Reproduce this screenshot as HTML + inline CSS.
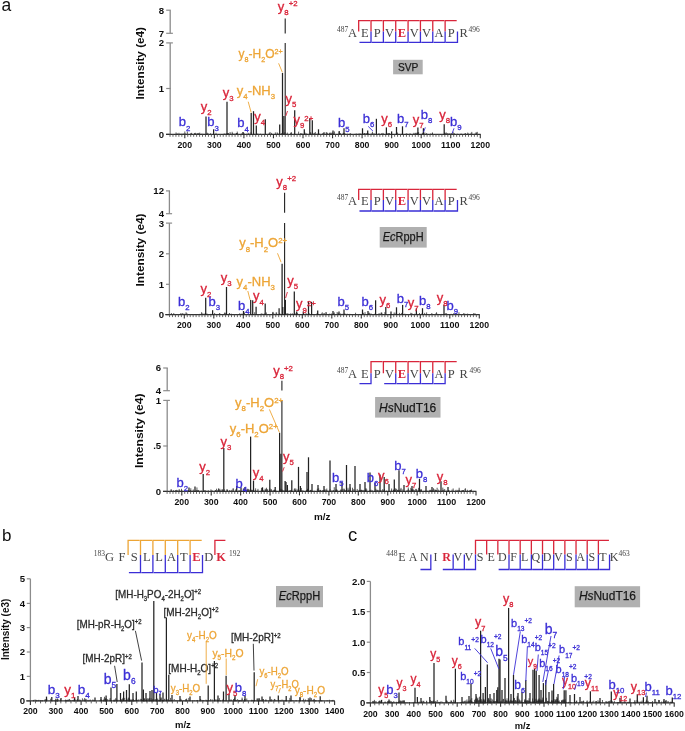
<!DOCTYPE html>
<html><head><meta charset="utf-8"><style>
html,body{margin:0;padding:0;background:#fff;}
svg{display:block;}
</style></head><body>
<svg width="685" height="731" viewBox="0 0 685 731">
<defs><filter id="bl" x="0" y="0" width="1" height="1"><feGaussianBlur stdDeviation="0.4"/></filter></defs>
<rect width="685" height="731" fill="#fff"/>
<g filter="url(#bl)">
<rect width="685" height="731" fill="#fff"/>
<text x="1.6" y="10.6" font-family='"Liberation Sans", sans-serif' font-size="17.5" fill="#111">a</text>
<text x="2" y="540.6" font-family='"Liberation Sans", sans-serif' font-size="17" fill="#111">b</text>
<text x="348" y="540.7" font-family='"Liberation Sans", sans-serif' font-size="18.5" fill="#111">c</text>
<line x1="170.2" y1="134.3" x2="170.2" y2="42.9" stroke="#8c8c8c" stroke-width="1.3"/>
<line x1="170.2" y1="33.3" x2="170.2" y2="10.2" stroke="#8c8c8c" stroke-width="1.3"/>
<line x1="166.2" y1="10.2" x2="170.8" y2="10.2" stroke="#8c8c8c" stroke-width="1.2"/>
<text x="164.2" y="13.6" font-family='"Liberation Sans", sans-serif' font-size="9.6" fill="#111" text-anchor="end" font-weight="bold">8</text>
<line x1="166.2" y1="33.3" x2="172.9" y2="33.3" stroke="#8c8c8c" stroke-width="1.2"/>
<text x="164.2" y="36.7" font-family='"Liberation Sans", sans-serif' font-size="9.6" fill="#111" text-anchor="end" font-weight="bold">7</text>
<line x1="166.2" y1="42.9" x2="172.9" y2="42.9" stroke="#8c8c8c" stroke-width="1.2"/>
<text x="164.2" y="46.3" font-family='"Liberation Sans", sans-serif' font-size="9.6" fill="#111" text-anchor="end" font-weight="bold">2</text>
<line x1="166.2" y1="88.5" x2="170.8" y2="88.5" stroke="#8c8c8c" stroke-width="1.2"/>
<text x="164.2" y="91.9" font-family='"Liberation Sans", sans-serif' font-size="9.6" fill="#111" text-anchor="end" font-weight="bold">1</text>
<line x1="166.2" y1="134.3" x2="170.8" y2="134.3" stroke="#8c8c8c" stroke-width="1.2"/>
<text x="164.2" y="137.7" font-family='"Liberation Sans", sans-serif' font-size="9.6" fill="#111" text-anchor="end" font-weight="bold">0</text>
<line x1="166" y1="134.3" x2="480.7" y2="134.3" stroke="#333333" stroke-width="1.3"/>
<line x1="170.03" y1="134.3" x2="170.03" y2="136.8" stroke="#555555" stroke-width="0.9"/>
<line x1="172.98" y1="134.3" x2="172.98" y2="136.8" stroke="#555555" stroke-width="0.9"/>
<line x1="175.94" y1="134.3" x2="175.94" y2="136.8" stroke="#555555" stroke-width="0.9"/>
<line x1="178.89" y1="134.3" x2="178.89" y2="136.8" stroke="#555555" stroke-width="0.9"/>
<line x1="181.84" y1="134.3" x2="181.84" y2="136.8" stroke="#555555" stroke-width="0.9"/>
<line x1="184.8" y1="134.3" x2="184.8" y2="138.3" stroke="#333333" stroke-width="1.1"/>
<line x1="187.76" y1="134.3" x2="187.76" y2="136.8" stroke="#555555" stroke-width="0.9"/>
<line x1="190.71" y1="134.3" x2="190.71" y2="136.8" stroke="#555555" stroke-width="0.9"/>
<line x1="193.67" y1="134.3" x2="193.67" y2="136.8" stroke="#555555" stroke-width="0.9"/>
<line x1="196.62" y1="134.3" x2="196.62" y2="136.8" stroke="#555555" stroke-width="0.9"/>
<line x1="199.58" y1="134.3" x2="199.58" y2="136.8" stroke="#555555" stroke-width="0.9"/>
<line x1="202.53" y1="134.3" x2="202.53" y2="136.8" stroke="#555555" stroke-width="0.9"/>
<line x1="205.49" y1="134.3" x2="205.49" y2="136.8" stroke="#555555" stroke-width="0.9"/>
<line x1="208.44" y1="134.3" x2="208.44" y2="136.8" stroke="#555555" stroke-width="0.9"/>
<line x1="211.4" y1="134.3" x2="211.4" y2="136.8" stroke="#555555" stroke-width="0.9"/>
<line x1="214.35" y1="134.3" x2="214.35" y2="138.3" stroke="#333333" stroke-width="1.1"/>
<line x1="217.31" y1="134.3" x2="217.31" y2="136.8" stroke="#555555" stroke-width="0.9"/>
<line x1="220.26" y1="134.3" x2="220.26" y2="136.8" stroke="#555555" stroke-width="0.9"/>
<line x1="223.22" y1="134.3" x2="223.22" y2="136.8" stroke="#555555" stroke-width="0.9"/>
<line x1="226.17" y1="134.3" x2="226.17" y2="136.8" stroke="#555555" stroke-width="0.9"/>
<line x1="229.12" y1="134.3" x2="229.12" y2="136.8" stroke="#555555" stroke-width="0.9"/>
<line x1="232.08" y1="134.3" x2="232.08" y2="136.8" stroke="#555555" stroke-width="0.9"/>
<line x1="235.04" y1="134.3" x2="235.04" y2="136.8" stroke="#555555" stroke-width="0.9"/>
<line x1="237.99" y1="134.3" x2="237.99" y2="136.8" stroke="#555555" stroke-width="0.9"/>
<line x1="240.94" y1="134.3" x2="240.94" y2="136.8" stroke="#555555" stroke-width="0.9"/>
<line x1="243.9" y1="134.3" x2="243.9" y2="138.3" stroke="#333333" stroke-width="1.1"/>
<line x1="246.86" y1="134.3" x2="246.86" y2="136.8" stroke="#555555" stroke-width="0.9"/>
<line x1="249.81" y1="134.3" x2="249.81" y2="136.8" stroke="#555555" stroke-width="0.9"/>
<line x1="252.77" y1="134.3" x2="252.77" y2="136.8" stroke="#555555" stroke-width="0.9"/>
<line x1="255.72" y1="134.3" x2="255.72" y2="136.8" stroke="#555555" stroke-width="0.9"/>
<line x1="258.68" y1="134.3" x2="258.68" y2="136.8" stroke="#555555" stroke-width="0.9"/>
<line x1="261.63" y1="134.3" x2="261.63" y2="136.8" stroke="#555555" stroke-width="0.9"/>
<line x1="264.59" y1="134.3" x2="264.59" y2="136.8" stroke="#555555" stroke-width="0.9"/>
<line x1="267.54" y1="134.3" x2="267.54" y2="136.8" stroke="#555555" stroke-width="0.9"/>
<line x1="270.5" y1="134.3" x2="270.5" y2="136.8" stroke="#555555" stroke-width="0.9"/>
<line x1="273.45" y1="134.3" x2="273.45" y2="138.3" stroke="#333333" stroke-width="1.1"/>
<line x1="276.4" y1="134.3" x2="276.4" y2="136.8" stroke="#555555" stroke-width="0.9"/>
<line x1="279.36" y1="134.3" x2="279.36" y2="136.8" stroke="#555555" stroke-width="0.9"/>
<line x1="282.31" y1="134.3" x2="282.31" y2="136.8" stroke="#555555" stroke-width="0.9"/>
<line x1="285.27" y1="134.3" x2="285.27" y2="136.8" stroke="#555555" stroke-width="0.9"/>
<line x1="288.23" y1="134.3" x2="288.23" y2="136.8" stroke="#555555" stroke-width="0.9"/>
<line x1="291.18" y1="134.3" x2="291.18" y2="136.8" stroke="#555555" stroke-width="0.9"/>
<line x1="294.13" y1="134.3" x2="294.13" y2="136.8" stroke="#555555" stroke-width="0.9"/>
<line x1="297.09" y1="134.3" x2="297.09" y2="136.8" stroke="#555555" stroke-width="0.9"/>
<line x1="300.05" y1="134.3" x2="300.05" y2="136.8" stroke="#555555" stroke-width="0.9"/>
<line x1="303" y1="134.3" x2="303" y2="138.3" stroke="#333333" stroke-width="1.1"/>
<line x1="305.95" y1="134.3" x2="305.95" y2="136.8" stroke="#555555" stroke-width="0.9"/>
<line x1="308.91" y1="134.3" x2="308.91" y2="136.8" stroke="#555555" stroke-width="0.9"/>
<line x1="311.87" y1="134.3" x2="311.87" y2="136.8" stroke="#555555" stroke-width="0.9"/>
<line x1="314.82" y1="134.3" x2="314.82" y2="136.8" stroke="#555555" stroke-width="0.9"/>
<line x1="317.77" y1="134.3" x2="317.77" y2="136.8" stroke="#555555" stroke-width="0.9"/>
<line x1="320.73" y1="134.3" x2="320.73" y2="136.8" stroke="#555555" stroke-width="0.9"/>
<line x1="323.69" y1="134.3" x2="323.69" y2="136.8" stroke="#555555" stroke-width="0.9"/>
<line x1="326.64" y1="134.3" x2="326.64" y2="136.8" stroke="#555555" stroke-width="0.9"/>
<line x1="329.6" y1="134.3" x2="329.6" y2="136.8" stroke="#555555" stroke-width="0.9"/>
<line x1="332.55" y1="134.3" x2="332.55" y2="138.3" stroke="#333333" stroke-width="1.1"/>
<line x1="335.5" y1="134.3" x2="335.5" y2="136.8" stroke="#555555" stroke-width="0.9"/>
<line x1="338.46" y1="134.3" x2="338.46" y2="136.8" stroke="#555555" stroke-width="0.9"/>
<line x1="341.41" y1="134.3" x2="341.41" y2="136.8" stroke="#555555" stroke-width="0.9"/>
<line x1="344.37" y1="134.3" x2="344.37" y2="136.8" stroke="#555555" stroke-width="0.9"/>
<line x1="347.33" y1="134.3" x2="347.33" y2="136.8" stroke="#555555" stroke-width="0.9"/>
<line x1="350.28" y1="134.3" x2="350.28" y2="136.8" stroke="#555555" stroke-width="0.9"/>
<line x1="353.24" y1="134.3" x2="353.24" y2="136.8" stroke="#555555" stroke-width="0.9"/>
<line x1="356.19" y1="134.3" x2="356.19" y2="136.8" stroke="#555555" stroke-width="0.9"/>
<line x1="359.14" y1="134.3" x2="359.14" y2="136.8" stroke="#555555" stroke-width="0.9"/>
<line x1="362.1" y1="134.3" x2="362.1" y2="138.3" stroke="#333333" stroke-width="1.1"/>
<line x1="365.06" y1="134.3" x2="365.06" y2="136.8" stroke="#555555" stroke-width="0.9"/>
<line x1="368.01" y1="134.3" x2="368.01" y2="136.8" stroke="#555555" stroke-width="0.9"/>
<line x1="370.97" y1="134.3" x2="370.97" y2="136.8" stroke="#555555" stroke-width="0.9"/>
<line x1="373.92" y1="134.3" x2="373.92" y2="136.8" stroke="#555555" stroke-width="0.9"/>
<line x1="376.88" y1="134.3" x2="376.88" y2="136.8" stroke="#555555" stroke-width="0.9"/>
<line x1="379.83" y1="134.3" x2="379.83" y2="136.8" stroke="#555555" stroke-width="0.9"/>
<line x1="382.78" y1="134.3" x2="382.78" y2="136.8" stroke="#555555" stroke-width="0.9"/>
<line x1="385.74" y1="134.3" x2="385.74" y2="136.8" stroke="#555555" stroke-width="0.9"/>
<line x1="388.69" y1="134.3" x2="388.69" y2="136.8" stroke="#555555" stroke-width="0.9"/>
<line x1="391.65" y1="134.3" x2="391.65" y2="138.3" stroke="#333333" stroke-width="1.1"/>
<line x1="394.61" y1="134.3" x2="394.61" y2="136.8" stroke="#555555" stroke-width="0.9"/>
<line x1="397.56" y1="134.3" x2="397.56" y2="136.8" stroke="#555555" stroke-width="0.9"/>
<line x1="400.51" y1="134.3" x2="400.51" y2="136.8" stroke="#555555" stroke-width="0.9"/>
<line x1="403.47" y1="134.3" x2="403.47" y2="136.8" stroke="#555555" stroke-width="0.9"/>
<line x1="406.43" y1="134.3" x2="406.43" y2="136.8" stroke="#555555" stroke-width="0.9"/>
<line x1="409.38" y1="134.3" x2="409.38" y2="136.8" stroke="#555555" stroke-width="0.9"/>
<line x1="412.34" y1="134.3" x2="412.34" y2="136.8" stroke="#555555" stroke-width="0.9"/>
<line x1="415.29" y1="134.3" x2="415.29" y2="136.8" stroke="#555555" stroke-width="0.9"/>
<line x1="418.25" y1="134.3" x2="418.25" y2="136.8" stroke="#555555" stroke-width="0.9"/>
<line x1="421.2" y1="134.3" x2="421.2" y2="138.3" stroke="#333333" stroke-width="1.1"/>
<line x1="424.15" y1="134.3" x2="424.15" y2="136.8" stroke="#555555" stroke-width="0.9"/>
<line x1="427.11" y1="134.3" x2="427.11" y2="136.8" stroke="#555555" stroke-width="0.9"/>
<line x1="430.06" y1="134.3" x2="430.06" y2="136.8" stroke="#555555" stroke-width="0.9"/>
<line x1="433.02" y1="134.3" x2="433.02" y2="136.8" stroke="#555555" stroke-width="0.9"/>
<line x1="435.98" y1="134.3" x2="435.98" y2="136.8" stroke="#555555" stroke-width="0.9"/>
<line x1="438.93" y1="134.3" x2="438.93" y2="136.8" stroke="#555555" stroke-width="0.9"/>
<line x1="441.88" y1="134.3" x2="441.88" y2="136.8" stroke="#555555" stroke-width="0.9"/>
<line x1="444.84" y1="134.3" x2="444.84" y2="136.8" stroke="#555555" stroke-width="0.9"/>
<line x1="447.8" y1="134.3" x2="447.8" y2="136.8" stroke="#555555" stroke-width="0.9"/>
<line x1="450.75" y1="134.3" x2="450.75" y2="138.3" stroke="#333333" stroke-width="1.1"/>
<line x1="453.7" y1="134.3" x2="453.7" y2="136.8" stroke="#555555" stroke-width="0.9"/>
<line x1="456.66" y1="134.3" x2="456.66" y2="136.8" stroke="#555555" stroke-width="0.9"/>
<line x1="459.62" y1="134.3" x2="459.62" y2="136.8" stroke="#555555" stroke-width="0.9"/>
<line x1="462.57" y1="134.3" x2="462.57" y2="136.8" stroke="#555555" stroke-width="0.9"/>
<line x1="465.52" y1="134.3" x2="465.52" y2="136.8" stroke="#555555" stroke-width="0.9"/>
<line x1="468.48" y1="134.3" x2="468.48" y2="136.8" stroke="#555555" stroke-width="0.9"/>
<line x1="471.44" y1="134.3" x2="471.44" y2="136.8" stroke="#555555" stroke-width="0.9"/>
<line x1="474.39" y1="134.3" x2="474.39" y2="136.8" stroke="#555555" stroke-width="0.9"/>
<line x1="477.34" y1="134.3" x2="477.34" y2="136.8" stroke="#555555" stroke-width="0.9"/>
<line x1="480.3" y1="134.3" x2="480.3" y2="138.3" stroke="#333333" stroke-width="1.1"/>
<text x="184.8" y="147.9" font-family='"Liberation Sans", sans-serif' font-size="9.3" fill="#111" text-anchor="middle" font-weight="bold" textLength="14.55" lengthAdjust="spacingAndGlyphs">200</text>
<text x="214.35" y="147.9" font-family='"Liberation Sans", sans-serif' font-size="9.3" fill="#111" text-anchor="middle" font-weight="bold" textLength="14.55" lengthAdjust="spacingAndGlyphs">300</text>
<text x="243.9" y="147.9" font-family='"Liberation Sans", sans-serif' font-size="9.3" fill="#111" text-anchor="middle" font-weight="bold" textLength="14.55" lengthAdjust="spacingAndGlyphs">400</text>
<text x="273.45" y="147.9" font-family='"Liberation Sans", sans-serif' font-size="9.3" fill="#111" text-anchor="middle" font-weight="bold" textLength="14.55" lengthAdjust="spacingAndGlyphs">500</text>
<text x="303" y="147.9" font-family='"Liberation Sans", sans-serif' font-size="9.3" fill="#111" text-anchor="middle" font-weight="bold" textLength="14.55" lengthAdjust="spacingAndGlyphs">600</text>
<text x="332.55" y="147.9" font-family='"Liberation Sans", sans-serif' font-size="9.3" fill="#111" text-anchor="middle" font-weight="bold" textLength="14.55" lengthAdjust="spacingAndGlyphs">700</text>
<text x="362.1" y="147.9" font-family='"Liberation Sans", sans-serif' font-size="9.3" fill="#111" text-anchor="middle" font-weight="bold" textLength="14.55" lengthAdjust="spacingAndGlyphs">800</text>
<text x="391.65" y="147.9" font-family='"Liberation Sans", sans-serif' font-size="9.3" fill="#111" text-anchor="middle" font-weight="bold" textLength="14.55" lengthAdjust="spacingAndGlyphs">900</text>
<text x="421.2" y="147.9" font-family='"Liberation Sans", sans-serif' font-size="9.3" fill="#111" text-anchor="middle" font-weight="bold" textLength="19.4" lengthAdjust="spacingAndGlyphs">1000</text>
<text x="450.75" y="147.9" font-family='"Liberation Sans", sans-serif' font-size="9.3" fill="#111" text-anchor="middle" font-weight="bold" textLength="19.4" lengthAdjust="spacingAndGlyphs">1100</text>
<text x="480.3" y="147.9" font-family='"Liberation Sans", sans-serif' font-size="9.3" fill="#111" text-anchor="middle" font-weight="bold" textLength="19.4" lengthAdjust="spacingAndGlyphs">1200</text>
<text x="0" y="0" transform="translate(143.6,63.2) rotate(-90)" font-family='"Liberation Sans", sans-serif' font-size="11.5" font-weight="bold" fill="#111" text-anchor="middle" textLength="72.4" lengthAdjust="spacingAndGlyphs">Intensity (e4)</text>
<line x1="310.43" y1="134.6" x2="310.43" y2="132.53" stroke="#333" stroke-width="0.8"/>
<line x1="314.49" y1="134.6" x2="314.49" y2="133.28" stroke="#333" stroke-width="0.8"/>
<line x1="228.51" y1="134.6" x2="228.51" y2="133.2" stroke="#333" stroke-width="0.8"/>
<line x1="414.65" y1="134.6" x2="414.65" y2="134.02" stroke="#333" stroke-width="0.8"/>
<line x1="199.75" y1="134.6" x2="199.75" y2="132.62" stroke="#333" stroke-width="0.8"/>
<line x1="184.82" y1="134.6" x2="184.82" y2="131.47" stroke="#333" stroke-width="0.8"/>
<line x1="372.1" y1="134.6" x2="372.1" y2="133.78" stroke="#333" stroke-width="0.8"/>
<line x1="176.59" y1="134.6" x2="176.59" y2="133.9" stroke="#333" stroke-width="0.8"/>
<line x1="230.2" y1="134.6" x2="230.2" y2="134.06" stroke="#333" stroke-width="0.8"/>
<line x1="313.96" y1="134.6" x2="313.96" y2="132.94" stroke="#333" stroke-width="0.8"/>
<line x1="330.85" y1="134.6" x2="330.85" y2="133.27" stroke="#333" stroke-width="0.8"/>
<line x1="374.71" y1="134.6" x2="374.71" y2="133.76" stroke="#333" stroke-width="0.8"/>
<line x1="477.28" y1="134.6" x2="477.28" y2="131.86" stroke="#333" stroke-width="0.8"/>
<line x1="388.59" y1="134.6" x2="388.59" y2="133.91" stroke="#333" stroke-width="0.8"/>
<line x1="260.45" y1="134.6" x2="260.45" y2="133.73" stroke="#333" stroke-width="0.8"/>
<line x1="294.52" y1="134.6" x2="294.52" y2="133.27" stroke="#333" stroke-width="0.8"/>
<line x1="465.16" y1="134.6" x2="465.16" y2="133.77" stroke="#333" stroke-width="0.8"/>
<line x1="236.17" y1="134.6" x2="236.17" y2="133.03" stroke="#333" stroke-width="0.8"/>
<line x1="471.99" y1="134.6" x2="471.99" y2="133.96" stroke="#333" stroke-width="0.8"/>
<line x1="364.61" y1="134.6" x2="364.61" y2="133.53" stroke="#333" stroke-width="0.8"/>
<line x1="198.67" y1="134.6" x2="198.67" y2="132.96" stroke="#333" stroke-width="0.8"/>
<line x1="403.96" y1="134.6" x2="403.96" y2="134.04" stroke="#333" stroke-width="0.8"/>
<line x1="202.92" y1="134.6" x2="202.92" y2="133.73" stroke="#333" stroke-width="0.8"/>
<line x1="226.37" y1="134.6" x2="226.37" y2="133.45" stroke="#333" stroke-width="0.8"/>
<line x1="230.35" y1="134.6" x2="230.35" y2="133.74" stroke="#333" stroke-width="0.8"/>
<line x1="368.98" y1="134.6" x2="368.98" y2="133.93" stroke="#333" stroke-width="0.8"/>
<line x1="237.14" y1="134.6" x2="237.14" y2="133.1" stroke="#333" stroke-width="0.8"/>
<line x1="417.84" y1="134.6" x2="417.84" y2="133.15" stroke="#333" stroke-width="0.8"/>
<line x1="236.48" y1="134.6" x2="236.48" y2="133.01" stroke="#333" stroke-width="0.8"/>
<line x1="368.4" y1="134.6" x2="368.4" y2="133.47" stroke="#333" stroke-width="0.8"/>
<line x1="237.25" y1="134.6" x2="237.25" y2="133.39" stroke="#333" stroke-width="0.8"/>
<line x1="272.66" y1="134.6" x2="272.66" y2="134.02" stroke="#333" stroke-width="0.8"/>
<line x1="199.58" y1="134.6" x2="199.58" y2="133.71" stroke="#333" stroke-width="0.8"/>
<line x1="355.99" y1="134.6" x2="355.99" y2="133.64" stroke="#333" stroke-width="0.8"/>
<line x1="465.5" y1="134.6" x2="465.5" y2="133.33" stroke="#333" stroke-width="0.8"/>
<line x1="437.16" y1="134.6" x2="437.16" y2="134.04" stroke="#333" stroke-width="0.8"/>
<line x1="449.98" y1="134.6" x2="449.98" y2="133.53" stroke="#333" stroke-width="0.8"/>
<line x1="230.08" y1="134.6" x2="230.08" y2="132.09" stroke="#333" stroke-width="0.8"/>
<line x1="232.16" y1="134.6" x2="232.16" y2="131.81" stroke="#333" stroke-width="0.8"/>
<line x1="356.68" y1="134.6" x2="356.68" y2="133.93" stroke="#333" stroke-width="0.8"/>
<line x1="183.84" y1="134.6" x2="183.84" y2="133.45" stroke="#333" stroke-width="0.8"/>
<line x1="387.6" y1="134.6" x2="387.6" y2="133.33" stroke="#333" stroke-width="0.8"/>
<line x1="354.52" y1="134.6" x2="354.52" y2="133.96" stroke="#333" stroke-width="0.8"/>
<line x1="392.43" y1="134.6" x2="392.43" y2="134.08" stroke="#333" stroke-width="0.8"/>
<line x1="343.17" y1="134.6" x2="343.17" y2="132.75" stroke="#333" stroke-width="0.8"/>
<line x1="257.75" y1="134.6" x2="257.75" y2="133.53" stroke="#333" stroke-width="0.8"/>
<line x1="177.07" y1="134.6" x2="177.07" y2="133.75" stroke="#333" stroke-width="0.8"/>
<line x1="190.5" y1="134.6" x2="190.5" y2="133.91" stroke="#333" stroke-width="0.8"/>
<line x1="347.08" y1="134.6" x2="347.08" y2="133.96" stroke="#333" stroke-width="0.8"/>
<line x1="444.63" y1="134.6" x2="444.63" y2="132.45" stroke="#333" stroke-width="0.8"/>
<line x1="383.51" y1="134.6" x2="383.51" y2="133.82" stroke="#333" stroke-width="0.8"/>
<line x1="182.73" y1="134.6" x2="182.73" y2="133.72" stroke="#333" stroke-width="0.8"/>
<line x1="386.5" y1="134.6" x2="386.5" y2="133.71" stroke="#333" stroke-width="0.8"/>
<line x1="366.67" y1="134.6" x2="366.67" y2="133.07" stroke="#333" stroke-width="0.8"/>
<line x1="269.58" y1="134.6" x2="269.58" y2="133.65" stroke="#333" stroke-width="0.8"/>
<line x1="339.11" y1="134.6" x2="339.11" y2="132.21" stroke="#333" stroke-width="0.8"/>
<line x1="397.55" y1="134.6" x2="397.55" y2="132.55" stroke="#333" stroke-width="0.8"/>
<line x1="451.99" y1="134.6" x2="451.99" y2="133.36" stroke="#333" stroke-width="0.8"/>
<line x1="447.66" y1="134.6" x2="447.66" y2="133.18" stroke="#333" stroke-width="0.8"/>
<line x1="413.9" y1="134.6" x2="413.9" y2="132.84" stroke="#333" stroke-width="0.8"/>
<line x1="363.24" y1="134.6" x2="363.24" y2="133.46" stroke="#333" stroke-width="0.8"/>
<line x1="358.31" y1="134.6" x2="358.31" y2="133.82" stroke="#333" stroke-width="0.8"/>
<line x1="475.96" y1="134.6" x2="475.96" y2="132.41" stroke="#333" stroke-width="0.8"/>
<line x1="290.86" y1="134.6" x2="290.86" y2="132.99" stroke="#333" stroke-width="0.8"/>
<line x1="306.8" y1="134.6" x2="306.8" y2="133.73" stroke="#333" stroke-width="0.8"/>
<line x1="401.56" y1="134.6" x2="401.56" y2="133.92" stroke="#333" stroke-width="0.8"/>
<line x1="319.17" y1="134.6" x2="319.17" y2="133.53" stroke="#333" stroke-width="0.8"/>
<line x1="324.16" y1="134.6" x2="324.16" y2="132.42" stroke="#333" stroke-width="0.8"/>
<line x1="250.28" y1="134.6" x2="250.28" y2="134.09" stroke="#333" stroke-width="0.8"/>
<line x1="379.51" y1="134.6" x2="379.51" y2="134.02" stroke="#333" stroke-width="0.8"/>
<line x1="449.15" y1="134.6" x2="449.15" y2="133.35" stroke="#333" stroke-width="0.8"/>
<line x1="444.87" y1="134.6" x2="444.87" y2="133.42" stroke="#333" stroke-width="0.8"/>
<line x1="232.74" y1="134.6" x2="232.74" y2="133.03" stroke="#333" stroke-width="0.8"/>
<line x1="451.75" y1="134.6" x2="451.75" y2="133.24" stroke="#333" stroke-width="0.8"/>
<line x1="350.43" y1="134.6" x2="350.43" y2="133.97" stroke="#333" stroke-width="0.8"/>
<line x1="323.92" y1="134.6" x2="323.92" y2="132.15" stroke="#333" stroke-width="0.8"/>
<line x1="389.63" y1="134.6" x2="389.63" y2="133.39" stroke="#333" stroke-width="0.8"/>
<line x1="223.75" y1="134.6" x2="223.75" y2="133.77" stroke="#333" stroke-width="0.8"/>
<line x1="237.51" y1="134.6" x2="237.51" y2="133.35" stroke="#333" stroke-width="0.8"/>
<line x1="323.13" y1="134.6" x2="323.13" y2="133.19" stroke="#333" stroke-width="0.8"/>
<line x1="472.5" y1="134.6" x2="472.5" y2="133.94" stroke="#333" stroke-width="0.8"/>
<line x1="181.63" y1="134.6" x2="181.63" y2="133.74" stroke="#333" stroke-width="0.8"/>
<line x1="388.84" y1="134.6" x2="388.84" y2="133.64" stroke="#333" stroke-width="0.8"/>
<line x1="414.2" y1="134.6" x2="414.2" y2="134.14" stroke="#333" stroke-width="0.8"/>
<line x1="311.18" y1="134.6" x2="311.18" y2="133.77" stroke="#333" stroke-width="0.8"/>
<line x1="244.65" y1="134.6" x2="244.65" y2="134.1" stroke="#333" stroke-width="0.8"/>
<line x1="364.53" y1="134.6" x2="364.53" y2="133.3" stroke="#333" stroke-width="0.8"/>
<line x1="372.44" y1="134.6" x2="372.44" y2="131.89" stroke="#333" stroke-width="0.8"/>
<line x1="381.45" y1="134.6" x2="381.45" y2="133.8" stroke="#333" stroke-width="0.8"/>
<line x1="226.68" y1="134.6" x2="226.68" y2="134.01" stroke="#333" stroke-width="0.8"/>
<line x1="390.54" y1="134.6" x2="390.54" y2="133.98" stroke="#333" stroke-width="0.8"/>
<line x1="277.8" y1="134.6" x2="277.8" y2="133.16" stroke="#333" stroke-width="0.8"/>
<line x1="360.02" y1="134.6" x2="360.02" y2="133.34" stroke="#333" stroke-width="0.8"/>
<line x1="414.33" y1="134.6" x2="414.33" y2="133.69" stroke="#333" stroke-width="0.8"/>
<line x1="457.38" y1="134.6" x2="457.38" y2="133.75" stroke="#333" stroke-width="0.8"/>
<line x1="310.78" y1="134.6" x2="310.78" y2="132.42" stroke="#333" stroke-width="0.8"/>
<line x1="287.3" y1="134.6" x2="287.3" y2="132.61" stroke="#333" stroke-width="0.8"/>
<line x1="415.81" y1="134.6" x2="415.81" y2="133" stroke="#333" stroke-width="0.8"/>
<line x1="371.3" y1="134.6" x2="371.3" y2="133.55" stroke="#333" stroke-width="0.8"/>
<line x1="422.41" y1="134.6" x2="422.41" y2="132.83" stroke="#333" stroke-width="0.8"/>
<line x1="237.27" y1="134.6" x2="237.27" y2="131.6" stroke="#333" stroke-width="0.8"/>
<line x1="471.07" y1="134.6" x2="471.07" y2="132.86" stroke="#333" stroke-width="0.8"/>
<line x1="270.04" y1="134.6" x2="270.04" y2="131.98" stroke="#333" stroke-width="0.8"/>
<line x1="278.64" y1="134.6" x2="278.64" y2="133.95" stroke="#333" stroke-width="0.8"/>
<line x1="340.39" y1="134.6" x2="340.39" y2="133.15" stroke="#333" stroke-width="0.8"/>
<line x1="180.69" y1="134.6" x2="180.69" y2="133.76" stroke="#333" stroke-width="0.8"/>
<line x1="416.76" y1="134.6" x2="416.76" y2="133.94" stroke="#333" stroke-width="0.8"/>
<line x1="413.1" y1="134.6" x2="413.1" y2="134.07" stroke="#333" stroke-width="0.8"/>
<line x1="330.06" y1="134.6" x2="330.06" y2="132.39" stroke="#333" stroke-width="0.8"/>
<line x1="382.95" y1="134.6" x2="382.95" y2="132.93" stroke="#333" stroke-width="0.8"/>
<line x1="462.44" y1="134.6" x2="462.44" y2="134.07" stroke="#333" stroke-width="0.8"/>
<line x1="333.16" y1="134.6" x2="333.16" y2="133.4" stroke="#333" stroke-width="0.8"/>
<line x1="367.49" y1="134.6" x2="367.49" y2="132.78" stroke="#333" stroke-width="0.8"/>
<line x1="343.35" y1="134.6" x2="343.35" y2="133.78" stroke="#333" stroke-width="0.8"/>
<line x1="430.65" y1="134.6" x2="430.65" y2="133.54" stroke="#333" stroke-width="0.8"/>
<line x1="432.34" y1="134.6" x2="432.34" y2="132.83" stroke="#333" stroke-width="0.8"/>
<line x1="347.33" y1="134.6" x2="347.33" y2="133.74" stroke="#333" stroke-width="0.8"/>
<line x1="325.97" y1="134.6" x2="325.97" y2="133.88" stroke="#333" stroke-width="0.8"/>
<line x1="468.64" y1="134.6" x2="468.64" y2="133.56" stroke="#333" stroke-width="0.8"/>
<line x1="417.13" y1="134.6" x2="417.13" y2="133.37" stroke="#333" stroke-width="0.8"/>
<line x1="383.44" y1="134.6" x2="383.44" y2="133.91" stroke="#333" stroke-width="0.8"/>
<line x1="298.61" y1="134.6" x2="298.61" y2="131.66" stroke="#333" stroke-width="0.8"/>
<line x1="254.38" y1="134.6" x2="254.38" y2="133.89" stroke="#333" stroke-width="0.8"/>
<line x1="304.71" y1="134.6" x2="304.71" y2="132.04" stroke="#333" stroke-width="0.8"/>
<line x1="317.82" y1="134.6" x2="317.82" y2="133.94" stroke="#333" stroke-width="0.8"/>
<line x1="361.08" y1="134.6" x2="361.08" y2="133.63" stroke="#333" stroke-width="0.8"/>
<line x1="410.46" y1="134.6" x2="410.46" y2="134.12" stroke="#333" stroke-width="0.8"/>
<line x1="241.54" y1="134.6" x2="241.54" y2="133.52" stroke="#333" stroke-width="0.8"/>
<line x1="280.74" y1="134.6" x2="280.74" y2="133.83" stroke="#333" stroke-width="0.8"/>
<line x1="395.65" y1="134.6" x2="395.65" y2="133.86" stroke="#333" stroke-width="0.8"/>
<line x1="248.67" y1="134.6" x2="248.67" y2="133.75" stroke="#333" stroke-width="0.8"/>
<line x1="305.65" y1="134.6" x2="305.65" y2="133.68" stroke="#333" stroke-width="0.8"/>
<line x1="333.98" y1="134.6" x2="333.98" y2="134.03" stroke="#333" stroke-width="0.8"/>
<line x1="365.18" y1="134.6" x2="365.18" y2="133.22" stroke="#333" stroke-width="0.8"/>
<line x1="432.49" y1="134.6" x2="432.49" y2="132.57" stroke="#333" stroke-width="0.8"/>
<line x1="243.19" y1="134.6" x2="243.19" y2="132.44" stroke="#333" stroke-width="0.8"/>
<line x1="448.22" y1="134.6" x2="448.22" y2="133.84" stroke="#333" stroke-width="0.8"/>
<line x1="454.37" y1="134.6" x2="454.37" y2="133.18" stroke="#333" stroke-width="0.8"/>
<line x1="443.59" y1="134.6" x2="443.59" y2="134.03" stroke="#333" stroke-width="0.8"/>
<line x1="394.33" y1="134.6" x2="394.33" y2="134.03" stroke="#333" stroke-width="0.8"/>
<line x1="426.64" y1="134.6" x2="426.64" y2="133.07" stroke="#333" stroke-width="0.8"/>
<line x1="210.56" y1="134.6" x2="210.56" y2="133.28" stroke="#333" stroke-width="0.8"/>
<line x1="177.43" y1="134.6" x2="177.43" y2="133.6" stroke="#333" stroke-width="0.8"/>
<line x1="450.88" y1="134.6" x2="450.88" y2="133.62" stroke="#333" stroke-width="0.8"/>
<line x1="326.74" y1="134.6" x2="326.74" y2="133.13" stroke="#333" stroke-width="0.8"/>
<line x1="381.82" y1="134.6" x2="381.82" y2="134.07" stroke="#333" stroke-width="0.8"/>
<line x1="204.49" y1="134.6" x2="204.49" y2="133.94" stroke="#333" stroke-width="0.8"/>
<line x1="329.54" y1="134.6" x2="329.54" y2="133.82" stroke="#333" stroke-width="0.8"/>
<line x1="228.47" y1="134.6" x2="228.47" y2="133.41" stroke="#333" stroke-width="0.8"/>
<line x1="475.03" y1="134.6" x2="475.03" y2="133.67" stroke="#333" stroke-width="0.8"/>
<line x1="190.96" y1="134.6" x2="190.96" y2="133" stroke="#333" stroke-width="0.8"/>
<line x1="406" y1="134.6" x2="406" y2="133.67" stroke="#333" stroke-width="0.8"/>
<line x1="329.68" y1="134.6" x2="329.68" y2="133.37" stroke="#333" stroke-width="0.8"/>
<line x1="176.05" y1="134.6" x2="176.05" y2="132.43" stroke="#333" stroke-width="0.8"/>
<line x1="227.47" y1="134.6" x2="227.47" y2="133.1" stroke="#333" stroke-width="0.8"/>
<line x1="296.02" y1="134.6" x2="296.02" y2="134.03" stroke="#333" stroke-width="0.8"/>
<line x1="328.84" y1="134.6" x2="328.84" y2="133.74" stroke="#333" stroke-width="0.8"/>
<line x1="417.32" y1="134.6" x2="417.32" y2="132.38" stroke="#333" stroke-width="0.8"/>
<line x1="364.59" y1="134.6" x2="364.59" y2="133.4" stroke="#333" stroke-width="0.8"/>
<line x1="326.31" y1="134.6" x2="326.31" y2="132" stroke="#333" stroke-width="0.8"/>
<line x1="251.03" y1="134.6" x2="251.03" y2="132.31" stroke="#333" stroke-width="0.8"/>
<line x1="410.06" y1="134.6" x2="410.06" y2="133.26" stroke="#333" stroke-width="0.8"/>
<line x1="446.34" y1="134.6" x2="446.34" y2="132.5" stroke="#333" stroke-width="0.8"/>
<line x1="406.78" y1="134.6" x2="406.78" y2="133.31" stroke="#333" stroke-width="0.8"/>
<line x1="393.13" y1="134.6" x2="393.13" y2="134.02" stroke="#333" stroke-width="0.8"/>
<line x1="315.47" y1="134.6" x2="315.47" y2="134.07" stroke="#333" stroke-width="0.8"/>
<line x1="367.45" y1="134.6" x2="367.45" y2="133.69" stroke="#333" stroke-width="0.8"/>
<line x1="461.07" y1="134.6" x2="461.07" y2="133.51" stroke="#333" stroke-width="0.8"/>
<line x1="373.89" y1="134.6" x2="373.89" y2="133.29" stroke="#333" stroke-width="0.8"/>
<line x1="291.22" y1="134.6" x2="291.22" y2="132.46" stroke="#333" stroke-width="0.8"/>
<line x1="386.58" y1="134.6" x2="386.58" y2="131.93" stroke="#333" stroke-width="0.8"/>
<line x1="178.98" y1="134.6" x2="178.98" y2="132.83" stroke="#333" stroke-width="0.8"/>
<line x1="250.53" y1="134.6" x2="250.53" y2="133.97" stroke="#333" stroke-width="0.8"/>
<line x1="231.81" y1="134.6" x2="231.81" y2="133.96" stroke="#333" stroke-width="0.8"/>
<line x1="248.77" y1="134.6" x2="248.77" y2="132.84" stroke="#333" stroke-width="0.8"/>
<line x1="327.39" y1="134.6" x2="327.39" y2="132.72" stroke="#333" stroke-width="0.8"/>
<line x1="476.5" y1="134.6" x2="476.5" y2="132.63" stroke="#333" stroke-width="0.8"/>
<line x1="195.32" y1="134.6" x2="195.32" y2="132.82" stroke="#333" stroke-width="0.8"/>
<line x1="185.8" y1="134.6" x2="185.8" y2="133.59" stroke="#333" stroke-width="0.8"/>
<line x1="316.36" y1="134.6" x2="316.36" y2="133.82" stroke="#333" stroke-width="0.8"/>
<line x1="359.02" y1="134.6" x2="359.02" y2="133.61" stroke="#333" stroke-width="0.8"/>
<line x1="300.74" y1="134.6" x2="300.74" y2="133.24" stroke="#333" stroke-width="0.8"/>
<line x1="283.87" y1="134.6" x2="283.87" y2="133.5" stroke="#333" stroke-width="0.8"/>
<line x1="343.56" y1="134.6" x2="343.56" y2="133.42" stroke="#333" stroke-width="0.8"/>
<line x1="262.59" y1="134.6" x2="262.59" y2="134.11" stroke="#333" stroke-width="0.8"/>
<line x1="185.09" y1="134.6" x2="185.09" y2="133.59" stroke="#333" stroke-width="0.8"/>
<line x1="291.33" y1="134.6" x2="291.33" y2="132.32" stroke="#333" stroke-width="0.8"/>
<line x1="187.35" y1="134.6" x2="187.35" y2="131.52" stroke="#333" stroke-width="0.8"/>
<line x1="194.49" y1="134.6" x2="194.49" y2="133.12" stroke="#333" stroke-width="0.8"/>
<line x1="318.15" y1="134.6" x2="318.15" y2="133.43" stroke="#333" stroke-width="0.8"/>
<line x1="332.15" y1="134.6" x2="332.15" y2="132.33" stroke="#333" stroke-width="0.8"/>
<line x1="315.32" y1="134.6" x2="315.32" y2="131.97" stroke="#333" stroke-width="0.8"/>
<line x1="356.71" y1="134.6" x2="356.71" y2="133.78" stroke="#333" stroke-width="0.8"/>
<line x1="311.44" y1="134.6" x2="311.44" y2="134.07" stroke="#333" stroke-width="0.8"/>
<line x1="333.6" y1="134.6" x2="333.6" y2="133.91" stroke="#333" stroke-width="0.8"/>
<line x1="376.37" y1="134.6" x2="376.37" y2="133.78" stroke="#333" stroke-width="0.8"/>
<line x1="350.16" y1="134.6" x2="350.16" y2="133.1" stroke="#333" stroke-width="0.8"/>
<line x1="334.41" y1="134.6" x2="334.41" y2="131.47" stroke="#333" stroke-width="0.8"/>
<line x1="396.69" y1="134.6" x2="396.69" y2="134.03" stroke="#333" stroke-width="0.8"/>
<line x1="445.17" y1="134.6" x2="445.17" y2="132.82" stroke="#333" stroke-width="0.8"/>
<line x1="281.91" y1="134.6" x2="281.91" y2="133.48" stroke="#333" stroke-width="0.8"/>
<line x1="344.86" y1="134.6" x2="344.86" y2="133.08" stroke="#333" stroke-width="0.8"/>
<line x1="402.52" y1="134.6" x2="402.52" y2="133.98" stroke="#333" stroke-width="0.8"/>
<line x1="471.79" y1="134.6" x2="471.79" y2="131.9" stroke="#333" stroke-width="0.8"/>
<line x1="184.09" y1="134.6" x2="184.09" y2="134.07" stroke="#333" stroke-width="0.8"/>
<line x1="302.11" y1="134.6" x2="302.11" y2="133.83" stroke="#333" stroke-width="0.8"/>
<line x1="337.74" y1="134.6" x2="337.74" y2="134.13" stroke="#333" stroke-width="0.8"/>
<line x1="378.94" y1="134.6" x2="378.94" y2="133.14" stroke="#333" stroke-width="0.8"/>
<line x1="286.19" y1="134.6" x2="286.19" y2="133.82" stroke="#333" stroke-width="0.8"/>
<line x1="277.17" y1="134.6" x2="277.17" y2="132.36" stroke="#333" stroke-width="0.8"/>
<line x1="194.75" y1="134.6" x2="194.75" y2="133.61" stroke="#333" stroke-width="0.8"/>
<line x1="362.86" y1="134.6" x2="362.86" y2="133.62" stroke="#333" stroke-width="0.8"/>
<line x1="301.85" y1="134.6" x2="301.85" y2="133.35" stroke="#333" stroke-width="0.8"/>
<line x1="284.9" y1="134.6" x2="284.9" y2="132.16" stroke="#333" stroke-width="0.8"/>
<line x1="271.57" y1="134.6" x2="271.57" y2="132.93" stroke="#333" stroke-width="0.8"/>
<line x1="453.77" y1="134.6" x2="453.77" y2="133.68" stroke="#333" stroke-width="0.8"/>
<line x1="201.69" y1="134.6" x2="201.69" y2="133.71" stroke="#333" stroke-width="0.8"/>
<line x1="197.4" y1="134.6" x2="197.4" y2="133.38" stroke="#333" stroke-width="0.8"/>
<line x1="381.71" y1="134.6" x2="381.71" y2="133.32" stroke="#333" stroke-width="0.8"/>
<line x1="195.28" y1="134.6" x2="195.28" y2="133.6" stroke="#333" stroke-width="0.8"/>
<line x1="197" y1="134.6" x2="197" y2="133.38" stroke="#333" stroke-width="0.8"/>
<line x1="384.36" y1="134.6" x2="384.36" y2="133.99" stroke="#333" stroke-width="0.8"/>
<line x1="281.49" y1="134.6" x2="281.49" y2="133.42" stroke="#333" stroke-width="0.8"/>
<line x1="207.92" y1="134.6" x2="207.92" y2="133.05" stroke="#333" stroke-width="0.8"/>
<line x1="453.08" y1="134.6" x2="453.08" y2="131.73" stroke="#333" stroke-width="0.8"/>
<line x1="306.03" y1="134.6" x2="306.03" y2="133.45" stroke="#333" stroke-width="0.8"/>
<line x1="269.19" y1="134.6" x2="269.19" y2="132.86" stroke="#333" stroke-width="0.8"/>
<line x1="445.79" y1="134.6" x2="445.79" y2="133.85" stroke="#333" stroke-width="0.8"/>
<line x1="283.86" y1="134.6" x2="283.86" y2="133.71" stroke="#333" stroke-width="0.8"/>
<line x1="290.6" y1="134.6" x2="290.6" y2="133.72" stroke="#333" stroke-width="0.8"/>
<line x1="415.91" y1="134.6" x2="415.91" y2="132.76" stroke="#333" stroke-width="0.8"/>
<line x1="344.21" y1="134.6" x2="344.21" y2="133.55" stroke="#333" stroke-width="0.8"/>
<line x1="441.55" y1="134.6" x2="441.55" y2="134.04" stroke="#333" stroke-width="0.8"/>
<line x1="329.79" y1="134.6" x2="329.79" y2="133.27" stroke="#333" stroke-width="0.8"/>
<line x1="467.72" y1="134.6" x2="467.72" y2="132.62" stroke="#333" stroke-width="0.8"/>
<line x1="191.6" y1="134.6" x2="191.6" y2="132.85" stroke="#333" stroke-width="0.8"/>
<line x1="197.72" y1="134.6" x2="197.72" y2="133.74" stroke="#333" stroke-width="0.8"/>
<line x1="447.12" y1="134.6" x2="447.12" y2="133.81" stroke="#333" stroke-width="0.8"/>
<line x1="216.03" y1="134.6" x2="216.03" y2="132.82" stroke="#333" stroke-width="0.8"/>
<line x1="247.11" y1="134.6" x2="247.11" y2="133.47" stroke="#333" stroke-width="0.8"/>
<line x1="331.6" y1="134.6" x2="331.6" y2="133.33" stroke="#333" stroke-width="0.8"/>
<line x1="275.37" y1="134.6" x2="275.37" y2="132.43" stroke="#333" stroke-width="0.8"/>
<line x1="323.06" y1="134.6" x2="323.06" y2="133" stroke="#333" stroke-width="0.8"/>
<line x1="388.69" y1="134.6" x2="388.69" y2="133.15" stroke="#333" stroke-width="0.8"/>
<line x1="424.83" y1="134.6" x2="424.83" y2="132.47" stroke="#333" stroke-width="0.8"/>
<line x1="418.61" y1="134.6" x2="418.61" y2="132.04" stroke="#333" stroke-width="0.8"/>
<line x1="465.08" y1="134.6" x2="465.08" y2="133.22" stroke="#333" stroke-width="0.8"/>
<line x1="389.29" y1="134.6" x2="389.29" y2="133.24" stroke="#333" stroke-width="0.8"/>
<line x1="300.66" y1="134.6" x2="300.66" y2="133.62" stroke="#333" stroke-width="0.8"/>
<line x1="475.25" y1="134.6" x2="475.25" y2="133.92" stroke="#333" stroke-width="0.8"/>
<line x1="234.54" y1="134.6" x2="234.54" y2="133.77" stroke="#333" stroke-width="0.8"/>
<line x1="468.75" y1="134.6" x2="468.75" y2="134.05" stroke="#333" stroke-width="0.8"/>
<line x1="207.13" y1="134.6" x2="207.13" y2="132.69" stroke="#333" stroke-width="0.8"/>
<line x1="226.91" y1="134.6" x2="226.91" y2="133.96" stroke="#333" stroke-width="0.8"/>
<line x1="350.72" y1="134.6" x2="350.72" y2="133.73" stroke="#333" stroke-width="0.8"/>
<line x1="205.25" y1="134.6" x2="205.25" y2="134.01" stroke="#333" stroke-width="0.8"/>
<line x1="244.04" y1="134.6" x2="244.04" y2="132.98" stroke="#333" stroke-width="0.8"/>
<line x1="240.53" y1="134.6" x2="240.53" y2="133.97" stroke="#333" stroke-width="0.8"/>
<line x1="224.79" y1="134.6" x2="224.79" y2="133.48" stroke="#333" stroke-width="0.8"/>
<line x1="339.76" y1="134.6" x2="339.76" y2="133.11" stroke="#333" stroke-width="0.8"/>
<line x1="206" y1="134.6" x2="206" y2="116.5" stroke="#222222" stroke-width="1.25"/>
<line x1="213.6" y1="134.6" x2="213.6" y2="129.3" stroke="#222222" stroke-width="1.25"/>
<line x1="227" y1="134.6" x2="227" y2="101.7" stroke="#222222" stroke-width="1.25"/>
<line x1="243" y1="134.6" x2="243" y2="132" stroke="#222222" stroke-width="1.25"/>
<line x1="251.2" y1="134.6" x2="251.2" y2="113" stroke="#222222" stroke-width="1.25"/>
<line x1="253.5" y1="134.6" x2="253.5" y2="111.2" stroke="#222222" stroke-width="1.25"/>
<line x1="256.3" y1="134.6" x2="256.3" y2="125.5" stroke="#222222" stroke-width="1.25"/>
<line x1="265.3" y1="134.6" x2="265.3" y2="119.2" stroke="#222222" stroke-width="1.25"/>
<line x1="279.7" y1="134.6" x2="279.7" y2="124.5" stroke="#222222" stroke-width="1.25"/>
<line x1="282.5" y1="134.6" x2="282.5" y2="72.9" stroke="#222222" stroke-width="1.25"/>
<line x1="283.9" y1="134.6" x2="283.9" y2="116" stroke="#222222" stroke-width="1.25"/>
<line x1="294.7" y1="134.6" x2="294.7" y2="110.3" stroke="#222222" stroke-width="1.25"/>
<line x1="304.3" y1="134.6" x2="304.3" y2="129.3" stroke="#222222" stroke-width="1.25"/>
<line x1="309.8" y1="134.6" x2="309.8" y2="118.4" stroke="#222222" stroke-width="1.25"/>
<line x1="312.3" y1="134.6" x2="312.3" y2="120.3" stroke="#222222" stroke-width="1.25"/>
<line x1="318.5" y1="134.6" x2="318.5" y2="129.3" stroke="#222222" stroke-width="1.25"/>
<line x1="333" y1="134.6" x2="333" y2="130.6" stroke="#222222" stroke-width="1.25"/>
<line x1="339.2" y1="134.6" x2="339.2" y2="131" stroke="#222222" stroke-width="1.25"/>
<line x1="344" y1="134.6" x2="344" y2="128.3" stroke="#222222" stroke-width="1.25"/>
<line x1="362.5" y1="134.6" x2="362.5" y2="128.3" stroke="#222222" stroke-width="1.25"/>
<line x1="367.7" y1="134.6" x2="367.7" y2="130.6" stroke="#222222" stroke-width="1.25"/>
<line x1="376.4" y1="134.6" x2="376.4" y2="118.8" stroke="#222222" stroke-width="1.25"/>
<line x1="386.4" y1="134.6" x2="386.4" y2="127.4" stroke="#222222" stroke-width="1.25"/>
<line x1="391.6" y1="134.6" x2="391.6" y2="131.4" stroke="#222222" stroke-width="1.25"/>
<line x1="396.5" y1="134.6" x2="396.5" y2="127" stroke="#222222" stroke-width="1.25"/>
<line x1="402.5" y1="134.6" x2="402.5" y2="126.3" stroke="#222222" stroke-width="1.25"/>
<line x1="417.9" y1="134.6" x2="417.9" y2="127.4" stroke="#222222" stroke-width="1.25"/>
<line x1="423.4" y1="134.6" x2="423.4" y2="128.2" stroke="#222222" stroke-width="1.25"/>
<line x1="444.2" y1="134.6" x2="444.2" y2="124.2" stroke="#222222" stroke-width="1.25"/>
<line x1="285.2" y1="134.6" x2="285.2" y2="42.9" stroke="#222222" stroke-width="1.1"/>
<line x1="285.2" y1="33.5" x2="285.2" y2="18.6" stroke="#222222" stroke-width="1.1"/>
<text x="178.8" y="126.4" font-family='"Liberation Sans", sans-serif' font-size="13" fill="#3b2fd6" stroke="#3b2fd6" stroke-width="0.3"><tspan font-size="13">b</tspan><tspan font-size="7.8" dy="4.1">2</tspan></text>
<text x="200.8" y="110.5" font-family='"Liberation Sans", sans-serif' font-size="13" fill="#d9253a" stroke="#d9253a" stroke-width="0.3"><tspan font-size="13">y</tspan><tspan font-size="7.8" dy="4.1">2</tspan></text>
<text x="207.3" y="126.4" font-family='"Liberation Sans", sans-serif' font-size="13" fill="#3b2fd6" stroke="#3b2fd6" stroke-width="0.3"><tspan font-size="13">b</tspan><tspan font-size="7.8" dy="4.1">3</tspan></text>
<text x="222.8" y="96.5" font-family='"Liberation Sans", sans-serif' font-size="13" fill="#d9253a" stroke="#d9253a" stroke-width="0.3"><tspan font-size="13">y</tspan><tspan font-size="7.8" dy="4.1">3</tspan></text>
<text x="236.8" y="94.5" font-family='"Liberation Sans", sans-serif' font-size="13" fill="#eda536" stroke="#eda536" stroke-width="0.3"><tspan font-size="13">y</tspan><tspan font-size="7.8" dy="4.1">4</tspan><tspan font-size="13" dy="-4.1">-NH</tspan><tspan font-size="7.8" dy="4.1">3</tspan></text>
<text x="237.3" y="127.4" font-family='"Liberation Sans", sans-serif' font-size="13" fill="#3b2fd6" stroke="#3b2fd6" stroke-width="0.3"><tspan font-size="13">b</tspan><tspan font-size="7.8" dy="4.1">4</tspan></text>
<text x="254.2" y="121.3" font-family='"Liberation Sans", sans-serif' font-size="13" fill="#d9253a" stroke="#d9253a" stroke-width="0.3"><tspan font-size="13">y</tspan><tspan font-size="7.8" dy="4.1">4</tspan></text>
<text x="285.5" y="103.3" font-family='"Liberation Sans", sans-serif' font-size="13" fill="#d9253a" stroke="#d9253a" stroke-width="0.3"><tspan font-size="13">y</tspan><tspan font-size="7.8" dy="4.1">5</tspan></text>
<text x="238.6" y="57.6" font-family='"Liberation Sans", sans-serif' font-size="13" fill="#eda536" stroke="#eda536" stroke-width="0.3" textLength="44.2" lengthAdjust="spacingAndGlyphs"><tspan font-size="13">y</tspan><tspan font-size="7.8" dy="4.1">8</tspan><tspan font-size="13" dy="-4.1">-H</tspan><tspan font-size="7.8" dy="4.1">2</tspan><tspan font-size="13" dy="-4.1">O</tspan><tspan font-size="7.8" dy="-4">2+</tspan></text>
<text x="277.8" y="10.6" font-family='"Liberation Sans", sans-serif' font-size="13" fill="#d9253a" stroke="#d9253a" stroke-width="0.3"><tspan font-size="13">y</tspan><tspan font-size="7.8" dy="4.1">8</tspan><tspan font-size="7.8" dy="-8.5">+2</tspan></text>
<text x="293.5" y="123.6" font-family='"Liberation Sans", sans-serif' font-size="13" fill="#d9253a" stroke="#d9253a" stroke-width="0.3"><tspan font-size="13">y</tspan><tspan font-size="7.8" dy="4.1">9</tspan><tspan font-size="7.8" dy="-7">2+</tspan></text>
<text x="338.1" y="127.4" font-family='"Liberation Sans", sans-serif' font-size="13" fill="#3b2fd6" stroke="#3b2fd6" stroke-width="0.3"><tspan font-size="13">b</tspan><tspan font-size="7.8" dy="4.1">5</tspan></text>
<text x="362.8" y="122.6" font-family='"Liberation Sans", sans-serif' font-size="13" fill="#3b2fd6" stroke="#3b2fd6" stroke-width="0.3"><tspan font-size="13">b</tspan><tspan font-size="7.8" dy="4.1">6</tspan></text>
<text x="381.3" y="122.6" font-family='"Liberation Sans", sans-serif' font-size="13" fill="#d9253a" stroke="#d9253a" stroke-width="0.3"><tspan font-size="13">y</tspan><tspan font-size="7.8" dy="4.1">6</tspan></text>
<text x="396.9" y="123.3" font-family='"Liberation Sans", sans-serif' font-size="13" fill="#3b2fd6" stroke="#3b2fd6" stroke-width="0.3"><tspan font-size="13">b</tspan><tspan font-size="7.8" dy="4.1">7</tspan></text>
<text x="412.8" y="123.6" font-family='"Liberation Sans", sans-serif' font-size="13" fill="#d9253a" stroke="#d9253a" stroke-width="0.3"><tspan font-size="13">y</tspan><tspan font-size="7.8" dy="4.1">7</tspan></text>
<text x="420.7" y="119.3" font-family='"Liberation Sans", sans-serif' font-size="13" fill="#3b2fd6" stroke="#3b2fd6" stroke-width="0.3"><tspan font-size="13">b</tspan><tspan font-size="7.8" dy="4.1">8</tspan></text>
<text x="439.2" y="118.6" font-family='"Liberation Sans", sans-serif' font-size="13" fill="#d9253a" stroke="#d9253a" stroke-width="0.3"><tspan font-size="13">y</tspan><tspan font-size="7.8" dy="4.1">8</tspan></text>
<text x="450" y="125.8" font-family='"Liberation Sans", sans-serif' font-size="13" fill="#3b2fd6" stroke="#3b2fd6" stroke-width="0.3"><tspan font-size="13">b</tspan><tspan font-size="7.8" dy="4.1">9</tspan></text>
<line x1="278.6" y1="63.3" x2="282.3" y2="72.2" stroke="#eda536" stroke-width="0.9"/>
<line x1="248.2" y1="101.7" x2="251.2" y2="112.6" stroke="#eda536" stroke-width="0.9"/>
<line x1="287.5" y1="111" x2="285.8" y2="116" stroke="#d9253a" stroke-width="0.9"/>
<line x1="368.2" y1="126.4" x2="373" y2="131.2" stroke="#3b2fd6" stroke-width="0.9"/>
<line x1="425.3" y1="127.4" x2="423.6" y2="132.2" stroke="#3b2fd6" stroke-width="0.9"/>
<line x1="454" y1="128.3" x2="452.2" y2="133.3" stroke="#3b2fd6" stroke-width="0.9"/>
<text x="352.5" y="37" font-family='"Liberation Serif", serif' font-size="12.5" fill="#444" text-anchor="middle">A</text>
<text x="364.85" y="37" font-family='"Liberation Serif", serif' font-size="12.5" fill="#444" text-anchor="middle">E</text>
<text x="377.2" y="37" font-family='"Liberation Serif", serif' font-size="12.5" fill="#444" text-anchor="middle">P</text>
<text x="389.55" y="37" font-family='"Liberation Serif", serif' font-size="12.5" fill="#444" text-anchor="middle">V</text>
<text x="401.9" y="37" font-family='"Liberation Serif", serif' font-size="12.5" fill="#d9253a" text-anchor="middle" font-weight="bold">E</text>
<text x="414.25" y="37" font-family='"Liberation Serif", serif' font-size="12.5" fill="#444" text-anchor="middle">V</text>
<text x="426.6" y="37" font-family='"Liberation Serif", serif' font-size="12.5" fill="#444" text-anchor="middle">V</text>
<text x="438.95" y="37" font-family='"Liberation Serif", serif' font-size="12.5" fill="#444" text-anchor="middle">A</text>
<text x="451.3" y="37" font-family='"Liberation Serif", serif' font-size="12.5" fill="#444" text-anchor="middle">P</text>
<text x="463.65" y="37" font-family='"Liberation Serif", serif' font-size="12.5" fill="#444" text-anchor="middle">R</text>
<text x="348.3" y="32.3" font-family='"Liberation Serif", serif' font-size="7.5" fill="#444" text-anchor="end">487</text>
<text x="468.6" y="32.3" font-family='"Liberation Serif", serif' font-size="7.5" fill="#444">496</text>
<polyline points="358.68,31.5 358.68,20.6 370.23,20.6" fill="none" stroke="#d9253a" stroke-width="1.3"/>
<polyline points="371.02,31.5 371.02,20.6 382.57,20.6" fill="none" stroke="#d9253a" stroke-width="1.3"/>
<polyline points="383.38,31.5 383.38,20.6 394.93,20.6" fill="none" stroke="#d9253a" stroke-width="1.3"/>
<polyline points="395.73,31.5 395.73,20.6 407.28,20.6" fill="none" stroke="#d9253a" stroke-width="1.3"/>
<polyline points="408.07,31.5 408.07,20.6 419.62,20.6" fill="none" stroke="#d9253a" stroke-width="1.3"/>
<polyline points="420.43,31.5 420.43,20.6 431.98,20.6" fill="none" stroke="#d9253a" stroke-width="1.3"/>
<polyline points="432.77,31.5 432.77,20.6 444.32,20.6" fill="none" stroke="#d9253a" stroke-width="1.3"/>
<polyline points="445.12,31.5 445.12,20.6 456.68,20.6" fill="none" stroke="#d9253a" stroke-width="1.3"/>
<polyline points="359.47,42.4 371.02,42.4 371.02,31.5" fill="none" stroke="#3b2fd6" stroke-width="1.3"/>
<polyline points="371.82,42.4 383.38,42.4 383.38,31.5" fill="none" stroke="#3b2fd6" stroke-width="1.3"/>
<polyline points="384.18,42.4 395.73,42.4 395.73,31.5" fill="none" stroke="#3b2fd6" stroke-width="1.3"/>
<polyline points="396.52,42.4 408.07,42.4 408.07,31.5" fill="none" stroke="#3b2fd6" stroke-width="1.3"/>
<polyline points="408.88,42.4 420.43,42.4 420.43,31.5" fill="none" stroke="#3b2fd6" stroke-width="1.3"/>
<polyline points="421.22,42.4 432.77,42.4 432.77,31.5" fill="none" stroke="#3b2fd6" stroke-width="1.3"/>
<polyline points="433.57,42.4 445.12,42.4 445.12,31.5" fill="none" stroke="#3b2fd6" stroke-width="1.3"/>
<polyline points="445.93,42.4 457.48,42.4 457.48,31.5" fill="none" stroke="#3b2fd6" stroke-width="1.3"/>
<rect x="393.1" y="59.8" width="29.6" height="14.5" fill="#b0b0b0"/>
<text x="398" y="71.3" font-family='"Liberation Sans", sans-serif' font-size="11.5" fill="#1a1a1a" stroke="#1a1a1a" stroke-width="0.25" textLength="20.4" lengthAdjust="spacingAndGlyphs"><tspan>SVP</tspan></text>
<line x1="169.4" y1="314.6" x2="169.4" y2="223.1" stroke="#8c8c8c" stroke-width="1.3"/>
<line x1="169.4" y1="213.7" x2="169.4" y2="190.9" stroke="#8c8c8c" stroke-width="1.3"/>
<line x1="166" y1="190.9" x2="170" y2="190.9" stroke="#8c8c8c" stroke-width="1.2"/>
<text x="164" y="194.3" font-family='"Liberation Sans", sans-serif' font-size="9.6" fill="#111" text-anchor="end" font-weight="bold">12</text>
<line x1="166" y1="213.7" x2="172.1" y2="213.7" stroke="#8c8c8c" stroke-width="1.2"/>
<text x="164" y="217.1" font-family='"Liberation Sans", sans-serif' font-size="9.6" fill="#111" text-anchor="end" font-weight="bold">4</text>
<line x1="166" y1="223.1" x2="172.1" y2="223.1" stroke="#8c8c8c" stroke-width="1.2"/>
<text x="164" y="226.5" font-family='"Liberation Sans", sans-serif' font-size="9.6" fill="#111" text-anchor="end" font-weight="bold">3</text>
<line x1="166" y1="253.8" x2="170" y2="253.8" stroke="#8c8c8c" stroke-width="1.2"/>
<text x="164" y="257.2" font-family='"Liberation Sans", sans-serif' font-size="9.6" fill="#111" text-anchor="end" font-weight="bold">2</text>
<line x1="166" y1="284.3" x2="170" y2="284.3" stroke="#8c8c8c" stroke-width="1.2"/>
<text x="164" y="287.7" font-family='"Liberation Sans", sans-serif' font-size="9.6" fill="#111" text-anchor="end" font-weight="bold">1</text>
<line x1="166" y1="314.6" x2="170" y2="314.6" stroke="#8c8c8c" stroke-width="1.2"/>
<text x="164" y="318" font-family='"Liberation Sans", sans-serif' font-size="9.6" fill="#111" text-anchor="end" font-weight="bold">0</text>
<line x1="165.2" y1="314.6" x2="479.7" y2="314.6" stroke="#333333" stroke-width="1.3"/>
<line x1="169.55" y1="314.6" x2="169.55" y2="317.1" stroke="#555555" stroke-width="0.9"/>
<line x1="172.5" y1="314.6" x2="172.5" y2="317.1" stroke="#555555" stroke-width="0.9"/>
<line x1="175.45" y1="314.6" x2="175.45" y2="317.1" stroke="#555555" stroke-width="0.9"/>
<line x1="178.4" y1="314.6" x2="178.4" y2="317.1" stroke="#555555" stroke-width="0.9"/>
<line x1="181.35" y1="314.6" x2="181.35" y2="317.1" stroke="#555555" stroke-width="0.9"/>
<line x1="184.3" y1="314.6" x2="184.3" y2="318.6" stroke="#333333" stroke-width="1.1"/>
<line x1="187.25" y1="314.6" x2="187.25" y2="317.1" stroke="#555555" stroke-width="0.9"/>
<line x1="190.2" y1="314.6" x2="190.2" y2="317.1" stroke="#555555" stroke-width="0.9"/>
<line x1="193.15" y1="314.6" x2="193.15" y2="317.1" stroke="#555555" stroke-width="0.9"/>
<line x1="196.1" y1="314.6" x2="196.1" y2="317.1" stroke="#555555" stroke-width="0.9"/>
<line x1="199.05" y1="314.6" x2="199.05" y2="317.1" stroke="#555555" stroke-width="0.9"/>
<line x1="202" y1="314.6" x2="202" y2="317.1" stroke="#555555" stroke-width="0.9"/>
<line x1="204.95" y1="314.6" x2="204.95" y2="317.1" stroke="#555555" stroke-width="0.9"/>
<line x1="207.9" y1="314.6" x2="207.9" y2="317.1" stroke="#555555" stroke-width="0.9"/>
<line x1="210.85" y1="314.6" x2="210.85" y2="317.1" stroke="#555555" stroke-width="0.9"/>
<line x1="213.8" y1="314.6" x2="213.8" y2="318.6" stroke="#333333" stroke-width="1.1"/>
<line x1="216.75" y1="314.6" x2="216.75" y2="317.1" stroke="#555555" stroke-width="0.9"/>
<line x1="219.7" y1="314.6" x2="219.7" y2="317.1" stroke="#555555" stroke-width="0.9"/>
<line x1="222.65" y1="314.6" x2="222.65" y2="317.1" stroke="#555555" stroke-width="0.9"/>
<line x1="225.6" y1="314.6" x2="225.6" y2="317.1" stroke="#555555" stroke-width="0.9"/>
<line x1="228.55" y1="314.6" x2="228.55" y2="317.1" stroke="#555555" stroke-width="0.9"/>
<line x1="231.5" y1="314.6" x2="231.5" y2="317.1" stroke="#555555" stroke-width="0.9"/>
<line x1="234.45" y1="314.6" x2="234.45" y2="317.1" stroke="#555555" stroke-width="0.9"/>
<line x1="237.4" y1="314.6" x2="237.4" y2="317.1" stroke="#555555" stroke-width="0.9"/>
<line x1="240.35" y1="314.6" x2="240.35" y2="317.1" stroke="#555555" stroke-width="0.9"/>
<line x1="243.3" y1="314.6" x2="243.3" y2="318.6" stroke="#333333" stroke-width="1.1"/>
<line x1="246.25" y1="314.6" x2="246.25" y2="317.1" stroke="#555555" stroke-width="0.9"/>
<line x1="249.2" y1="314.6" x2="249.2" y2="317.1" stroke="#555555" stroke-width="0.9"/>
<line x1="252.15" y1="314.6" x2="252.15" y2="317.1" stroke="#555555" stroke-width="0.9"/>
<line x1="255.1" y1="314.6" x2="255.1" y2="317.1" stroke="#555555" stroke-width="0.9"/>
<line x1="258.05" y1="314.6" x2="258.05" y2="317.1" stroke="#555555" stroke-width="0.9"/>
<line x1="261" y1="314.6" x2="261" y2="317.1" stroke="#555555" stroke-width="0.9"/>
<line x1="263.95" y1="314.6" x2="263.95" y2="317.1" stroke="#555555" stroke-width="0.9"/>
<line x1="266.9" y1="314.6" x2="266.9" y2="317.1" stroke="#555555" stroke-width="0.9"/>
<line x1="269.85" y1="314.6" x2="269.85" y2="317.1" stroke="#555555" stroke-width="0.9"/>
<line x1="272.8" y1="314.6" x2="272.8" y2="318.6" stroke="#333333" stroke-width="1.1"/>
<line x1="275.75" y1="314.6" x2="275.75" y2="317.1" stroke="#555555" stroke-width="0.9"/>
<line x1="278.7" y1="314.6" x2="278.7" y2="317.1" stroke="#555555" stroke-width="0.9"/>
<line x1="281.65" y1="314.6" x2="281.65" y2="317.1" stroke="#555555" stroke-width="0.9"/>
<line x1="284.6" y1="314.6" x2="284.6" y2="317.1" stroke="#555555" stroke-width="0.9"/>
<line x1="287.55" y1="314.6" x2="287.55" y2="317.1" stroke="#555555" stroke-width="0.9"/>
<line x1="290.5" y1="314.6" x2="290.5" y2="317.1" stroke="#555555" stroke-width="0.9"/>
<line x1="293.45" y1="314.6" x2="293.45" y2="317.1" stroke="#555555" stroke-width="0.9"/>
<line x1="296.4" y1="314.6" x2="296.4" y2="317.1" stroke="#555555" stroke-width="0.9"/>
<line x1="299.35" y1="314.6" x2="299.35" y2="317.1" stroke="#555555" stroke-width="0.9"/>
<line x1="302.3" y1="314.6" x2="302.3" y2="318.6" stroke="#333333" stroke-width="1.1"/>
<line x1="305.25" y1="314.6" x2="305.25" y2="317.1" stroke="#555555" stroke-width="0.9"/>
<line x1="308.2" y1="314.6" x2="308.2" y2="317.1" stroke="#555555" stroke-width="0.9"/>
<line x1="311.15" y1="314.6" x2="311.15" y2="317.1" stroke="#555555" stroke-width="0.9"/>
<line x1="314.1" y1="314.6" x2="314.1" y2="317.1" stroke="#555555" stroke-width="0.9"/>
<line x1="317.05" y1="314.6" x2="317.05" y2="317.1" stroke="#555555" stroke-width="0.9"/>
<line x1="320" y1="314.6" x2="320" y2="317.1" stroke="#555555" stroke-width="0.9"/>
<line x1="322.95" y1="314.6" x2="322.95" y2="317.1" stroke="#555555" stroke-width="0.9"/>
<line x1="325.9" y1="314.6" x2="325.9" y2="317.1" stroke="#555555" stroke-width="0.9"/>
<line x1="328.85" y1="314.6" x2="328.85" y2="317.1" stroke="#555555" stroke-width="0.9"/>
<line x1="331.8" y1="314.6" x2="331.8" y2="318.6" stroke="#333333" stroke-width="1.1"/>
<line x1="334.75" y1="314.6" x2="334.75" y2="317.1" stroke="#555555" stroke-width="0.9"/>
<line x1="337.7" y1="314.6" x2="337.7" y2="317.1" stroke="#555555" stroke-width="0.9"/>
<line x1="340.65" y1="314.6" x2="340.65" y2="317.1" stroke="#555555" stroke-width="0.9"/>
<line x1="343.6" y1="314.6" x2="343.6" y2="317.1" stroke="#555555" stroke-width="0.9"/>
<line x1="346.55" y1="314.6" x2="346.55" y2="317.1" stroke="#555555" stroke-width="0.9"/>
<line x1="349.5" y1="314.6" x2="349.5" y2="317.1" stroke="#555555" stroke-width="0.9"/>
<line x1="352.45" y1="314.6" x2="352.45" y2="317.1" stroke="#555555" stroke-width="0.9"/>
<line x1="355.4" y1="314.6" x2="355.4" y2="317.1" stroke="#555555" stroke-width="0.9"/>
<line x1="358.35" y1="314.6" x2="358.35" y2="317.1" stroke="#555555" stroke-width="0.9"/>
<line x1="361.3" y1="314.6" x2="361.3" y2="318.6" stroke="#333333" stroke-width="1.1"/>
<line x1="364.25" y1="314.6" x2="364.25" y2="317.1" stroke="#555555" stroke-width="0.9"/>
<line x1="367.2" y1="314.6" x2="367.2" y2="317.1" stroke="#555555" stroke-width="0.9"/>
<line x1="370.15" y1="314.6" x2="370.15" y2="317.1" stroke="#555555" stroke-width="0.9"/>
<line x1="373.1" y1="314.6" x2="373.1" y2="317.1" stroke="#555555" stroke-width="0.9"/>
<line x1="376.05" y1="314.6" x2="376.05" y2="317.1" stroke="#555555" stroke-width="0.9"/>
<line x1="379" y1="314.6" x2="379" y2="317.1" stroke="#555555" stroke-width="0.9"/>
<line x1="381.95" y1="314.6" x2="381.95" y2="317.1" stroke="#555555" stroke-width="0.9"/>
<line x1="384.9" y1="314.6" x2="384.9" y2="317.1" stroke="#555555" stroke-width="0.9"/>
<line x1="387.85" y1="314.6" x2="387.85" y2="317.1" stroke="#555555" stroke-width="0.9"/>
<line x1="390.8" y1="314.6" x2="390.8" y2="318.6" stroke="#333333" stroke-width="1.1"/>
<line x1="393.75" y1="314.6" x2="393.75" y2="317.1" stroke="#555555" stroke-width="0.9"/>
<line x1="396.7" y1="314.6" x2="396.7" y2="317.1" stroke="#555555" stroke-width="0.9"/>
<line x1="399.65" y1="314.6" x2="399.65" y2="317.1" stroke="#555555" stroke-width="0.9"/>
<line x1="402.6" y1="314.6" x2="402.6" y2="317.1" stroke="#555555" stroke-width="0.9"/>
<line x1="405.55" y1="314.6" x2="405.55" y2="317.1" stroke="#555555" stroke-width="0.9"/>
<line x1="408.5" y1="314.6" x2="408.5" y2="317.1" stroke="#555555" stroke-width="0.9"/>
<line x1="411.45" y1="314.6" x2="411.45" y2="317.1" stroke="#555555" stroke-width="0.9"/>
<line x1="414.4" y1="314.6" x2="414.4" y2="317.1" stroke="#555555" stroke-width="0.9"/>
<line x1="417.35" y1="314.6" x2="417.35" y2="317.1" stroke="#555555" stroke-width="0.9"/>
<line x1="420.3" y1="314.6" x2="420.3" y2="318.6" stroke="#333333" stroke-width="1.1"/>
<line x1="423.25" y1="314.6" x2="423.25" y2="317.1" stroke="#555555" stroke-width="0.9"/>
<line x1="426.2" y1="314.6" x2="426.2" y2="317.1" stroke="#555555" stroke-width="0.9"/>
<line x1="429.15" y1="314.6" x2="429.15" y2="317.1" stroke="#555555" stroke-width="0.9"/>
<line x1="432.1" y1="314.6" x2="432.1" y2="317.1" stroke="#555555" stroke-width="0.9"/>
<line x1="435.05" y1="314.6" x2="435.05" y2="317.1" stroke="#555555" stroke-width="0.9"/>
<line x1="438" y1="314.6" x2="438" y2="317.1" stroke="#555555" stroke-width="0.9"/>
<line x1="440.95" y1="314.6" x2="440.95" y2="317.1" stroke="#555555" stroke-width="0.9"/>
<line x1="443.9" y1="314.6" x2="443.9" y2="317.1" stroke="#555555" stroke-width="0.9"/>
<line x1="446.85" y1="314.6" x2="446.85" y2="317.1" stroke="#555555" stroke-width="0.9"/>
<line x1="449.8" y1="314.6" x2="449.8" y2="318.6" stroke="#333333" stroke-width="1.1"/>
<line x1="452.75" y1="314.6" x2="452.75" y2="317.1" stroke="#555555" stroke-width="0.9"/>
<line x1="455.7" y1="314.6" x2="455.7" y2="317.1" stroke="#555555" stroke-width="0.9"/>
<line x1="458.65" y1="314.6" x2="458.65" y2="317.1" stroke="#555555" stroke-width="0.9"/>
<line x1="461.6" y1="314.6" x2="461.6" y2="317.1" stroke="#555555" stroke-width="0.9"/>
<line x1="464.55" y1="314.6" x2="464.55" y2="317.1" stroke="#555555" stroke-width="0.9"/>
<line x1="467.5" y1="314.6" x2="467.5" y2="317.1" stroke="#555555" stroke-width="0.9"/>
<line x1="470.45" y1="314.6" x2="470.45" y2="317.1" stroke="#555555" stroke-width="0.9"/>
<line x1="473.4" y1="314.6" x2="473.4" y2="317.1" stroke="#555555" stroke-width="0.9"/>
<line x1="476.35" y1="314.6" x2="476.35" y2="317.1" stroke="#555555" stroke-width="0.9"/>
<line x1="479.3" y1="314.6" x2="479.3" y2="318.6" stroke="#333333" stroke-width="1.1"/>
<text x="184.3" y="328.2" font-family='"Liberation Sans", sans-serif' font-size="9.3" fill="#111" text-anchor="middle" font-weight="bold" textLength="14.55" lengthAdjust="spacingAndGlyphs">200</text>
<text x="213.8" y="328.2" font-family='"Liberation Sans", sans-serif' font-size="9.3" fill="#111" text-anchor="middle" font-weight="bold" textLength="14.55" lengthAdjust="spacingAndGlyphs">300</text>
<text x="243.3" y="328.2" font-family='"Liberation Sans", sans-serif' font-size="9.3" fill="#111" text-anchor="middle" font-weight="bold" textLength="14.55" lengthAdjust="spacingAndGlyphs">400</text>
<text x="272.8" y="328.2" font-family='"Liberation Sans", sans-serif' font-size="9.3" fill="#111" text-anchor="middle" font-weight="bold" textLength="14.55" lengthAdjust="spacingAndGlyphs">500</text>
<text x="302.3" y="328.2" font-family='"Liberation Sans", sans-serif' font-size="9.3" fill="#111" text-anchor="middle" font-weight="bold" textLength="14.55" lengthAdjust="spacingAndGlyphs">600</text>
<text x="331.8" y="328.2" font-family='"Liberation Sans", sans-serif' font-size="9.3" fill="#111" text-anchor="middle" font-weight="bold" textLength="14.55" lengthAdjust="spacingAndGlyphs">700</text>
<text x="361.3" y="328.2" font-family='"Liberation Sans", sans-serif' font-size="9.3" fill="#111" text-anchor="middle" font-weight="bold" textLength="14.55" lengthAdjust="spacingAndGlyphs">800</text>
<text x="390.8" y="328.2" font-family='"Liberation Sans", sans-serif' font-size="9.3" fill="#111" text-anchor="middle" font-weight="bold" textLength="14.55" lengthAdjust="spacingAndGlyphs">900</text>
<text x="420.3" y="328.2" font-family='"Liberation Sans", sans-serif' font-size="9.3" fill="#111" text-anchor="middle" font-weight="bold" textLength="19.4" lengthAdjust="spacingAndGlyphs">1000</text>
<text x="449.8" y="328.2" font-family='"Liberation Sans", sans-serif' font-size="9.3" fill="#111" text-anchor="middle" font-weight="bold" textLength="19.4" lengthAdjust="spacingAndGlyphs">1100</text>
<text x="479.3" y="328.2" font-family='"Liberation Sans", sans-serif' font-size="9.3" fill="#111" text-anchor="middle" font-weight="bold" textLength="19.4" lengthAdjust="spacingAndGlyphs">1200</text>
<text x="0" y="0" transform="translate(143.6,250) rotate(-90)" font-family='"Liberation Sans", sans-serif' font-size="11.5" font-weight="bold" fill="#111" text-anchor="middle" textLength="73" lengthAdjust="spacingAndGlyphs">Intensity (e4)</text>
<line x1="465.17" y1="314.9" x2="465.17" y2="314.41" stroke="#333" stroke-width="0.8"/>
<line x1="477.58" y1="314.9" x2="477.58" y2="314.36" stroke="#333" stroke-width="0.8"/>
<line x1="370.99" y1="314.9" x2="370.99" y2="313.35" stroke="#333" stroke-width="0.8"/>
<line x1="242.14" y1="314.9" x2="242.14" y2="313.6" stroke="#333" stroke-width="0.8"/>
<line x1="355.55" y1="314.9" x2="355.55" y2="312.75" stroke="#333" stroke-width="0.8"/>
<line x1="454.62" y1="314.9" x2="454.62" y2="314.12" stroke="#333" stroke-width="0.8"/>
<line x1="441.58" y1="314.9" x2="441.58" y2="313.92" stroke="#333" stroke-width="0.8"/>
<line x1="229.37" y1="314.9" x2="229.37" y2="313.13" stroke="#333" stroke-width="0.8"/>
<line x1="458.96" y1="314.9" x2="458.96" y2="312.26" stroke="#333" stroke-width="0.8"/>
<line x1="344.86" y1="314.9" x2="344.86" y2="313.27" stroke="#333" stroke-width="0.8"/>
<line x1="250.33" y1="314.9" x2="250.33" y2="313.62" stroke="#333" stroke-width="0.8"/>
<line x1="410.8" y1="314.9" x2="410.8" y2="312.81" stroke="#333" stroke-width="0.8"/>
<line x1="214.66" y1="314.9" x2="214.66" y2="312.96" stroke="#333" stroke-width="0.8"/>
<line x1="227.8" y1="314.9" x2="227.8" y2="314.23" stroke="#333" stroke-width="0.8"/>
<line x1="180.91" y1="314.9" x2="180.91" y2="313.22" stroke="#333" stroke-width="0.8"/>
<line x1="329.81" y1="314.9" x2="329.81" y2="313.6" stroke="#333" stroke-width="0.8"/>
<line x1="452.35" y1="314.9" x2="452.35" y2="314.09" stroke="#333" stroke-width="0.8"/>
<line x1="349.86" y1="314.9" x2="349.86" y2="313.85" stroke="#333" stroke-width="0.8"/>
<line x1="337.74" y1="314.9" x2="337.74" y2="313.55" stroke="#333" stroke-width="0.8"/>
<line x1="333.17" y1="314.9" x2="333.17" y2="313.79" stroke="#333" stroke-width="0.8"/>
<line x1="280.2" y1="314.9" x2="280.2" y2="313.94" stroke="#333" stroke-width="0.8"/>
<line x1="456.36" y1="314.9" x2="456.36" y2="313.18" stroke="#333" stroke-width="0.8"/>
<line x1="294" y1="314.9" x2="294" y2="313.87" stroke="#333" stroke-width="0.8"/>
<line x1="223.62" y1="314.9" x2="223.62" y2="313.9" stroke="#333" stroke-width="0.8"/>
<line x1="271.78" y1="314.9" x2="271.78" y2="314.21" stroke="#333" stroke-width="0.8"/>
<line x1="182.35" y1="314.9" x2="182.35" y2="313.15" stroke="#333" stroke-width="0.8"/>
<line x1="369.65" y1="314.9" x2="369.65" y2="313.88" stroke="#333" stroke-width="0.8"/>
<line x1="186.99" y1="314.9" x2="186.99" y2="313.33" stroke="#333" stroke-width="0.8"/>
<line x1="453.75" y1="314.9" x2="453.75" y2="313.2" stroke="#333" stroke-width="0.8"/>
<line x1="324.05" y1="314.9" x2="324.05" y2="313.56" stroke="#333" stroke-width="0.8"/>
<line x1="475.32" y1="314.9" x2="475.32" y2="313.5" stroke="#333" stroke-width="0.8"/>
<line x1="394.27" y1="314.9" x2="394.27" y2="313.81" stroke="#333" stroke-width="0.8"/>
<line x1="411.74" y1="314.9" x2="411.74" y2="313.11" stroke="#333" stroke-width="0.8"/>
<line x1="460.42" y1="314.9" x2="460.42" y2="314.29" stroke="#333" stroke-width="0.8"/>
<line x1="365.82" y1="314.9" x2="365.82" y2="314.24" stroke="#333" stroke-width="0.8"/>
<line x1="383.47" y1="314.9" x2="383.47" y2="314.09" stroke="#333" stroke-width="0.8"/>
<line x1="183.85" y1="314.9" x2="183.85" y2="313.53" stroke="#333" stroke-width="0.8"/>
<line x1="207.25" y1="314.9" x2="207.25" y2="314.26" stroke="#333" stroke-width="0.8"/>
<line x1="436.92" y1="314.9" x2="436.92" y2="314.27" stroke="#333" stroke-width="0.8"/>
<line x1="200.89" y1="314.9" x2="200.89" y2="314.12" stroke="#333" stroke-width="0.8"/>
<line x1="276.65" y1="314.9" x2="276.65" y2="312.44" stroke="#333" stroke-width="0.8"/>
<line x1="427.08" y1="314.9" x2="427.08" y2="314.33" stroke="#333" stroke-width="0.8"/>
<line x1="431.63" y1="314.9" x2="431.63" y2="314.41" stroke="#333" stroke-width="0.8"/>
<line x1="321.43" y1="314.9" x2="321.43" y2="313.51" stroke="#333" stroke-width="0.8"/>
<line x1="391.47" y1="314.9" x2="391.47" y2="314.09" stroke="#333" stroke-width="0.8"/>
<line x1="241.84" y1="314.9" x2="241.84" y2="314.34" stroke="#333" stroke-width="0.8"/>
<line x1="375.39" y1="314.9" x2="375.39" y2="313.75" stroke="#333" stroke-width="0.8"/>
<line x1="369.31" y1="314.9" x2="369.31" y2="314.25" stroke="#333" stroke-width="0.8"/>
<line x1="356.33" y1="314.9" x2="356.33" y2="314.27" stroke="#333" stroke-width="0.8"/>
<line x1="180.16" y1="314.9" x2="180.16" y2="314.11" stroke="#333" stroke-width="0.8"/>
<line x1="365.02" y1="314.9" x2="365.02" y2="312.16" stroke="#333" stroke-width="0.8"/>
<line x1="242.63" y1="314.9" x2="242.63" y2="314.14" stroke="#333" stroke-width="0.8"/>
<line x1="276.08" y1="314.9" x2="276.08" y2="312.48" stroke="#333" stroke-width="0.8"/>
<line x1="173.79" y1="314.9" x2="173.79" y2="313.68" stroke="#333" stroke-width="0.8"/>
<line x1="224.87" y1="314.9" x2="224.87" y2="312.39" stroke="#333" stroke-width="0.8"/>
<line x1="340.28" y1="314.9" x2="340.28" y2="313.39" stroke="#333" stroke-width="0.8"/>
<line x1="328.44" y1="314.9" x2="328.44" y2="314.27" stroke="#333" stroke-width="0.8"/>
<line x1="219.85" y1="314.9" x2="219.85" y2="313.32" stroke="#333" stroke-width="0.8"/>
<line x1="384.88" y1="314.9" x2="384.88" y2="312.12" stroke="#333" stroke-width="0.8"/>
<line x1="229.48" y1="314.9" x2="229.48" y2="313.26" stroke="#333" stroke-width="0.8"/>
<line x1="404.84" y1="314.9" x2="404.84" y2="313.65" stroke="#333" stroke-width="0.8"/>
<line x1="230.86" y1="314.9" x2="230.86" y2="314.39" stroke="#333" stroke-width="0.8"/>
<line x1="287.57" y1="314.9" x2="287.57" y2="314.02" stroke="#333" stroke-width="0.8"/>
<line x1="468.64" y1="314.9" x2="468.64" y2="314.08" stroke="#333" stroke-width="0.8"/>
<line x1="436.45" y1="314.9" x2="436.45" y2="313.57" stroke="#333" stroke-width="0.8"/>
<line x1="406.71" y1="314.9" x2="406.71" y2="313.99" stroke="#333" stroke-width="0.8"/>
<line x1="381.75" y1="314.9" x2="381.75" y2="312.57" stroke="#333" stroke-width="0.8"/>
<line x1="201.26" y1="314.9" x2="201.26" y2="314.4" stroke="#333" stroke-width="0.8"/>
<line x1="325.97" y1="314.9" x2="325.97" y2="312.05" stroke="#333" stroke-width="0.8"/>
<line x1="297.48" y1="314.9" x2="297.48" y2="313.12" stroke="#333" stroke-width="0.8"/>
<line x1="273.04" y1="314.9" x2="273.04" y2="311.87" stroke="#333" stroke-width="0.8"/>
<line x1="394.18" y1="314.9" x2="394.18" y2="312.46" stroke="#333" stroke-width="0.8"/>
<line x1="371.23" y1="314.9" x2="371.23" y2="314.16" stroke="#333" stroke-width="0.8"/>
<line x1="244.21" y1="314.9" x2="244.21" y2="313.93" stroke="#333" stroke-width="0.8"/>
<line x1="262.59" y1="314.9" x2="262.59" y2="314.38" stroke="#333" stroke-width="0.8"/>
<line x1="202.67" y1="314.9" x2="202.67" y2="314.01" stroke="#333" stroke-width="0.8"/>
<line x1="224.87" y1="314.9" x2="224.87" y2="313.88" stroke="#333" stroke-width="0.8"/>
<line x1="279.69" y1="314.9" x2="279.69" y2="313.74" stroke="#333" stroke-width="0.8"/>
<line x1="337.16" y1="314.9" x2="337.16" y2="312.02" stroke="#333" stroke-width="0.8"/>
<line x1="286.05" y1="314.9" x2="286.05" y2="313.94" stroke="#333" stroke-width="0.8"/>
<line x1="328.84" y1="314.9" x2="328.84" y2="314.33" stroke="#333" stroke-width="0.8"/>
<line x1="244.37" y1="314.9" x2="244.37" y2="314.28" stroke="#333" stroke-width="0.8"/>
<line x1="186.05" y1="314.9" x2="186.05" y2="312.23" stroke="#333" stroke-width="0.8"/>
<line x1="205.79" y1="314.9" x2="205.79" y2="313.24" stroke="#333" stroke-width="0.8"/>
<line x1="325.88" y1="314.9" x2="325.88" y2="314.33" stroke="#333" stroke-width="0.8"/>
<line x1="287.87" y1="314.9" x2="287.87" y2="313.05" stroke="#333" stroke-width="0.8"/>
<line x1="311.91" y1="314.9" x2="311.91" y2="314.16" stroke="#333" stroke-width="0.8"/>
<line x1="381.66" y1="314.9" x2="381.66" y2="312.98" stroke="#333" stroke-width="0.8"/>
<line x1="281.79" y1="314.9" x2="281.79" y2="314.34" stroke="#333" stroke-width="0.8"/>
<line x1="196.18" y1="314.9" x2="196.18" y2="314.17" stroke="#333" stroke-width="0.8"/>
<line x1="409.93" y1="314.9" x2="409.93" y2="314.08" stroke="#333" stroke-width="0.8"/>
<line x1="366.22" y1="314.9" x2="366.22" y2="314.17" stroke="#333" stroke-width="0.8"/>
<line x1="453.61" y1="314.9" x2="453.61" y2="313.93" stroke="#333" stroke-width="0.8"/>
<line x1="244.47" y1="314.9" x2="244.47" y2="312.53" stroke="#333" stroke-width="0.8"/>
<line x1="274.56" y1="314.9" x2="274.56" y2="313.77" stroke="#333" stroke-width="0.8"/>
<line x1="224.71" y1="314.9" x2="224.71" y2="313.18" stroke="#333" stroke-width="0.8"/>
<line x1="341.81" y1="314.9" x2="341.81" y2="313.81" stroke="#333" stroke-width="0.8"/>
<line x1="437.69" y1="314.9" x2="437.69" y2="313.89" stroke="#333" stroke-width="0.8"/>
<line x1="333.71" y1="314.9" x2="333.71" y2="313.38" stroke="#333" stroke-width="0.8"/>
<line x1="355.8" y1="314.9" x2="355.8" y2="313.98" stroke="#333" stroke-width="0.8"/>
<line x1="279.85" y1="314.9" x2="279.85" y2="313.64" stroke="#333" stroke-width="0.8"/>
<line x1="471.7" y1="314.9" x2="471.7" y2="314.03" stroke="#333" stroke-width="0.8"/>
<line x1="298.63" y1="314.9" x2="298.63" y2="313.96" stroke="#333" stroke-width="0.8"/>
<line x1="185.1" y1="314.9" x2="185.1" y2="313.91" stroke="#333" stroke-width="0.8"/>
<line x1="409.55" y1="314.9" x2="409.55" y2="314.01" stroke="#333" stroke-width="0.8"/>
<line x1="390.19" y1="314.9" x2="390.19" y2="314.32" stroke="#333" stroke-width="0.8"/>
<line x1="285.37" y1="314.9" x2="285.37" y2="313.94" stroke="#333" stroke-width="0.8"/>
<line x1="173.7" y1="314.9" x2="173.7" y2="313.3" stroke="#333" stroke-width="0.8"/>
<line x1="219.45" y1="314.9" x2="219.45" y2="313.2" stroke="#333" stroke-width="0.8"/>
<line x1="220.29" y1="314.9" x2="220.29" y2="314.28" stroke="#333" stroke-width="0.8"/>
<line x1="317.25" y1="314.9" x2="317.25" y2="314.38" stroke="#333" stroke-width="0.8"/>
<line x1="324.89" y1="314.9" x2="324.89" y2="314.07" stroke="#333" stroke-width="0.8"/>
<line x1="309.38" y1="314.9" x2="309.38" y2="313.35" stroke="#333" stroke-width="0.8"/>
<line x1="241.09" y1="314.9" x2="241.09" y2="313.74" stroke="#333" stroke-width="0.8"/>
<line x1="186.5" y1="314.9" x2="186.5" y2="314.41" stroke="#333" stroke-width="0.8"/>
<line x1="424.67" y1="314.9" x2="424.67" y2="312.87" stroke="#333" stroke-width="0.8"/>
<line x1="363.27" y1="314.9" x2="363.27" y2="314" stroke="#333" stroke-width="0.8"/>
<line x1="395.84" y1="314.9" x2="395.84" y2="313.7" stroke="#333" stroke-width="0.8"/>
<line x1="296.11" y1="314.9" x2="296.11" y2="314.35" stroke="#333" stroke-width="0.8"/>
<line x1="343.01" y1="314.9" x2="343.01" y2="313.75" stroke="#333" stroke-width="0.8"/>
<line x1="455.33" y1="314.9" x2="455.33" y2="312.98" stroke="#333" stroke-width="0.8"/>
<line x1="382.81" y1="314.9" x2="382.81" y2="314.13" stroke="#333" stroke-width="0.8"/>
<line x1="463.52" y1="314.9" x2="463.52" y2="313.36" stroke="#333" stroke-width="0.8"/>
<line x1="289.15" y1="314.9" x2="289.15" y2="314.14" stroke="#333" stroke-width="0.8"/>
<line x1="433.45" y1="314.9" x2="433.45" y2="314.1" stroke="#333" stroke-width="0.8"/>
<line x1="359.17" y1="314.9" x2="359.17" y2="313.96" stroke="#333" stroke-width="0.8"/>
<line x1="257.68" y1="314.9" x2="257.68" y2="314.16" stroke="#333" stroke-width="0.8"/>
<line x1="421.76" y1="314.9" x2="421.76" y2="313.5" stroke="#333" stroke-width="0.8"/>
<line x1="310.64" y1="314.9" x2="310.64" y2="314.4" stroke="#333" stroke-width="0.8"/>
<line x1="205.78" y1="314.9" x2="205.78" y2="313.71" stroke="#333" stroke-width="0.8"/>
<line x1="414.76" y1="314.9" x2="414.76" y2="313.89" stroke="#333" stroke-width="0.8"/>
<line x1="374.85" y1="314.9" x2="374.85" y2="313.71" stroke="#333" stroke-width="0.8"/>
<line x1="196.04" y1="314.9" x2="196.04" y2="314.11" stroke="#333" stroke-width="0.8"/>
<line x1="228.92" y1="314.9" x2="228.92" y2="314.27" stroke="#333" stroke-width="0.8"/>
<line x1="446.67" y1="314.9" x2="446.67" y2="313.48" stroke="#333" stroke-width="0.8"/>
<line x1="397.37" y1="314.9" x2="397.37" y2="314.05" stroke="#333" stroke-width="0.8"/>
<line x1="419.49" y1="314.9" x2="419.49" y2="312.99" stroke="#333" stroke-width="0.8"/>
<line x1="317.86" y1="314.9" x2="317.86" y2="314.44" stroke="#333" stroke-width="0.8"/>
<line x1="266.34" y1="314.9" x2="266.34" y2="312.46" stroke="#333" stroke-width="0.8"/>
<line x1="207.21" y1="314.9" x2="207.21" y2="314.27" stroke="#333" stroke-width="0.8"/>
<line x1="241.12" y1="314.9" x2="241.12" y2="314" stroke="#333" stroke-width="0.8"/>
<line x1="217.02" y1="314.9" x2="217.02" y2="313.96" stroke="#333" stroke-width="0.8"/>
<line x1="444.25" y1="314.9" x2="444.25" y2="313.85" stroke="#333" stroke-width="0.8"/>
<line x1="406.1" y1="314.9" x2="406.1" y2="314.17" stroke="#333" stroke-width="0.8"/>
<line x1="208.63" y1="314.9" x2="208.63" y2="314.22" stroke="#333" stroke-width="0.8"/>
<line x1="396.71" y1="314.9" x2="396.71" y2="313.62" stroke="#333" stroke-width="0.8"/>
<line x1="255.59" y1="314.9" x2="255.59" y2="314.34" stroke="#333" stroke-width="0.8"/>
<line x1="291.55" y1="314.9" x2="291.55" y2="313.84" stroke="#333" stroke-width="0.8"/>
<line x1="235.98" y1="314.9" x2="235.98" y2="314.31" stroke="#333" stroke-width="0.8"/>
<line x1="465.82" y1="314.9" x2="465.82" y2="313.79" stroke="#333" stroke-width="0.8"/>
<line x1="186.3" y1="314.9" x2="186.3" y2="313.61" stroke="#333" stroke-width="0.8"/>
<line x1="205.27" y1="314.9" x2="205.27" y2="313.41" stroke="#333" stroke-width="0.8"/>
<line x1="171.41" y1="314.9" x2="171.41" y2="313.08" stroke="#333" stroke-width="0.8"/>
<line x1="412.44" y1="314.9" x2="412.44" y2="313.8" stroke="#333" stroke-width="0.8"/>
<line x1="330.19" y1="314.9" x2="330.19" y2="314.14" stroke="#333" stroke-width="0.8"/>
<line x1="244.52" y1="314.9" x2="244.52" y2="314.32" stroke="#333" stroke-width="0.8"/>
<line x1="219.66" y1="314.9" x2="219.66" y2="314.22" stroke="#333" stroke-width="0.8"/>
<line x1="243.54" y1="314.9" x2="243.54" y2="313.66" stroke="#333" stroke-width="0.8"/>
<line x1="242.53" y1="314.9" x2="242.53" y2="314.09" stroke="#333" stroke-width="0.8"/>
<line x1="378.71" y1="314.9" x2="378.71" y2="313.5" stroke="#333" stroke-width="0.8"/>
<line x1="349.06" y1="314.9" x2="349.06" y2="314.38" stroke="#333" stroke-width="0.8"/>
<line x1="416.79" y1="314.9" x2="416.79" y2="314.26" stroke="#333" stroke-width="0.8"/>
<line x1="300.21" y1="314.9" x2="300.21" y2="314.02" stroke="#333" stroke-width="0.8"/>
<line x1="205.33" y1="314.9" x2="205.33" y2="313.07" stroke="#333" stroke-width="0.8"/>
<line x1="290.86" y1="314.9" x2="290.86" y2="313.72" stroke="#333" stroke-width="0.8"/>
<line x1="199.95" y1="314.9" x2="199.95" y2="313.85" stroke="#333" stroke-width="0.8"/>
<line x1="431.77" y1="314.9" x2="431.77" y2="313.67" stroke="#333" stroke-width="0.8"/>
<line x1="252.74" y1="314.9" x2="252.74" y2="314.26" stroke="#333" stroke-width="0.8"/>
<line x1="254.7" y1="314.9" x2="254.7" y2="312.22" stroke="#333" stroke-width="0.8"/>
<line x1="253.95" y1="314.9" x2="253.95" y2="314.05" stroke="#333" stroke-width="0.8"/>
<line x1="467.61" y1="314.9" x2="467.61" y2="313.57" stroke="#333" stroke-width="0.8"/>
<line x1="399.42" y1="314.9" x2="399.42" y2="312.87" stroke="#333" stroke-width="0.8"/>
<line x1="322.29" y1="314.9" x2="322.29" y2="312.35" stroke="#333" stroke-width="0.8"/>
<line x1="243.16" y1="314.9" x2="243.16" y2="314.24" stroke="#333" stroke-width="0.8"/>
<line x1="286.02" y1="314.9" x2="286.02" y2="313.39" stroke="#333" stroke-width="0.8"/>
<line x1="331.94" y1="314.9" x2="331.94" y2="314.06" stroke="#333" stroke-width="0.8"/>
<line x1="279.59" y1="314.9" x2="279.59" y2="313.76" stroke="#333" stroke-width="0.8"/>
<line x1="381.22" y1="314.9" x2="381.22" y2="312.4" stroke="#333" stroke-width="0.8"/>
<line x1="338.47" y1="314.9" x2="338.47" y2="313.44" stroke="#333" stroke-width="0.8"/>
<line x1="473.78" y1="314.9" x2="473.78" y2="313.45" stroke="#333" stroke-width="0.8"/>
<line x1="292.55" y1="314.9" x2="292.55" y2="313.42" stroke="#333" stroke-width="0.8"/>
<line x1="285.48" y1="314.9" x2="285.48" y2="312.67" stroke="#333" stroke-width="0.8"/>
<line x1="464.22" y1="314.9" x2="464.22" y2="313.35" stroke="#333" stroke-width="0.8"/>
<line x1="283.62" y1="314.9" x2="283.62" y2="314.19" stroke="#333" stroke-width="0.8"/>
<line x1="401.66" y1="314.9" x2="401.66" y2="312.9" stroke="#333" stroke-width="0.8"/>
<line x1="181.99" y1="314.9" x2="181.99" y2="313.89" stroke="#333" stroke-width="0.8"/>
<line x1="290.29" y1="314.9" x2="290.29" y2="313.51" stroke="#333" stroke-width="0.8"/>
<line x1="314.34" y1="314.9" x2="314.34" y2="314.41" stroke="#333" stroke-width="0.8"/>
<line x1="235.53" y1="314.9" x2="235.53" y2="314.04" stroke="#333" stroke-width="0.8"/>
<line x1="185.6" y1="314.9" x2="185.6" y2="314.42" stroke="#333" stroke-width="0.8"/>
<line x1="396.2" y1="314.9" x2="396.2" y2="312.49" stroke="#333" stroke-width="0.8"/>
<line x1="329.07" y1="314.9" x2="329.07" y2="313.91" stroke="#333" stroke-width="0.8"/>
<line x1="210.76" y1="314.9" x2="210.76" y2="314.21" stroke="#333" stroke-width="0.8"/>
<line x1="435.75" y1="314.9" x2="435.75" y2="313.47" stroke="#333" stroke-width="0.8"/>
<line x1="272.97" y1="314.9" x2="272.97" y2="312.53" stroke="#333" stroke-width="0.8"/>
<line x1="436.53" y1="314.9" x2="436.53" y2="312.26" stroke="#333" stroke-width="0.8"/>
<line x1="231.24" y1="314.9" x2="231.24" y2="313.64" stroke="#333" stroke-width="0.8"/>
<line x1="392.77" y1="314.9" x2="392.77" y2="313.97" stroke="#333" stroke-width="0.8"/>
<line x1="258.23" y1="314.9" x2="258.23" y2="314.14" stroke="#333" stroke-width="0.8"/>
<line x1="417.69" y1="314.9" x2="417.69" y2="313.89" stroke="#333" stroke-width="0.8"/>
<line x1="240.33" y1="314.9" x2="240.33" y2="314.01" stroke="#333" stroke-width="0.8"/>
<line x1="254.41" y1="314.9" x2="254.41" y2="314.21" stroke="#333" stroke-width="0.8"/>
<line x1="261.28" y1="314.9" x2="261.28" y2="313.28" stroke="#333" stroke-width="0.8"/>
<line x1="363.36" y1="314.9" x2="363.36" y2="312.81" stroke="#333" stroke-width="0.8"/>
<line x1="210.93" y1="314.9" x2="210.93" y2="313.81" stroke="#333" stroke-width="0.8"/>
<line x1="400.13" y1="314.9" x2="400.13" y2="314.18" stroke="#333" stroke-width="0.8"/>
<line x1="317.13" y1="314.9" x2="317.13" y2="312.96" stroke="#333" stroke-width="0.8"/>
<line x1="307.9" y1="314.9" x2="307.9" y2="314.37" stroke="#333" stroke-width="0.8"/>
<line x1="325.45" y1="314.9" x2="325.45" y2="314.05" stroke="#333" stroke-width="0.8"/>
<line x1="331.55" y1="314.9" x2="331.55" y2="313.51" stroke="#333" stroke-width="0.8"/>
<line x1="242.1" y1="314.9" x2="242.1" y2="314.43" stroke="#333" stroke-width="0.8"/>
<line x1="264.71" y1="314.9" x2="264.71" y2="313.45" stroke="#333" stroke-width="0.8"/>
<line x1="473.98" y1="314.9" x2="473.98" y2="313.16" stroke="#333" stroke-width="0.8"/>
<line x1="306.05" y1="314.9" x2="306.05" y2="313.01" stroke="#333" stroke-width="0.8"/>
<line x1="273.64" y1="314.9" x2="273.64" y2="313.74" stroke="#333" stroke-width="0.8"/>
<line x1="364.71" y1="314.9" x2="364.71" y2="313.99" stroke="#333" stroke-width="0.8"/>
<line x1="202.05" y1="314.9" x2="202.05" y2="313.11" stroke="#333" stroke-width="0.8"/>
<line x1="324.08" y1="314.9" x2="324.08" y2="312.99" stroke="#333" stroke-width="0.8"/>
<line x1="272.6" y1="314.9" x2="272.6" y2="312.54" stroke="#333" stroke-width="0.8"/>
<line x1="390.66" y1="314.9" x2="390.66" y2="313.94" stroke="#333" stroke-width="0.8"/>
<line x1="368.91" y1="314.9" x2="368.91" y2="312.95" stroke="#333" stroke-width="0.8"/>
<line x1="451.15" y1="314.9" x2="451.15" y2="313.79" stroke="#333" stroke-width="0.8"/>
<line x1="318.22" y1="314.9" x2="318.22" y2="313.9" stroke="#333" stroke-width="0.8"/>
<line x1="203.72" y1="314.9" x2="203.72" y2="313.65" stroke="#333" stroke-width="0.8"/>
<line x1="302.76" y1="314.9" x2="302.76" y2="314.11" stroke="#333" stroke-width="0.8"/>
<line x1="239.57" y1="314.9" x2="239.57" y2="313.39" stroke="#333" stroke-width="0.8"/>
<line x1="262.82" y1="314.9" x2="262.82" y2="313.59" stroke="#333" stroke-width="0.8"/>
<line x1="334.28" y1="314.9" x2="334.28" y2="312.4" stroke="#333" stroke-width="0.8"/>
<line x1="467.86" y1="314.9" x2="467.86" y2="314.13" stroke="#333" stroke-width="0.8"/>
<line x1="207.26" y1="314.9" x2="207.26" y2="313.69" stroke="#333" stroke-width="0.8"/>
<line x1="431.79" y1="314.9" x2="431.79" y2="313.24" stroke="#333" stroke-width="0.8"/>
<line x1="180.46" y1="314.9" x2="180.46" y2="313.75" stroke="#333" stroke-width="0.8"/>
<line x1="426.66" y1="314.9" x2="426.66" y2="314.41" stroke="#333" stroke-width="0.8"/>
<line x1="382.11" y1="314.9" x2="382.11" y2="314.01" stroke="#333" stroke-width="0.8"/>
<line x1="295.06" y1="314.9" x2="295.06" y2="312.84" stroke="#333" stroke-width="0.8"/>
<line x1="426.62" y1="314.9" x2="426.62" y2="312.42" stroke="#333" stroke-width="0.8"/>
<line x1="308.28" y1="314.9" x2="308.28" y2="313.96" stroke="#333" stroke-width="0.8"/>
<line x1="445.57" y1="314.9" x2="445.57" y2="313.34" stroke="#333" stroke-width="0.8"/>
<line x1="449.39" y1="314.9" x2="449.39" y2="314.1" stroke="#333" stroke-width="0.8"/>
<line x1="365.52" y1="314.9" x2="365.52" y2="314.08" stroke="#333" stroke-width="0.8"/>
<line x1="286.9" y1="314.9" x2="286.9" y2="313.55" stroke="#333" stroke-width="0.8"/>
<line x1="333.71" y1="314.9" x2="333.71" y2="314.35" stroke="#333" stroke-width="0.8"/>
<line x1="437.7" y1="314.9" x2="437.7" y2="313.93" stroke="#333" stroke-width="0.8"/>
<line x1="352.24" y1="314.9" x2="352.24" y2="314.07" stroke="#333" stroke-width="0.8"/>
<line x1="326.22" y1="314.9" x2="326.22" y2="312.4" stroke="#333" stroke-width="0.8"/>
<line x1="225.31" y1="314.9" x2="225.31" y2="313.3" stroke="#333" stroke-width="0.8"/>
<line x1="446.24" y1="314.9" x2="446.24" y2="313.47" stroke="#333" stroke-width="0.8"/>
<line x1="369.2" y1="314.9" x2="369.2" y2="312.67" stroke="#333" stroke-width="0.8"/>
<line x1="473.55" y1="314.9" x2="473.55" y2="313.9" stroke="#333" stroke-width="0.8"/>
<line x1="391.02" y1="314.9" x2="391.02" y2="314.11" stroke="#333" stroke-width="0.8"/>
<line x1="201.63" y1="314.9" x2="201.63" y2="312.16" stroke="#333" stroke-width="0.8"/>
<line x1="333.31" y1="314.9" x2="333.31" y2="314.11" stroke="#333" stroke-width="0.8"/>
<line x1="455.67" y1="314.9" x2="455.67" y2="313.98" stroke="#333" stroke-width="0.8"/>
<line x1="347.2" y1="314.9" x2="347.2" y2="313.68" stroke="#333" stroke-width="0.8"/>
<line x1="285.56" y1="314.9" x2="285.56" y2="314.04" stroke="#333" stroke-width="0.8"/>
<line x1="207.07" y1="314.9" x2="207.07" y2="313.97" stroke="#333" stroke-width="0.8"/>
<line x1="379.89" y1="314.9" x2="379.89" y2="313.19" stroke="#333" stroke-width="0.8"/>
<line x1="400.22" y1="314.9" x2="400.22" y2="313.94" stroke="#333" stroke-width="0.8"/>
<line x1="414.94" y1="314.9" x2="414.94" y2="313.8" stroke="#333" stroke-width="0.8"/>
<line x1="171.28" y1="314.9" x2="171.28" y2="313.98" stroke="#333" stroke-width="0.8"/>
<line x1="205.7" y1="314.9" x2="205.7" y2="297.8" stroke="#222222" stroke-width="1.25"/>
<line x1="212.6" y1="314.9" x2="212.6" y2="310.2" stroke="#222222" stroke-width="1.25"/>
<line x1="226.5" y1="314.9" x2="226.5" y2="287" stroke="#222222" stroke-width="1.25"/>
<line x1="243.5" y1="314.9" x2="243.5" y2="311" stroke="#222222" stroke-width="1.25"/>
<line x1="250.7" y1="314.9" x2="250.7" y2="299.9" stroke="#222222" stroke-width="1.25"/>
<line x1="252.7" y1="314.9" x2="252.7" y2="300.2" stroke="#222222" stroke-width="1.25"/>
<line x1="256.1" y1="314.9" x2="256.1" y2="306.8" stroke="#222222" stroke-width="1.25"/>
<line x1="265.2" y1="314.9" x2="265.2" y2="303.5" stroke="#222222" stroke-width="1.25"/>
<line x1="279.1" y1="314.9" x2="279.1" y2="308.2" stroke="#222222" stroke-width="1.25"/>
<line x1="282.1" y1="314.9" x2="282.1" y2="263.8" stroke="#222222" stroke-width="1.25"/>
<line x1="282.8" y1="314.9" x2="282.8" y2="307" stroke="#222222" stroke-width="1.25"/>
<line x1="285.4" y1="314.9" x2="285.4" y2="299.9" stroke="#222222" stroke-width="1.25"/>
<line x1="294.3" y1="314.9" x2="294.3" y2="291.6" stroke="#222222" stroke-width="1.25"/>
<line x1="296.7" y1="314.9" x2="296.7" y2="311.5" stroke="#222222" stroke-width="1.25"/>
<line x1="303.3" y1="314.9" x2="303.3" y2="311.5" stroke="#222222" stroke-width="1.25"/>
<line x1="308.5" y1="314.9" x2="308.5" y2="301.2" stroke="#222222" stroke-width="1.25"/>
<line x1="311.6" y1="314.9" x2="311.6" y2="301.8" stroke="#222222" stroke-width="1.25"/>
<line x1="317.7" y1="314.9" x2="317.7" y2="310.4" stroke="#222222" stroke-width="1.25"/>
<line x1="333" y1="314.9" x2="333" y2="311" stroke="#222222" stroke-width="1.25"/>
<line x1="339" y1="314.9" x2="339" y2="311.5" stroke="#222222" stroke-width="1.25"/>
<line x1="344" y1="314.9" x2="344" y2="309.5" stroke="#222222" stroke-width="1.25"/>
<line x1="362.5" y1="314.9" x2="362.5" y2="309.5" stroke="#222222" stroke-width="1.25"/>
<line x1="368" y1="314.9" x2="368" y2="311" stroke="#222222" stroke-width="1.25"/>
<line x1="375.6" y1="314.9" x2="375.6" y2="300.3" stroke="#222222" stroke-width="1.25"/>
<line x1="385.8" y1="314.9" x2="385.8" y2="307" stroke="#222222" stroke-width="1.25"/>
<line x1="391" y1="314.9" x2="391" y2="311.5" stroke="#222222" stroke-width="1.25"/>
<line x1="396.5" y1="314.9" x2="396.5" y2="307.3" stroke="#222222" stroke-width="1.25"/>
<line x1="402.6" y1="314.9" x2="402.6" y2="304.9" stroke="#222222" stroke-width="1.25"/>
<line x1="416.4" y1="314.9" x2="416.4" y2="308.2" stroke="#222222" stroke-width="1.25"/>
<line x1="422.5" y1="314.9" x2="422.5" y2="308.2" stroke="#222222" stroke-width="1.25"/>
<line x1="444" y1="314.9" x2="444" y2="304.9" stroke="#222222" stroke-width="1.25"/>
<line x1="284.6" y1="314.9" x2="284.6" y2="223.1" stroke="#222222" stroke-width="1.1"/>
<line x1="284.6" y1="212.7" x2="284.6" y2="192.8" stroke="#222222" stroke-width="1.1"/>
<text x="178" y="306.1" font-family='"Liberation Sans", sans-serif' font-size="13" fill="#3b2fd6" stroke="#3b2fd6" stroke-width="0.3"><tspan font-size="13">b</tspan><tspan font-size="7.8" dy="4.1">2</tspan></text>
<text x="200.6" y="292.5" font-family='"Liberation Sans", sans-serif' font-size="13" fill="#d9253a" stroke="#d9253a" stroke-width="0.3"><tspan font-size="13">y</tspan><tspan font-size="7.8" dy="4.1">2</tspan></text>
<text x="208.5" y="306.1" font-family='"Liberation Sans", sans-serif' font-size="13" fill="#3b2fd6" stroke="#3b2fd6" stroke-width="0.3"><tspan font-size="13">b</tspan><tspan font-size="7.8" dy="4.1">3</tspan></text>
<text x="220.8" y="282.2" font-family='"Liberation Sans", sans-serif' font-size="13" fill="#d9253a" stroke="#d9253a" stroke-width="0.3"><tspan font-size="13">y</tspan><tspan font-size="7.8" dy="4.1">3</tspan></text>
<text x="236.6" y="286" font-family='"Liberation Sans", sans-serif' font-size="13" fill="#eda536" stroke="#eda536" stroke-width="0.3"><tspan font-size="13">y</tspan><tspan font-size="7.8" dy="4.1">4</tspan><tspan font-size="13" dy="-4.1">-NH</tspan><tspan font-size="7.8" dy="4.1">3</tspan></text>
<text x="238.1" y="309.5" font-family='"Liberation Sans", sans-serif' font-size="13" fill="#3b2fd6" stroke="#3b2fd6" stroke-width="0.3"><tspan font-size="13">b</tspan><tspan font-size="7.8" dy="4.1">4</tspan></text>
<text x="253.1" y="300.4" font-family='"Liberation Sans", sans-serif' font-size="13" fill="#d9253a" stroke="#d9253a" stroke-width="0.3"><tspan font-size="13">y</tspan><tspan font-size="7.8" dy="4.1">4</tspan></text>
<text x="287.2" y="284.6" font-family='"Liberation Sans", sans-serif' font-size="13" fill="#d9253a" stroke="#d9253a" stroke-width="0.3"><tspan font-size="13">y</tspan><tspan font-size="7.8" dy="4.1">5</tspan></text>
<text x="239.2" y="247.4" font-family='"Liberation Sans", sans-serif' font-size="13" fill="#eda536" stroke="#eda536" stroke-width="0.3"><tspan font-size="13">y</tspan><tspan font-size="7.8" dy="4.1">8</tspan><tspan font-size="13" dy="-4.1">-H</tspan><tspan font-size="7.8" dy="4.1">2</tspan><tspan font-size="13" dy="-4.1">O</tspan><tspan font-size="7.8" dy="-4">2+</tspan></text>
<text x="276.3" y="185.5" font-family='"Liberation Sans", sans-serif' font-size="13" fill="#d9253a" stroke="#d9253a" stroke-width="0.3"><tspan font-size="13">y</tspan><tspan font-size="7.8" dy="4.1">8</tspan><tspan font-size="7.8" dy="-8.5">+2</tspan></text>
<text x="296.1" y="308.4" font-family='"Liberation Sans", sans-serif' font-size="13" fill="#d9253a" stroke="#d9253a" stroke-width="0.3"><tspan font-size="13">y</tspan><tspan font-size="7.8" dy="4.1">9</tspan><tspan font-size="7.8" dy="-7">2+</tspan></text>
<text x="337.6" y="305.5" font-family='"Liberation Sans", sans-serif' font-size="13" fill="#3b2fd6" stroke="#3b2fd6" stroke-width="0.3"><tspan font-size="13">b</tspan><tspan font-size="7.8" dy="4.1">5</tspan></text>
<text x="361.4" y="305.5" font-family='"Liberation Sans", sans-serif' font-size="13" fill="#3b2fd6" stroke="#3b2fd6" stroke-width="0.3"><tspan font-size="13">b</tspan><tspan font-size="7.8" dy="4.1">6</tspan></text>
<text x="379.4" y="303.8" font-family='"Liberation Sans", sans-serif' font-size="13" fill="#d9253a" stroke="#d9253a" stroke-width="0.3"><tspan font-size="13">y</tspan><tspan font-size="7.8" dy="4.1">6</tspan></text>
<text x="396.8" y="303" font-family='"Liberation Sans", sans-serif' font-size="13" fill="#3b2fd6" stroke="#3b2fd6" stroke-width="0.3"><tspan font-size="13">b</tspan><tspan font-size="7.8" dy="4.1">7</tspan></text>
<text x="407.8" y="307.3" font-family='"Liberation Sans", sans-serif' font-size="13" fill="#d9253a" stroke="#d9253a" stroke-width="0.3"><tspan font-size="13">y</tspan><tspan font-size="7.8" dy="4.1">7</tspan></text>
<text x="418.9" y="305" font-family='"Liberation Sans", sans-serif' font-size="13" fill="#3b2fd6" stroke="#3b2fd6" stroke-width="0.3"><tspan font-size="13">b</tspan><tspan font-size="7.8" dy="4.1">8</tspan></text>
<text x="436.8" y="302" font-family='"Liberation Sans", sans-serif' font-size="13" fill="#d9253a" stroke="#d9253a" stroke-width="0.3"><tspan font-size="13">y</tspan><tspan font-size="7.8" dy="4.1">8</tspan></text>
<text x="446.5" y="309.5" font-family='"Liberation Sans", sans-serif' font-size="13" fill="#3b2fd6" stroke="#3b2fd6" stroke-width="0.3"><tspan font-size="13">b</tspan><tspan font-size="7.8" dy="4.1">9</tspan></text>
<line x1="277.5" y1="253.3" x2="281.1" y2="262.2" stroke="#eda536" stroke-width="0.9"/>
<line x1="247.8" y1="291" x2="250.1" y2="299.9" stroke="#eda536" stroke-width="0.9"/>
<line x1="287.4" y1="292" x2="285.6" y2="298" stroke="#d9253a" stroke-width="0.9"/>
<text x="352.5" y="204.5" font-family='"Liberation Serif", serif' font-size="12.5" fill="#444" text-anchor="middle">A</text>
<text x="364.85" y="204.5" font-family='"Liberation Serif", serif' font-size="12.5" fill="#444" text-anchor="middle">E</text>
<text x="377.2" y="204.5" font-family='"Liberation Serif", serif' font-size="12.5" fill="#444" text-anchor="middle">P</text>
<text x="389.55" y="204.5" font-family='"Liberation Serif", serif' font-size="12.5" fill="#444" text-anchor="middle">V</text>
<text x="401.9" y="204.5" font-family='"Liberation Serif", serif' font-size="12.5" fill="#d9253a" text-anchor="middle" font-weight="bold">E</text>
<text x="414.25" y="204.5" font-family='"Liberation Serif", serif' font-size="12.5" fill="#444" text-anchor="middle">V</text>
<text x="426.6" y="204.5" font-family='"Liberation Serif", serif' font-size="12.5" fill="#444" text-anchor="middle">V</text>
<text x="438.95" y="204.5" font-family='"Liberation Serif", serif' font-size="12.5" fill="#444" text-anchor="middle">A</text>
<text x="451.3" y="204.5" font-family='"Liberation Serif", serif' font-size="12.5" fill="#444" text-anchor="middle">P</text>
<text x="463.65" y="204.5" font-family='"Liberation Serif", serif' font-size="12.5" fill="#444" text-anchor="middle">R</text>
<text x="348.3" y="199.8" font-family='"Liberation Serif", serif' font-size="7.5" fill="#444" text-anchor="end">487</text>
<text x="468.6" y="199.8" font-family='"Liberation Serif", serif' font-size="7.5" fill="#444">496</text>
<polyline points="358.68,200 358.68,189.3 370.23,189.3" fill="none" stroke="#d9253a" stroke-width="1.3"/>
<polyline points="371.02,200 371.02,189.3 382.57,189.3" fill="none" stroke="#d9253a" stroke-width="1.3"/>
<polyline points="383.38,200 383.38,189.3 394.93,189.3" fill="none" stroke="#d9253a" stroke-width="1.3"/>
<polyline points="395.73,200 395.73,189.3 407.28,189.3" fill="none" stroke="#d9253a" stroke-width="1.3"/>
<polyline points="408.07,200 408.07,189.3 419.62,189.3" fill="none" stroke="#d9253a" stroke-width="1.3"/>
<polyline points="420.43,200 420.43,189.3 431.98,189.3" fill="none" stroke="#d9253a" stroke-width="1.3"/>
<polyline points="432.77,200 432.77,189.3 444.32,189.3" fill="none" stroke="#d9253a" stroke-width="1.3"/>
<polyline points="445.12,200 445.12,189.3 456.68,189.3" fill="none" stroke="#d9253a" stroke-width="1.3"/>
<polyline points="359.47,211 371.02,211 371.02,200" fill="none" stroke="#3b2fd6" stroke-width="1.3"/>
<polyline points="371.82,211 383.38,211 383.38,200" fill="none" stroke="#3b2fd6" stroke-width="1.3"/>
<polyline points="384.18,211 395.73,211 395.73,200" fill="none" stroke="#3b2fd6" stroke-width="1.3"/>
<polyline points="396.52,211 408.07,211 408.07,200" fill="none" stroke="#3b2fd6" stroke-width="1.3"/>
<polyline points="408.88,211 420.43,211 420.43,200" fill="none" stroke="#3b2fd6" stroke-width="1.3"/>
<polyline points="421.22,211 432.77,211 432.77,200" fill="none" stroke="#3b2fd6" stroke-width="1.3"/>
<polyline points="433.57,211 445.12,211 445.12,200" fill="none" stroke="#3b2fd6" stroke-width="1.3"/>
<polyline points="445.93,211 457.48,211 457.48,200" fill="none" stroke="#3b2fd6" stroke-width="1.3"/>
<rect x="379.7" y="227" width="47" height="20.6" fill="#b0b0b0"/>
<text x="382.8" y="240.8" font-family='"Liberation Sans", sans-serif' font-size="12.5" fill="#1a1a1a" stroke="#1a1a1a" stroke-width="0.25" textLength="40.8" lengthAdjust="spacingAndGlyphs"><tspan font-style="italic">Ec</tspan><tspan>RppH</tspan></text>
<line x1="167.2" y1="491.4" x2="167.2" y2="400.4" stroke="#8c8c8c" stroke-width="1.3"/>
<line x1="167.2" y1="390.7" x2="167.2" y2="368" stroke="#8c8c8c" stroke-width="1.3"/>
<line x1="163.2" y1="368" x2="167.8" y2="368" stroke="#8c8c8c" stroke-width="1.2"/>
<text x="161.2" y="371.4" font-family='"Liberation Sans", sans-serif' font-size="9.6" fill="#111" text-anchor="end" font-weight="bold">6</text>
<line x1="163.2" y1="390.7" x2="169.9" y2="390.7" stroke="#8c8c8c" stroke-width="1.2"/>
<text x="161.2" y="394.1" font-family='"Liberation Sans", sans-serif' font-size="9.6" fill="#111" text-anchor="end" font-weight="bold">4</text>
<line x1="163.2" y1="400.4" x2="169.9" y2="400.4" stroke="#8c8c8c" stroke-width="1.2"/>
<text x="161.2" y="403.8" font-family='"Liberation Sans", sans-serif' font-size="9.6" fill="#111" text-anchor="end" font-weight="bold">1</text>
<line x1="163.2" y1="446" x2="167.8" y2="446" stroke="#8c8c8c" stroke-width="1.2"/>
<text x="161.2" y="449.4" font-family='"Liberation Sans", sans-serif' font-size="9.6" fill="#111" text-anchor="end" font-weight="bold">.5</text>
<line x1="163.2" y1="491.4" x2="167.8" y2="491.4" stroke="#8c8c8c" stroke-width="1.2"/>
<text x="161.2" y="494.8" font-family='"Liberation Sans", sans-serif' font-size="9.6" fill="#111" text-anchor="end" font-weight="bold">0</text>
<line x1="163" y1="491.4" x2="476.4" y2="491.4" stroke="#333333" stroke-width="1.3"/>
<line x1="167.09" y1="491.4" x2="167.09" y2="493.9" stroke="#555555" stroke-width="0.9"/>
<line x1="170.03" y1="491.4" x2="170.03" y2="493.9" stroke="#555555" stroke-width="0.9"/>
<line x1="172.97" y1="491.4" x2="172.97" y2="493.9" stroke="#555555" stroke-width="0.9"/>
<line x1="175.92" y1="491.4" x2="175.92" y2="493.9" stroke="#555555" stroke-width="0.9"/>
<line x1="178.86" y1="491.4" x2="178.86" y2="493.9" stroke="#555555" stroke-width="0.9"/>
<line x1="181.8" y1="491.4" x2="181.8" y2="495.4" stroke="#333333" stroke-width="1.1"/>
<line x1="184.74" y1="491.4" x2="184.74" y2="493.9" stroke="#555555" stroke-width="0.9"/>
<line x1="187.68" y1="491.4" x2="187.68" y2="493.9" stroke="#555555" stroke-width="0.9"/>
<line x1="190.63" y1="491.4" x2="190.63" y2="493.9" stroke="#555555" stroke-width="0.9"/>
<line x1="193.57" y1="491.4" x2="193.57" y2="493.9" stroke="#555555" stroke-width="0.9"/>
<line x1="196.51" y1="491.4" x2="196.51" y2="493.9" stroke="#555555" stroke-width="0.9"/>
<line x1="199.45" y1="491.4" x2="199.45" y2="493.9" stroke="#555555" stroke-width="0.9"/>
<line x1="202.39" y1="491.4" x2="202.39" y2="493.9" stroke="#555555" stroke-width="0.9"/>
<line x1="205.34" y1="491.4" x2="205.34" y2="493.9" stroke="#555555" stroke-width="0.9"/>
<line x1="208.28" y1="491.4" x2="208.28" y2="493.9" stroke="#555555" stroke-width="0.9"/>
<line x1="211.22" y1="491.4" x2="211.22" y2="495.4" stroke="#333333" stroke-width="1.1"/>
<line x1="214.16" y1="491.4" x2="214.16" y2="493.9" stroke="#555555" stroke-width="0.9"/>
<line x1="217.1" y1="491.4" x2="217.1" y2="493.9" stroke="#555555" stroke-width="0.9"/>
<line x1="220.05" y1="491.4" x2="220.05" y2="493.9" stroke="#555555" stroke-width="0.9"/>
<line x1="222.99" y1="491.4" x2="222.99" y2="493.9" stroke="#555555" stroke-width="0.9"/>
<line x1="225.93" y1="491.4" x2="225.93" y2="493.9" stroke="#555555" stroke-width="0.9"/>
<line x1="228.87" y1="491.4" x2="228.87" y2="493.9" stroke="#555555" stroke-width="0.9"/>
<line x1="231.81" y1="491.4" x2="231.81" y2="493.9" stroke="#555555" stroke-width="0.9"/>
<line x1="234.76" y1="491.4" x2="234.76" y2="493.9" stroke="#555555" stroke-width="0.9"/>
<line x1="237.7" y1="491.4" x2="237.7" y2="493.9" stroke="#555555" stroke-width="0.9"/>
<line x1="240.64" y1="491.4" x2="240.64" y2="495.4" stroke="#333333" stroke-width="1.1"/>
<line x1="243.58" y1="491.4" x2="243.58" y2="493.9" stroke="#555555" stroke-width="0.9"/>
<line x1="246.52" y1="491.4" x2="246.52" y2="493.9" stroke="#555555" stroke-width="0.9"/>
<line x1="249.47" y1="491.4" x2="249.47" y2="493.9" stroke="#555555" stroke-width="0.9"/>
<line x1="252.41" y1="491.4" x2="252.41" y2="493.9" stroke="#555555" stroke-width="0.9"/>
<line x1="255.35" y1="491.4" x2="255.35" y2="493.9" stroke="#555555" stroke-width="0.9"/>
<line x1="258.29" y1="491.4" x2="258.29" y2="493.9" stroke="#555555" stroke-width="0.9"/>
<line x1="261.23" y1="491.4" x2="261.23" y2="493.9" stroke="#555555" stroke-width="0.9"/>
<line x1="264.18" y1="491.4" x2="264.18" y2="493.9" stroke="#555555" stroke-width="0.9"/>
<line x1="267.12" y1="491.4" x2="267.12" y2="493.9" stroke="#555555" stroke-width="0.9"/>
<line x1="270.06" y1="491.4" x2="270.06" y2="495.4" stroke="#333333" stroke-width="1.1"/>
<line x1="273" y1="491.4" x2="273" y2="493.9" stroke="#555555" stroke-width="0.9"/>
<line x1="275.94" y1="491.4" x2="275.94" y2="493.9" stroke="#555555" stroke-width="0.9"/>
<line x1="278.89" y1="491.4" x2="278.89" y2="493.9" stroke="#555555" stroke-width="0.9"/>
<line x1="281.83" y1="491.4" x2="281.83" y2="493.9" stroke="#555555" stroke-width="0.9"/>
<line x1="284.77" y1="491.4" x2="284.77" y2="493.9" stroke="#555555" stroke-width="0.9"/>
<line x1="287.71" y1="491.4" x2="287.71" y2="493.9" stroke="#555555" stroke-width="0.9"/>
<line x1="290.65" y1="491.4" x2="290.65" y2="493.9" stroke="#555555" stroke-width="0.9"/>
<line x1="293.6" y1="491.4" x2="293.6" y2="493.9" stroke="#555555" stroke-width="0.9"/>
<line x1="296.54" y1="491.4" x2="296.54" y2="493.9" stroke="#555555" stroke-width="0.9"/>
<line x1="299.48" y1="491.4" x2="299.48" y2="495.4" stroke="#333333" stroke-width="1.1"/>
<line x1="302.42" y1="491.4" x2="302.42" y2="493.9" stroke="#555555" stroke-width="0.9"/>
<line x1="305.36" y1="491.4" x2="305.36" y2="493.9" stroke="#555555" stroke-width="0.9"/>
<line x1="308.31" y1="491.4" x2="308.31" y2="493.9" stroke="#555555" stroke-width="0.9"/>
<line x1="311.25" y1="491.4" x2="311.25" y2="493.9" stroke="#555555" stroke-width="0.9"/>
<line x1="314.19" y1="491.4" x2="314.19" y2="493.9" stroke="#555555" stroke-width="0.9"/>
<line x1="317.13" y1="491.4" x2="317.13" y2="493.9" stroke="#555555" stroke-width="0.9"/>
<line x1="320.07" y1="491.4" x2="320.07" y2="493.9" stroke="#555555" stroke-width="0.9"/>
<line x1="323.02" y1="491.4" x2="323.02" y2="493.9" stroke="#555555" stroke-width="0.9"/>
<line x1="325.96" y1="491.4" x2="325.96" y2="493.9" stroke="#555555" stroke-width="0.9"/>
<line x1="328.9" y1="491.4" x2="328.9" y2="495.4" stroke="#333333" stroke-width="1.1"/>
<line x1="331.84" y1="491.4" x2="331.84" y2="493.9" stroke="#555555" stroke-width="0.9"/>
<line x1="334.78" y1="491.4" x2="334.78" y2="493.9" stroke="#555555" stroke-width="0.9"/>
<line x1="337.73" y1="491.4" x2="337.73" y2="493.9" stroke="#555555" stroke-width="0.9"/>
<line x1="340.67" y1="491.4" x2="340.67" y2="493.9" stroke="#555555" stroke-width="0.9"/>
<line x1="343.61" y1="491.4" x2="343.61" y2="493.9" stroke="#555555" stroke-width="0.9"/>
<line x1="346.55" y1="491.4" x2="346.55" y2="493.9" stroke="#555555" stroke-width="0.9"/>
<line x1="349.49" y1="491.4" x2="349.49" y2="493.9" stroke="#555555" stroke-width="0.9"/>
<line x1="352.44" y1="491.4" x2="352.44" y2="493.9" stroke="#555555" stroke-width="0.9"/>
<line x1="355.38" y1="491.4" x2="355.38" y2="493.9" stroke="#555555" stroke-width="0.9"/>
<line x1="358.32" y1="491.4" x2="358.32" y2="495.4" stroke="#333333" stroke-width="1.1"/>
<line x1="361.26" y1="491.4" x2="361.26" y2="493.9" stroke="#555555" stroke-width="0.9"/>
<line x1="364.2" y1="491.4" x2="364.2" y2="493.9" stroke="#555555" stroke-width="0.9"/>
<line x1="367.15" y1="491.4" x2="367.15" y2="493.9" stroke="#555555" stroke-width="0.9"/>
<line x1="370.09" y1="491.4" x2="370.09" y2="493.9" stroke="#555555" stroke-width="0.9"/>
<line x1="373.03" y1="491.4" x2="373.03" y2="493.9" stroke="#555555" stroke-width="0.9"/>
<line x1="375.97" y1="491.4" x2="375.97" y2="493.9" stroke="#555555" stroke-width="0.9"/>
<line x1="378.91" y1="491.4" x2="378.91" y2="493.9" stroke="#555555" stroke-width="0.9"/>
<line x1="381.86" y1="491.4" x2="381.86" y2="493.9" stroke="#555555" stroke-width="0.9"/>
<line x1="384.8" y1="491.4" x2="384.8" y2="493.9" stroke="#555555" stroke-width="0.9"/>
<line x1="387.74" y1="491.4" x2="387.74" y2="495.4" stroke="#333333" stroke-width="1.1"/>
<line x1="390.68" y1="491.4" x2="390.68" y2="493.9" stroke="#555555" stroke-width="0.9"/>
<line x1="393.62" y1="491.4" x2="393.62" y2="493.9" stroke="#555555" stroke-width="0.9"/>
<line x1="396.57" y1="491.4" x2="396.57" y2="493.9" stroke="#555555" stroke-width="0.9"/>
<line x1="399.51" y1="491.4" x2="399.51" y2="493.9" stroke="#555555" stroke-width="0.9"/>
<line x1="402.45" y1="491.4" x2="402.45" y2="493.9" stroke="#555555" stroke-width="0.9"/>
<line x1="405.39" y1="491.4" x2="405.39" y2="493.9" stroke="#555555" stroke-width="0.9"/>
<line x1="408.33" y1="491.4" x2="408.33" y2="493.9" stroke="#555555" stroke-width="0.9"/>
<line x1="411.28" y1="491.4" x2="411.28" y2="493.9" stroke="#555555" stroke-width="0.9"/>
<line x1="414.22" y1="491.4" x2="414.22" y2="493.9" stroke="#555555" stroke-width="0.9"/>
<line x1="417.16" y1="491.4" x2="417.16" y2="495.4" stroke="#333333" stroke-width="1.1"/>
<line x1="420.1" y1="491.4" x2="420.1" y2="493.9" stroke="#555555" stroke-width="0.9"/>
<line x1="423.04" y1="491.4" x2="423.04" y2="493.9" stroke="#555555" stroke-width="0.9"/>
<line x1="425.99" y1="491.4" x2="425.99" y2="493.9" stroke="#555555" stroke-width="0.9"/>
<line x1="428.93" y1="491.4" x2="428.93" y2="493.9" stroke="#555555" stroke-width="0.9"/>
<line x1="431.87" y1="491.4" x2="431.87" y2="493.9" stroke="#555555" stroke-width="0.9"/>
<line x1="434.81" y1="491.4" x2="434.81" y2="493.9" stroke="#555555" stroke-width="0.9"/>
<line x1="437.75" y1="491.4" x2="437.75" y2="493.9" stroke="#555555" stroke-width="0.9"/>
<line x1="440.7" y1="491.4" x2="440.7" y2="493.9" stroke="#555555" stroke-width="0.9"/>
<line x1="443.64" y1="491.4" x2="443.64" y2="493.9" stroke="#555555" stroke-width="0.9"/>
<line x1="446.58" y1="491.4" x2="446.58" y2="495.4" stroke="#333333" stroke-width="1.1"/>
<line x1="449.52" y1="491.4" x2="449.52" y2="493.9" stroke="#555555" stroke-width="0.9"/>
<line x1="452.46" y1="491.4" x2="452.46" y2="493.9" stroke="#555555" stroke-width="0.9"/>
<line x1="455.41" y1="491.4" x2="455.41" y2="493.9" stroke="#555555" stroke-width="0.9"/>
<line x1="458.35" y1="491.4" x2="458.35" y2="493.9" stroke="#555555" stroke-width="0.9"/>
<line x1="461.29" y1="491.4" x2="461.29" y2="493.9" stroke="#555555" stroke-width="0.9"/>
<line x1="464.23" y1="491.4" x2="464.23" y2="493.9" stroke="#555555" stroke-width="0.9"/>
<line x1="467.17" y1="491.4" x2="467.17" y2="493.9" stroke="#555555" stroke-width="0.9"/>
<line x1="470.12" y1="491.4" x2="470.12" y2="493.9" stroke="#555555" stroke-width="0.9"/>
<line x1="473.06" y1="491.4" x2="473.06" y2="493.9" stroke="#555555" stroke-width="0.9"/>
<line x1="476" y1="491.4" x2="476" y2="495.4" stroke="#333333" stroke-width="1.1"/>
<text x="181.8" y="505" font-family='"Liberation Sans", sans-serif' font-size="9.3" fill="#111" text-anchor="middle" font-weight="bold" textLength="14.55" lengthAdjust="spacingAndGlyphs">200</text>
<text x="211.22" y="505" font-family='"Liberation Sans", sans-serif' font-size="9.3" fill="#111" text-anchor="middle" font-weight="bold" textLength="14.55" lengthAdjust="spacingAndGlyphs">300</text>
<text x="240.64" y="505" font-family='"Liberation Sans", sans-serif' font-size="9.3" fill="#111" text-anchor="middle" font-weight="bold" textLength="14.55" lengthAdjust="spacingAndGlyphs">400</text>
<text x="270.06" y="505" font-family='"Liberation Sans", sans-serif' font-size="9.3" fill="#111" text-anchor="middle" font-weight="bold" textLength="14.55" lengthAdjust="spacingAndGlyphs">500</text>
<text x="299.48" y="505" font-family='"Liberation Sans", sans-serif' font-size="9.3" fill="#111" text-anchor="middle" font-weight="bold" textLength="14.55" lengthAdjust="spacingAndGlyphs">600</text>
<text x="328.9" y="505" font-family='"Liberation Sans", sans-serif' font-size="9.3" fill="#111" text-anchor="middle" font-weight="bold" textLength="14.55" lengthAdjust="spacingAndGlyphs">700</text>
<text x="358.32" y="505" font-family='"Liberation Sans", sans-serif' font-size="9.3" fill="#111" text-anchor="middle" font-weight="bold" textLength="14.55" lengthAdjust="spacingAndGlyphs">800</text>
<text x="387.74" y="505" font-family='"Liberation Sans", sans-serif' font-size="9.3" fill="#111" text-anchor="middle" font-weight="bold" textLength="14.55" lengthAdjust="spacingAndGlyphs">900</text>
<text x="417.16" y="505" font-family='"Liberation Sans", sans-serif' font-size="9.3" fill="#111" text-anchor="middle" font-weight="bold" textLength="19.4" lengthAdjust="spacingAndGlyphs">1000</text>
<text x="446.58" y="505" font-family='"Liberation Sans", sans-serif' font-size="9.3" fill="#111" text-anchor="middle" font-weight="bold" textLength="19.4" lengthAdjust="spacingAndGlyphs">1100</text>
<text x="476" y="505" font-family='"Liberation Sans", sans-serif' font-size="9.3" fill="#111" text-anchor="middle" font-weight="bold" textLength="19.4" lengthAdjust="spacingAndGlyphs">1200</text>
<text x="0" y="0" transform="translate(142.8,430.7) rotate(-90)" font-family='"Liberation Sans", sans-serif' font-size="11.5" font-weight="bold" fill="#111" text-anchor="middle" textLength="74.6" lengthAdjust="spacingAndGlyphs">Intensity (e4)</text>
<line x1="342.95" y1="491.7" x2="342.95" y2="488.98" stroke="#333" stroke-width="0.8"/>
<line x1="253.57" y1="491.7" x2="253.57" y2="488.66" stroke="#333" stroke-width="0.8"/>
<line x1="446.19" y1="491.7" x2="446.19" y2="490.58" stroke="#333" stroke-width="0.8"/>
<line x1="357.22" y1="491.7" x2="357.22" y2="488.94" stroke="#333" stroke-width="0.8"/>
<line x1="330.12" y1="491.7" x2="330.12" y2="489.22" stroke="#333" stroke-width="0.8"/>
<line x1="362.86" y1="491.7" x2="362.86" y2="490.8" stroke="#333" stroke-width="0.8"/>
<line x1="320.31" y1="491.7" x2="320.31" y2="490.93" stroke="#333" stroke-width="0.8"/>
<line x1="393.44" y1="491.7" x2="393.44" y2="489.54" stroke="#333" stroke-width="0.8"/>
<line x1="452.04" y1="491.7" x2="452.04" y2="489.6" stroke="#333" stroke-width="0.8"/>
<line x1="204.76" y1="491.7" x2="204.76" y2="490.6" stroke="#333" stroke-width="0.8"/>
<line x1="255.75" y1="491.7" x2="255.75" y2="490.14" stroke="#333" stroke-width="0.8"/>
<line x1="397.69" y1="491.7" x2="397.69" y2="491.03" stroke="#333" stroke-width="0.8"/>
<line x1="243.02" y1="491.7" x2="243.02" y2="491.07" stroke="#333" stroke-width="0.8"/>
<line x1="329.03" y1="491.7" x2="329.03" y2="490.69" stroke="#333" stroke-width="0.8"/>
<line x1="225.56" y1="491.7" x2="225.56" y2="491.19" stroke="#333" stroke-width="0.8"/>
<line x1="435.19" y1="491.7" x2="435.19" y2="489.52" stroke="#333" stroke-width="0.8"/>
<line x1="206.77" y1="491.7" x2="206.77" y2="491.12" stroke="#333" stroke-width="0.8"/>
<line x1="265.55" y1="491.7" x2="265.55" y2="491.14" stroke="#333" stroke-width="0.8"/>
<line x1="230.88" y1="491.7" x2="230.88" y2="490.56" stroke="#333" stroke-width="0.8"/>
<line x1="308.63" y1="491.7" x2="308.63" y2="490.49" stroke="#333" stroke-width="0.8"/>
<line x1="333.4" y1="491.7" x2="333.4" y2="490.17" stroke="#333" stroke-width="0.8"/>
<line x1="190.42" y1="491.7" x2="190.42" y2="490.44" stroke="#333" stroke-width="0.8"/>
<line x1="407.05" y1="491.7" x2="407.05" y2="490.52" stroke="#333" stroke-width="0.8"/>
<line x1="173.52" y1="491.7" x2="173.52" y2="490.22" stroke="#333" stroke-width="0.8"/>
<line x1="265.18" y1="491.7" x2="265.18" y2="488.67" stroke="#333" stroke-width="0.8"/>
<line x1="218.78" y1="491.7" x2="218.78" y2="489.92" stroke="#333" stroke-width="0.8"/>
<line x1="179.22" y1="491.7" x2="179.22" y2="490.86" stroke="#333" stroke-width="0.8"/>
<line x1="391.5" y1="491.7" x2="391.5" y2="490.39" stroke="#333" stroke-width="0.8"/>
<line x1="323.62" y1="491.7" x2="323.62" y2="490.02" stroke="#333" stroke-width="0.8"/>
<line x1="462.33" y1="491.7" x2="462.33" y2="490.9" stroke="#333" stroke-width="0.8"/>
<line x1="290.12" y1="491.7" x2="290.12" y2="490.1" stroke="#333" stroke-width="0.8"/>
<line x1="201.2" y1="491.7" x2="201.2" y2="490.5" stroke="#333" stroke-width="0.8"/>
<line x1="358.72" y1="491.7" x2="358.72" y2="490.38" stroke="#333" stroke-width="0.8"/>
<line x1="401" y1="491.7" x2="401" y2="487.88" stroke="#333" stroke-width="0.8"/>
<line x1="301.36" y1="491.7" x2="301.36" y2="487.97" stroke="#333" stroke-width="0.8"/>
<line x1="434.03" y1="491.7" x2="434.03" y2="489.43" stroke="#333" stroke-width="0.8"/>
<line x1="324.99" y1="491.7" x2="324.99" y2="489.07" stroke="#333" stroke-width="0.8"/>
<line x1="388.97" y1="491.7" x2="388.97" y2="491.07" stroke="#333" stroke-width="0.8"/>
<line x1="251.46" y1="491.7" x2="251.46" y2="489.83" stroke="#333" stroke-width="0.8"/>
<line x1="229.58" y1="491.7" x2="229.58" y2="490.14" stroke="#333" stroke-width="0.8"/>
<line x1="190.81" y1="491.7" x2="190.81" y2="488.27" stroke="#333" stroke-width="0.8"/>
<line x1="343.97" y1="491.7" x2="343.97" y2="488.49" stroke="#333" stroke-width="0.8"/>
<line x1="171.07" y1="491.7" x2="171.07" y2="489.64" stroke="#333" stroke-width="0.8"/>
<line x1="448.57" y1="491.7" x2="448.57" y2="490.49" stroke="#333" stroke-width="0.8"/>
<line x1="181.1" y1="491.7" x2="181.1" y2="490.89" stroke="#333" stroke-width="0.8"/>
<line x1="410.39" y1="491.7" x2="410.39" y2="491.06" stroke="#333" stroke-width="0.8"/>
<line x1="280.78" y1="491.7" x2="280.78" y2="488.76" stroke="#333" stroke-width="0.8"/>
<line x1="433.46" y1="491.7" x2="433.46" y2="488.23" stroke="#333" stroke-width="0.8"/>
<line x1="423.86" y1="491.7" x2="423.86" y2="491.27" stroke="#333" stroke-width="0.8"/>
<line x1="432.06" y1="491.7" x2="432.06" y2="490.35" stroke="#333" stroke-width="0.8"/>
<line x1="208.1" y1="491.7" x2="208.1" y2="490.72" stroke="#333" stroke-width="0.8"/>
<line x1="320.19" y1="491.7" x2="320.19" y2="490.76" stroke="#333" stroke-width="0.8"/>
<line x1="194.03" y1="491.7" x2="194.03" y2="491.07" stroke="#333" stroke-width="0.8"/>
<line x1="199.57" y1="491.7" x2="199.57" y2="490.87" stroke="#333" stroke-width="0.8"/>
<line x1="413.01" y1="491.7" x2="413.01" y2="490.17" stroke="#333" stroke-width="0.8"/>
<line x1="363.95" y1="491.7" x2="363.95" y2="491.09" stroke="#333" stroke-width="0.8"/>
<line x1="192.99" y1="491.7" x2="192.99" y2="490.68" stroke="#333" stroke-width="0.8"/>
<line x1="246.04" y1="491.7" x2="246.04" y2="489.95" stroke="#333" stroke-width="0.8"/>
<line x1="171.63" y1="491.7" x2="171.63" y2="490.48" stroke="#333" stroke-width="0.8"/>
<line x1="255.02" y1="491.7" x2="255.02" y2="490.42" stroke="#333" stroke-width="0.8"/>
<line x1="181.9" y1="491.7" x2="181.9" y2="490.21" stroke="#333" stroke-width="0.8"/>
<line x1="274.46" y1="491.7" x2="274.46" y2="490.38" stroke="#333" stroke-width="0.8"/>
<line x1="365.73" y1="491.7" x2="365.73" y2="489.87" stroke="#333" stroke-width="0.8"/>
<line x1="416.04" y1="491.7" x2="416.04" y2="491.18" stroke="#333" stroke-width="0.8"/>
<line x1="411.37" y1="491.7" x2="411.37" y2="489.41" stroke="#333" stroke-width="0.8"/>
<line x1="286.69" y1="491.7" x2="286.69" y2="490.53" stroke="#333" stroke-width="0.8"/>
<line x1="359.17" y1="491.7" x2="359.17" y2="491.04" stroke="#333" stroke-width="0.8"/>
<line x1="438.35" y1="491.7" x2="438.35" y2="489.61" stroke="#333" stroke-width="0.8"/>
<line x1="255.61" y1="491.7" x2="255.61" y2="488.33" stroke="#333" stroke-width="0.8"/>
<line x1="360.2" y1="491.7" x2="360.2" y2="490.43" stroke="#333" stroke-width="0.8"/>
<line x1="459.01" y1="491.7" x2="459.01" y2="489.77" stroke="#333" stroke-width="0.8"/>
<line x1="290.83" y1="491.7" x2="290.83" y2="490.67" stroke="#333" stroke-width="0.8"/>
<line x1="217.27" y1="491.7" x2="217.27" y2="491.1" stroke="#333" stroke-width="0.8"/>
<line x1="219.01" y1="491.7" x2="219.01" y2="490.43" stroke="#333" stroke-width="0.8"/>
<line x1="222.45" y1="491.7" x2="222.45" y2="489.76" stroke="#333" stroke-width="0.8"/>
<line x1="198.56" y1="491.7" x2="198.56" y2="490.83" stroke="#333" stroke-width="0.8"/>
<line x1="444.69" y1="491.7" x2="444.69" y2="489.13" stroke="#333" stroke-width="0.8"/>
<line x1="196.95" y1="491.7" x2="196.95" y2="487.43" stroke="#333" stroke-width="0.8"/>
<line x1="443.29" y1="491.7" x2="443.29" y2="490.36" stroke="#333" stroke-width="0.8"/>
<line x1="348.01" y1="491.7" x2="348.01" y2="487.74" stroke="#333" stroke-width="0.8"/>
<line x1="319.54" y1="491.7" x2="319.54" y2="490.53" stroke="#333" stroke-width="0.8"/>
<line x1="333.74" y1="491.7" x2="333.74" y2="490.53" stroke="#333" stroke-width="0.8"/>
<line x1="308.77" y1="491.7" x2="308.77" y2="490.18" stroke="#333" stroke-width="0.8"/>
<line x1="246.42" y1="491.7" x2="246.42" y2="489.9" stroke="#333" stroke-width="0.8"/>
<line x1="261.49" y1="491.7" x2="261.49" y2="487.9" stroke="#333" stroke-width="0.8"/>
<line x1="436.09" y1="491.7" x2="436.09" y2="490.4" stroke="#333" stroke-width="0.8"/>
<line x1="306.37" y1="491.7" x2="306.37" y2="490.27" stroke="#333" stroke-width="0.8"/>
<line x1="352.53" y1="491.7" x2="352.53" y2="487.72" stroke="#333" stroke-width="0.8"/>
<line x1="275.94" y1="491.7" x2="275.94" y2="491.18" stroke="#333" stroke-width="0.8"/>
<line x1="265.57" y1="491.7" x2="265.57" y2="490.53" stroke="#333" stroke-width="0.8"/>
<line x1="420.27" y1="491.7" x2="420.27" y2="489.55" stroke="#333" stroke-width="0.8"/>
<line x1="421.19" y1="491.7" x2="421.19" y2="490.24" stroke="#333" stroke-width="0.8"/>
<line x1="276" y1="491.7" x2="276" y2="491" stroke="#333" stroke-width="0.8"/>
<line x1="409.53" y1="491.7" x2="409.53" y2="490.56" stroke="#333" stroke-width="0.8"/>
<line x1="387.55" y1="491.7" x2="387.55" y2="491.05" stroke="#333" stroke-width="0.8"/>
<line x1="265.55" y1="491.7" x2="265.55" y2="489.64" stroke="#333" stroke-width="0.8"/>
<line x1="324.78" y1="491.7" x2="324.78" y2="490.8" stroke="#333" stroke-width="0.8"/>
<line x1="243.2" y1="491.7" x2="243.2" y2="491.23" stroke="#333" stroke-width="0.8"/>
<line x1="336.79" y1="491.7" x2="336.79" y2="489.18" stroke="#333" stroke-width="0.8"/>
<line x1="248.08" y1="491.7" x2="248.08" y2="490.43" stroke="#333" stroke-width="0.8"/>
<line x1="300.66" y1="491.7" x2="300.66" y2="490.9" stroke="#333" stroke-width="0.8"/>
<line x1="462.12" y1="491.7" x2="462.12" y2="490.59" stroke="#333" stroke-width="0.8"/>
<line x1="222.99" y1="491.7" x2="222.99" y2="489.96" stroke="#333" stroke-width="0.8"/>
<line x1="260.96" y1="491.7" x2="260.96" y2="490.79" stroke="#333" stroke-width="0.8"/>
<line x1="348.6" y1="491.7" x2="348.6" y2="490.38" stroke="#333" stroke-width="0.8"/>
<line x1="188.33" y1="491.7" x2="188.33" y2="489.9" stroke="#333" stroke-width="0.8"/>
<line x1="266.54" y1="491.7" x2="266.54" y2="487.75" stroke="#333" stroke-width="0.8"/>
<line x1="369.42" y1="491.7" x2="369.42" y2="490.84" stroke="#333" stroke-width="0.8"/>
<line x1="359.81" y1="491.7" x2="359.81" y2="490.96" stroke="#333" stroke-width="0.8"/>
<line x1="331.38" y1="491.7" x2="331.38" y2="490.56" stroke="#333" stroke-width="0.8"/>
<line x1="400.72" y1="491.7" x2="400.72" y2="491.01" stroke="#333" stroke-width="0.8"/>
<line x1="227.41" y1="491.7" x2="227.41" y2="490.08" stroke="#333" stroke-width="0.8"/>
<line x1="463.42" y1="491.7" x2="463.42" y2="490.08" stroke="#333" stroke-width="0.8"/>
<line x1="274.78" y1="491.7" x2="274.78" y2="490.3" stroke="#333" stroke-width="0.8"/>
<line x1="371.8" y1="491.7" x2="371.8" y2="490.91" stroke="#333" stroke-width="0.8"/>
<line x1="395.65" y1="491.7" x2="395.65" y2="488.34" stroke="#333" stroke-width="0.8"/>
<line x1="336.63" y1="491.7" x2="336.63" y2="490.1" stroke="#333" stroke-width="0.8"/>
<line x1="366.75" y1="491.7" x2="366.75" y2="489.36" stroke="#333" stroke-width="0.8"/>
<line x1="396.32" y1="491.7" x2="396.32" y2="488.88" stroke="#333" stroke-width="0.8"/>
<line x1="436.22" y1="491.7" x2="436.22" y2="490.05" stroke="#333" stroke-width="0.8"/>
<line x1="413.76" y1="491.7" x2="413.76" y2="489.77" stroke="#333" stroke-width="0.8"/>
<line x1="437.12" y1="491.7" x2="437.12" y2="487.73" stroke="#333" stroke-width="0.8"/>
<line x1="380.19" y1="491.7" x2="380.19" y2="490.58" stroke="#333" stroke-width="0.8"/>
<line x1="363.93" y1="491.7" x2="363.93" y2="489.88" stroke="#333" stroke-width="0.8"/>
<line x1="233.19" y1="491.7" x2="233.19" y2="488.22" stroke="#333" stroke-width="0.8"/>
<line x1="231.84" y1="491.7" x2="231.84" y2="491.14" stroke="#333" stroke-width="0.8"/>
<line x1="337.32" y1="491.7" x2="337.32" y2="490.25" stroke="#333" stroke-width="0.8"/>
<line x1="410.29" y1="491.7" x2="410.29" y2="491.18" stroke="#333" stroke-width="0.8"/>
<line x1="335.77" y1="491.7" x2="335.77" y2="489.7" stroke="#333" stroke-width="0.8"/>
<line x1="378.76" y1="491.7" x2="378.76" y2="490.63" stroke="#333" stroke-width="0.8"/>
<line x1="327.86" y1="491.7" x2="327.86" y2="491.23" stroke="#333" stroke-width="0.8"/>
<line x1="276.04" y1="491.7" x2="276.04" y2="490.55" stroke="#333" stroke-width="0.8"/>
<line x1="243.29" y1="491.7" x2="243.29" y2="488.63" stroke="#333" stroke-width="0.8"/>
<line x1="294.31" y1="491.7" x2="294.31" y2="488.9" stroke="#333" stroke-width="0.8"/>
<line x1="418.15" y1="491.7" x2="418.15" y2="489.77" stroke="#333" stroke-width="0.8"/>
<line x1="198.56" y1="491.7" x2="198.56" y2="490.5" stroke="#333" stroke-width="0.8"/>
<line x1="247.08" y1="491.7" x2="247.08" y2="489.65" stroke="#333" stroke-width="0.8"/>
<line x1="236.9" y1="491.7" x2="236.9" y2="491.03" stroke="#333" stroke-width="0.8"/>
<line x1="220.63" y1="491.7" x2="220.63" y2="490.78" stroke="#333" stroke-width="0.8"/>
<line x1="336.05" y1="491.7" x2="336.05" y2="491.04" stroke="#333" stroke-width="0.8"/>
<line x1="222.12" y1="491.7" x2="222.12" y2="489.08" stroke="#333" stroke-width="0.8"/>
<line x1="467.36" y1="491.7" x2="467.36" y2="489.78" stroke="#333" stroke-width="0.8"/>
<line x1="319.32" y1="491.7" x2="319.32" y2="491.03" stroke="#333" stroke-width="0.8"/>
<line x1="416.13" y1="491.7" x2="416.13" y2="488.89" stroke="#333" stroke-width="0.8"/>
<line x1="470.29" y1="491.7" x2="470.29" y2="490" stroke="#333" stroke-width="0.8"/>
<line x1="418.58" y1="491.7" x2="418.58" y2="487.83" stroke="#333" stroke-width="0.8"/>
<line x1="435.23" y1="491.7" x2="435.23" y2="490.66" stroke="#333" stroke-width="0.8"/>
<line x1="357.72" y1="491.7" x2="357.72" y2="491.04" stroke="#333" stroke-width="0.8"/>
<line x1="282.12" y1="491.7" x2="282.12" y2="491.03" stroke="#333" stroke-width="0.8"/>
<line x1="368.06" y1="491.7" x2="368.06" y2="491.02" stroke="#333" stroke-width="0.8"/>
<line x1="412.4" y1="491.7" x2="412.4" y2="490.18" stroke="#333" stroke-width="0.8"/>
<line x1="377.91" y1="491.7" x2="377.91" y2="491.14" stroke="#333" stroke-width="0.8"/>
<line x1="219.13" y1="491.7" x2="219.13" y2="489.74" stroke="#333" stroke-width="0.8"/>
<line x1="419.64" y1="491.7" x2="419.64" y2="489.1" stroke="#333" stroke-width="0.8"/>
<line x1="435.78" y1="491.7" x2="435.78" y2="490.58" stroke="#333" stroke-width="0.8"/>
<line x1="218.6" y1="491.7" x2="218.6" y2="488.27" stroke="#333" stroke-width="0.8"/>
<line x1="365.94" y1="491.7" x2="365.94" y2="488.03" stroke="#333" stroke-width="0.8"/>
<line x1="291.89" y1="491.7" x2="291.89" y2="490.84" stroke="#333" stroke-width="0.8"/>
<line x1="448.79" y1="491.7" x2="448.79" y2="490.59" stroke="#333" stroke-width="0.8"/>
<line x1="171.2" y1="491.7" x2="171.2" y2="489.31" stroke="#333" stroke-width="0.8"/>
<line x1="437" y1="491.7" x2="437" y2="490.57" stroke="#333" stroke-width="0.8"/>
<line x1="231.83" y1="491.7" x2="231.83" y2="489.83" stroke="#333" stroke-width="0.8"/>
<line x1="266.35" y1="491.7" x2="266.35" y2="490.52" stroke="#333" stroke-width="0.8"/>
<line x1="317.37" y1="491.7" x2="317.37" y2="488.7" stroke="#333" stroke-width="0.8"/>
<line x1="439.95" y1="491.7" x2="439.95" y2="490.51" stroke="#333" stroke-width="0.8"/>
<line x1="467.55" y1="491.7" x2="467.55" y2="490.92" stroke="#333" stroke-width="0.8"/>
<line x1="471.35" y1="491.7" x2="471.35" y2="490.49" stroke="#333" stroke-width="0.8"/>
<line x1="397.43" y1="491.7" x2="397.43" y2="489.81" stroke="#333" stroke-width="0.8"/>
<line x1="407.1" y1="491.7" x2="407.1" y2="490.3" stroke="#333" stroke-width="0.8"/>
<line x1="438.23" y1="491.7" x2="438.23" y2="490.9" stroke="#333" stroke-width="0.8"/>
<line x1="408.22" y1="491.7" x2="408.22" y2="489.34" stroke="#333" stroke-width="0.8"/>
<line x1="193.28" y1="491.7" x2="193.28" y2="489.47" stroke="#333" stroke-width="0.8"/>
<line x1="391.16" y1="491.7" x2="391.16" y2="490.95" stroke="#333" stroke-width="0.8"/>
<line x1="307.55" y1="491.7" x2="307.55" y2="489.04" stroke="#333" stroke-width="0.8"/>
<line x1="453.71" y1="491.7" x2="453.71" y2="491.04" stroke="#333" stroke-width="0.8"/>
<line x1="210.94" y1="491.7" x2="210.94" y2="489.39" stroke="#333" stroke-width="0.8"/>
<line x1="442.8" y1="491.7" x2="442.8" y2="487.58" stroke="#333" stroke-width="0.8"/>
<line x1="220.48" y1="491.7" x2="220.48" y2="490.77" stroke="#333" stroke-width="0.8"/>
<line x1="310.92" y1="491.7" x2="310.92" y2="489.82" stroke="#333" stroke-width="0.8"/>
<line x1="295.52" y1="491.7" x2="295.52" y2="490.09" stroke="#333" stroke-width="0.8"/>
<line x1="320.38" y1="491.7" x2="320.38" y2="490.02" stroke="#333" stroke-width="0.8"/>
<line x1="190.68" y1="491.7" x2="190.68" y2="490.07" stroke="#333" stroke-width="0.8"/>
<line x1="377.93" y1="491.7" x2="377.93" y2="489.83" stroke="#333" stroke-width="0.8"/>
<line x1="462.25" y1="491.7" x2="462.25" y2="490.1" stroke="#333" stroke-width="0.8"/>
<line x1="340.36" y1="491.7" x2="340.36" y2="490.15" stroke="#333" stroke-width="0.8"/>
<line x1="176.58" y1="491.7" x2="176.58" y2="489.87" stroke="#333" stroke-width="0.8"/>
<line x1="172.55" y1="491.7" x2="172.55" y2="491.06" stroke="#333" stroke-width="0.8"/>
<line x1="249.23" y1="491.7" x2="249.23" y2="489.91" stroke="#333" stroke-width="0.8"/>
<line x1="448.52" y1="491.7" x2="448.52" y2="490.79" stroke="#333" stroke-width="0.8"/>
<line x1="459.16" y1="491.7" x2="459.16" y2="487.75" stroke="#333" stroke-width="0.8"/>
<line x1="203.94" y1="491.7" x2="203.94" y2="490.82" stroke="#333" stroke-width="0.8"/>
<line x1="271.82" y1="491.7" x2="271.82" y2="491.18" stroke="#333" stroke-width="0.8"/>
<line x1="267.47" y1="491.7" x2="267.47" y2="490.25" stroke="#333" stroke-width="0.8"/>
<line x1="470.74" y1="491.7" x2="470.74" y2="490.44" stroke="#333" stroke-width="0.8"/>
<line x1="350.24" y1="491.7" x2="350.24" y2="487.46" stroke="#333" stroke-width="0.8"/>
<line x1="448.41" y1="491.7" x2="448.41" y2="490.61" stroke="#333" stroke-width="0.8"/>
<line x1="405.03" y1="491.7" x2="405.03" y2="490.97" stroke="#333" stroke-width="0.8"/>
<line x1="400.87" y1="491.7" x2="400.87" y2="489.17" stroke="#333" stroke-width="0.8"/>
<line x1="399.55" y1="491.7" x2="399.55" y2="490.68" stroke="#333" stroke-width="0.8"/>
<line x1="456.09" y1="491.7" x2="456.09" y2="489.81" stroke="#333" stroke-width="0.8"/>
<line x1="408.63" y1="491.7" x2="408.63" y2="489.58" stroke="#333" stroke-width="0.8"/>
<line x1="271.41" y1="491.7" x2="271.41" y2="489.19" stroke="#333" stroke-width="0.8"/>
<line x1="294.84" y1="491.7" x2="294.84" y2="488.26" stroke="#333" stroke-width="0.8"/>
<line x1="283.07" y1="491.7" x2="283.07" y2="490.4" stroke="#333" stroke-width="0.8"/>
<line x1="350.01" y1="491.7" x2="350.01" y2="489.84" stroke="#333" stroke-width="0.8"/>
<line x1="255.43" y1="491.7" x2="255.43" y2="490.77" stroke="#333" stroke-width="0.8"/>
<line x1="288.06" y1="491.7" x2="288.06" y2="490.74" stroke="#333" stroke-width="0.8"/>
<line x1="350.51" y1="491.7" x2="350.51" y2="490.95" stroke="#333" stroke-width="0.8"/>
<line x1="310.91" y1="491.7" x2="310.91" y2="490.09" stroke="#333" stroke-width="0.8"/>
<line x1="224.41" y1="491.7" x2="224.41" y2="489.38" stroke="#333" stroke-width="0.8"/>
<line x1="205.74" y1="491.7" x2="205.74" y2="490.21" stroke="#333" stroke-width="0.8"/>
<line x1="362.04" y1="491.7" x2="362.04" y2="490.17" stroke="#333" stroke-width="0.8"/>
<line x1="281.83" y1="491.7" x2="281.83" y2="489.06" stroke="#333" stroke-width="0.8"/>
<line x1="383.62" y1="491.7" x2="383.62" y2="490.8" stroke="#333" stroke-width="0.8"/>
<line x1="346.78" y1="491.7" x2="346.78" y2="489.59" stroke="#333" stroke-width="0.8"/>
<line x1="189.94" y1="491.7" x2="189.94" y2="491.23" stroke="#333" stroke-width="0.8"/>
<line x1="414.53" y1="491.7" x2="414.53" y2="490.48" stroke="#333" stroke-width="0.8"/>
<line x1="308.31" y1="491.7" x2="308.31" y2="488.78" stroke="#333" stroke-width="0.8"/>
<line x1="426.99" y1="491.7" x2="426.99" y2="490.53" stroke="#333" stroke-width="0.8"/>
<line x1="285.42" y1="491.7" x2="285.42" y2="490.76" stroke="#333" stroke-width="0.8"/>
<line x1="240.3" y1="491.7" x2="240.3" y2="490.76" stroke="#333" stroke-width="0.8"/>
<line x1="302.98" y1="491.7" x2="302.98" y2="490.33" stroke="#333" stroke-width="0.8"/>
<line x1="421.1" y1="491.7" x2="421.1" y2="489.86" stroke="#333" stroke-width="0.8"/>
<line x1="217.85" y1="491.7" x2="217.85" y2="489.99" stroke="#333" stroke-width="0.8"/>
<line x1="375.87" y1="491.7" x2="375.87" y2="488.65" stroke="#333" stroke-width="0.8"/>
<line x1="429.21" y1="491.7" x2="429.21" y2="490.5" stroke="#333" stroke-width="0.8"/>
<line x1="181.47" y1="491.7" x2="181.47" y2="488.82" stroke="#333" stroke-width="0.8"/>
<line x1="402.81" y1="491.7" x2="402.81" y2="489.41" stroke="#333" stroke-width="0.8"/>
<line x1="470.09" y1="491.7" x2="470.09" y2="490.08" stroke="#333" stroke-width="0.8"/>
<line x1="414.9" y1="491.7" x2="414.9" y2="490.79" stroke="#333" stroke-width="0.8"/>
<line x1="301.88" y1="491.7" x2="301.88" y2="490.42" stroke="#333" stroke-width="0.8"/>
<line x1="429.93" y1="491.7" x2="429.93" y2="490.68" stroke="#333" stroke-width="0.8"/>
<line x1="391.61" y1="491.7" x2="391.61" y2="488.5" stroke="#333" stroke-width="0.8"/>
<line x1="453.17" y1="491.7" x2="453.17" y2="488.48" stroke="#333" stroke-width="0.8"/>
<line x1="395.37" y1="491.7" x2="395.37" y2="490.08" stroke="#333" stroke-width="0.8"/>
<line x1="264.51" y1="491.7" x2="264.51" y2="490.83" stroke="#333" stroke-width="0.8"/>
<line x1="263.23" y1="491.7" x2="263.23" y2="491.22" stroke="#333" stroke-width="0.8"/>
<line x1="253.38" y1="491.7" x2="253.38" y2="491.11" stroke="#333" stroke-width="0.8"/>
<line x1="393.41" y1="491.7" x2="393.41" y2="490.05" stroke="#333" stroke-width="0.8"/>
<line x1="386.52" y1="491.7" x2="386.52" y2="490.59" stroke="#333" stroke-width="0.8"/>
<line x1="343.79" y1="491.7" x2="343.79" y2="490.65" stroke="#333" stroke-width="0.8"/>
<line x1="443.88" y1="491.7" x2="443.88" y2="489.48" stroke="#333" stroke-width="0.8"/>
<line x1="332.61" y1="491.7" x2="332.61" y2="490.59" stroke="#333" stroke-width="0.8"/>
<line x1="436.27" y1="491.7" x2="436.27" y2="490.52" stroke="#333" stroke-width="0.8"/>
<line x1="248.27" y1="491.7" x2="248.27" y2="490.79" stroke="#333" stroke-width="0.8"/>
<line x1="421.11" y1="491.7" x2="421.11" y2="489.47" stroke="#333" stroke-width="0.8"/>
<line x1="459.66" y1="491.7" x2="459.66" y2="490.56" stroke="#333" stroke-width="0.8"/>
<line x1="243.58" y1="491.7" x2="243.58" y2="488.55" stroke="#333" stroke-width="0.8"/>
<line x1="359.74" y1="491.7" x2="359.74" y2="489.83" stroke="#333" stroke-width="0.8"/>
<line x1="310.43" y1="491.7" x2="310.43" y2="490.11" stroke="#333" stroke-width="0.8"/>
<line x1="459.07" y1="491.7" x2="459.07" y2="490.72" stroke="#333" stroke-width="0.8"/>
<line x1="365.19" y1="491.7" x2="365.19" y2="490.84" stroke="#333" stroke-width="0.8"/>
<line x1="320.25" y1="491.7" x2="320.25" y2="489.86" stroke="#333" stroke-width="0.8"/>
<line x1="235.9" y1="491.7" x2="235.9" y2="490.85" stroke="#333" stroke-width="0.8"/>
<line x1="261.61" y1="491.7" x2="261.61" y2="489.88" stroke="#333" stroke-width="0.8"/>
<line x1="371.08" y1="491.7" x2="371.08" y2="489.74" stroke="#333" stroke-width="0.8"/>
<line x1="247.27" y1="491.7" x2="247.27" y2="488.79" stroke="#333" stroke-width="0.8"/>
<line x1="177.5" y1="491.7" x2="177.5" y2="490.41" stroke="#333" stroke-width="0.8"/>
<line x1="295.88" y1="491.7" x2="295.88" y2="488.64" stroke="#333" stroke-width="0.8"/>
<line x1="221.18" y1="491.7" x2="221.18" y2="490.53" stroke="#333" stroke-width="0.8"/>
<line x1="376.92" y1="491.7" x2="376.92" y2="489.77" stroke="#333" stroke-width="0.8"/>
<line x1="471.15" y1="491.7" x2="471.15" y2="491.05" stroke="#333" stroke-width="0.8"/>
<line x1="410.82" y1="491.7" x2="410.82" y2="487.84" stroke="#333" stroke-width="0.8"/>
<line x1="271.77" y1="491.7" x2="271.77" y2="490.4" stroke="#333" stroke-width="0.8"/>
<line x1="421.51" y1="491.7" x2="421.51" y2="489.49" stroke="#333" stroke-width="0.8"/>
<line x1="208.32" y1="491.7" x2="208.32" y2="490.39" stroke="#333" stroke-width="0.8"/>
<line x1="176.76" y1="491.7" x2="176.76" y2="491.18" stroke="#333" stroke-width="0.8"/>
<line x1="282.96" y1="491.7" x2="282.96" y2="490.21" stroke="#333" stroke-width="0.8"/>
<line x1="325.17" y1="491.7" x2="325.17" y2="490.59" stroke="#333" stroke-width="0.8"/>
<line x1="413" y1="491.7" x2="413" y2="488.88" stroke="#333" stroke-width="0.8"/>
<line x1="341" y1="491.7" x2="341" y2="489.2" stroke="#333" stroke-width="0.8"/>
<line x1="370.14" y1="491.7" x2="370.14" y2="490.02" stroke="#333" stroke-width="0.8"/>
<line x1="227.54" y1="491.7" x2="227.54" y2="490.06" stroke="#333" stroke-width="0.8"/>
<line x1="307.57" y1="491.7" x2="307.57" y2="490.35" stroke="#333" stroke-width="0.8"/>
<line x1="350.88" y1="491.7" x2="350.88" y2="491.16" stroke="#333" stroke-width="0.8"/>
<line x1="273.78" y1="491.7" x2="273.78" y2="490.23" stroke="#333" stroke-width="0.8"/>
<line x1="238.71" y1="491.7" x2="238.71" y2="490.62" stroke="#333" stroke-width="0.8"/>
<line x1="344.41" y1="491.7" x2="344.41" y2="489.27" stroke="#333" stroke-width="0.8"/>
<line x1="377.08" y1="491.7" x2="377.08" y2="490.01" stroke="#333" stroke-width="0.8"/>
<line x1="261.72" y1="491.7" x2="261.72" y2="490.53" stroke="#333" stroke-width="0.8"/>
<line x1="345.06" y1="491.7" x2="345.06" y2="490.66" stroke="#333" stroke-width="0.8"/>
<line x1="455.38" y1="491.7" x2="455.38" y2="490.69" stroke="#333" stroke-width="0.8"/>
<line x1="314.22" y1="491.7" x2="314.22" y2="490.76" stroke="#333" stroke-width="0.8"/>
<line x1="471.37" y1="491.7" x2="471.37" y2="489.44" stroke="#333" stroke-width="0.8"/>
<line x1="326.77" y1="491.7" x2="326.77" y2="490.17" stroke="#333" stroke-width="0.8"/>
<line x1="344.87" y1="491.7" x2="344.87" y2="490.46" stroke="#333" stroke-width="0.8"/>
<line x1="312.41" y1="491.7" x2="312.41" y2="490.92" stroke="#333" stroke-width="0.8"/>
<line x1="241.28" y1="491.7" x2="241.28" y2="490.99" stroke="#333" stroke-width="0.8"/>
<line x1="397.77" y1="491.7" x2="397.77" y2="490.09" stroke="#333" stroke-width="0.8"/>
<line x1="324.92" y1="491.7" x2="324.92" y2="490.32" stroke="#333" stroke-width="0.8"/>
<line x1="248.17" y1="491.7" x2="248.17" y2="488.91" stroke="#333" stroke-width="0.8"/>
<line x1="215.87" y1="491.7" x2="215.87" y2="490.98" stroke="#333" stroke-width="0.8"/>
<line x1="411.35" y1="491.7" x2="411.35" y2="490.88" stroke="#333" stroke-width="0.8"/>
<line x1="300.27" y1="491.7" x2="300.27" y2="489.87" stroke="#333" stroke-width="0.8"/>
<line x1="266.34" y1="491.7" x2="266.34" y2="489.28" stroke="#333" stroke-width="0.8"/>
<line x1="400.17" y1="491.7" x2="400.17" y2="490.69" stroke="#333" stroke-width="0.8"/>
<line x1="215.41" y1="491.7" x2="215.41" y2="490.05" stroke="#333" stroke-width="0.8"/>
<line x1="451.29" y1="491.7" x2="451.29" y2="490.99" stroke="#333" stroke-width="0.8"/>
<line x1="273.46" y1="491.7" x2="273.46" y2="490.72" stroke="#333" stroke-width="0.8"/>
<line x1="288.94" y1="491.7" x2="288.94" y2="490.9" stroke="#333" stroke-width="0.8"/>
<line x1="360.45" y1="491.7" x2="360.45" y2="490.46" stroke="#333" stroke-width="0.8"/>
<line x1="210.13" y1="491.7" x2="210.13" y2="491.21" stroke="#333" stroke-width="0.8"/>
<line x1="326.76" y1="491.7" x2="326.76" y2="488.58" stroke="#333" stroke-width="0.8"/>
<line x1="419.17" y1="491.7" x2="419.17" y2="491.03" stroke="#333" stroke-width="0.8"/>
<line x1="228.8" y1="491.7" x2="228.8" y2="491.22" stroke="#333" stroke-width="0.8"/>
<line x1="334.25" y1="491.7" x2="334.25" y2="487.19" stroke="#333" stroke-width="0.8"/>
<line x1="176.39" y1="491.7" x2="176.39" y2="490.82" stroke="#333" stroke-width="0.8"/>
<line x1="431.07" y1="491.7" x2="431.07" y2="490.97" stroke="#333" stroke-width="0.8"/>
<line x1="435.45" y1="491.7" x2="435.45" y2="490.45" stroke="#333" stroke-width="0.8"/>
<line x1="327" y1="491.7" x2="327" y2="490.63" stroke="#333" stroke-width="0.8"/>
<line x1="432.02" y1="491.7" x2="432.02" y2="490.18" stroke="#333" stroke-width="0.8"/>
<line x1="271.06" y1="491.7" x2="271.06" y2="490.56" stroke="#333" stroke-width="0.8"/>
<line x1="227.46" y1="491.7" x2="227.46" y2="489.47" stroke="#333" stroke-width="0.8"/>
<line x1="353.06" y1="491.7" x2="353.06" y2="490.23" stroke="#333" stroke-width="0.8"/>
<line x1="372.52" y1="491.7" x2="372.52" y2="490.43" stroke="#333" stroke-width="0.8"/>
<line x1="398.96" y1="491.7" x2="398.96" y2="489.71" stroke="#333" stroke-width="0.8"/>
<line x1="375.46" y1="491.7" x2="375.46" y2="491.22" stroke="#333" stroke-width="0.8"/>
<line x1="233.13" y1="491.7" x2="233.13" y2="488.75" stroke="#333" stroke-width="0.8"/>
<line x1="239.25" y1="491.7" x2="239.25" y2="490.27" stroke="#333" stroke-width="0.8"/>
<line x1="299.96" y1="491.7" x2="299.96" y2="490.15" stroke="#333" stroke-width="0.8"/>
<line x1="430.62" y1="491.7" x2="430.62" y2="491.15" stroke="#333" stroke-width="0.8"/>
<line x1="425.34" y1="491.7" x2="425.34" y2="490.66" stroke="#333" stroke-width="0.8"/>
<line x1="318.41" y1="491.7" x2="318.41" y2="490.86" stroke="#333" stroke-width="0.8"/>
<line x1="453.43" y1="491.7" x2="453.43" y2="490.76" stroke="#333" stroke-width="0.8"/>
<line x1="381.01" y1="491.7" x2="381.01" y2="490.2" stroke="#333" stroke-width="0.8"/>
<line x1="243.93" y1="491.7" x2="243.93" y2="489.02" stroke="#333" stroke-width="0.8"/>
<line x1="198.18" y1="491.7" x2="198.18" y2="489.98" stroke="#333" stroke-width="0.8"/>
<line x1="465.39" y1="491.7" x2="465.39" y2="488.26" stroke="#333" stroke-width="0.8"/>
<line x1="382.59" y1="491.7" x2="382.59" y2="489.28" stroke="#333" stroke-width="0.8"/>
<line x1="181.24" y1="491.7" x2="181.24" y2="490.69" stroke="#333" stroke-width="0.8"/>
<line x1="196.24" y1="491.7" x2="196.24" y2="491.05" stroke="#333" stroke-width="0.8"/>
<line x1="411.96" y1="491.7" x2="411.96" y2="489.21" stroke="#333" stroke-width="0.8"/>
<line x1="281.6" y1="491.7" x2="281.6" y2="490.63" stroke="#333" stroke-width="0.8"/>
<line x1="269.66" y1="491.7" x2="269.66" y2="489.8" stroke="#333" stroke-width="0.8"/>
<line x1="197.08" y1="491.7" x2="197.08" y2="490.4" stroke="#333" stroke-width="0.8"/>
<line x1="435.47" y1="491.7" x2="435.47" y2="491.27" stroke="#333" stroke-width="0.8"/>
<line x1="462.01" y1="491.7" x2="462.01" y2="490.66" stroke="#333" stroke-width="0.8"/>
<line x1="404.03" y1="491.7" x2="404.03" y2="490.87" stroke="#333" stroke-width="0.8"/>
<line x1="433.6" y1="491.7" x2="433.6" y2="490.9" stroke="#333" stroke-width="0.8"/>
<line x1="215.31" y1="491.7" x2="215.31" y2="490.32" stroke="#333" stroke-width="0.8"/>
<line x1="384.35" y1="491.7" x2="384.35" y2="489.09" stroke="#333" stroke-width="0.8"/>
<line x1="365.76" y1="491.7" x2="365.76" y2="489.31" stroke="#333" stroke-width="0.8"/>
<line x1="388.92" y1="491.7" x2="388.92" y2="491.08" stroke="#333" stroke-width="0.8"/>
<line x1="348.29" y1="491.7" x2="348.29" y2="489.6" stroke="#333" stroke-width="0.8"/>
<line x1="257.96" y1="491.7" x2="257.96" y2="488.87" stroke="#333" stroke-width="0.8"/>
<line x1="296.99" y1="491.7" x2="296.99" y2="491.07" stroke="#333" stroke-width="0.8"/>
<line x1="252.25" y1="491.7" x2="252.25" y2="490.05" stroke="#333" stroke-width="0.8"/>
<line x1="416.72" y1="491.7" x2="416.72" y2="489.9" stroke="#333" stroke-width="0.8"/>
<line x1="465.02" y1="491.7" x2="465.02" y2="488.94" stroke="#333" stroke-width="0.8"/>
<line x1="257.78" y1="491.7" x2="257.78" y2="490.47" stroke="#333" stroke-width="0.8"/>
<line x1="291.35" y1="491.7" x2="291.35" y2="489.85" stroke="#333" stroke-width="0.8"/>
<line x1="463.42" y1="491.7" x2="463.42" y2="490.32" stroke="#333" stroke-width="0.8"/>
<line x1="301.11" y1="491.7" x2="301.11" y2="490.38" stroke="#333" stroke-width="0.8"/>
<line x1="457.81" y1="491.7" x2="457.81" y2="489.92" stroke="#333" stroke-width="0.8"/>
<line x1="346.93" y1="491.7" x2="346.93" y2="490.94" stroke="#333" stroke-width="0.8"/>
<line x1="287.6" y1="491.7" x2="287.6" y2="488.52" stroke="#333" stroke-width="0.8"/>
<line x1="179.19" y1="491.7" x2="179.19" y2="489.13" stroke="#333" stroke-width="0.8"/>
<line x1="361.49" y1="491.7" x2="361.49" y2="489.95" stroke="#333" stroke-width="0.8"/>
<line x1="219.7" y1="491.7" x2="219.7" y2="490.96" stroke="#333" stroke-width="0.8"/>
<line x1="430.19" y1="491.7" x2="430.19" y2="489.93" stroke="#333" stroke-width="0.8"/>
<line x1="322.31" y1="491.7" x2="322.31" y2="490.38" stroke="#333" stroke-width="0.8"/>
<line x1="408.28" y1="491.7" x2="408.28" y2="487.44" stroke="#333" stroke-width="0.8"/>
<line x1="341.64" y1="491.7" x2="341.64" y2="490.09" stroke="#333" stroke-width="0.8"/>
<line x1="461.43" y1="491.7" x2="461.43" y2="491.02" stroke="#333" stroke-width="0.8"/>
<line x1="322.74" y1="491.7" x2="322.74" y2="490.44" stroke="#333" stroke-width="0.8"/>
<line x1="274.25" y1="491.7" x2="274.25" y2="489.57" stroke="#333" stroke-width="0.8"/>
<line x1="270.08" y1="491.7" x2="270.08" y2="488.56" stroke="#333" stroke-width="0.8"/>
<line x1="383.63" y1="491.7" x2="383.63" y2="490.44" stroke="#333" stroke-width="0.8"/>
<line x1="294.97" y1="491.7" x2="294.97" y2="490.69" stroke="#333" stroke-width="0.8"/>
<line x1="298.66" y1="491.7" x2="298.66" y2="488.38" stroke="#333" stroke-width="0.8"/>
<line x1="226.78" y1="491.7" x2="226.78" y2="489.35" stroke="#333" stroke-width="0.8"/>
<line x1="245.42" y1="491.7" x2="245.42" y2="490.94" stroke="#333" stroke-width="0.8"/>
<line x1="306.88" y1="491.7" x2="306.88" y2="490.13" stroke="#333" stroke-width="0.8"/>
<line x1="263.82" y1="491.7" x2="263.82" y2="489.89" stroke="#333" stroke-width="0.8"/>
<line x1="245.2" y1="491.7" x2="245.2" y2="490.73" stroke="#333" stroke-width="0.8"/>
<line x1="318.68" y1="491.7" x2="318.68" y2="488.31" stroke="#333" stroke-width="0.8"/>
<line x1="345.94" y1="491.7" x2="345.94" y2="490.03" stroke="#333" stroke-width="0.8"/>
<line x1="379.13" y1="491.7" x2="379.13" y2="490.78" stroke="#333" stroke-width="0.8"/>
<line x1="289.94" y1="491.7" x2="289.94" y2="490.56" stroke="#333" stroke-width="0.8"/>
<line x1="218.55" y1="491.7" x2="218.55" y2="489.03" stroke="#333" stroke-width="0.8"/>
<line x1="175.47" y1="491.7" x2="175.47" y2="490.11" stroke="#333" stroke-width="0.8"/>
<line x1="366.08" y1="491.7" x2="366.08" y2="490.79" stroke="#333" stroke-width="0.8"/>
<line x1="396.54" y1="491.7" x2="396.54" y2="491.17" stroke="#333" stroke-width="0.8"/>
<line x1="398.22" y1="491.7" x2="398.22" y2="490.78" stroke="#333" stroke-width="0.8"/>
<line x1="212" y1="491.7" x2="212" y2="490.09" stroke="#333" stroke-width="0.8"/>
<line x1="179.17" y1="491.7" x2="179.17" y2="490.24" stroke="#333" stroke-width="0.8"/>
<line x1="434.98" y1="491.7" x2="434.98" y2="490.83" stroke="#333" stroke-width="0.8"/>
<line x1="349.51" y1="491.7" x2="349.51" y2="491.19" stroke="#333" stroke-width="0.8"/>
<line x1="442.57" y1="491.7" x2="442.57" y2="490.37" stroke="#333" stroke-width="0.8"/>
<line x1="233.87" y1="491.7" x2="233.87" y2="490.92" stroke="#333" stroke-width="0.8"/>
<line x1="297.23" y1="491.7" x2="297.23" y2="489.44" stroke="#333" stroke-width="0.8"/>
<line x1="287.43" y1="491.7" x2="287.43" y2="490.56" stroke="#333" stroke-width="0.8"/>
<line x1="322.08" y1="491.7" x2="322.08" y2="490.82" stroke="#333" stroke-width="0.8"/>
<line x1="282.61" y1="491.7" x2="282.61" y2="490.6" stroke="#333" stroke-width="0.8"/>
<line x1="353.87" y1="491.7" x2="353.87" y2="489.04" stroke="#333" stroke-width="0.8"/>
<line x1="308.11" y1="491.7" x2="308.11" y2="488.63" stroke="#333" stroke-width="0.8"/>
<line x1="271.83" y1="491.7" x2="271.83" y2="490.86" stroke="#333" stroke-width="0.8"/>
<line x1="305.76" y1="491.7" x2="305.76" y2="491.03" stroke="#333" stroke-width="0.8"/>
<line x1="235.7" y1="491.7" x2="235.7" y2="489.41" stroke="#333" stroke-width="0.8"/>
<line x1="216.57" y1="491.7" x2="216.57" y2="488.71" stroke="#333" stroke-width="0.8"/>
<line x1="196.99" y1="491.7" x2="196.99" y2="490.33" stroke="#333" stroke-width="0.8"/>
<line x1="284.91" y1="491.7" x2="284.91" y2="490.52" stroke="#333" stroke-width="0.8"/>
<line x1="196.26" y1="491.7" x2="196.26" y2="490.33" stroke="#333" stroke-width="0.8"/>
<line x1="470.09" y1="491.7" x2="470.09" y2="491.11" stroke="#333" stroke-width="0.8"/>
<line x1="252.2" y1="491.7" x2="252.2" y2="489.79" stroke="#333" stroke-width="0.8"/>
<line x1="473.92" y1="491.7" x2="473.92" y2="490.92" stroke="#333" stroke-width="0.8"/>
<line x1="284.49" y1="491.7" x2="284.49" y2="491" stroke="#333" stroke-width="0.8"/>
<line x1="218.7" y1="491.7" x2="218.7" y2="491.04" stroke="#333" stroke-width="0.8"/>
<line x1="267.67" y1="491.7" x2="267.67" y2="489.1" stroke="#333" stroke-width="0.8"/>
<line x1="361.68" y1="491.7" x2="361.68" y2="489.77" stroke="#333" stroke-width="0.8"/>
<line x1="370.36" y1="491.7" x2="370.36" y2="491.07" stroke="#333" stroke-width="0.8"/>
<line x1="423.53" y1="491.7" x2="423.53" y2="490.93" stroke="#333" stroke-width="0.8"/>
<line x1="448.8" y1="491.7" x2="448.8" y2="490.14" stroke="#333" stroke-width="0.8"/>
<line x1="204.43" y1="491.7" x2="204.43" y2="490.43" stroke="#333" stroke-width="0.8"/>
<line x1="248.9" y1="491.7" x2="248.9" y2="489.29" stroke="#333" stroke-width="0.8"/>
<line x1="415.9" y1="491.7" x2="415.9" y2="488.95" stroke="#333" stroke-width="0.8"/>
<line x1="362.95" y1="491.7" x2="362.95" y2="490.2" stroke="#333" stroke-width="0.8"/>
<line x1="430.14" y1="491.7" x2="430.14" y2="489.79" stroke="#333" stroke-width="0.8"/>
<line x1="219.85" y1="491.7" x2="219.85" y2="488.82" stroke="#333" stroke-width="0.8"/>
<line x1="469.33" y1="491.7" x2="469.33" y2="490.8" stroke="#333" stroke-width="0.8"/>
<line x1="189" y1="491.7" x2="189" y2="487.5" stroke="#222222" stroke-width="1.25"/>
<line x1="195" y1="491.7" x2="195" y2="486.5" stroke="#222222" stroke-width="1.25"/>
<line x1="203.2" y1="491.7" x2="203.2" y2="474.1" stroke="#222222" stroke-width="1.25"/>
<line x1="223.8" y1="491.7" x2="223.8" y2="448.1" stroke="#222222" stroke-width="1.25"/>
<line x1="236.7" y1="491.7" x2="236.7" y2="486" stroke="#222222" stroke-width="1.25"/>
<line x1="241" y1="491.7" x2="241" y2="487.5" stroke="#222222" stroke-width="1.25"/>
<line x1="245" y1="491.7" x2="245" y2="487" stroke="#222222" stroke-width="1.25"/>
<line x1="250.6" y1="491.7" x2="250.6" y2="436.6" stroke="#222222" stroke-width="1.25"/>
<line x1="253.5" y1="491.7" x2="253.5" y2="480.6" stroke="#222222" stroke-width="1.25"/>
<line x1="262.5" y1="491.7" x2="262.5" y2="487.3" stroke="#222222" stroke-width="1.25"/>
<line x1="269.8" y1="491.7" x2="269.8" y2="479.7" stroke="#222222" stroke-width="1.25"/>
<line x1="275.2" y1="491.7" x2="275.2" y2="487" stroke="#222222" stroke-width="1.25"/>
<line x1="279.6" y1="491.7" x2="279.6" y2="432.8" stroke="#222222" stroke-width="1.25"/>
<line x1="280.9" y1="491.7" x2="280.9" y2="453.8" stroke="#222222" stroke-width="1.25"/>
<line x1="285.1" y1="491.7" x2="285.1" y2="481" stroke="#222222" stroke-width="1.25"/>
<line x1="286" y1="491.7" x2="286" y2="482" stroke="#222222" stroke-width="1.25"/>
<line x1="287.4" y1="491.7" x2="287.4" y2="485" stroke="#222222" stroke-width="1.25"/>
<line x1="291.8" y1="491.7" x2="291.8" y2="480.3" stroke="#222222" stroke-width="1.25"/>
<line x1="298.5" y1="491.7" x2="298.5" y2="466.9" stroke="#222222" stroke-width="1.25"/>
<line x1="300.4" y1="491.7" x2="300.4" y2="486" stroke="#222222" stroke-width="1.25"/>
<line x1="307" y1="491.7" x2="307" y2="472" stroke="#222222" stroke-width="1.25"/>
<line x1="308.5" y1="491.7" x2="308.5" y2="457.3" stroke="#222222" stroke-width="1.25"/>
<line x1="312" y1="491.7" x2="312" y2="484" stroke="#222222" stroke-width="1.25"/>
<line x1="318" y1="491.7" x2="318" y2="485" stroke="#222222" stroke-width="1.25"/>
<line x1="324" y1="491.7" x2="324" y2="486" stroke="#222222" stroke-width="1.25"/>
<line x1="330" y1="491.7" x2="330" y2="460.4" stroke="#222222" stroke-width="1.25"/>
<line x1="336" y1="491.7" x2="336" y2="484" stroke="#222222" stroke-width="1.25"/>
<line x1="342" y1="491.7" x2="342" y2="482" stroke="#222222" stroke-width="1.25"/>
<line x1="346.5" y1="491.7" x2="346.5" y2="465" stroke="#222222" stroke-width="1.25"/>
<line x1="350" y1="491.7" x2="350" y2="484" stroke="#222222" stroke-width="1.25"/>
<line x1="355" y1="491.7" x2="355" y2="465.9" stroke="#222222" stroke-width="1.25"/>
<line x1="360" y1="491.7" x2="360" y2="484" stroke="#222222" stroke-width="1.25"/>
<line x1="365" y1="491.7" x2="365" y2="482" stroke="#222222" stroke-width="1.25"/>
<line x1="370" y1="491.7" x2="370" y2="472.5" stroke="#222222" stroke-width="1.25"/>
<line x1="375" y1="491.7" x2="375" y2="483" stroke="#222222" stroke-width="1.25"/>
<line x1="380" y1="491.7" x2="380" y2="474.5" stroke="#222222" stroke-width="1.25"/>
<line x1="384.2" y1="491.7" x2="384.2" y2="477" stroke="#222222" stroke-width="1.25"/>
<line x1="389" y1="491.7" x2="389" y2="484" stroke="#222222" stroke-width="1.25"/>
<line x1="394.3" y1="491.7" x2="394.3" y2="479.5" stroke="#222222" stroke-width="1.25"/>
<line x1="399" y1="491.7" x2="399" y2="470.2" stroke="#222222" stroke-width="1.25"/>
<line x1="404" y1="491.7" x2="404" y2="485" stroke="#222222" stroke-width="1.25"/>
<line x1="412" y1="491.7" x2="412" y2="486" stroke="#222222" stroke-width="1.25"/>
<line x1="419.5" y1="491.7" x2="419.5" y2="478.8" stroke="#222222" stroke-width="1.25"/>
<line x1="426" y1="491.7" x2="426" y2="486" stroke="#222222" stroke-width="1.25"/>
<line x1="432" y1="491.7" x2="432" y2="487" stroke="#222222" stroke-width="1.25"/>
<line x1="441" y1="491.7" x2="441" y2="481.2" stroke="#222222" stroke-width="1.25"/>
<line x1="448" y1="491.7" x2="448" y2="487" stroke="#222222" stroke-width="1.25"/>
<line x1="281.9" y1="491.7" x2="281.9" y2="400.2" stroke="#222222" stroke-width="1.1"/>
<line x1="281.9" y1="390.6" x2="281.9" y2="380.7" stroke="#222222" stroke-width="1.1"/>
<text x="176.5" y="486.5" font-family='"Liberation Sans", sans-serif' font-size="13" fill="#3b2fd6" stroke="#3b2fd6" stroke-width="0.3"><tspan font-size="13">b</tspan><tspan font-size="7.8" dy="4.1">2</tspan></text>
<text x="199.3" y="471" font-family='"Liberation Sans", sans-serif' font-size="13" fill="#d9253a" stroke="#d9253a" stroke-width="0.3"><tspan font-size="13">y</tspan><tspan font-size="7.8" dy="4.1">2</tspan></text>
<text x="220.4" y="445.8" font-family='"Liberation Sans", sans-serif' font-size="13" fill="#d9253a" stroke="#d9253a" stroke-width="0.3"><tspan font-size="13">y</tspan><tspan font-size="7.8" dy="4.1">3</tspan></text>
<text x="235.5" y="487.5" font-family='"Liberation Sans", sans-serif' font-size="13" fill="#3b2fd6" stroke="#3b2fd6" stroke-width="0.3"><tspan font-size="13">b</tspan><tspan font-size="7.8" dy="4.1">4</tspan></text>
<text x="252.7" y="477" font-family='"Liberation Sans", sans-serif' font-size="13" fill="#d9253a" stroke="#d9253a" stroke-width="0.3"><tspan font-size="13">y</tspan><tspan font-size="7.8" dy="4.1">4</tspan></text>
<text x="283" y="460.5" font-family='"Liberation Sans", sans-serif' font-size="13" fill="#d9253a" stroke="#d9253a" stroke-width="0.3"><tspan font-size="13">y</tspan><tspan font-size="7.8" dy="4.1">5</tspan></text>
<text x="235.1" y="406.5" font-family='"Liberation Sans", sans-serif' font-size="13" fill="#eda536" stroke="#eda536" stroke-width="0.3"><tspan font-size="13">y</tspan><tspan font-size="7.8" dy="4.1">8</tspan><tspan font-size="13" dy="-4.1">-H</tspan><tspan font-size="7.8" dy="4.1">2</tspan><tspan font-size="13" dy="-4.1">O</tspan><tspan font-size="7.8" dy="-4">2+</tspan></text>
<text x="229.8" y="432.8" font-family='"Liberation Sans", sans-serif' font-size="13" fill="#eda536" stroke="#eda536" stroke-width="0.3"><tspan font-size="13">y</tspan><tspan font-size="7.8" dy="4.1">6</tspan><tspan font-size="13" dy="-4.1">-H</tspan><tspan font-size="7.8" dy="4.1">2</tspan><tspan font-size="13" dy="-4.1">O</tspan><tspan font-size="7.8" dy="-4">2+</tspan></text>
<text x="273.2" y="375.2" font-family='"Liberation Sans", sans-serif' font-size="13" fill="#d9253a" stroke="#d9253a" stroke-width="0.3"><tspan font-size="13">y</tspan><tspan font-size="7.8" dy="4.1">8</tspan><tspan font-size="7.8" dy="-8.5">+2</tspan></text>
<text x="332" y="482" font-family='"Liberation Sans", sans-serif' font-size="13" fill="#3b2fd6" stroke="#3b2fd6" stroke-width="0.3"><tspan font-size="13">b</tspan><tspan font-size="7.8" dy="4.1">5</tspan></text>
<text x="366.7" y="482" font-family='"Liberation Sans", sans-serif' font-size="13" fill="#3b2fd6" stroke="#3b2fd6" stroke-width="0.3"><tspan font-size="13">b</tspan><tspan font-size="7.8" dy="4.1">6</tspan></text>
<text x="378" y="479.5" font-family='"Liberation Sans", sans-serif' font-size="13" fill="#d9253a" stroke="#d9253a" stroke-width="0.3"><tspan font-size="13">y</tspan><tspan font-size="7.8" dy="4.1">6</tspan></text>
<text x="394.3" y="469.5" font-family='"Liberation Sans", sans-serif' font-size="13" fill="#3b2fd6" stroke="#3b2fd6" stroke-width="0.3"><tspan font-size="13">b</tspan><tspan font-size="7.8" dy="4.1">7</tspan></text>
<text x="405.6" y="483.5" font-family='"Liberation Sans", sans-serif' font-size="13" fill="#d9253a" stroke="#d9253a" stroke-width="0.3"><tspan font-size="13">y</tspan><tspan font-size="7.8" dy="4.1">7</tspan></text>
<text x="415.7" y="477.5" font-family='"Liberation Sans", sans-serif' font-size="13" fill="#3b2fd6" stroke="#3b2fd6" stroke-width="0.3"><tspan font-size="13">b</tspan><tspan font-size="7.8" dy="4.1">8</tspan></text>
<text x="436.8" y="480.5" font-family='"Liberation Sans", sans-serif' font-size="13" fill="#d9253a" stroke="#d9253a" stroke-width="0.3"><tspan font-size="13">y</tspan><tspan font-size="7.8" dy="4.1">8</tspan></text>
<line x1="269.4" y1="409.4" x2="279.4" y2="432.4" stroke="#eda536" stroke-width="0.9"/>
<line x1="284.2" y1="467.2" x2="282.6" y2="471.5" stroke="#d9253a" stroke-width="0.9"/>
<text x="352.5" y="377.6" font-family='"Liberation Serif", serif' font-size="12.5" fill="#444" text-anchor="middle">A</text>
<text x="364.85" y="377.6" font-family='"Liberation Serif", serif' font-size="12.5" fill="#444" text-anchor="middle">E</text>
<text x="377.2" y="377.6" font-family='"Liberation Serif", serif' font-size="12.5" fill="#444" text-anchor="middle">P</text>
<text x="389.55" y="377.6" font-family='"Liberation Serif", serif' font-size="12.5" fill="#444" text-anchor="middle">V</text>
<text x="401.9" y="377.6" font-family='"Liberation Serif", serif' font-size="12.5" fill="#d9253a" text-anchor="middle" font-weight="bold">E</text>
<text x="414.25" y="377.6" font-family='"Liberation Serif", serif' font-size="12.5" fill="#444" text-anchor="middle">V</text>
<text x="426.6" y="377.6" font-family='"Liberation Serif", serif' font-size="12.5" fill="#444" text-anchor="middle">V</text>
<text x="438.95" y="377.6" font-family='"Liberation Serif", serif' font-size="12.5" fill="#444" text-anchor="middle">A</text>
<text x="451.3" y="377.6" font-family='"Liberation Serif", serif' font-size="12.5" fill="#444" text-anchor="middle">P</text>
<text x="463.65" y="377.6" font-family='"Liberation Serif", serif' font-size="12.5" fill="#444" text-anchor="middle">R</text>
<text x="348.3" y="373" font-family='"Liberation Serif", serif' font-size="7.5" fill="#444" text-anchor="end">487</text>
<text x="469.6" y="373" font-family='"Liberation Serif", serif' font-size="7.5" fill="#444">496</text>
<polyline points="371.02,373.3 371.02,361.6 382.57,361.6" fill="none" stroke="#d9253a" stroke-width="1.3"/>
<polyline points="383.38,373.3 383.38,361.6 394.93,361.6" fill="none" stroke="#d9253a" stroke-width="1.3"/>
<polyline points="395.73,373.3 395.73,361.6 407.28,361.6" fill="none" stroke="#d9253a" stroke-width="1.3"/>
<polyline points="408.07,373.3 408.07,361.6 419.62,361.6" fill="none" stroke="#d9253a" stroke-width="1.3"/>
<polyline points="420.43,373.3 420.43,361.6 431.98,361.6" fill="none" stroke="#d9253a" stroke-width="1.3"/>
<polyline points="432.77,373.3 432.77,361.6 444.32,361.6" fill="none" stroke="#d9253a" stroke-width="1.3"/>
<polyline points="445.12,373.3 445.12,361.6 456.68,361.6" fill="none" stroke="#d9253a" stroke-width="1.3"/>
<polyline points="359.47,383.7 371.02,383.7 371.02,373.3" fill="none" stroke="#3b2fd6" stroke-width="1.3"/>
<polyline points="384.18,383.7 395.73,383.7 395.73,373.3" fill="none" stroke="#3b2fd6" stroke-width="1.3"/>
<polyline points="396.52,383.7 408.07,383.7 408.07,373.3" fill="none" stroke="#3b2fd6" stroke-width="1.3"/>
<polyline points="408.88,383.7 420.43,383.7 420.43,373.3" fill="none" stroke="#3b2fd6" stroke-width="1.3"/>
<polyline points="421.22,383.7 432.77,383.7 432.77,373.3" fill="none" stroke="#3b2fd6" stroke-width="1.3"/>
<polyline points="433.57,383.7 445.12,383.7 445.12,373.3" fill="none" stroke="#3b2fd6" stroke-width="1.3"/>
<rect x="375.1" y="397" width="65.4" height="20.6" fill="#b0b0b0"/>
<text x="379" y="411.8" font-family='"Liberation Sans", sans-serif' font-size="12.5" fill="#1a1a1a" stroke="#1a1a1a" stroke-width="0.25" textLength="57.3" lengthAdjust="spacingAndGlyphs"><tspan font-style="italic">Hs</tspan><tspan>NudT16</tspan></text>
<text x="322.2" y="519.8" font-family='"Liberation Sans", sans-serif' font-size="9.5" fill="#111" text-anchor="middle" font-weight="bold" textLength="16.5" lengthAdjust="spacingAndGlyphs">m/z</text>
<line x1="30.4" y1="700.9" x2="30.4" y2="578.8" stroke="#8c8c8c" stroke-width="1.3"/>
<line x1="26.8" y1="578.8" x2="30.4" y2="578.8" stroke="#8c8c8c" stroke-width="1.2"/>
<text x="25" y="582.2" font-family='"Liberation Sans", sans-serif' font-size="9.6" fill="#111" text-anchor="end" font-weight="bold">5</text>
<line x1="26.8" y1="603.4" x2="30.4" y2="603.4" stroke="#8c8c8c" stroke-width="1.2"/>
<text x="25" y="606.8" font-family='"Liberation Sans", sans-serif' font-size="9.6" fill="#111" text-anchor="end" font-weight="bold">4</text>
<line x1="26.8" y1="627.6" x2="30.4" y2="627.6" stroke="#8c8c8c" stroke-width="1.2"/>
<text x="25" y="631" font-family='"Liberation Sans", sans-serif' font-size="9.6" fill="#111" text-anchor="end" font-weight="bold">3</text>
<line x1="26.8" y1="652" x2="30.4" y2="652" stroke="#8c8c8c" stroke-width="1.2"/>
<text x="25" y="655.4" font-family='"Liberation Sans", sans-serif' font-size="9.6" fill="#111" text-anchor="end" font-weight="bold">2</text>
<line x1="26.8" y1="676.4" x2="30.4" y2="676.4" stroke="#8c8c8c" stroke-width="1.2"/>
<text x="25" y="679.8" font-family='"Liberation Sans", sans-serif' font-size="9.6" fill="#111" text-anchor="end" font-weight="bold">1</text>
<line x1="26.8" y1="700.9" x2="30.4" y2="700.9" stroke="#8c8c8c" stroke-width="1.2"/>
<text x="25" y="704.3" font-family='"Liberation Sans", sans-serif' font-size="9.6" fill="#111" text-anchor="end" font-weight="bold">0</text>
<text x="0" y="0" transform="translate(9.0,629.4) rotate(-90)" font-family='"Liberation Sans", sans-serif' font-size="10" font-weight="bold" fill="#111" text-anchor="middle" textLength="61.3" lengthAdjust="spacingAndGlyphs">Intensity (e3)</text>
<line x1="26.2" y1="700.9" x2="334.9" y2="700.9" stroke="#333333" stroke-width="1.3"/>
<line x1="30.4" y1="700.9" x2="30.4" y2="704.9" stroke="#333333" stroke-width="1.1"/>
<line x1="35.47" y1="700.9" x2="35.47" y2="703.4" stroke="#555555" stroke-width="0.9"/>
<line x1="40.54" y1="700.9" x2="40.54" y2="703.4" stroke="#555555" stroke-width="0.9"/>
<line x1="45.61" y1="700.9" x2="45.61" y2="703.4" stroke="#555555" stroke-width="0.9"/>
<line x1="50.68" y1="700.9" x2="50.68" y2="703.4" stroke="#555555" stroke-width="0.9"/>
<line x1="55.75" y1="700.9" x2="55.75" y2="704.9" stroke="#333333" stroke-width="1.1"/>
<line x1="60.82" y1="700.9" x2="60.82" y2="703.4" stroke="#555555" stroke-width="0.9"/>
<line x1="65.89" y1="700.9" x2="65.89" y2="703.4" stroke="#555555" stroke-width="0.9"/>
<line x1="70.96" y1="700.9" x2="70.96" y2="703.4" stroke="#555555" stroke-width="0.9"/>
<line x1="76.03" y1="700.9" x2="76.03" y2="703.4" stroke="#555555" stroke-width="0.9"/>
<line x1="81.1" y1="700.9" x2="81.1" y2="704.9" stroke="#333333" stroke-width="1.1"/>
<line x1="86.17" y1="700.9" x2="86.17" y2="703.4" stroke="#555555" stroke-width="0.9"/>
<line x1="91.24" y1="700.9" x2="91.24" y2="703.4" stroke="#555555" stroke-width="0.9"/>
<line x1="96.31" y1="700.9" x2="96.31" y2="703.4" stroke="#555555" stroke-width="0.9"/>
<line x1="101.38" y1="700.9" x2="101.38" y2="703.4" stroke="#555555" stroke-width="0.9"/>
<line x1="106.45" y1="700.9" x2="106.45" y2="704.9" stroke="#333333" stroke-width="1.1"/>
<line x1="111.52" y1="700.9" x2="111.52" y2="703.4" stroke="#555555" stroke-width="0.9"/>
<line x1="116.59" y1="700.9" x2="116.59" y2="703.4" stroke="#555555" stroke-width="0.9"/>
<line x1="121.66" y1="700.9" x2="121.66" y2="703.4" stroke="#555555" stroke-width="0.9"/>
<line x1="126.73" y1="700.9" x2="126.73" y2="703.4" stroke="#555555" stroke-width="0.9"/>
<line x1="131.8" y1="700.9" x2="131.8" y2="704.9" stroke="#333333" stroke-width="1.1"/>
<line x1="136.87" y1="700.9" x2="136.87" y2="703.4" stroke="#555555" stroke-width="0.9"/>
<line x1="141.94" y1="700.9" x2="141.94" y2="703.4" stroke="#555555" stroke-width="0.9"/>
<line x1="147.01" y1="700.9" x2="147.01" y2="703.4" stroke="#555555" stroke-width="0.9"/>
<line x1="152.08" y1="700.9" x2="152.08" y2="703.4" stroke="#555555" stroke-width="0.9"/>
<line x1="157.15" y1="700.9" x2="157.15" y2="704.9" stroke="#333333" stroke-width="1.1"/>
<line x1="162.22" y1="700.9" x2="162.22" y2="703.4" stroke="#555555" stroke-width="0.9"/>
<line x1="167.29" y1="700.9" x2="167.29" y2="703.4" stroke="#555555" stroke-width="0.9"/>
<line x1="172.36" y1="700.9" x2="172.36" y2="703.4" stroke="#555555" stroke-width="0.9"/>
<line x1="177.43" y1="700.9" x2="177.43" y2="703.4" stroke="#555555" stroke-width="0.9"/>
<line x1="182.5" y1="700.9" x2="182.5" y2="704.9" stroke="#333333" stroke-width="1.1"/>
<line x1="187.57" y1="700.9" x2="187.57" y2="703.4" stroke="#555555" stroke-width="0.9"/>
<line x1="192.64" y1="700.9" x2="192.64" y2="703.4" stroke="#555555" stroke-width="0.9"/>
<line x1="197.71" y1="700.9" x2="197.71" y2="703.4" stroke="#555555" stroke-width="0.9"/>
<line x1="202.78" y1="700.9" x2="202.78" y2="703.4" stroke="#555555" stroke-width="0.9"/>
<line x1="207.85" y1="700.9" x2="207.85" y2="704.9" stroke="#333333" stroke-width="1.1"/>
<line x1="212.92" y1="700.9" x2="212.92" y2="703.4" stroke="#555555" stroke-width="0.9"/>
<line x1="217.99" y1="700.9" x2="217.99" y2="703.4" stroke="#555555" stroke-width="0.9"/>
<line x1="223.06" y1="700.9" x2="223.06" y2="703.4" stroke="#555555" stroke-width="0.9"/>
<line x1="228.13" y1="700.9" x2="228.13" y2="703.4" stroke="#555555" stroke-width="0.9"/>
<line x1="233.2" y1="700.9" x2="233.2" y2="704.9" stroke="#333333" stroke-width="1.1"/>
<line x1="238.27" y1="700.9" x2="238.27" y2="703.4" stroke="#555555" stroke-width="0.9"/>
<line x1="243.34" y1="700.9" x2="243.34" y2="703.4" stroke="#555555" stroke-width="0.9"/>
<line x1="248.41" y1="700.9" x2="248.41" y2="703.4" stroke="#555555" stroke-width="0.9"/>
<line x1="253.48" y1="700.9" x2="253.48" y2="703.4" stroke="#555555" stroke-width="0.9"/>
<line x1="258.55" y1="700.9" x2="258.55" y2="704.9" stroke="#333333" stroke-width="1.1"/>
<line x1="263.62" y1="700.9" x2="263.62" y2="703.4" stroke="#555555" stroke-width="0.9"/>
<line x1="268.69" y1="700.9" x2="268.69" y2="703.4" stroke="#555555" stroke-width="0.9"/>
<line x1="273.76" y1="700.9" x2="273.76" y2="703.4" stroke="#555555" stroke-width="0.9"/>
<line x1="278.83" y1="700.9" x2="278.83" y2="703.4" stroke="#555555" stroke-width="0.9"/>
<line x1="283.9" y1="700.9" x2="283.9" y2="704.9" stroke="#333333" stroke-width="1.1"/>
<line x1="288.97" y1="700.9" x2="288.97" y2="703.4" stroke="#555555" stroke-width="0.9"/>
<line x1="294.04" y1="700.9" x2="294.04" y2="703.4" stroke="#555555" stroke-width="0.9"/>
<line x1="299.11" y1="700.9" x2="299.11" y2="703.4" stroke="#555555" stroke-width="0.9"/>
<line x1="304.18" y1="700.9" x2="304.18" y2="703.4" stroke="#555555" stroke-width="0.9"/>
<line x1="309.25" y1="700.9" x2="309.25" y2="704.9" stroke="#333333" stroke-width="1.1"/>
<line x1="314.32" y1="700.9" x2="314.32" y2="703.4" stroke="#555555" stroke-width="0.9"/>
<line x1="319.39" y1="700.9" x2="319.39" y2="703.4" stroke="#555555" stroke-width="0.9"/>
<line x1="324.46" y1="700.9" x2="324.46" y2="703.4" stroke="#555555" stroke-width="0.9"/>
<line x1="329.53" y1="700.9" x2="329.53" y2="703.4" stroke="#555555" stroke-width="0.9"/>
<line x1="334.6" y1="700.9" x2="334.6" y2="704.9" stroke="#333333" stroke-width="1.1"/>
<text x="30.4" y="714.4" font-family='"Liberation Sans", sans-serif' font-size="9.3" fill="#111" text-anchor="middle" font-weight="bold" textLength="14.55" lengthAdjust="spacingAndGlyphs">200</text>
<text x="55.75" y="714.4" font-family='"Liberation Sans", sans-serif' font-size="9.3" fill="#111" text-anchor="middle" font-weight="bold" textLength="14.55" lengthAdjust="spacingAndGlyphs">300</text>
<text x="81.1" y="714.4" font-family='"Liberation Sans", sans-serif' font-size="9.3" fill="#111" text-anchor="middle" font-weight="bold" textLength="14.55" lengthAdjust="spacingAndGlyphs">400</text>
<text x="106.45" y="714.4" font-family='"Liberation Sans", sans-serif' font-size="9.3" fill="#111" text-anchor="middle" font-weight="bold" textLength="14.55" lengthAdjust="spacingAndGlyphs">500</text>
<text x="131.8" y="714.4" font-family='"Liberation Sans", sans-serif' font-size="9.3" fill="#111" text-anchor="middle" font-weight="bold" textLength="14.55" lengthAdjust="spacingAndGlyphs">600</text>
<text x="157.15" y="714.4" font-family='"Liberation Sans", sans-serif' font-size="9.3" fill="#111" text-anchor="middle" font-weight="bold" textLength="14.55" lengthAdjust="spacingAndGlyphs">700</text>
<text x="182.5" y="714.4" font-family='"Liberation Sans", sans-serif' font-size="9.3" fill="#111" text-anchor="middle" font-weight="bold" textLength="14.55" lengthAdjust="spacingAndGlyphs">800</text>
<text x="207.85" y="714.4" font-family='"Liberation Sans", sans-serif' font-size="9.3" fill="#111" text-anchor="middle" font-weight="bold" textLength="14.55" lengthAdjust="spacingAndGlyphs">900</text>
<text x="233.2" y="714.4" font-family='"Liberation Sans", sans-serif' font-size="9.3" fill="#111" text-anchor="middle" font-weight="bold" textLength="19.4" lengthAdjust="spacingAndGlyphs">1000</text>
<text x="258.55" y="714.4" font-family='"Liberation Sans", sans-serif' font-size="9.3" fill="#111" text-anchor="middle" font-weight="bold" textLength="19.4" lengthAdjust="spacingAndGlyphs">1100</text>
<text x="283.9" y="714.4" font-family='"Liberation Sans", sans-serif' font-size="9.3" fill="#111" text-anchor="middle" font-weight="bold" textLength="19.4" lengthAdjust="spacingAndGlyphs">1200</text>
<text x="309.25" y="714.4" font-family='"Liberation Sans", sans-serif' font-size="9.3" fill="#111" text-anchor="middle" font-weight="bold" textLength="19.4" lengthAdjust="spacingAndGlyphs">1300</text>
<text x="334.6" y="714.4" font-family='"Liberation Sans", sans-serif' font-size="9.3" fill="#111" text-anchor="middle" font-weight="bold" textLength="19.4" lengthAdjust="spacingAndGlyphs">1400</text>
<text x="182.9" y="727.6" font-family='"Liberation Sans", sans-serif' font-size="9.5" fill="#111" text-anchor="middle" font-weight="bold" textLength="15.8" lengthAdjust="spacingAndGlyphs">m/z</text>
<line x1="154.97" y1="701.2" x2="154.97" y2="699.08" stroke="#333" stroke-width="0.8"/>
<line x1="85.18" y1="701.2" x2="85.18" y2="700.64" stroke="#333" stroke-width="0.8"/>
<line x1="67.11" y1="701.2" x2="67.11" y2="700.74" stroke="#333" stroke-width="0.8"/>
<line x1="186.63" y1="701.2" x2="186.63" y2="698.6" stroke="#333" stroke-width="0.8"/>
<line x1="145.91" y1="701.2" x2="145.91" y2="699.73" stroke="#333" stroke-width="0.8"/>
<line x1="130.16" y1="701.2" x2="130.16" y2="700.24" stroke="#333" stroke-width="0.8"/>
<line x1="217.78" y1="701.2" x2="217.78" y2="700.7" stroke="#333" stroke-width="0.8"/>
<line x1="60.48" y1="701.2" x2="60.48" y2="700.13" stroke="#333" stroke-width="0.8"/>
<line x1="220.22" y1="701.2" x2="220.22" y2="700.2" stroke="#333" stroke-width="0.8"/>
<line x1="148.15" y1="701.2" x2="148.15" y2="699.11" stroke="#333" stroke-width="0.8"/>
<line x1="88.77" y1="701.2" x2="88.77" y2="700.5" stroke="#333" stroke-width="0.8"/>
<line x1="46.81" y1="701.2" x2="46.81" y2="698.88" stroke="#333" stroke-width="0.8"/>
<line x1="163.35" y1="701.2" x2="163.35" y2="700.42" stroke="#333" stroke-width="0.8"/>
<line x1="253.85" y1="701.2" x2="253.85" y2="700.02" stroke="#333" stroke-width="0.8"/>
<line x1="281.97" y1="701.2" x2="281.97" y2="699.53" stroke="#333" stroke-width="0.8"/>
<line x1="194.7" y1="701.2" x2="194.7" y2="700.33" stroke="#333" stroke-width="0.8"/>
<line x1="271.01" y1="701.2" x2="271.01" y2="699.96" stroke="#333" stroke-width="0.8"/>
<line x1="278.7" y1="701.2" x2="278.7" y2="700.27" stroke="#333" stroke-width="0.8"/>
<line x1="79.34" y1="701.2" x2="79.34" y2="700.65" stroke="#333" stroke-width="0.8"/>
<line x1="258.79" y1="701.2" x2="258.79" y2="699.61" stroke="#333" stroke-width="0.8"/>
<line x1="331.39" y1="701.2" x2="331.39" y2="700.46" stroke="#333" stroke-width="0.8"/>
<line x1="65.57" y1="701.2" x2="65.57" y2="699.61" stroke="#333" stroke-width="0.8"/>
<line x1="214.62" y1="701.2" x2="214.62" y2="700.57" stroke="#333" stroke-width="0.8"/>
<line x1="46.44" y1="701.2" x2="46.44" y2="700.34" stroke="#333" stroke-width="0.8"/>
<line x1="86.01" y1="701.2" x2="86.01" y2="698.9" stroke="#333" stroke-width="0.8"/>
<line x1="218.51" y1="701.2" x2="218.51" y2="700.01" stroke="#333" stroke-width="0.8"/>
<line x1="113.89" y1="701.2" x2="113.89" y2="700.71" stroke="#333" stroke-width="0.8"/>
<line x1="239.16" y1="701.2" x2="239.16" y2="700.25" stroke="#333" stroke-width="0.8"/>
<line x1="285.03" y1="701.2" x2="285.03" y2="699.94" stroke="#333" stroke-width="0.8"/>
<line x1="321.24" y1="701.2" x2="321.24" y2="700.61" stroke="#333" stroke-width="0.8"/>
<line x1="186.18" y1="701.2" x2="186.18" y2="699.12" stroke="#333" stroke-width="0.8"/>
<line x1="196.45" y1="701.2" x2="196.45" y2="700.25" stroke="#333" stroke-width="0.8"/>
<line x1="122.26" y1="701.2" x2="122.26" y2="699.97" stroke="#333" stroke-width="0.8"/>
<line x1="315.8" y1="701.2" x2="315.8" y2="700.66" stroke="#333" stroke-width="0.8"/>
<line x1="315.99" y1="701.2" x2="315.99" y2="700.36" stroke="#333" stroke-width="0.8"/>
<line x1="164.93" y1="701.2" x2="164.93" y2="698.67" stroke="#333" stroke-width="0.8"/>
<line x1="57.35" y1="701.2" x2="57.35" y2="698.52" stroke="#333" stroke-width="0.8"/>
<line x1="115.86" y1="701.2" x2="115.86" y2="699.18" stroke="#333" stroke-width="0.8"/>
<line x1="105.18" y1="701.2" x2="105.18" y2="699.49" stroke="#333" stroke-width="0.8"/>
<line x1="53.98" y1="701.2" x2="53.98" y2="700.33" stroke="#333" stroke-width="0.8"/>
<line x1="74.01" y1="701.2" x2="74.01" y2="699.9" stroke="#333" stroke-width="0.8"/>
<line x1="101.76" y1="701.2" x2="101.76" y2="699.72" stroke="#333" stroke-width="0.8"/>
<line x1="128.05" y1="701.2" x2="128.05" y2="700.16" stroke="#333" stroke-width="0.8"/>
<line x1="305.69" y1="701.2" x2="305.69" y2="700.16" stroke="#333" stroke-width="0.8"/>
<line x1="314.34" y1="701.2" x2="314.34" y2="698.9" stroke="#333" stroke-width="0.8"/>
<line x1="147.01" y1="701.2" x2="147.01" y2="698.49" stroke="#333" stroke-width="0.8"/>
<line x1="238.71" y1="701.2" x2="238.71" y2="700.36" stroke="#333" stroke-width="0.8"/>
<line x1="240.14" y1="701.2" x2="240.14" y2="700.35" stroke="#333" stroke-width="0.8"/>
<line x1="125.68" y1="701.2" x2="125.68" y2="700.3" stroke="#333" stroke-width="0.8"/>
<line x1="70.94" y1="701.2" x2="70.94" y2="700.67" stroke="#333" stroke-width="0.8"/>
<line x1="68.31" y1="701.2" x2="68.31" y2="700.06" stroke="#333" stroke-width="0.8"/>
<line x1="224.12" y1="701.2" x2="224.12" y2="700.55" stroke="#333" stroke-width="0.8"/>
<line x1="308.97" y1="701.2" x2="308.97" y2="699.33" stroke="#333" stroke-width="0.8"/>
<line x1="239.4" y1="701.2" x2="239.4" y2="700.03" stroke="#333" stroke-width="0.8"/>
<line x1="127.95" y1="701.2" x2="127.95" y2="698.93" stroke="#333" stroke-width="0.8"/>
<line x1="36.91" y1="701.2" x2="36.91" y2="700.23" stroke="#333" stroke-width="0.8"/>
<line x1="36.85" y1="701.2" x2="36.85" y2="700.46" stroke="#333" stroke-width="0.8"/>
<line x1="290.19" y1="701.2" x2="290.19" y2="700.08" stroke="#333" stroke-width="0.8"/>
<line x1="161.13" y1="701.2" x2="161.13" y2="698.01" stroke="#333" stroke-width="0.8"/>
<line x1="280.71" y1="701.2" x2="280.71" y2="700.48" stroke="#333" stroke-width="0.8"/>
<line x1="76.86" y1="701.2" x2="76.86" y2="700.35" stroke="#333" stroke-width="0.8"/>
<line x1="271.86" y1="701.2" x2="271.86" y2="700.25" stroke="#333" stroke-width="0.8"/>
<line x1="85.79" y1="701.2" x2="85.79" y2="699.24" stroke="#333" stroke-width="0.8"/>
<line x1="174.18" y1="701.2" x2="174.18" y2="699" stroke="#333" stroke-width="0.8"/>
<line x1="296.27" y1="701.2" x2="296.27" y2="700.11" stroke="#333" stroke-width="0.8"/>
<line x1="169.74" y1="701.2" x2="169.74" y2="699.97" stroke="#333" stroke-width="0.8"/>
<line x1="90.18" y1="701.2" x2="90.18" y2="699.49" stroke="#333" stroke-width="0.8"/>
<line x1="225.08" y1="701.2" x2="225.08" y2="700.67" stroke="#333" stroke-width="0.8"/>
<line x1="99.73" y1="701.2" x2="99.73" y2="700.52" stroke="#333" stroke-width="0.8"/>
<line x1="114.17" y1="701.2" x2="114.17" y2="699.46" stroke="#333" stroke-width="0.8"/>
<line x1="33.37" y1="701.2" x2="33.37" y2="699.93" stroke="#333" stroke-width="0.8"/>
<line x1="84.01" y1="701.2" x2="84.01" y2="699.35" stroke="#333" stroke-width="0.8"/>
<line x1="129.6" y1="701.2" x2="129.6" y2="698.62" stroke="#333" stroke-width="0.8"/>
<line x1="134.24" y1="701.2" x2="134.24" y2="700.49" stroke="#333" stroke-width="0.8"/>
<line x1="210.02" y1="701.2" x2="210.02" y2="700" stroke="#333" stroke-width="0.8"/>
<line x1="260.19" y1="701.2" x2="260.19" y2="699.89" stroke="#333" stroke-width="0.8"/>
<line x1="315.74" y1="701.2" x2="315.74" y2="700.06" stroke="#333" stroke-width="0.8"/>
<line x1="175.65" y1="701.2" x2="175.65" y2="700.18" stroke="#333" stroke-width="0.8"/>
<line x1="147.3" y1="701.2" x2="147.3" y2="700.57" stroke="#333" stroke-width="0.8"/>
<line x1="299.94" y1="701.2" x2="299.94" y2="700.11" stroke="#333" stroke-width="0.8"/>
<line x1="321.8" y1="701.2" x2="321.8" y2="700.75" stroke="#333" stroke-width="0.8"/>
<line x1="263.13" y1="701.2" x2="263.13" y2="699.11" stroke="#333" stroke-width="0.8"/>
<line x1="181.37" y1="701.2" x2="181.37" y2="699.72" stroke="#333" stroke-width="0.8"/>
<line x1="100.91" y1="701.2" x2="100.91" y2="699.28" stroke="#333" stroke-width="0.8"/>
<line x1="41.05" y1="701.2" x2="41.05" y2="700.77" stroke="#333" stroke-width="0.8"/>
<line x1="251.58" y1="701.2" x2="251.58" y2="700.34" stroke="#333" stroke-width="0.8"/>
<line x1="271.76" y1="701.2" x2="271.76" y2="699.19" stroke="#333" stroke-width="0.8"/>
<line x1="205.96" y1="701.2" x2="205.96" y2="699.67" stroke="#333" stroke-width="0.8"/>
<line x1="149.02" y1="701.2" x2="149.02" y2="699.05" stroke="#333" stroke-width="0.8"/>
<line x1="234.54" y1="701.2" x2="234.54" y2="697.68" stroke="#333" stroke-width="0.8"/>
<line x1="192.4" y1="701.2" x2="192.4" y2="700.43" stroke="#333" stroke-width="0.8"/>
<line x1="308.53" y1="701.2" x2="308.53" y2="700.54" stroke="#333" stroke-width="0.8"/>
<line x1="114.81" y1="701.2" x2="114.81" y2="699.9" stroke="#333" stroke-width="0.8"/>
<line x1="193.24" y1="701.2" x2="193.24" y2="700.48" stroke="#333" stroke-width="0.8"/>
<line x1="241.52" y1="701.2" x2="241.52" y2="700.72" stroke="#333" stroke-width="0.8"/>
<line x1="36.2" y1="701.2" x2="36.2" y2="699.85" stroke="#333" stroke-width="0.8"/>
<line x1="36.14" y1="701.2" x2="36.14" y2="700.55" stroke="#333" stroke-width="0.8"/>
<line x1="203.2" y1="701.2" x2="203.2" y2="700.13" stroke="#333" stroke-width="0.8"/>
<line x1="131.17" y1="701.2" x2="131.17" y2="700.65" stroke="#333" stroke-width="0.8"/>
<line x1="222.82" y1="701.2" x2="222.82" y2="699.69" stroke="#333" stroke-width="0.8"/>
<line x1="79.91" y1="701.2" x2="79.91" y2="700.37" stroke="#333" stroke-width="0.8"/>
<line x1="246.78" y1="701.2" x2="246.78" y2="698.5" stroke="#333" stroke-width="0.8"/>
<line x1="124.24" y1="701.2" x2="124.24" y2="700.02" stroke="#333" stroke-width="0.8"/>
<line x1="212.3" y1="701.2" x2="212.3" y2="699.46" stroke="#333" stroke-width="0.8"/>
<line x1="217.08" y1="701.2" x2="217.08" y2="699.26" stroke="#333" stroke-width="0.8"/>
<line x1="103.97" y1="701.2" x2="103.97" y2="698.73" stroke="#333" stroke-width="0.8"/>
<line x1="130.06" y1="701.2" x2="130.06" y2="700.62" stroke="#333" stroke-width="0.8"/>
<line x1="57.96" y1="701.2" x2="57.96" y2="699.06" stroke="#333" stroke-width="0.8"/>
<line x1="266.28" y1="701.2" x2="266.28" y2="699.84" stroke="#333" stroke-width="0.8"/>
<line x1="244.6" y1="701.2" x2="244.6" y2="699.42" stroke="#333" stroke-width="0.8"/>
<line x1="308.26" y1="701.2" x2="308.26" y2="700.35" stroke="#333" stroke-width="0.8"/>
<line x1="305.52" y1="701.2" x2="305.52" y2="699.56" stroke="#333" stroke-width="0.8"/>
<line x1="197.4" y1="701.2" x2="197.4" y2="700.02" stroke="#333" stroke-width="0.8"/>
<line x1="144.11" y1="701.2" x2="144.11" y2="700.73" stroke="#333" stroke-width="0.8"/>
<line x1="57.43" y1="701.2" x2="57.43" y2="699.73" stroke="#333" stroke-width="0.8"/>
<line x1="38.81" y1="701.2" x2="38.81" y2="699.83" stroke="#333" stroke-width="0.8"/>
<line x1="222.89" y1="701.2" x2="222.89" y2="699.71" stroke="#333" stroke-width="0.8"/>
<line x1="319.15" y1="701.2" x2="319.15" y2="700.74" stroke="#333" stroke-width="0.8"/>
<line x1="179.63" y1="701.2" x2="179.63" y2="699.87" stroke="#333" stroke-width="0.8"/>
<line x1="268.18" y1="701.2" x2="268.18" y2="700.46" stroke="#333" stroke-width="0.8"/>
<line x1="149.45" y1="701.2" x2="149.45" y2="700.15" stroke="#333" stroke-width="0.8"/>
<line x1="87.95" y1="701.2" x2="87.95" y2="699.79" stroke="#333" stroke-width="0.8"/>
<line x1="329.4" y1="701.2" x2="329.4" y2="699.77" stroke="#333" stroke-width="0.8"/>
<line x1="41.82" y1="701.2" x2="41.82" y2="700.42" stroke="#333" stroke-width="0.8"/>
<line x1="159.59" y1="701.2" x2="159.59" y2="700.49" stroke="#333" stroke-width="0.8"/>
<line x1="122.13" y1="701.2" x2="122.13" y2="699.6" stroke="#333" stroke-width="0.8"/>
<line x1="66.84" y1="701.2" x2="66.84" y2="699.96" stroke="#333" stroke-width="0.8"/>
<line x1="265.23" y1="701.2" x2="265.23" y2="700.21" stroke="#333" stroke-width="0.8"/>
<line x1="244.42" y1="701.2" x2="244.42" y2="699.55" stroke="#333" stroke-width="0.8"/>
<line x1="38.21" y1="701.2" x2="38.21" y2="700.15" stroke="#333" stroke-width="0.8"/>
<line x1="120.43" y1="701.2" x2="120.43" y2="699.95" stroke="#333" stroke-width="0.8"/>
<line x1="103.78" y1="701.2" x2="103.78" y2="699.91" stroke="#333" stroke-width="0.8"/>
<line x1="239.87" y1="701.2" x2="239.87" y2="700.14" stroke="#333" stroke-width="0.8"/>
<line x1="295.87" y1="701.2" x2="295.87" y2="700.41" stroke="#333" stroke-width="0.8"/>
<line x1="67.56" y1="701.2" x2="67.56" y2="699.79" stroke="#333" stroke-width="0.8"/>
<line x1="186.85" y1="701.2" x2="186.85" y2="700.06" stroke="#333" stroke-width="0.8"/>
<line x1="55.54" y1="701.2" x2="55.54" y2="700.36" stroke="#333" stroke-width="0.8"/>
<line x1="70.04" y1="701.2" x2="70.04" y2="700.63" stroke="#333" stroke-width="0.8"/>
<line x1="135.27" y1="701.2" x2="135.27" y2="700.2" stroke="#333" stroke-width="0.8"/>
<line x1="185.6" y1="701.2" x2="185.6" y2="700.4" stroke="#333" stroke-width="0.8"/>
<line x1="103.69" y1="701.2" x2="103.69" y2="700.25" stroke="#333" stroke-width="0.8"/>
<line x1="68.55" y1="701.2" x2="68.55" y2="699.56" stroke="#333" stroke-width="0.8"/>
<line x1="312.8" y1="701.2" x2="312.8" y2="699.97" stroke="#333" stroke-width="0.8"/>
<line x1="144.05" y1="701.2" x2="144.05" y2="698.48" stroke="#333" stroke-width="0.8"/>
<line x1="315.02" y1="701.2" x2="315.02" y2="700.73" stroke="#333" stroke-width="0.8"/>
<line x1="153" y1="701.2" x2="153" y2="698.9" stroke="#333" stroke-width="0.8"/>
<line x1="157" y1="701.2" x2="157" y2="699.77" stroke="#333" stroke-width="0.8"/>
<line x1="283.12" y1="701.2" x2="283.12" y2="699.87" stroke="#333" stroke-width="0.8"/>
<line x1="77.8" y1="701.2" x2="77.8" y2="700.11" stroke="#333" stroke-width="0.8"/>
<line x1="133.59" y1="701.2" x2="133.59" y2="700.62" stroke="#333" stroke-width="0.8"/>
<line x1="60.43" y1="701.2" x2="60.43" y2="699.28" stroke="#333" stroke-width="0.8"/>
<line x1="230.12" y1="701.2" x2="230.12" y2="699.86" stroke="#333" stroke-width="0.8"/>
<line x1="271.12" y1="701.2" x2="271.12" y2="699.53" stroke="#333" stroke-width="0.8"/>
<line x1="257.06" y1="701.2" x2="257.06" y2="698.48" stroke="#333" stroke-width="0.8"/>
<line x1="233.61" y1="701.2" x2="233.61" y2="699.91" stroke="#333" stroke-width="0.8"/>
<line x1="200.66" y1="701.2" x2="200.66" y2="698.94" stroke="#333" stroke-width="0.8"/>
<line x1="94.39" y1="701.2" x2="94.39" y2="700.29" stroke="#333" stroke-width="0.8"/>
<line x1="232.71" y1="701.2" x2="232.71" y2="700.77" stroke="#333" stroke-width="0.8"/>
<line x1="159.21" y1="701.2" x2="159.21" y2="700.32" stroke="#333" stroke-width="0.8"/>
<line x1="241.2" y1="701.2" x2="241.2" y2="699.91" stroke="#333" stroke-width="0.8"/>
<line x1="114.04" y1="701.2" x2="114.04" y2="700.59" stroke="#333" stroke-width="0.8"/>
<line x1="238.58" y1="701.2" x2="238.58" y2="700.38" stroke="#333" stroke-width="0.8"/>
<line x1="66.17" y1="701.2" x2="66.17" y2="699.97" stroke="#333" stroke-width="0.8"/>
<line x1="311.44" y1="701.2" x2="311.44" y2="698.21" stroke="#333" stroke-width="0.8"/>
<line x1="73.63" y1="701.2" x2="73.63" y2="700.18" stroke="#333" stroke-width="0.8"/>
<line x1="157.36" y1="701.2" x2="157.36" y2="700.74" stroke="#333" stroke-width="0.8"/>
<line x1="117.64" y1="701.2" x2="117.64" y2="700.63" stroke="#333" stroke-width="0.8"/>
<line x1="247.89" y1="701.2" x2="247.89" y2="700.65" stroke="#333" stroke-width="0.8"/>
<line x1="242.18" y1="701.2" x2="242.18" y2="698.79" stroke="#333" stroke-width="0.8"/>
<line x1="103.3" y1="701.2" x2="103.3" y2="700.25" stroke="#333" stroke-width="0.8"/>
<line x1="274.49" y1="701.2" x2="274.49" y2="698.95" stroke="#333" stroke-width="0.8"/>
<line x1="156.74" y1="701.2" x2="156.74" y2="698.51" stroke="#333" stroke-width="0.8"/>
<line x1="217.42" y1="701.2" x2="217.42" y2="700.08" stroke="#333" stroke-width="0.8"/>
<line x1="42.59" y1="701.2" x2="42.59" y2="700.69" stroke="#333" stroke-width="0.8"/>
<line x1="144.35" y1="701.2" x2="144.35" y2="698.49" stroke="#333" stroke-width="0.8"/>
<line x1="162.95" y1="701.2" x2="162.95" y2="699.96" stroke="#333" stroke-width="0.8"/>
<line x1="302.77" y1="701.2" x2="302.77" y2="700" stroke="#333" stroke-width="0.8"/>
<line x1="313.58" y1="701.2" x2="313.58" y2="699.69" stroke="#333" stroke-width="0.8"/>
<line x1="321.34" y1="701.2" x2="321.34" y2="700.24" stroke="#333" stroke-width="0.8"/>
<line x1="167.95" y1="701.2" x2="167.95" y2="699.17" stroke="#333" stroke-width="0.8"/>
<line x1="159.11" y1="701.2" x2="159.11" y2="700.35" stroke="#333" stroke-width="0.8"/>
<line x1="237.64" y1="701.2" x2="237.64" y2="699.18" stroke="#333" stroke-width="0.8"/>
<line x1="79.87" y1="701.2" x2="79.87" y2="699.41" stroke="#333" stroke-width="0.8"/>
<line x1="66.24" y1="701.2" x2="66.24" y2="700.62" stroke="#333" stroke-width="0.8"/>
<line x1="75.08" y1="701.2" x2="75.08" y2="699.39" stroke="#333" stroke-width="0.8"/>
<line x1="242.08" y1="701.2" x2="242.08" y2="697.53" stroke="#333" stroke-width="0.8"/>
<line x1="219.42" y1="701.2" x2="219.42" y2="698.13" stroke="#333" stroke-width="0.8"/>
<line x1="185.79" y1="701.2" x2="185.79" y2="699.26" stroke="#333" stroke-width="0.8"/>
<line x1="259.48" y1="701.2" x2="259.48" y2="698.28" stroke="#333" stroke-width="0.8"/>
<line x1="184.96" y1="701.2" x2="184.96" y2="700.72" stroke="#333" stroke-width="0.8"/>
<line x1="244.85" y1="701.2" x2="244.85" y2="698.96" stroke="#333" stroke-width="0.8"/>
<line x1="84.71" y1="701.2" x2="84.71" y2="697.96" stroke="#333" stroke-width="0.8"/>
<line x1="176.63" y1="701.2" x2="176.63" y2="700.33" stroke="#333" stroke-width="0.8"/>
<line x1="55.82" y1="701.2" x2="55.82" y2="698.62" stroke="#333" stroke-width="0.8"/>
<line x1="146.32" y1="701.2" x2="146.32" y2="699.66" stroke="#333" stroke-width="0.8"/>
<line x1="279.97" y1="701.2" x2="279.97" y2="699.9" stroke="#333" stroke-width="0.8"/>
<line x1="65.22" y1="701.2" x2="65.22" y2="700.27" stroke="#333" stroke-width="0.8"/>
<line x1="299.38" y1="701.2" x2="299.38" y2="700.22" stroke="#333" stroke-width="0.8"/>
<line x1="170.57" y1="701.2" x2="170.57" y2="697.92" stroke="#333" stroke-width="0.8"/>
<line x1="170.61" y1="701.2" x2="170.61" y2="700.09" stroke="#333" stroke-width="0.8"/>
<line x1="89.9" y1="701.2" x2="89.9" y2="700.11" stroke="#333" stroke-width="0.8"/>
<line x1="52.28" y1="701.2" x2="52.28" y2="700.63" stroke="#333" stroke-width="0.8"/>
<line x1="45.95" y1="701.2" x2="45.95" y2="699.15" stroke="#333" stroke-width="0.8"/>
<line x1="251.84" y1="701.2" x2="251.84" y2="699.68" stroke="#333" stroke-width="0.8"/>
<line x1="292.88" y1="701.2" x2="292.88" y2="700.03" stroke="#333" stroke-width="0.8"/>
<line x1="82.41" y1="701.2" x2="82.41" y2="698.33" stroke="#333" stroke-width="0.8"/>
<line x1="131.85" y1="701.2" x2="131.85" y2="700.25" stroke="#333" stroke-width="0.8"/>
<line x1="332.89" y1="701.2" x2="332.89" y2="700.67" stroke="#333" stroke-width="0.8"/>
<line x1="156.27" y1="701.2" x2="156.27" y2="699.45" stroke="#333" stroke-width="0.8"/>
<line x1="57.28" y1="701.2" x2="57.28" y2="700.37" stroke="#333" stroke-width="0.8"/>
<line x1="132.76" y1="701.2" x2="132.76" y2="699.22" stroke="#333" stroke-width="0.8"/>
<line x1="33.64" y1="701.2" x2="33.64" y2="700.49" stroke="#333" stroke-width="0.8"/>
<line x1="84.55" y1="701.2" x2="84.55" y2="700.03" stroke="#333" stroke-width="0.8"/>
<line x1="233.5" y1="701.2" x2="233.5" y2="699.03" stroke="#333" stroke-width="0.8"/>
<line x1="134.08" y1="701.2" x2="134.08" y2="700.53" stroke="#333" stroke-width="0.8"/>
<line x1="202.09" y1="701.2" x2="202.09" y2="700.58" stroke="#333" stroke-width="0.8"/>
<line x1="77.35" y1="701.2" x2="77.35" y2="699.03" stroke="#333" stroke-width="0.8"/>
<line x1="275.18" y1="701.2" x2="275.18" y2="699.49" stroke="#333" stroke-width="0.8"/>
<line x1="289.3" y1="701.2" x2="289.3" y2="700.65" stroke="#333" stroke-width="0.8"/>
<line x1="230.15" y1="701.2" x2="230.15" y2="699.52" stroke="#333" stroke-width="0.8"/>
<line x1="121.44" y1="701.2" x2="121.44" y2="699.52" stroke="#333" stroke-width="0.8"/>
<line x1="188.8" y1="701.2" x2="188.8" y2="697.95" stroke="#333" stroke-width="0.8"/>
<line x1="327.15" y1="701.2" x2="327.15" y2="700.09" stroke="#333" stroke-width="0.8"/>
<line x1="74.23" y1="701.2" x2="74.23" y2="699.23" stroke="#333" stroke-width="0.8"/>
<line x1="178.01" y1="701.2" x2="178.01" y2="700.11" stroke="#333" stroke-width="0.8"/>
<line x1="92.61" y1="701.2" x2="92.61" y2="699.63" stroke="#333" stroke-width="0.8"/>
<line x1="55.9" y1="701.2" x2="55.9" y2="700.47" stroke="#333" stroke-width="0.8"/>
<line x1="263.2" y1="701.2" x2="263.2" y2="699.16" stroke="#333" stroke-width="0.8"/>
<line x1="151.69" y1="701.2" x2="151.69" y2="700.55" stroke="#333" stroke-width="0.8"/>
<line x1="40.74" y1="701.2" x2="40.74" y2="699.99" stroke="#333" stroke-width="0.8"/>
<line x1="152.74" y1="701.2" x2="152.74" y2="699.5" stroke="#333" stroke-width="0.8"/>
<line x1="130.55" y1="701.2" x2="130.55" y2="700.25" stroke="#333" stroke-width="0.8"/>
<line x1="231.54" y1="701.2" x2="231.54" y2="699.59" stroke="#333" stroke-width="0.8"/>
<line x1="285.68" y1="701.2" x2="285.68" y2="700.45" stroke="#333" stroke-width="0.8"/>
<line x1="227.35" y1="701.2" x2="227.35" y2="700.77" stroke="#333" stroke-width="0.8"/>
<line x1="93.25" y1="701.2" x2="93.25" y2="699.79" stroke="#333" stroke-width="0.8"/>
<line x1="244.98" y1="701.2" x2="244.98" y2="699.74" stroke="#333" stroke-width="0.8"/>
<line x1="35.06" y1="701.2" x2="35.06" y2="699.47" stroke="#333" stroke-width="0.8"/>
<line x1="55.96" y1="701.2" x2="55.96" y2="699" stroke="#333" stroke-width="0.8"/>
<line x1="173.16" y1="701.2" x2="173.16" y2="700.35" stroke="#333" stroke-width="0.8"/>
<line x1="82.88" y1="701.2" x2="82.88" y2="700.58" stroke="#333" stroke-width="0.8"/>
<line x1="217.66" y1="701.2" x2="217.66" y2="700.62" stroke="#333" stroke-width="0.8"/>
<line x1="236.23" y1="701.2" x2="236.23" y2="699.87" stroke="#333" stroke-width="0.8"/>
<line x1="210.69" y1="701.2" x2="210.69" y2="698.99" stroke="#333" stroke-width="0.8"/>
<line x1="202.1" y1="701.2" x2="202.1" y2="699.91" stroke="#333" stroke-width="0.8"/>
<line x1="243.76" y1="701.2" x2="243.76" y2="700.57" stroke="#333" stroke-width="0.8"/>
<line x1="313.37" y1="701.2" x2="313.37" y2="699.62" stroke="#333" stroke-width="0.8"/>
<line x1="332.58" y1="701.2" x2="332.58" y2="700.23" stroke="#333" stroke-width="0.8"/>
<line x1="136.21" y1="701.2" x2="136.21" y2="698.59" stroke="#333" stroke-width="0.8"/>
<line x1="114.16" y1="701.2" x2="114.16" y2="700.25" stroke="#333" stroke-width="0.8"/>
<line x1="303.6" y1="701.2" x2="303.6" y2="698.64" stroke="#333" stroke-width="0.8"/>
<line x1="171.67" y1="701.2" x2="171.67" y2="700.04" stroke="#333" stroke-width="0.8"/>
<line x1="114.17" y1="701.2" x2="114.17" y2="700.41" stroke="#333" stroke-width="0.8"/>
<line x1="322.7" y1="701.2" x2="322.7" y2="700.52" stroke="#333" stroke-width="0.8"/>
<line x1="55.87" y1="701.2" x2="55.87" y2="700.05" stroke="#333" stroke-width="0.8"/>
<line x1="122.4" y1="701.2" x2="122.4" y2="699.27" stroke="#333" stroke-width="0.8"/>
<line x1="236.08" y1="701.2" x2="236.08" y2="700.24" stroke="#333" stroke-width="0.8"/>
<line x1="239.54" y1="701.2" x2="239.54" y2="700.68" stroke="#333" stroke-width="0.8"/>
<line x1="299.55" y1="701.2" x2="299.55" y2="700.22" stroke="#333" stroke-width="0.8"/>
<line x1="117.93" y1="701.2" x2="117.93" y2="699.73" stroke="#333" stroke-width="0.8"/>
<line x1="234.86" y1="701.2" x2="234.86" y2="700.16" stroke="#333" stroke-width="0.8"/>
<line x1="144.16" y1="701.2" x2="144.16" y2="698.7" stroke="#333" stroke-width="0.8"/>
<line x1="291.16" y1="701.2" x2="291.16" y2="699.78" stroke="#333" stroke-width="0.8"/>
<line x1="203.91" y1="701.2" x2="203.91" y2="700.12" stroke="#333" stroke-width="0.8"/>
<line x1="54.67" y1="701.2" x2="54.67" y2="700.52" stroke="#333" stroke-width="0.8"/>
<line x1="252.33" y1="701.2" x2="252.33" y2="700.14" stroke="#333" stroke-width="0.8"/>
<line x1="45.89" y1="701.2" x2="45.89" y2="699.2" stroke="#333" stroke-width="0.8"/>
<line x1="57.7" y1="701.2" x2="57.7" y2="699.61" stroke="#333" stroke-width="0.8"/>
<line x1="215.66" y1="701.2" x2="215.66" y2="699.36" stroke="#333" stroke-width="0.8"/>
<line x1="273.94" y1="701.2" x2="273.94" y2="699.66" stroke="#333" stroke-width="0.8"/>
<line x1="207.74" y1="701.2" x2="207.74" y2="700.14" stroke="#333" stroke-width="0.8"/>
<line x1="303.91" y1="701.2" x2="303.91" y2="700.53" stroke="#333" stroke-width="0.8"/>
<line x1="180.85" y1="701.2" x2="180.85" y2="698.79" stroke="#333" stroke-width="0.8"/>
<line x1="206.48" y1="701.2" x2="206.48" y2="700.48" stroke="#333" stroke-width="0.8"/>
<line x1="120.79" y1="701.2" x2="120.79" y2="699.03" stroke="#333" stroke-width="0.8"/>
<line x1="258.11" y1="701.2" x2="258.11" y2="698.03" stroke="#333" stroke-width="0.8"/>
<line x1="300.01" y1="701.2" x2="300.01" y2="697.79" stroke="#333" stroke-width="0.8"/>
<line x1="240.04" y1="701.2" x2="240.04" y2="700.47" stroke="#333" stroke-width="0.8"/>
<line x1="314.42" y1="701.2" x2="314.42" y2="700.24" stroke="#333" stroke-width="0.8"/>
<line x1="140.66" y1="701.2" x2="140.66" y2="698.84" stroke="#333" stroke-width="0.8"/>
<line x1="119.91" y1="701.2" x2="119.91" y2="700.47" stroke="#333" stroke-width="0.8"/>
<line x1="69.57" y1="701.2" x2="69.57" y2="698.94" stroke="#333" stroke-width="0.8"/>
<line x1="153.58" y1="701.2" x2="153.58" y2="699.95" stroke="#333" stroke-width="0.8"/>
<line x1="84.97" y1="701.2" x2="84.97" y2="700.33" stroke="#333" stroke-width="0.8"/>
<line x1="236.31" y1="701.2" x2="236.31" y2="700.52" stroke="#333" stroke-width="0.8"/>
<line x1="122.87" y1="701.2" x2="122.87" y2="697.85" stroke="#333" stroke-width="0.8"/>
<line x1="105.59" y1="701.2" x2="105.59" y2="698.91" stroke="#333" stroke-width="0.8"/>
<line x1="281.06" y1="701.2" x2="281.06" y2="700.77" stroke="#333" stroke-width="0.8"/>
<line x1="57.43" y1="701.2" x2="57.43" y2="700.29" stroke="#333" stroke-width="0.8"/>
<line x1="308.05" y1="701.2" x2="308.05" y2="700.32" stroke="#333" stroke-width="0.8"/>
<line x1="72.66" y1="701.2" x2="72.66" y2="699.98" stroke="#333" stroke-width="0.8"/>
<line x1="113.98" y1="701.2" x2="113.98" y2="700.5" stroke="#333" stroke-width="0.8"/>
<line x1="57.34" y1="701.2" x2="57.34" y2="700.25" stroke="#333" stroke-width="0.8"/>
<line x1="122.71" y1="701.2" x2="122.71" y2="700.55" stroke="#333" stroke-width="0.8"/>
<line x1="183.81" y1="701.2" x2="183.81" y2="700.24" stroke="#333" stroke-width="0.8"/>
<line x1="318.75" y1="701.2" x2="318.75" y2="700.54" stroke="#333" stroke-width="0.8"/>
<line x1="308.32" y1="701.2" x2="308.32" y2="698.13" stroke="#333" stroke-width="0.8"/>
<line x1="85.35" y1="701.2" x2="85.35" y2="700.52" stroke="#333" stroke-width="0.8"/>
<line x1="132.21" y1="701.2" x2="132.21" y2="700.42" stroke="#333" stroke-width="0.8"/>
<line x1="206.5" y1="701.2" x2="206.5" y2="700.69" stroke="#333" stroke-width="0.8"/>
<line x1="197.47" y1="701.2" x2="197.47" y2="699.97" stroke="#333" stroke-width="0.8"/>
<line x1="258.25" y1="701.2" x2="258.25" y2="699.84" stroke="#333" stroke-width="0.8"/>
<line x1="155.88" y1="701.2" x2="155.88" y2="699.2" stroke="#333" stroke-width="0.8"/>
<line x1="332.99" y1="701.2" x2="332.99" y2="699.87" stroke="#333" stroke-width="0.8"/>
<line x1="258.72" y1="701.2" x2="258.72" y2="699.95" stroke="#333" stroke-width="0.8"/>
<line x1="263.12" y1="701.2" x2="263.12" y2="699.19" stroke="#333" stroke-width="0.8"/>
<line x1="40.1" y1="701.2" x2="40.1" y2="700.27" stroke="#333" stroke-width="0.8"/>
<line x1="65.78" y1="701.2" x2="65.78" y2="700.18" stroke="#333" stroke-width="0.8"/>
<line x1="265.76" y1="701.2" x2="265.76" y2="699.41" stroke="#333" stroke-width="0.8"/>
<line x1="50.67" y1="701.2" x2="50.67" y2="698.69" stroke="#333" stroke-width="0.8"/>
<line x1="44.57" y1="701.2" x2="44.57" y2="699.62" stroke="#333" stroke-width="0.8"/>
<line x1="276.2" y1="701.2" x2="276.2" y2="700.31" stroke="#333" stroke-width="0.8"/>
<line x1="160.72" y1="701.2" x2="160.72" y2="699.46" stroke="#333" stroke-width="0.8"/>
<line x1="80.38" y1="701.2" x2="80.38" y2="700.1" stroke="#333" stroke-width="0.8"/>
<line x1="289.85" y1="701.2" x2="289.85" y2="697.88" stroke="#333" stroke-width="0.8"/>
<line x1="87.87" y1="701.2" x2="87.87" y2="700.55" stroke="#333" stroke-width="0.8"/>
<line x1="70.81" y1="701.2" x2="70.81" y2="700.24" stroke="#333" stroke-width="0.8"/>
<line x1="259.04" y1="701.2" x2="259.04" y2="698.64" stroke="#333" stroke-width="0.8"/>
<line x1="257.3" y1="701.2" x2="257.3" y2="698.88" stroke="#333" stroke-width="0.8"/>
<line x1="141.52" y1="701.2" x2="141.52" y2="699" stroke="#333" stroke-width="0.8"/>
<line x1="220.61" y1="701.2" x2="220.61" y2="700.67" stroke="#333" stroke-width="0.8"/>
<line x1="33.3" y1="701.2" x2="33.3" y2="700.59" stroke="#333" stroke-width="0.8"/>
<line x1="142.8" y1="701.2" x2="142.8" y2="699.85" stroke="#333" stroke-width="0.8"/>
<line x1="143.88" y1="701.2" x2="143.88" y2="699.85" stroke="#333" stroke-width="0.8"/>
<line x1="286.46" y1="701.2" x2="286.46" y2="699.91" stroke="#333" stroke-width="0.8"/>
<line x1="150.93" y1="701.2" x2="150.93" y2="699.79" stroke="#333" stroke-width="0.8"/>
<line x1="138.19" y1="701.2" x2="138.19" y2="699.86" stroke="#333" stroke-width="0.8"/>
<line x1="131.02" y1="701.2" x2="131.02" y2="699.21" stroke="#333" stroke-width="0.8"/>
<line x1="42.64" y1="701.2" x2="42.64" y2="700.2" stroke="#333" stroke-width="0.8"/>
<line x1="254.74" y1="701.2" x2="254.74" y2="699.96" stroke="#333" stroke-width="0.8"/>
<line x1="120.39" y1="701.2" x2="120.39" y2="700.3" stroke="#333" stroke-width="0.8"/>
<line x1="125.41" y1="701.2" x2="125.41" y2="700.72" stroke="#333" stroke-width="0.8"/>
<line x1="121.29" y1="701.2" x2="121.29" y2="700.52" stroke="#333" stroke-width="0.8"/>
<line x1="155.76" y1="701.2" x2="155.76" y2="700.45" stroke="#333" stroke-width="0.8"/>
<line x1="110.13" y1="701.2" x2="110.13" y2="698.01" stroke="#333" stroke-width="0.8"/>
<line x1="115.83" y1="701.2" x2="115.83" y2="697.93" stroke="#333" stroke-width="0.8"/>
<line x1="105.62" y1="701.2" x2="105.62" y2="699.3" stroke="#333" stroke-width="0.8"/>
<line x1="169.22" y1="701.2" x2="169.22" y2="700.49" stroke="#333" stroke-width="0.8"/>
<line x1="158.13" y1="701.2" x2="158.13" y2="699.82" stroke="#333" stroke-width="0.8"/>
<line x1="106.74" y1="701.2" x2="106.74" y2="699.56" stroke="#333" stroke-width="0.8"/>
<line x1="129.01" y1="701.2" x2="129.01" y2="697.71" stroke="#333" stroke-width="0.8"/>
<line x1="149.55" y1="701.2" x2="149.55" y2="697.8" stroke="#333" stroke-width="0.8"/>
<line x1="160.77" y1="701.2" x2="160.77" y2="698.96" stroke="#333" stroke-width="0.8"/>
<line x1="104.49" y1="701.2" x2="104.49" y2="696.77" stroke="#333" stroke-width="0.8"/>
<line x1="126.35" y1="701.2" x2="126.35" y2="700.22" stroke="#333" stroke-width="0.8"/>
<line x1="137.5" y1="701.2" x2="137.5" y2="699.81" stroke="#333" stroke-width="0.8"/>
<line x1="131.09" y1="701.2" x2="131.09" y2="699.86" stroke="#333" stroke-width="0.8"/>
<line x1="134.16" y1="701.2" x2="134.16" y2="700.52" stroke="#333" stroke-width="0.8"/>
<line x1="166.19" y1="701.2" x2="166.19" y2="700.23" stroke="#333" stroke-width="0.8"/>
<line x1="164.4" y1="701.2" x2="164.4" y2="699.15" stroke="#333" stroke-width="0.8"/>
<line x1="121.63" y1="701.2" x2="121.63" y2="700.39" stroke="#333" stroke-width="0.8"/>
<line x1="146.66" y1="701.2" x2="146.66" y2="700.13" stroke="#333" stroke-width="0.8"/>
<line x1="107.71" y1="701.2" x2="107.71" y2="699.06" stroke="#333" stroke-width="0.8"/>
<line x1="127.17" y1="701.2" x2="127.17" y2="700.11" stroke="#333" stroke-width="0.8"/>
<line x1="124.7" y1="701.2" x2="124.7" y2="697.9" stroke="#333" stroke-width="0.8"/>
<line x1="138.9" y1="701.2" x2="138.9" y2="699.22" stroke="#333" stroke-width="0.8"/>
<line x1="111.15" y1="701.2" x2="111.15" y2="700.23" stroke="#333" stroke-width="0.8"/>
<line x1="163.32" y1="701.2" x2="163.32" y2="700.31" stroke="#333" stroke-width="0.8"/>
<line x1="158.88" y1="701.2" x2="158.88" y2="699.93" stroke="#333" stroke-width="0.8"/>
<line x1="109.92" y1="701.2" x2="109.92" y2="699.56" stroke="#333" stroke-width="0.8"/>
<line x1="106.2" y1="701.2" x2="106.2" y2="698.25" stroke="#333" stroke-width="0.8"/>
<line x1="133.51" y1="701.2" x2="133.51" y2="699.19" stroke="#333" stroke-width="0.8"/>
<line x1="162.51" y1="701.2" x2="162.51" y2="699.98" stroke="#333" stroke-width="0.8"/>
<line x1="128.29" y1="701.2" x2="128.29" y2="697.68" stroke="#333" stroke-width="0.8"/>
<line x1="105.42" y1="701.2" x2="105.42" y2="698.31" stroke="#333" stroke-width="0.8"/>
<line x1="151.9" y1="701.2" x2="151.9" y2="700.29" stroke="#333" stroke-width="0.8"/>
<line x1="166.47" y1="701.2" x2="166.47" y2="699.44" stroke="#333" stroke-width="0.8"/>
<line x1="129.38" y1="701.2" x2="129.38" y2="698.94" stroke="#333" stroke-width="0.8"/>
<line x1="151.09" y1="701.2" x2="151.09" y2="698.19" stroke="#333" stroke-width="0.8"/>
<line x1="148.03" y1="701.2" x2="148.03" y2="698.02" stroke="#333" stroke-width="0.8"/>
<line x1="144.09" y1="701.2" x2="144.09" y2="700.14" stroke="#333" stroke-width="0.8"/>
<line x1="117.19" y1="701.2" x2="117.19" y2="700.57" stroke="#333" stroke-width="0.8"/>
<line x1="146.59" y1="701.2" x2="146.59" y2="699.51" stroke="#333" stroke-width="0.8"/>
<line x1="161.01" y1="701.2" x2="161.01" y2="697.22" stroke="#333" stroke-width="0.8"/>
<line x1="162.89" y1="701.2" x2="162.89" y2="700.42" stroke="#333" stroke-width="0.8"/>
<line x1="157.7" y1="701.2" x2="157.7" y2="698.65" stroke="#333" stroke-width="0.8"/>
<line x1="167.45" y1="701.2" x2="167.45" y2="699.69" stroke="#333" stroke-width="0.8"/>
<line x1="162.4" y1="701.2" x2="162.4" y2="700.57" stroke="#333" stroke-width="0.8"/>
<line x1="152.19" y1="701.2" x2="152.19" y2="700.39" stroke="#333" stroke-width="0.8"/>
<line x1="129.15" y1="701.2" x2="129.15" y2="700.26" stroke="#333" stroke-width="0.8"/>
<line x1="46.5" y1="701.2" x2="46.5" y2="696.6" stroke="#222222" stroke-width="1.25"/>
<line x1="51.8" y1="701.2" x2="51.8" y2="697" stroke="#222222" stroke-width="1.25"/>
<line x1="61" y1="701.2" x2="61" y2="698" stroke="#222222" stroke-width="1.25"/>
<line x1="74.6" y1="701.2" x2="74.6" y2="697.5" stroke="#222222" stroke-width="1.25"/>
<line x1="78" y1="701.2" x2="78" y2="696" stroke="#222222" stroke-width="1.25"/>
<line x1="95" y1="701.2" x2="95" y2="697.5" stroke="#222222" stroke-width="1.25"/>
<line x1="101" y1="701.2" x2="101" y2="697" stroke="#222222" stroke-width="1.25"/>
<line x1="106.1" y1="701.2" x2="106.1" y2="695.5" stroke="#222222" stroke-width="1.25"/>
<line x1="111" y1="701.2" x2="111" y2="687.4" stroke="#222222" stroke-width="1.25"/>
<line x1="116.9" y1="701.2" x2="116.9" y2="683.9" stroke="#222222" stroke-width="1.25"/>
<line x1="120.5" y1="701.2" x2="120.5" y2="693" stroke="#222222" stroke-width="1.25"/>
<line x1="123.6" y1="701.2" x2="123.6" y2="691.5" stroke="#222222" stroke-width="1.25"/>
<line x1="126.5" y1="701.2" x2="126.5" y2="690" stroke="#222222" stroke-width="1.25"/>
<line x1="129.3" y1="701.2" x2="129.3" y2="684.2" stroke="#222222" stroke-width="1.25"/>
<line x1="133" y1="701.2" x2="133" y2="693" stroke="#222222" stroke-width="1.25"/>
<line x1="136.3" y1="701.2" x2="136.3" y2="691.5" stroke="#222222" stroke-width="1.25"/>
<line x1="142" y1="701.2" x2="142" y2="662.5" stroke="#222222" stroke-width="1.25"/>
<line x1="143.4" y1="701.2" x2="143.4" y2="689.5" stroke="#222222" stroke-width="1.25"/>
<line x1="146" y1="701.2" x2="146" y2="693" stroke="#222222" stroke-width="1.25"/>
<line x1="150" y1="701.2" x2="150" y2="691" stroke="#222222" stroke-width="1.25"/>
<line x1="152" y1="701.2" x2="152" y2="690" stroke="#222222" stroke-width="1.25"/>
<line x1="153.8" y1="701.2" x2="153.8" y2="601" stroke="#222222" stroke-width="1.25"/>
<line x1="156.5" y1="701.2" x2="156.5" y2="693" stroke="#222222" stroke-width="1.25"/>
<line x1="160" y1="701.2" x2="160" y2="694" stroke="#222222" stroke-width="1.25"/>
<line x1="163" y1="701.2" x2="163" y2="692.5" stroke="#222222" stroke-width="1.25"/>
<line x1="166.4" y1="701.2" x2="166.4" y2="617.7" stroke="#222222" stroke-width="1.25"/>
<line x1="168.8" y1="701.2" x2="168.8" y2="674.8" stroke="#222222" stroke-width="1.25"/>
<line x1="172" y1="701.2" x2="172" y2="695" stroke="#222222" stroke-width="1.25"/>
<line x1="180" y1="701.2" x2="180" y2="696" stroke="#222222" stroke-width="1.25"/>
<line x1="190" y1="701.2" x2="190" y2="696.5" stroke="#222222" stroke-width="1.25"/>
<line x1="200" y1="701.2" x2="200" y2="696" stroke="#222222" stroke-width="1.25"/>
<line x1="208.2" y1="701.2" x2="208.2" y2="685.5" stroke="#222222" stroke-width="1.25"/>
<line x1="214.4" y1="701.2" x2="214.4" y2="661" stroke="#222222" stroke-width="1.25"/>
<line x1="218" y1="701.2" x2="218" y2="695.5" stroke="#222222" stroke-width="1.25"/>
<line x1="223.5" y1="701.2" x2="223.5" y2="691.5" stroke="#222222" stroke-width="1.25"/>
<line x1="226.1" y1="701.2" x2="226.1" y2="675.8" stroke="#222222" stroke-width="1.25"/>
<line x1="229" y1="701.2" x2="229" y2="694" stroke="#222222" stroke-width="1.25"/>
<line x1="235" y1="701.2" x2="235" y2="695" stroke="#222222" stroke-width="1.25"/>
<line x1="245" y1="701.2" x2="245" y2="696" stroke="#222222" stroke-width="1.25"/>
<line x1="254.2" y1="701.2" x2="254.2" y2="672.2" stroke="#222222" stroke-width="1.25"/>
<line x1="262" y1="701.2" x2="262" y2="696.5" stroke="#222222" stroke-width="1.25"/>
<line x1="270" y1="701.2" x2="270" y2="696.5" stroke="#222222" stroke-width="1.25"/>
<line x1="278.3" y1="701.2" x2="278.3" y2="695.5" stroke="#222222" stroke-width="1.25"/>
<line x1="286.2" y1="701.2" x2="286.2" y2="696" stroke="#222222" stroke-width="1.25"/>
<line x1="291" y1="701.2" x2="291" y2="695.5" stroke="#222222" stroke-width="1.25"/>
<line x1="300" y1="701.2" x2="300" y2="697" stroke="#222222" stroke-width="1.25"/>
<line x1="310" y1="701.2" x2="310" y2="697.5" stroke="#222222" stroke-width="1.25"/>
<line x1="320.2" y1="701.2" x2="320.2" y2="696.2" stroke="#222222" stroke-width="1.25"/>
<text x="115.3" y="597.5" font-family='"Liberation Sans", sans-serif' font-size="10.5" fill="#2b2b2b" stroke="#2b2b2b" stroke-width="0.3" textLength="85.8" lengthAdjust="spacingAndGlyphs"><tspan font-size="10.5">[MH-H</tspan><tspan font-size="6.3" dy="3.2">3</tspan><tspan font-size="10.5" dy="-3.2">PO</tspan><tspan font-size="6.3" dy="3.2">4</tspan><tspan font-size="10.5" dy="-3.2">-2H</tspan><tspan font-size="6.3" dy="3.2">2</tspan><tspan font-size="10.5" dy="-3.2">O]</tspan><tspan font-size="6.3" dy="-3.8">+2</tspan></text>
<text x="163.4" y="615.5" font-family='"Liberation Sans", sans-serif' font-size="10.5" fill="#2b2b2b" stroke="#2b2b2b" stroke-width="0.3" textLength="55.2" lengthAdjust="spacingAndGlyphs"><tspan font-size="10.5">[MH-2H</tspan><tspan font-size="6.3" dy="3.2">2</tspan><tspan font-size="10.5" dy="-3.2">O]</tspan><tspan font-size="6.3" dy="-3.8">+2</tspan></text>
<text x="76.8" y="627.5" font-family='"Liberation Sans", sans-serif' font-size="10.5" fill="#2b2b2b" stroke="#2b2b2b" stroke-width="0.3" textLength="64.7" lengthAdjust="spacingAndGlyphs"><tspan font-size="10.5">[MH-pR-H</tspan><tspan font-size="6.3" dy="3.2">2</tspan><tspan font-size="10.5" dy="-3.2">O]</tspan><tspan font-size="6.3" dy="-3.8">+2</tspan></text>
<text x="82.6" y="662.3" font-family='"Liberation Sans", sans-serif' font-size="10.5" fill="#2b2b2b" stroke="#2b2b2b" stroke-width="0.3" textLength="49.2" lengthAdjust="spacingAndGlyphs"><tspan font-size="10.5">[MH-2pR]</tspan><tspan font-size="6.3" dy="-3.8">+2</tspan></text>
<text x="168.3" y="672" font-family='"Liberation Sans", sans-serif' font-size="10.5" fill="#2b2b2b" stroke="#2b2b2b" stroke-width="0.3" textLength="49.7" lengthAdjust="spacingAndGlyphs"><tspan font-size="10.5">[MH-H</tspan><tspan font-size="6.3" dy="3.2">2</tspan><tspan font-size="10.5" dy="-3.2">O]</tspan><tspan font-size="6.3" dy="-3.8">+2</tspan></text>
<text x="230.9" y="641.4" font-family='"Liberation Sans", sans-serif' font-size="10.5" fill="#2b2b2b" stroke="#2b2b2b" stroke-width="0.3" textLength="49.7" lengthAdjust="spacingAndGlyphs"><tspan font-size="10.5">[MH-2pR]</tspan><tspan font-size="6.3" dy="-3.8">+2</tspan></text>
<line x1="135.4" y1="630.8" x2="141.6" y2="660.6" stroke="#2b2b2b" stroke-width="0.9"/>
<line x1="114.6" y1="665.8" x2="117.2" y2="682" stroke="#2b2b2b" stroke-width="0.9"/>
<line x1="253.3" y1="643.8" x2="254" y2="670.6" stroke="#2b2b2b" stroke-width="0.9"/>
<text x="187" y="638.6" font-family='"Liberation Sans", sans-serif' font-size="11" fill="#eda536" stroke="#eda536" stroke-width="0.3" textLength="29.8" lengthAdjust="spacingAndGlyphs"><tspan font-size="11">y</tspan><tspan font-size="6.6" dy="3">4</tspan><tspan font-size="11" dy="-3">-H</tspan><tspan font-size="6.6" dy="3">2</tspan><tspan font-size="11" dy="-3">O</tspan></text>
<text x="212.4" y="656.8" font-family='"Liberation Sans", sans-serif' font-size="11" fill="#eda536" stroke="#eda536" stroke-width="0.3" textLength="31.2" lengthAdjust="spacingAndGlyphs"><tspan font-size="11">y</tspan><tspan font-size="6.6" dy="3">5</tspan><tspan font-size="11" dy="-3">-H</tspan><tspan font-size="6.6" dy="3">2</tspan><tspan font-size="11" dy="-3">O</tspan></text>
<text x="259.4" y="675" font-family='"Liberation Sans", sans-serif' font-size="11" fill="#eda536" stroke="#eda536" stroke-width="0.3" textLength="29.2" lengthAdjust="spacingAndGlyphs"><tspan font-size="11">y</tspan><tspan font-size="6.6" dy="3">6</tspan><tspan font-size="11" dy="-3">-H</tspan><tspan font-size="6.6" dy="3">2</tspan><tspan font-size="11" dy="-3">O</tspan></text>
<text x="270.5" y="688.4" font-family='"Liberation Sans", sans-serif' font-size="11" fill="#eda536" stroke="#eda536" stroke-width="0.3" textLength="28.2" lengthAdjust="spacingAndGlyphs"><tspan font-size="11">y</tspan><tspan font-size="6.6" dy="3">7</tspan><tspan font-size="11" dy="-3">-H</tspan><tspan font-size="6.6" dy="3">2</tspan><tspan font-size="11" dy="-3">O</tspan></text>
<text x="294.7" y="694.4" font-family='"Liberation Sans", sans-serif' font-size="11" fill="#eda536" stroke="#eda536" stroke-width="0.3" textLength="30.3" lengthAdjust="spacingAndGlyphs"><tspan font-size="11">y</tspan><tspan font-size="6.6" dy="3">8</tspan><tspan font-size="11" dy="-3">-H</tspan><tspan font-size="6.6" dy="3">2</tspan><tspan font-size="11" dy="-3">O</tspan></text>
<text x="170.8" y="692.2" font-family='"Liberation Sans", sans-serif' font-size="11" fill="#eda536" stroke="#eda536" stroke-width="0.3" textLength="29.4" lengthAdjust="spacingAndGlyphs"><tspan font-size="11">y</tspan><tspan font-size="6.6" dy="3">3</tspan><tspan font-size="11" dy="-3">-H</tspan><tspan font-size="6.6" dy="3">2</tspan><tspan font-size="11" dy="-3">O</tspan></text>
<line x1="206.2" y1="641" x2="206.2" y2="683.8" stroke="#eda536" stroke-width="0.9"/>
<line x1="226.2" y1="658.5" x2="226.2" y2="675" stroke="#eda536" stroke-width="0.9"/>
<line x1="257.7" y1="679.2" x2="256" y2="686.2" stroke="#eda536" stroke-width="0.9"/>
<line x1="280.4" y1="688" x2="278.7" y2="693.2" stroke="#eda536" stroke-width="0.9"/>
<text x="47.8" y="693.8" font-family='"Liberation Sans", sans-serif' font-size="13.5" fill="#3b2fd6" stroke="#3b2fd6" stroke-width="0.3"><tspan font-size="13.5">b</tspan><tspan font-size="8.1" dy="4.1">3</tspan></text>
<text x="64.2" y="694.2" font-family='"Liberation Sans", sans-serif' font-size="13.5" fill="#d9253a" stroke="#d9253a" stroke-width="0.3"><tspan font-size="13.5">y</tspan><tspan font-size="8.1" dy="4.1">1</tspan></text>
<text x="77.7" y="693.8" font-family='"Liberation Sans", sans-serif' font-size="13.5" fill="#3b2fd6" stroke="#3b2fd6" stroke-width="0.3"><tspan font-size="13.5">b</tspan><tspan font-size="8.1" dy="4.1">4</tspan></text>
<text x="103.7" y="684.2" font-family='"Liberation Sans", sans-serif' font-size="14" fill="#3b2fd6" stroke="#3b2fd6" stroke-width="0.3"><tspan font-size="14">b</tspan><tspan font-size="8.4" dy="4.1">5</tspan></text>
<text x="123.1" y="680.2" font-family='"Liberation Sans", sans-serif' font-size="14" fill="#3b2fd6" stroke="#3b2fd6" stroke-width="0.3"><tspan font-size="14">b</tspan><tspan font-size="8.4" dy="4.1">6</tspan></text>
<text x="153.2" y="692.6" font-family='"Liberation Sans", sans-serif' font-size="9.5" fill="#3b2fd6" stroke="#3b2fd6" stroke-width="0.3"><tspan font-size="9.5">b</tspan><tspan font-size="5.7" dy="2.5">7</tspan></text>
<text x="226.5" y="692" font-family='"Liberation Sans", sans-serif' font-size="13" fill="#d9253a" stroke="#d9253a" stroke-width="0.3"><tspan font-size="13">y</tspan><tspan font-size="7.8" dy="4.1">5</tspan></text>
<text x="234.8" y="691.7" font-family='"Liberation Sans", sans-serif' font-size="13" fill="#3b2fd6" stroke="#3b2fd6" stroke-width="0.3"><tspan font-size="13">b</tspan><tspan font-size="7.8" dy="4.1">8</tspan></text>
<text x="109.5" y="561.1" font-family='"Liberation Serif", serif' font-size="12.5" fill="#444" text-anchor="middle">G</text>
<text x="121.9" y="561.1" font-family='"Liberation Serif", serif' font-size="12.5" fill="#444" text-anchor="middle">F</text>
<text x="134.3" y="561.1" font-family='"Liberation Serif", serif' font-size="12.5" fill="#444" text-anchor="middle">S</text>
<text x="146.7" y="561.1" font-family='"Liberation Serif", serif' font-size="12.5" fill="#444" text-anchor="middle">L</text>
<text x="159.1" y="561.1" font-family='"Liberation Serif", serif' font-size="12.5" fill="#444" text-anchor="middle">L</text>
<text x="171.5" y="561.1" font-family='"Liberation Serif", serif' font-size="12.5" fill="#444" text-anchor="middle">A</text>
<text x="183.9" y="561.1" font-family='"Liberation Serif", serif' font-size="12.5" fill="#444" text-anchor="middle">T</text>
<text x="196.3" y="561.1" font-family='"Liberation Serif", serif' font-size="12.5" fill="#d9253a" text-anchor="middle" font-weight="bold">E</text>
<text x="208.7" y="561.1" font-family='"Liberation Serif", serif' font-size="12.5" fill="#444" text-anchor="middle">D</text>
<text x="221.1" y="561.1" font-family='"Liberation Serif", serif' font-size="12.5" fill="#d9253a" text-anchor="middle" font-weight="bold">K</text>
<text x="105" y="555.8" font-family='"Liberation Serif", serif' font-size="7.5" fill="#444" text-anchor="end">183</text>
<text x="229" y="555.8" font-family='"Liberation Serif", serif' font-size="7.5" fill="#444">192</text>
<polyline points="128.1,555 128.1,540.4 139.7,540.4" fill="none" stroke="#eda536" stroke-width="1.3"/>
<polyline points="140.5,555 140.5,540.4 152.1,540.4" fill="none" stroke="#eda536" stroke-width="1.3"/>
<polyline points="152.9,555 152.9,540.4 164.5,540.4" fill="none" stroke="#eda536" stroke-width="1.3"/>
<polyline points="165.3,555 165.3,540.4 176.9,540.4" fill="none" stroke="#eda536" stroke-width="1.3"/>
<polyline points="177.7,555 177.7,540.4 189.3,540.4" fill="none" stroke="#eda536" stroke-width="1.3"/>
<polyline points="190.1,555 190.1,540.4 201.7,540.4" fill="none" stroke="#eda536" stroke-width="1.3"/>
<polyline points="128.9,572.7 140.5,572.7 140.5,555" fill="none" stroke="#3b2fd6" stroke-width="1.3"/>
<polyline points="141.3,572.7 152.9,572.7 152.9,555" fill="none" stroke="#3b2fd6" stroke-width="1.3"/>
<polyline points="153.7,572.7 165.3,572.7 165.3,555" fill="none" stroke="#3b2fd6" stroke-width="1.3"/>
<polyline points="166.1,572.7 177.7,572.7 177.7,555" fill="none" stroke="#3b2fd6" stroke-width="1.3"/>
<polyline points="178.5,572.7 190.1,572.7 190.1,555" fill="none" stroke="#3b2fd6" stroke-width="1.3"/>
<polyline points="190.9,572.7 202.5,572.7 202.5,555" fill="none" stroke="#3b2fd6" stroke-width="1.3"/>
<polyline points="214.9,555 214.9,540.4 225.4,540.4" fill="none" stroke="#d9253a" stroke-width="1.3"/>
<rect x="276" y="586" width="47" height="21.2" fill="#b0b0b0"/>
<text x="278.8" y="600" font-family='"Liberation Sans", sans-serif' font-size="12.5" fill="#1a1a1a" stroke="#1a1a1a" stroke-width="0.25" textLength="41.4" lengthAdjust="spacingAndGlyphs"><tspan font-style="italic">Ec</tspan><tspan>RppH</tspan></text>
<line x1="370.4" y1="702.8" x2="370.4" y2="581.4" stroke="#8c8c8c" stroke-width="1.3"/>
<line x1="366.8" y1="581.4" x2="370.4" y2="581.4" stroke="#8c8c8c" stroke-width="1.2"/>
<text x="365.3" y="584.8" font-family='"Liberation Sans", sans-serif' font-size="9.6" fill="#111" text-anchor="end" font-weight="bold">2.0</text>
<line x1="366.8" y1="611.6" x2="370.4" y2="611.6" stroke="#8c8c8c" stroke-width="1.2"/>
<text x="365.3" y="615" font-family='"Liberation Sans", sans-serif' font-size="9.6" fill="#111" text-anchor="end" font-weight="bold">1.5</text>
<line x1="366.8" y1="642.2" x2="370.4" y2="642.2" stroke="#8c8c8c" stroke-width="1.2"/>
<text x="365.3" y="645.6" font-family='"Liberation Sans", sans-serif' font-size="9.6" fill="#111" text-anchor="end" font-weight="bold">1.0</text>
<line x1="366.8" y1="672.5" x2="370.4" y2="672.5" stroke="#8c8c8c" stroke-width="1.2"/>
<text x="365.3" y="675.9" font-family='"Liberation Sans", sans-serif' font-size="9.6" fill="#111" text-anchor="end" font-weight="bold">0.5</text>
<line x1="366.8" y1="702.8" x2="370.4" y2="702.8" stroke="#8c8c8c" stroke-width="1.2"/>
<text x="365.3" y="706.2" font-family='"Liberation Sans", sans-serif' font-size="9.6" fill="#111" text-anchor="end" font-weight="bold">0</text>
<line x1="366.2" y1="702.8" x2="674.5" y2="702.8" stroke="#333333" stroke-width="1.3"/>
<line x1="370.4" y1="702.8" x2="370.4" y2="706.8" stroke="#333333" stroke-width="1.1"/>
<line x1="374.74" y1="702.8" x2="374.74" y2="705.3" stroke="#555555" stroke-width="0.9"/>
<line x1="379.08" y1="702.8" x2="379.08" y2="705.3" stroke="#555555" stroke-width="0.9"/>
<line x1="383.42" y1="702.8" x2="383.42" y2="705.3" stroke="#555555" stroke-width="0.9"/>
<line x1="387.76" y1="702.8" x2="387.76" y2="705.3" stroke="#555555" stroke-width="0.9"/>
<line x1="392.1" y1="702.8" x2="392.1" y2="706.8" stroke="#333333" stroke-width="1.1"/>
<line x1="396.44" y1="702.8" x2="396.44" y2="705.3" stroke="#555555" stroke-width="0.9"/>
<line x1="400.78" y1="702.8" x2="400.78" y2="705.3" stroke="#555555" stroke-width="0.9"/>
<line x1="405.12" y1="702.8" x2="405.12" y2="705.3" stroke="#555555" stroke-width="0.9"/>
<line x1="409.46" y1="702.8" x2="409.46" y2="705.3" stroke="#555555" stroke-width="0.9"/>
<line x1="413.8" y1="702.8" x2="413.8" y2="706.8" stroke="#333333" stroke-width="1.1"/>
<line x1="418.14" y1="702.8" x2="418.14" y2="705.3" stroke="#555555" stroke-width="0.9"/>
<line x1="422.48" y1="702.8" x2="422.48" y2="705.3" stroke="#555555" stroke-width="0.9"/>
<line x1="426.82" y1="702.8" x2="426.82" y2="705.3" stroke="#555555" stroke-width="0.9"/>
<line x1="431.16" y1="702.8" x2="431.16" y2="705.3" stroke="#555555" stroke-width="0.9"/>
<line x1="435.5" y1="702.8" x2="435.5" y2="706.8" stroke="#333333" stroke-width="1.1"/>
<line x1="439.84" y1="702.8" x2="439.84" y2="705.3" stroke="#555555" stroke-width="0.9"/>
<line x1="444.18" y1="702.8" x2="444.18" y2="705.3" stroke="#555555" stroke-width="0.9"/>
<line x1="448.52" y1="702.8" x2="448.52" y2="705.3" stroke="#555555" stroke-width="0.9"/>
<line x1="452.86" y1="702.8" x2="452.86" y2="705.3" stroke="#555555" stroke-width="0.9"/>
<line x1="457.2" y1="702.8" x2="457.2" y2="706.8" stroke="#333333" stroke-width="1.1"/>
<line x1="461.54" y1="702.8" x2="461.54" y2="705.3" stroke="#555555" stroke-width="0.9"/>
<line x1="465.88" y1="702.8" x2="465.88" y2="705.3" stroke="#555555" stroke-width="0.9"/>
<line x1="470.22" y1="702.8" x2="470.22" y2="705.3" stroke="#555555" stroke-width="0.9"/>
<line x1="474.56" y1="702.8" x2="474.56" y2="705.3" stroke="#555555" stroke-width="0.9"/>
<line x1="478.9" y1="702.8" x2="478.9" y2="706.8" stroke="#333333" stroke-width="1.1"/>
<line x1="483.24" y1="702.8" x2="483.24" y2="705.3" stroke="#555555" stroke-width="0.9"/>
<line x1="487.58" y1="702.8" x2="487.58" y2="705.3" stroke="#555555" stroke-width="0.9"/>
<line x1="491.92" y1="702.8" x2="491.92" y2="705.3" stroke="#555555" stroke-width="0.9"/>
<line x1="496.26" y1="702.8" x2="496.26" y2="705.3" stroke="#555555" stroke-width="0.9"/>
<line x1="500.6" y1="702.8" x2="500.6" y2="706.8" stroke="#333333" stroke-width="1.1"/>
<line x1="504.94" y1="702.8" x2="504.94" y2="705.3" stroke="#555555" stroke-width="0.9"/>
<line x1="509.28" y1="702.8" x2="509.28" y2="705.3" stroke="#555555" stroke-width="0.9"/>
<line x1="513.62" y1="702.8" x2="513.62" y2="705.3" stroke="#555555" stroke-width="0.9"/>
<line x1="517.96" y1="702.8" x2="517.96" y2="705.3" stroke="#555555" stroke-width="0.9"/>
<line x1="522.3" y1="702.8" x2="522.3" y2="706.8" stroke="#333333" stroke-width="1.1"/>
<line x1="526.64" y1="702.8" x2="526.64" y2="705.3" stroke="#555555" stroke-width="0.9"/>
<line x1="530.98" y1="702.8" x2="530.98" y2="705.3" stroke="#555555" stroke-width="0.9"/>
<line x1="535.32" y1="702.8" x2="535.32" y2="705.3" stroke="#555555" stroke-width="0.9"/>
<line x1="539.66" y1="702.8" x2="539.66" y2="705.3" stroke="#555555" stroke-width="0.9"/>
<line x1="544" y1="702.8" x2="544" y2="706.8" stroke="#333333" stroke-width="1.1"/>
<line x1="548.34" y1="702.8" x2="548.34" y2="705.3" stroke="#555555" stroke-width="0.9"/>
<line x1="552.68" y1="702.8" x2="552.68" y2="705.3" stroke="#555555" stroke-width="0.9"/>
<line x1="557.02" y1="702.8" x2="557.02" y2="705.3" stroke="#555555" stroke-width="0.9"/>
<line x1="561.36" y1="702.8" x2="561.36" y2="705.3" stroke="#555555" stroke-width="0.9"/>
<line x1="565.7" y1="702.8" x2="565.7" y2="706.8" stroke="#333333" stroke-width="1.1"/>
<line x1="570.04" y1="702.8" x2="570.04" y2="705.3" stroke="#555555" stroke-width="0.9"/>
<line x1="574.38" y1="702.8" x2="574.38" y2="705.3" stroke="#555555" stroke-width="0.9"/>
<line x1="578.72" y1="702.8" x2="578.72" y2="705.3" stroke="#555555" stroke-width="0.9"/>
<line x1="583.06" y1="702.8" x2="583.06" y2="705.3" stroke="#555555" stroke-width="0.9"/>
<line x1="587.4" y1="702.8" x2="587.4" y2="706.8" stroke="#333333" stroke-width="1.1"/>
<line x1="591.74" y1="702.8" x2="591.74" y2="705.3" stroke="#555555" stroke-width="0.9"/>
<line x1="596.08" y1="702.8" x2="596.08" y2="705.3" stroke="#555555" stroke-width="0.9"/>
<line x1="600.42" y1="702.8" x2="600.42" y2="705.3" stroke="#555555" stroke-width="0.9"/>
<line x1="604.76" y1="702.8" x2="604.76" y2="705.3" stroke="#555555" stroke-width="0.9"/>
<line x1="609.1" y1="702.8" x2="609.1" y2="706.8" stroke="#333333" stroke-width="1.1"/>
<line x1="613.44" y1="702.8" x2="613.44" y2="705.3" stroke="#555555" stroke-width="0.9"/>
<line x1="617.78" y1="702.8" x2="617.78" y2="705.3" stroke="#555555" stroke-width="0.9"/>
<line x1="622.12" y1="702.8" x2="622.12" y2="705.3" stroke="#555555" stroke-width="0.9"/>
<line x1="626.46" y1="702.8" x2="626.46" y2="705.3" stroke="#555555" stroke-width="0.9"/>
<line x1="630.8" y1="702.8" x2="630.8" y2="706.8" stroke="#333333" stroke-width="1.1"/>
<line x1="635.14" y1="702.8" x2="635.14" y2="705.3" stroke="#555555" stroke-width="0.9"/>
<line x1="639.48" y1="702.8" x2="639.48" y2="705.3" stroke="#555555" stroke-width="0.9"/>
<line x1="643.82" y1="702.8" x2="643.82" y2="705.3" stroke="#555555" stroke-width="0.9"/>
<line x1="648.16" y1="702.8" x2="648.16" y2="705.3" stroke="#555555" stroke-width="0.9"/>
<line x1="652.5" y1="702.8" x2="652.5" y2="706.8" stroke="#333333" stroke-width="1.1"/>
<line x1="656.84" y1="702.8" x2="656.84" y2="705.3" stroke="#555555" stroke-width="0.9"/>
<line x1="661.18" y1="702.8" x2="661.18" y2="705.3" stroke="#555555" stroke-width="0.9"/>
<line x1="665.52" y1="702.8" x2="665.52" y2="705.3" stroke="#555555" stroke-width="0.9"/>
<line x1="669.86" y1="702.8" x2="669.86" y2="705.3" stroke="#555555" stroke-width="0.9"/>
<line x1="674.2" y1="702.8" x2="674.2" y2="706.8" stroke="#333333" stroke-width="1.1"/>
<text x="370.4" y="716.6" font-family='"Liberation Sans", sans-serif' font-size="9.3" fill="#111" text-anchor="middle" font-weight="bold" textLength="14.55" lengthAdjust="spacingAndGlyphs">200</text>
<text x="392.1" y="716.6" font-family='"Liberation Sans", sans-serif' font-size="9.3" fill="#111" text-anchor="middle" font-weight="bold" textLength="14.55" lengthAdjust="spacingAndGlyphs">300</text>
<text x="413.8" y="716.6" font-family='"Liberation Sans", sans-serif' font-size="9.3" fill="#111" text-anchor="middle" font-weight="bold" textLength="14.55" lengthAdjust="spacingAndGlyphs">400</text>
<text x="435.5" y="716.6" font-family='"Liberation Sans", sans-serif' font-size="9.3" fill="#111" text-anchor="middle" font-weight="bold" textLength="14.55" lengthAdjust="spacingAndGlyphs">500</text>
<text x="457.2" y="716.6" font-family='"Liberation Sans", sans-serif' font-size="9.3" fill="#111" text-anchor="middle" font-weight="bold" textLength="14.55" lengthAdjust="spacingAndGlyphs">600</text>
<text x="478.9" y="716.6" font-family='"Liberation Sans", sans-serif' font-size="9.3" fill="#111" text-anchor="middle" font-weight="bold" textLength="14.55" lengthAdjust="spacingAndGlyphs">700</text>
<text x="500.6" y="716.6" font-family='"Liberation Sans", sans-serif' font-size="9.3" fill="#111" text-anchor="middle" font-weight="bold" textLength="14.55" lengthAdjust="spacingAndGlyphs">800</text>
<text x="522.3" y="716.6" font-family='"Liberation Sans", sans-serif' font-size="9.3" fill="#111" text-anchor="middle" font-weight="bold" textLength="14.55" lengthAdjust="spacingAndGlyphs">900</text>
<text x="544" y="716.6" font-family='"Liberation Sans", sans-serif' font-size="9.3" fill="#111" text-anchor="middle" font-weight="bold" textLength="19.4" lengthAdjust="spacingAndGlyphs">1000</text>
<text x="565.7" y="716.6" font-family='"Liberation Sans", sans-serif' font-size="9.3" fill="#111" text-anchor="middle" font-weight="bold" textLength="19.4" lengthAdjust="spacingAndGlyphs">1100</text>
<text x="587.4" y="716.6" font-family='"Liberation Sans", sans-serif' font-size="9.3" fill="#111" text-anchor="middle" font-weight="bold" textLength="19.4" lengthAdjust="spacingAndGlyphs">1200</text>
<text x="609.1" y="716.6" font-family='"Liberation Sans", sans-serif' font-size="9.3" fill="#111" text-anchor="middle" font-weight="bold" textLength="19.4" lengthAdjust="spacingAndGlyphs">1300</text>
<text x="630.8" y="716.6" font-family='"Liberation Sans", sans-serif' font-size="9.3" fill="#111" text-anchor="middle" font-weight="bold" textLength="19.4" lengthAdjust="spacingAndGlyphs">1400</text>
<text x="652.5" y="716.6" font-family='"Liberation Sans", sans-serif' font-size="9.3" fill="#111" text-anchor="middle" font-weight="bold" textLength="19.4" lengthAdjust="spacingAndGlyphs">1500</text>
<text x="674.2" y="716.6" font-family='"Liberation Sans", sans-serif' font-size="9.3" fill="#111" text-anchor="middle" font-weight="bold" textLength="19.4" lengthAdjust="spacingAndGlyphs">1600</text>
<text x="522.6" y="729" font-family='"Liberation Sans", sans-serif' font-size="9.5" fill="#111" text-anchor="middle" font-weight="bold" textLength="15.5" lengthAdjust="spacingAndGlyphs">m/z</text>
<line x1="399.1" y1="703.1" x2="399.1" y2="701.97" stroke="#333" stroke-width="0.8"/>
<line x1="593.81" y1="703.1" x2="593.81" y2="700.62" stroke="#333" stroke-width="0.8"/>
<line x1="462.58" y1="703.1" x2="462.58" y2="701.68" stroke="#333" stroke-width="0.8"/>
<line x1="661.69" y1="703.1" x2="661.69" y2="701.49" stroke="#333" stroke-width="0.8"/>
<line x1="488.37" y1="703.1" x2="488.37" y2="701.58" stroke="#333" stroke-width="0.8"/>
<line x1="500.67" y1="703.1" x2="500.67" y2="701.51" stroke="#333" stroke-width="0.8"/>
<line x1="561.76" y1="703.1" x2="561.76" y2="702.59" stroke="#333" stroke-width="0.8"/>
<line x1="583.73" y1="703.1" x2="583.73" y2="700.97" stroke="#333" stroke-width="0.8"/>
<line x1="387.75" y1="703.1" x2="387.75" y2="702.18" stroke="#333" stroke-width="0.8"/>
<line x1="596.1" y1="703.1" x2="596.1" y2="701.94" stroke="#333" stroke-width="0.8"/>
<line x1="495.12" y1="703.1" x2="495.12" y2="701.6" stroke="#333" stroke-width="0.8"/>
<line x1="404.14" y1="703.1" x2="404.14" y2="701.68" stroke="#333" stroke-width="0.8"/>
<line x1="480.69" y1="703.1" x2="480.69" y2="702.26" stroke="#333" stroke-width="0.8"/>
<line x1="624.68" y1="703.1" x2="624.68" y2="702.14" stroke="#333" stroke-width="0.8"/>
<line x1="504.07" y1="703.1" x2="504.07" y2="702.45" stroke="#333" stroke-width="0.8"/>
<line x1="581.37" y1="703.1" x2="581.37" y2="701.97" stroke="#333" stroke-width="0.8"/>
<line x1="552.8" y1="703.1" x2="552.8" y2="702.08" stroke="#333" stroke-width="0.8"/>
<line x1="639.25" y1="703.1" x2="639.25" y2="701.74" stroke="#333" stroke-width="0.8"/>
<line x1="581.65" y1="703.1" x2="581.65" y2="702.34" stroke="#333" stroke-width="0.8"/>
<line x1="397.17" y1="703.1" x2="397.17" y2="702" stroke="#333" stroke-width="0.8"/>
<line x1="518.05" y1="703.1" x2="518.05" y2="701.75" stroke="#333" stroke-width="0.8"/>
<line x1="409.44" y1="703.1" x2="409.44" y2="702.13" stroke="#333" stroke-width="0.8"/>
<line x1="513.72" y1="703.1" x2="513.72" y2="702.45" stroke="#333" stroke-width="0.8"/>
<line x1="665.73" y1="703.1" x2="665.73" y2="700.77" stroke="#333" stroke-width="0.8"/>
<line x1="478.59" y1="703.1" x2="478.59" y2="701.58" stroke="#333" stroke-width="0.8"/>
<line x1="540.54" y1="703.1" x2="540.54" y2="702.3" stroke="#333" stroke-width="0.8"/>
<line x1="585.77" y1="703.1" x2="585.77" y2="702.39" stroke="#333" stroke-width="0.8"/>
<line x1="531.25" y1="703.1" x2="531.25" y2="701.44" stroke="#333" stroke-width="0.8"/>
<line x1="565.84" y1="703.1" x2="565.84" y2="701.68" stroke="#333" stroke-width="0.8"/>
<line x1="446.32" y1="703.1" x2="446.32" y2="701.39" stroke="#333" stroke-width="0.8"/>
<line x1="581.72" y1="703.1" x2="581.72" y2="701.63" stroke="#333" stroke-width="0.8"/>
<line x1="375.07" y1="703.1" x2="375.07" y2="700.95" stroke="#333" stroke-width="0.8"/>
<line x1="550.53" y1="703.1" x2="550.53" y2="702.18" stroke="#333" stroke-width="0.8"/>
<line x1="564.75" y1="703.1" x2="564.75" y2="702.38" stroke="#333" stroke-width="0.8"/>
<line x1="430.92" y1="703.1" x2="430.92" y2="701.94" stroke="#333" stroke-width="0.8"/>
<line x1="526.27" y1="703.1" x2="526.27" y2="702.05" stroke="#333" stroke-width="0.8"/>
<line x1="614.33" y1="703.1" x2="614.33" y2="700.94" stroke="#333" stroke-width="0.8"/>
<line x1="433.44" y1="703.1" x2="433.44" y2="702.11" stroke="#333" stroke-width="0.8"/>
<line x1="453.93" y1="703.1" x2="453.93" y2="702.02" stroke="#333" stroke-width="0.8"/>
<line x1="490.29" y1="703.1" x2="490.29" y2="701.71" stroke="#333" stroke-width="0.8"/>
<line x1="388.87" y1="703.1" x2="388.87" y2="701.61" stroke="#333" stroke-width="0.8"/>
<line x1="379.52" y1="703.1" x2="379.52" y2="700.86" stroke="#333" stroke-width="0.8"/>
<line x1="568.49" y1="703.1" x2="568.49" y2="701.87" stroke="#333" stroke-width="0.8"/>
<line x1="624.14" y1="703.1" x2="624.14" y2="701.41" stroke="#333" stroke-width="0.8"/>
<line x1="671.57" y1="703.1" x2="671.57" y2="701.87" stroke="#333" stroke-width="0.8"/>
<line x1="592.47" y1="703.1" x2="592.47" y2="701.49" stroke="#333" stroke-width="0.8"/>
<line x1="396.41" y1="703.1" x2="396.41" y2="701.74" stroke="#333" stroke-width="0.8"/>
<line x1="376.17" y1="703.1" x2="376.17" y2="701.19" stroke="#333" stroke-width="0.8"/>
<line x1="586.52" y1="703.1" x2="586.52" y2="702.47" stroke="#333" stroke-width="0.8"/>
<line x1="543.44" y1="703.1" x2="543.44" y2="702.03" stroke="#333" stroke-width="0.8"/>
<line x1="526.75" y1="703.1" x2="526.75" y2="700.65" stroke="#333" stroke-width="0.8"/>
<line x1="534.72" y1="703.1" x2="534.72" y2="702.44" stroke="#333" stroke-width="0.8"/>
<line x1="378.75" y1="703.1" x2="378.75" y2="701.11" stroke="#333" stroke-width="0.8"/>
<line x1="552.29" y1="703.1" x2="552.29" y2="702.27" stroke="#333" stroke-width="0.8"/>
<line x1="618.42" y1="703.1" x2="618.42" y2="702.23" stroke="#333" stroke-width="0.8"/>
<line x1="646.41" y1="703.1" x2="646.41" y2="699.73" stroke="#333" stroke-width="0.8"/>
<line x1="399.77" y1="703.1" x2="399.77" y2="700.36" stroke="#333" stroke-width="0.8"/>
<line x1="448.27" y1="703.1" x2="448.27" y2="702.26" stroke="#333" stroke-width="0.8"/>
<line x1="390.8" y1="703.1" x2="390.8" y2="701.1" stroke="#333" stroke-width="0.8"/>
<line x1="490.93" y1="703.1" x2="490.93" y2="702.15" stroke="#333" stroke-width="0.8"/>
<line x1="406.22" y1="703.1" x2="406.22" y2="702.38" stroke="#333" stroke-width="0.8"/>
<line x1="617.57" y1="703.1" x2="617.57" y2="702.01" stroke="#333" stroke-width="0.8"/>
<line x1="462.92" y1="703.1" x2="462.92" y2="701.83" stroke="#333" stroke-width="0.8"/>
<line x1="602.44" y1="703.1" x2="602.44" y2="700.01" stroke="#333" stroke-width="0.8"/>
<line x1="559.29" y1="703.1" x2="559.29" y2="700.54" stroke="#333" stroke-width="0.8"/>
<line x1="414.29" y1="703.1" x2="414.29" y2="701.69" stroke="#333" stroke-width="0.8"/>
<line x1="515.4" y1="703.1" x2="515.4" y2="700.05" stroke="#333" stroke-width="0.8"/>
<line x1="589.29" y1="703.1" x2="589.29" y2="701.2" stroke="#333" stroke-width="0.8"/>
<line x1="650.09" y1="703.1" x2="650.09" y2="702.62" stroke="#333" stroke-width="0.8"/>
<line x1="609.56" y1="703.1" x2="609.56" y2="700.87" stroke="#333" stroke-width="0.8"/>
<line x1="508.9" y1="703.1" x2="508.9" y2="701.45" stroke="#333" stroke-width="0.8"/>
<line x1="583.53" y1="703.1" x2="583.53" y2="700.62" stroke="#333" stroke-width="0.8"/>
<line x1="628.38" y1="703.1" x2="628.38" y2="701.92" stroke="#333" stroke-width="0.8"/>
<line x1="400.86" y1="703.1" x2="400.86" y2="702.12" stroke="#333" stroke-width="0.8"/>
<line x1="529" y1="703.1" x2="529" y2="700.71" stroke="#333" stroke-width="0.8"/>
<line x1="404.26" y1="703.1" x2="404.26" y2="700.67" stroke="#333" stroke-width="0.8"/>
<line x1="620.96" y1="703.1" x2="620.96" y2="700.31" stroke="#333" stroke-width="0.8"/>
<line x1="527.3" y1="703.1" x2="527.3" y2="702.27" stroke="#333" stroke-width="0.8"/>
<line x1="484.31" y1="703.1" x2="484.31" y2="701.54" stroke="#333" stroke-width="0.8"/>
<line x1="390.48" y1="703.1" x2="390.48" y2="702.45" stroke="#333" stroke-width="0.8"/>
<line x1="432.17" y1="703.1" x2="432.17" y2="700.84" stroke="#333" stroke-width="0.8"/>
<line x1="470.52" y1="703.1" x2="470.52" y2="702.64" stroke="#333" stroke-width="0.8"/>
<line x1="595.7" y1="703.1" x2="595.7" y2="701.08" stroke="#333" stroke-width="0.8"/>
<line x1="446.68" y1="703.1" x2="446.68" y2="701.64" stroke="#333" stroke-width="0.8"/>
<line x1="665.25" y1="703.1" x2="665.25" y2="701.47" stroke="#333" stroke-width="0.8"/>
<line x1="398.79" y1="703.1" x2="398.79" y2="701.46" stroke="#333" stroke-width="0.8"/>
<line x1="562.99" y1="703.1" x2="562.99" y2="701.97" stroke="#333" stroke-width="0.8"/>
<line x1="475.37" y1="703.1" x2="475.37" y2="702.47" stroke="#333" stroke-width="0.8"/>
<line x1="378.38" y1="703.1" x2="378.38" y2="702.35" stroke="#333" stroke-width="0.8"/>
<line x1="464.46" y1="703.1" x2="464.46" y2="700.82" stroke="#333" stroke-width="0.8"/>
<line x1="505.61" y1="703.1" x2="505.61" y2="702.05" stroke="#333" stroke-width="0.8"/>
<line x1="487.46" y1="703.1" x2="487.46" y2="700.26" stroke="#333" stroke-width="0.8"/>
<line x1="629.38" y1="703.1" x2="629.38" y2="701.78" stroke="#333" stroke-width="0.8"/>
<line x1="498.96" y1="703.1" x2="498.96" y2="702.49" stroke="#333" stroke-width="0.8"/>
<line x1="525.58" y1="703.1" x2="525.58" y2="702.05" stroke="#333" stroke-width="0.8"/>
<line x1="400.82" y1="703.1" x2="400.82" y2="701.63" stroke="#333" stroke-width="0.8"/>
<line x1="588.73" y1="703.1" x2="588.73" y2="702.01" stroke="#333" stroke-width="0.8"/>
<line x1="663.97" y1="703.1" x2="663.97" y2="701.77" stroke="#333" stroke-width="0.8"/>
<line x1="442.39" y1="703.1" x2="442.39" y2="701.77" stroke="#333" stroke-width="0.8"/>
<line x1="529.04" y1="703.1" x2="529.04" y2="700.49" stroke="#333" stroke-width="0.8"/>
<line x1="599.79" y1="703.1" x2="599.79" y2="701.46" stroke="#333" stroke-width="0.8"/>
<line x1="447.23" y1="703.1" x2="447.23" y2="701.13" stroke="#333" stroke-width="0.8"/>
<line x1="453.63" y1="703.1" x2="453.63" y2="699.78" stroke="#333" stroke-width="0.8"/>
<line x1="611.97" y1="703.1" x2="611.97" y2="701.3" stroke="#333" stroke-width="0.8"/>
<line x1="491.47" y1="703.1" x2="491.47" y2="701.66" stroke="#333" stroke-width="0.8"/>
<line x1="553.93" y1="703.1" x2="553.93" y2="702.2" stroke="#333" stroke-width="0.8"/>
<line x1="528.94" y1="703.1" x2="528.94" y2="702.43" stroke="#333" stroke-width="0.8"/>
<line x1="625.31" y1="703.1" x2="625.31" y2="701.91" stroke="#333" stroke-width="0.8"/>
<line x1="545.38" y1="703.1" x2="545.38" y2="702.24" stroke="#333" stroke-width="0.8"/>
<line x1="431.66" y1="703.1" x2="431.66" y2="702.26" stroke="#333" stroke-width="0.8"/>
<line x1="422.93" y1="703.1" x2="422.93" y2="700.81" stroke="#333" stroke-width="0.8"/>
<line x1="596.48" y1="703.1" x2="596.48" y2="701.08" stroke="#333" stroke-width="0.8"/>
<line x1="533.55" y1="703.1" x2="533.55" y2="701.49" stroke="#333" stroke-width="0.8"/>
<line x1="527.89" y1="703.1" x2="527.89" y2="701.89" stroke="#333" stroke-width="0.8"/>
<line x1="601.16" y1="703.1" x2="601.16" y2="702.44" stroke="#333" stroke-width="0.8"/>
<line x1="547.79" y1="703.1" x2="547.79" y2="702.34" stroke="#333" stroke-width="0.8"/>
<line x1="634.84" y1="703.1" x2="634.84" y2="700.06" stroke="#333" stroke-width="0.8"/>
<line x1="546.75" y1="703.1" x2="546.75" y2="701.99" stroke="#333" stroke-width="0.8"/>
<line x1="559.57" y1="703.1" x2="559.57" y2="702.2" stroke="#333" stroke-width="0.8"/>
<line x1="563.12" y1="703.1" x2="563.12" y2="702.16" stroke="#333" stroke-width="0.8"/>
<line x1="606.56" y1="703.1" x2="606.56" y2="701.58" stroke="#333" stroke-width="0.8"/>
<line x1="455.07" y1="703.1" x2="455.07" y2="700.52" stroke="#333" stroke-width="0.8"/>
<line x1="464.32" y1="703.1" x2="464.32" y2="702.28" stroke="#333" stroke-width="0.8"/>
<line x1="483.22" y1="703.1" x2="483.22" y2="701.67" stroke="#333" stroke-width="0.8"/>
<line x1="381.7" y1="703.1" x2="381.7" y2="702.05" stroke="#333" stroke-width="0.8"/>
<line x1="579.58" y1="703.1" x2="579.58" y2="702.11" stroke="#333" stroke-width="0.8"/>
<line x1="431.4" y1="703.1" x2="431.4" y2="701.14" stroke="#333" stroke-width="0.8"/>
<line x1="463.4" y1="703.1" x2="463.4" y2="701.83" stroke="#333" stroke-width="0.8"/>
<line x1="424.7" y1="703.1" x2="424.7" y2="702.24" stroke="#333" stroke-width="0.8"/>
<line x1="455" y1="703.1" x2="455" y2="701.83" stroke="#333" stroke-width="0.8"/>
<line x1="526.52" y1="703.1" x2="526.52" y2="702.61" stroke="#333" stroke-width="0.8"/>
<line x1="551.8" y1="703.1" x2="551.8" y2="701.83" stroke="#333" stroke-width="0.8"/>
<line x1="554.87" y1="703.1" x2="554.87" y2="702.14" stroke="#333" stroke-width="0.8"/>
<line x1="437.27" y1="703.1" x2="437.27" y2="699.96" stroke="#333" stroke-width="0.8"/>
<line x1="514.71" y1="703.1" x2="514.71" y2="701.88" stroke="#333" stroke-width="0.8"/>
<line x1="404.95" y1="703.1" x2="404.95" y2="702.55" stroke="#333" stroke-width="0.8"/>
<line x1="401.71" y1="703.1" x2="401.71" y2="702.39" stroke="#333" stroke-width="0.8"/>
<line x1="659.03" y1="703.1" x2="659.03" y2="700.04" stroke="#333" stroke-width="0.8"/>
<line x1="379.45" y1="703.1" x2="379.45" y2="700.62" stroke="#333" stroke-width="0.8"/>
<line x1="587.77" y1="703.1" x2="587.77" y2="702.08" stroke="#333" stroke-width="0.8"/>
<line x1="668.14" y1="703.1" x2="668.14" y2="701.15" stroke="#333" stroke-width="0.8"/>
<line x1="432.29" y1="703.1" x2="432.29" y2="702.13" stroke="#333" stroke-width="0.8"/>
<line x1="555.71" y1="703.1" x2="555.71" y2="701.72" stroke="#333" stroke-width="0.8"/>
<line x1="508.91" y1="703.1" x2="508.91" y2="702.29" stroke="#333" stroke-width="0.8"/>
<line x1="430.43" y1="703.1" x2="430.43" y2="700.06" stroke="#333" stroke-width="0.8"/>
<line x1="412.29" y1="703.1" x2="412.29" y2="702.58" stroke="#333" stroke-width="0.8"/>
<line x1="598.02" y1="703.1" x2="598.02" y2="702.1" stroke="#333" stroke-width="0.8"/>
<line x1="602.91" y1="703.1" x2="602.91" y2="702.16" stroke="#333" stroke-width="0.8"/>
<line x1="576.74" y1="703.1" x2="576.74" y2="702.24" stroke="#333" stroke-width="0.8"/>
<line x1="440.35" y1="703.1" x2="440.35" y2="702.49" stroke="#333" stroke-width="0.8"/>
<line x1="485.54" y1="703.1" x2="485.54" y2="702.23" stroke="#333" stroke-width="0.8"/>
<line x1="520.11" y1="703.1" x2="520.11" y2="701.37" stroke="#333" stroke-width="0.8"/>
<line x1="402.98" y1="703.1" x2="402.98" y2="700.43" stroke="#333" stroke-width="0.8"/>
<line x1="404.25" y1="703.1" x2="404.25" y2="700.26" stroke="#333" stroke-width="0.8"/>
<line x1="587.19" y1="703.1" x2="587.19" y2="700.4" stroke="#333" stroke-width="0.8"/>
<line x1="583.32" y1="703.1" x2="583.32" y2="701.91" stroke="#333" stroke-width="0.8"/>
<line x1="627.53" y1="703.1" x2="627.53" y2="701.97" stroke="#333" stroke-width="0.8"/>
<line x1="586.54" y1="703.1" x2="586.54" y2="702.39" stroke="#333" stroke-width="0.8"/>
<line x1="435.24" y1="703.1" x2="435.24" y2="701.75" stroke="#333" stroke-width="0.8"/>
<line x1="403.34" y1="703.1" x2="403.34" y2="700.54" stroke="#333" stroke-width="0.8"/>
<line x1="432.59" y1="703.1" x2="432.59" y2="702.54" stroke="#333" stroke-width="0.8"/>
<line x1="634.77" y1="703.1" x2="634.77" y2="702.3" stroke="#333" stroke-width="0.8"/>
<line x1="373.53" y1="703.1" x2="373.53" y2="701.94" stroke="#333" stroke-width="0.8"/>
<line x1="600.01" y1="703.1" x2="600.01" y2="702.4" stroke="#333" stroke-width="0.8"/>
<line x1="484.34" y1="703.1" x2="484.34" y2="702.32" stroke="#333" stroke-width="0.8"/>
<line x1="598.61" y1="703.1" x2="598.61" y2="702.41" stroke="#333" stroke-width="0.8"/>
<line x1="637.8" y1="703.1" x2="637.8" y2="700.8" stroke="#333" stroke-width="0.8"/>
<line x1="433.43" y1="703.1" x2="433.43" y2="702.14" stroke="#333" stroke-width="0.8"/>
<line x1="586.96" y1="703.1" x2="586.96" y2="701.16" stroke="#333" stroke-width="0.8"/>
<line x1="646.33" y1="703.1" x2="646.33" y2="702.08" stroke="#333" stroke-width="0.8"/>
<line x1="525.24" y1="703.1" x2="525.24" y2="701.59" stroke="#333" stroke-width="0.8"/>
<line x1="581.55" y1="703.1" x2="581.55" y2="701.73" stroke="#333" stroke-width="0.8"/>
<line x1="580.09" y1="703.1" x2="580.09" y2="702.27" stroke="#333" stroke-width="0.8"/>
<line x1="387.88" y1="703.1" x2="387.88" y2="700.96" stroke="#333" stroke-width="0.8"/>
<line x1="605.96" y1="703.1" x2="605.96" y2="701.03" stroke="#333" stroke-width="0.8"/>
<line x1="432.87" y1="703.1" x2="432.87" y2="701.81" stroke="#333" stroke-width="0.8"/>
<line x1="637.03" y1="703.1" x2="637.03" y2="699.98" stroke="#333" stroke-width="0.8"/>
<line x1="663.79" y1="703.1" x2="663.79" y2="700.53" stroke="#333" stroke-width="0.8"/>
<line x1="435.32" y1="703.1" x2="435.32" y2="701.08" stroke="#333" stroke-width="0.8"/>
<line x1="508.42" y1="703.1" x2="508.42" y2="701.92" stroke="#333" stroke-width="0.8"/>
<line x1="525.51" y1="703.1" x2="525.51" y2="702.42" stroke="#333" stroke-width="0.8"/>
<line x1="472.9" y1="703.1" x2="472.9" y2="701.89" stroke="#333" stroke-width="0.8"/>
<line x1="450.24" y1="703.1" x2="450.24" y2="701.88" stroke="#333" stroke-width="0.8"/>
<line x1="423.82" y1="703.1" x2="423.82" y2="700.87" stroke="#333" stroke-width="0.8"/>
<line x1="607.58" y1="703.1" x2="607.58" y2="702.42" stroke="#333" stroke-width="0.8"/>
<line x1="403.99" y1="703.1" x2="403.99" y2="702.13" stroke="#333" stroke-width="0.8"/>
<line x1="537.81" y1="703.1" x2="537.81" y2="702.56" stroke="#333" stroke-width="0.8"/>
<line x1="438.4" y1="703.1" x2="438.4" y2="701.86" stroke="#333" stroke-width="0.8"/>
<line x1="439.67" y1="703.1" x2="439.67" y2="702.43" stroke="#333" stroke-width="0.8"/>
<line x1="608.95" y1="703.1" x2="608.95" y2="701.82" stroke="#333" stroke-width="0.8"/>
<line x1="490.91" y1="703.1" x2="490.91" y2="702.57" stroke="#333" stroke-width="0.8"/>
<line x1="463.7" y1="703.1" x2="463.7" y2="701.71" stroke="#333" stroke-width="0.8"/>
<line x1="591.29" y1="703.1" x2="591.29" y2="701.81" stroke="#333" stroke-width="0.8"/>
<line x1="620.99" y1="703.1" x2="620.99" y2="701.29" stroke="#333" stroke-width="0.8"/>
<line x1="433.9" y1="703.1" x2="433.9" y2="701.81" stroke="#333" stroke-width="0.8"/>
<line x1="641.48" y1="703.1" x2="641.48" y2="702.14" stroke="#333" stroke-width="0.8"/>
<line x1="481.95" y1="703.1" x2="481.95" y2="702.4" stroke="#333" stroke-width="0.8"/>
<line x1="547.52" y1="703.1" x2="547.52" y2="701.11" stroke="#333" stroke-width="0.8"/>
<line x1="413.76" y1="703.1" x2="413.76" y2="702.53" stroke="#333" stroke-width="0.8"/>
<line x1="476.95" y1="703.1" x2="476.95" y2="701.64" stroke="#333" stroke-width="0.8"/>
<line x1="631.55" y1="703.1" x2="631.55" y2="702.57" stroke="#333" stroke-width="0.8"/>
<line x1="652.55" y1="703.1" x2="652.55" y2="700.99" stroke="#333" stroke-width="0.8"/>
<line x1="664.69" y1="703.1" x2="664.69" y2="702.41" stroke="#333" stroke-width="0.8"/>
<line x1="439.02" y1="703.1" x2="439.02" y2="702.35" stroke="#333" stroke-width="0.8"/>
<line x1="619.12" y1="703.1" x2="619.12" y2="702.34" stroke="#333" stroke-width="0.8"/>
<line x1="392.45" y1="703.1" x2="392.45" y2="702.3" stroke="#333" stroke-width="0.8"/>
<line x1="608.98" y1="703.1" x2="608.98" y2="702.03" stroke="#333" stroke-width="0.8"/>
<line x1="608.3" y1="703.1" x2="608.3" y2="701" stroke="#333" stroke-width="0.8"/>
<line x1="656.6" y1="703.1" x2="656.6" y2="701.75" stroke="#333" stroke-width="0.8"/>
<line x1="541.04" y1="703.1" x2="541.04" y2="701.27" stroke="#333" stroke-width="0.8"/>
<line x1="440.1" y1="703.1" x2="440.1" y2="702.32" stroke="#333" stroke-width="0.8"/>
<line x1="533.63" y1="703.1" x2="533.63" y2="702.04" stroke="#333" stroke-width="0.8"/>
<line x1="638.75" y1="703.1" x2="638.75" y2="702.52" stroke="#333" stroke-width="0.8"/>
<line x1="664.24" y1="703.1" x2="664.24" y2="702.13" stroke="#333" stroke-width="0.8"/>
<line x1="645.58" y1="703.1" x2="645.58" y2="701.65" stroke="#333" stroke-width="0.8"/>
<line x1="500.46" y1="703.1" x2="500.46" y2="701.98" stroke="#333" stroke-width="0.8"/>
<line x1="526.62" y1="703.1" x2="526.62" y2="701.91" stroke="#333" stroke-width="0.8"/>
<line x1="400.39" y1="703.1" x2="400.39" y2="701.55" stroke="#333" stroke-width="0.8"/>
<line x1="554.37" y1="703.1" x2="554.37" y2="702.1" stroke="#333" stroke-width="0.8"/>
<line x1="521.02" y1="703.1" x2="521.02" y2="701.93" stroke="#333" stroke-width="0.8"/>
<line x1="635.07" y1="703.1" x2="635.07" y2="701.56" stroke="#333" stroke-width="0.8"/>
<line x1="426.59" y1="703.1" x2="426.59" y2="700.73" stroke="#333" stroke-width="0.8"/>
<line x1="649.65" y1="703.1" x2="649.65" y2="702.24" stroke="#333" stroke-width="0.8"/>
<line x1="658.6" y1="703.1" x2="658.6" y2="699.96" stroke="#333" stroke-width="0.8"/>
<line x1="443.13" y1="703.1" x2="443.13" y2="702.43" stroke="#333" stroke-width="0.8"/>
<line x1="419.88" y1="703.1" x2="419.88" y2="701.48" stroke="#333" stroke-width="0.8"/>
<line x1="452.93" y1="703.1" x2="452.93" y2="701.82" stroke="#333" stroke-width="0.8"/>
<line x1="393.69" y1="703.1" x2="393.69" y2="701.22" stroke="#333" stroke-width="0.8"/>
<line x1="482.2" y1="703.1" x2="482.2" y2="701.83" stroke="#333" stroke-width="0.8"/>
<line x1="513.34" y1="703.1" x2="513.34" y2="701.44" stroke="#333" stroke-width="0.8"/>
<line x1="610.66" y1="703.1" x2="610.66" y2="700.36" stroke="#333" stroke-width="0.8"/>
<line x1="527.49" y1="703.1" x2="527.49" y2="701.84" stroke="#333" stroke-width="0.8"/>
<line x1="533.67" y1="703.1" x2="533.67" y2="702.05" stroke="#333" stroke-width="0.8"/>
<line x1="623.89" y1="703.1" x2="623.89" y2="702.16" stroke="#333" stroke-width="0.8"/>
<line x1="396.76" y1="703.1" x2="396.76" y2="702.44" stroke="#333" stroke-width="0.8"/>
<line x1="481.44" y1="703.1" x2="481.44" y2="701.31" stroke="#333" stroke-width="0.8"/>
<line x1="570.85" y1="703.1" x2="570.85" y2="702.49" stroke="#333" stroke-width="0.8"/>
<line x1="384.69" y1="703.1" x2="384.69" y2="701.7" stroke="#333" stroke-width="0.8"/>
<line x1="517.22" y1="703.1" x2="517.22" y2="700.53" stroke="#333" stroke-width="0.8"/>
<line x1="467.23" y1="703.1" x2="467.23" y2="701.49" stroke="#333" stroke-width="0.8"/>
<line x1="659.39" y1="703.1" x2="659.39" y2="700.11" stroke="#333" stroke-width="0.8"/>
<line x1="400.49" y1="703.1" x2="400.49" y2="701.58" stroke="#333" stroke-width="0.8"/>
<line x1="381.78" y1="703.1" x2="381.78" y2="699.79" stroke="#333" stroke-width="0.8"/>
<line x1="583.11" y1="703.1" x2="583.11" y2="702.29" stroke="#333" stroke-width="0.8"/>
<line x1="613.12" y1="703.1" x2="613.12" y2="702.52" stroke="#333" stroke-width="0.8"/>
<line x1="422.21" y1="703.1" x2="422.21" y2="702.45" stroke="#333" stroke-width="0.8"/>
<line x1="628.24" y1="703.1" x2="628.24" y2="701.92" stroke="#333" stroke-width="0.8"/>
<line x1="606.47" y1="703.1" x2="606.47" y2="702.32" stroke="#333" stroke-width="0.8"/>
<line x1="401.58" y1="703.1" x2="401.58" y2="701.43" stroke="#333" stroke-width="0.8"/>
<line x1="671.23" y1="703.1" x2="671.23" y2="702" stroke="#333" stroke-width="0.8"/>
<line x1="476.38" y1="703.1" x2="476.38" y2="700.36" stroke="#333" stroke-width="0.8"/>
<line x1="576.5" y1="703.1" x2="576.5" y2="700.85" stroke="#333" stroke-width="0.8"/>
<line x1="418.18" y1="703.1" x2="418.18" y2="701.77" stroke="#333" stroke-width="0.8"/>
<line x1="522.11" y1="703.1" x2="522.11" y2="701.95" stroke="#333" stroke-width="0.8"/>
<line x1="460.26" y1="703.1" x2="460.26" y2="701.95" stroke="#333" stroke-width="0.8"/>
<line x1="540.77" y1="703.1" x2="540.77" y2="702.53" stroke="#333" stroke-width="0.8"/>
<line x1="387.82" y1="703.1" x2="387.82" y2="701.34" stroke="#333" stroke-width="0.8"/>
<line x1="372.46" y1="703.1" x2="372.46" y2="701.33" stroke="#333" stroke-width="0.8"/>
<line x1="634.07" y1="703.1" x2="634.07" y2="702.34" stroke="#333" stroke-width="0.8"/>
<line x1="388.9" y1="703.1" x2="388.9" y2="701.38" stroke="#333" stroke-width="0.8"/>
<line x1="373.08" y1="703.1" x2="373.08" y2="700.91" stroke="#333" stroke-width="0.8"/>
<line x1="634.63" y1="703.1" x2="634.63" y2="701.65" stroke="#333" stroke-width="0.8"/>
<line x1="436.51" y1="703.1" x2="436.51" y2="701.61" stroke="#333" stroke-width="0.8"/>
<line x1="570.92" y1="703.1" x2="570.92" y2="702.58" stroke="#333" stroke-width="0.8"/>
<line x1="460.89" y1="703.1" x2="460.89" y2="702.13" stroke="#333" stroke-width="0.8"/>
<line x1="599.11" y1="703.1" x2="599.11" y2="701.23" stroke="#333" stroke-width="0.8"/>
<line x1="485.46" y1="703.1" x2="485.46" y2="700.74" stroke="#333" stroke-width="0.8"/>
<line x1="648.35" y1="703.1" x2="648.35" y2="702.24" stroke="#333" stroke-width="0.8"/>
<line x1="400.72" y1="703.1" x2="400.72" y2="700.6" stroke="#333" stroke-width="0.8"/>
<line x1="385.56" y1="703.1" x2="385.56" y2="701.66" stroke="#333" stroke-width="0.8"/>
<line x1="446.69" y1="703.1" x2="446.69" y2="700.09" stroke="#333" stroke-width="0.8"/>
<line x1="564.58" y1="703.1" x2="564.58" y2="702.36" stroke="#333" stroke-width="0.8"/>
<line x1="641.25" y1="703.1" x2="641.25" y2="701.69" stroke="#333" stroke-width="0.8"/>
<line x1="373.98" y1="703.1" x2="373.98" y2="702.13" stroke="#333" stroke-width="0.8"/>
<line x1="493.49" y1="703.1" x2="493.49" y2="701.01" stroke="#333" stroke-width="0.8"/>
<line x1="444.29" y1="703.1" x2="444.29" y2="702.58" stroke="#333" stroke-width="0.8"/>
<line x1="454.16" y1="703.1" x2="454.16" y2="702.31" stroke="#333" stroke-width="0.8"/>
<line x1="466.16" y1="703.1" x2="466.16" y2="702.62" stroke="#333" stroke-width="0.8"/>
<line x1="651.61" y1="703.1" x2="651.61" y2="701.98" stroke="#333" stroke-width="0.8"/>
<line x1="433.8" y1="703.1" x2="433.8" y2="702.06" stroke="#333" stroke-width="0.8"/>
<line x1="449.42" y1="703.1" x2="449.42" y2="701.9" stroke="#333" stroke-width="0.8"/>
<line x1="634.15" y1="703.1" x2="634.15" y2="702.38" stroke="#333" stroke-width="0.8"/>
<line x1="373.82" y1="703.1" x2="373.82" y2="700.97" stroke="#333" stroke-width="0.8"/>
<line x1="457.75" y1="703.1" x2="457.75" y2="702.42" stroke="#333" stroke-width="0.8"/>
<line x1="565.01" y1="703.1" x2="565.01" y2="701.3" stroke="#333" stroke-width="0.8"/>
<line x1="665.5" y1="703.1" x2="665.5" y2="700.54" stroke="#333" stroke-width="0.8"/>
<line x1="426.68" y1="703.1" x2="426.68" y2="701.29" stroke="#333" stroke-width="0.8"/>
<line x1="394.77" y1="703.1" x2="394.77" y2="701.83" stroke="#333" stroke-width="0.8"/>
<line x1="455.44" y1="703.1" x2="455.44" y2="701.64" stroke="#333" stroke-width="0.8"/>
<line x1="551.83" y1="703.1" x2="551.83" y2="701.07" stroke="#333" stroke-width="0.8"/>
<line x1="432.03" y1="703.1" x2="432.03" y2="701.74" stroke="#333" stroke-width="0.8"/>
<line x1="548.15" y1="703.1" x2="548.15" y2="702.49" stroke="#333" stroke-width="0.8"/>
<line x1="508.52" y1="703.1" x2="508.52" y2="702.15" stroke="#333" stroke-width="0.8"/>
<line x1="640.57" y1="703.1" x2="640.57" y2="701.64" stroke="#333" stroke-width="0.8"/>
<line x1="374.43" y1="703.1" x2="374.43" y2="699.9" stroke="#333" stroke-width="0.8"/>
<line x1="472.26" y1="703.1" x2="472.26" y2="702.47" stroke="#333" stroke-width="0.8"/>
<line x1="556.96" y1="703.1" x2="556.96" y2="702.16" stroke="#333" stroke-width="0.8"/>
<line x1="565.21" y1="703.1" x2="565.21" y2="699.4" stroke="#333" stroke-width="0.8"/>
<line x1="391.7" y1="703.1" x2="391.7" y2="702.5" stroke="#333" stroke-width="0.8"/>
<line x1="629.31" y1="703.1" x2="629.31" y2="702.38" stroke="#333" stroke-width="0.8"/>
<line x1="482.38" y1="703.1" x2="482.38" y2="702.45" stroke="#333" stroke-width="0.8"/>
<line x1="482.18" y1="703.1" x2="482.18" y2="701.82" stroke="#333" stroke-width="0.8"/>
<line x1="454.92" y1="703.1" x2="454.92" y2="702.17" stroke="#333" stroke-width="0.8"/>
<line x1="532.99" y1="703.1" x2="532.99" y2="702.04" stroke="#333" stroke-width="0.8"/>
<line x1="452.58" y1="703.1" x2="452.58" y2="702.22" stroke="#333" stroke-width="0.8"/>
<line x1="451.08" y1="703.1" x2="451.08" y2="701.58" stroke="#333" stroke-width="0.8"/>
<line x1="380.2" y1="703.1" x2="380.2" y2="702.3" stroke="#333" stroke-width="0.8"/>
<line x1="433.29" y1="703.1" x2="433.29" y2="701.03" stroke="#333" stroke-width="0.8"/>
<line x1="547.54" y1="703.1" x2="547.54" y2="701.96" stroke="#333" stroke-width="0.8"/>
<line x1="596.4" y1="703.1" x2="596.4" y2="701.48" stroke="#333" stroke-width="0.8"/>
<line x1="505.24" y1="703.1" x2="505.24" y2="700.71" stroke="#333" stroke-width="0.8"/>
<line x1="392.7" y1="703.1" x2="392.7" y2="702.24" stroke="#333" stroke-width="0.8"/>
<line x1="666.36" y1="703.1" x2="666.36" y2="700.16" stroke="#333" stroke-width="0.8"/>
<line x1="461.7" y1="703.1" x2="461.7" y2="701.83" stroke="#333" stroke-width="0.8"/>
<line x1="655.12" y1="703.1" x2="655.12" y2="702.36" stroke="#333" stroke-width="0.8"/>
<line x1="391.66" y1="703.1" x2="391.66" y2="701.42" stroke="#333" stroke-width="0.8"/>
<line x1="398.4" y1="703.1" x2="398.4" y2="701.88" stroke="#333" stroke-width="0.8"/>
<line x1="579.45" y1="703.1" x2="579.45" y2="701.98" stroke="#333" stroke-width="0.8"/>
<line x1="389.64" y1="703.1" x2="389.64" y2="702.65" stroke="#333" stroke-width="0.8"/>
<line x1="670.62" y1="703.1" x2="670.62" y2="702.27" stroke="#333" stroke-width="0.8"/>
<line x1="633.97" y1="703.1" x2="633.97" y2="702.13" stroke="#333" stroke-width="0.8"/>
<line x1="421.47" y1="703.1" x2="421.47" y2="701.19" stroke="#333" stroke-width="0.8"/>
<line x1="479.21" y1="703.1" x2="479.21" y2="702.47" stroke="#333" stroke-width="0.8"/>
<line x1="448.46" y1="703.1" x2="448.46" y2="701.94" stroke="#333" stroke-width="0.8"/>
<line x1="586.5" y1="703.1" x2="586.5" y2="702.1" stroke="#333" stroke-width="0.8"/>
<line x1="597.57" y1="703.1" x2="597.57" y2="702.24" stroke="#333" stroke-width="0.8"/>
<line x1="646.96" y1="703.1" x2="646.96" y2="701.2" stroke="#333" stroke-width="0.8"/>
<line x1="570.8" y1="703.1" x2="570.8" y2="701.97" stroke="#333" stroke-width="0.8"/>
<line x1="439.46" y1="703.1" x2="439.46" y2="701.92" stroke="#333" stroke-width="0.8"/>
<line x1="389.94" y1="703.1" x2="389.94" y2="700.72" stroke="#333" stroke-width="0.8"/>
<line x1="624.87" y1="703.1" x2="624.87" y2="701.04" stroke="#333" stroke-width="0.8"/>
<line x1="557.13" y1="703.1" x2="557.13" y2="700.59" stroke="#333" stroke-width="0.8"/>
<line x1="576.76" y1="703.1" x2="576.76" y2="700.57" stroke="#333" stroke-width="0.8"/>
<line x1="590.23" y1="703.1" x2="590.23" y2="701.97" stroke="#333" stroke-width="0.8"/>
<line x1="620.81" y1="703.1" x2="620.81" y2="702.27" stroke="#333" stroke-width="0.8"/>
<line x1="451.07" y1="703.1" x2="451.07" y2="700.3" stroke="#333" stroke-width="0.8"/>
<line x1="409.56" y1="703.1" x2="409.56" y2="702.34" stroke="#333" stroke-width="0.8"/>
<line x1="506.06" y1="703.1" x2="506.06" y2="702.32" stroke="#333" stroke-width="0.8"/>
<line x1="402.09" y1="703.1" x2="402.09" y2="700.66" stroke="#333" stroke-width="0.8"/>
<line x1="533.41" y1="703.1" x2="533.41" y2="701.52" stroke="#333" stroke-width="0.8"/>
<line x1="645.87" y1="703.1" x2="645.87" y2="702.62" stroke="#333" stroke-width="0.8"/>
<line x1="387.45" y1="703.1" x2="387.45" y2="702.34" stroke="#333" stroke-width="0.8"/>
<line x1="419.08" y1="703.1" x2="419.08" y2="702.45" stroke="#333" stroke-width="0.8"/>
<line x1="527.75" y1="703.1" x2="527.75" y2="701.99" stroke="#333" stroke-width="0.8"/>
<line x1="612.02" y1="703.1" x2="612.02" y2="700.86" stroke="#333" stroke-width="0.8"/>
<line x1="528.84" y1="703.1" x2="528.84" y2="701.64" stroke="#333" stroke-width="0.8"/>
<line x1="481.08" y1="703.1" x2="481.08" y2="701.73" stroke="#333" stroke-width="0.8"/>
<line x1="670.87" y1="703.1" x2="670.87" y2="701.58" stroke="#333" stroke-width="0.8"/>
<line x1="524.48" y1="703.1" x2="524.48" y2="700.51" stroke="#333" stroke-width="0.8"/>
<line x1="380.74" y1="703.1" x2="380.74" y2="700.99" stroke="#333" stroke-width="0.8"/>
<line x1="648.12" y1="703.1" x2="648.12" y2="701.93" stroke="#333" stroke-width="0.8"/>
<line x1="508.35" y1="703.1" x2="508.35" y2="701.84" stroke="#333" stroke-width="0.8"/>
<line x1="433.8" y1="703.1" x2="433.8" y2="700.25" stroke="#333" stroke-width="0.8"/>
<line x1="524" y1="703.1" x2="524" y2="702.46" stroke="#333" stroke-width="0.8"/>
<line x1="642.09" y1="703.1" x2="642.09" y2="700.56" stroke="#333" stroke-width="0.8"/>
<line x1="388.84" y1="703.1" x2="388.84" y2="701.72" stroke="#333" stroke-width="0.8"/>
<line x1="575.35" y1="703.1" x2="575.35" y2="702.17" stroke="#333" stroke-width="0.8"/>
<line x1="484.5" y1="703.1" x2="484.5" y2="702.23" stroke="#333" stroke-width="0.8"/>
<line x1="560.09" y1="703.1" x2="560.09" y2="702.27" stroke="#333" stroke-width="0.8"/>
<line x1="401.7" y1="703.1" x2="401.7" y2="701.64" stroke="#333" stroke-width="0.8"/>
<line x1="380.24" y1="703.1" x2="380.24" y2="701.97" stroke="#333" stroke-width="0.8"/>
<line x1="392.9" y1="703.1" x2="392.9" y2="702.48" stroke="#333" stroke-width="0.8"/>
<line x1="472.72" y1="703.1" x2="472.72" y2="702.25" stroke="#333" stroke-width="0.8"/>
<line x1="517.05" y1="703.1" x2="517.05" y2="702.15" stroke="#333" stroke-width="0.8"/>
<line x1="506.52" y1="703.1" x2="506.52" y2="700.83" stroke="#333" stroke-width="0.8"/>
<line x1="648.14" y1="703.1" x2="648.14" y2="700.78" stroke="#333" stroke-width="0.8"/>
<line x1="431.69" y1="703.1" x2="431.69" y2="701.22" stroke="#333" stroke-width="0.8"/>
<line x1="607.41" y1="703.1" x2="607.41" y2="701.89" stroke="#333" stroke-width="0.8"/>
<line x1="474.21" y1="703.1" x2="474.21" y2="702.08" stroke="#333" stroke-width="0.8"/>
<line x1="398.36" y1="703.1" x2="398.36" y2="701.86" stroke="#333" stroke-width="0.8"/>
<line x1="618.37" y1="703.1" x2="618.37" y2="702.4" stroke="#333" stroke-width="0.8"/>
<line x1="496.03" y1="703.1" x2="496.03" y2="700.96" stroke="#333" stroke-width="0.8"/>
<line x1="404.73" y1="703.1" x2="404.73" y2="702.46" stroke="#333" stroke-width="0.8"/>
<line x1="552.29" y1="703.1" x2="552.29" y2="702.24" stroke="#333" stroke-width="0.8"/>
<line x1="494.12" y1="703.1" x2="494.12" y2="701.78" stroke="#333" stroke-width="0.8"/>
<line x1="471.29" y1="703.1" x2="471.29" y2="701.52" stroke="#333" stroke-width="0.8"/>
<line x1="622.72" y1="703.1" x2="622.72" y2="702.2" stroke="#333" stroke-width="0.8"/>
<line x1="521.15" y1="703.1" x2="521.15" y2="701.55" stroke="#333" stroke-width="0.8"/>
<line x1="636.19" y1="703.1" x2="636.19" y2="702.36" stroke="#333" stroke-width="0.8"/>
<line x1="529.26" y1="703.1" x2="529.26" y2="702.1" stroke="#333" stroke-width="0.8"/>
<line x1="581.19" y1="703.1" x2="581.19" y2="701.41" stroke="#333" stroke-width="0.8"/>
<line x1="614.78" y1="703.1" x2="614.78" y2="702.24" stroke="#333" stroke-width="0.8"/>
<line x1="525.01" y1="703.1" x2="525.01" y2="701.48" stroke="#333" stroke-width="0.8"/>
<line x1="463.19" y1="703.1" x2="463.19" y2="701.71" stroke="#333" stroke-width="0.8"/>
<line x1="667.89" y1="703.1" x2="667.89" y2="701.48" stroke="#333" stroke-width="0.8"/>
<line x1="618.66" y1="703.1" x2="618.66" y2="702.12" stroke="#333" stroke-width="0.8"/>
<line x1="543.21" y1="703.1" x2="543.21" y2="701.09" stroke="#333" stroke-width="0.8"/>
<line x1="454.97" y1="703.1" x2="454.97" y2="702.35" stroke="#333" stroke-width="0.8"/>
<line x1="505.44" y1="703.1" x2="505.44" y2="701.73" stroke="#333" stroke-width="0.8"/>
<line x1="463.63" y1="703.1" x2="463.63" y2="702.26" stroke="#333" stroke-width="0.8"/>
<line x1="645.07" y1="703.1" x2="645.07" y2="702.23" stroke="#333" stroke-width="0.8"/>
<line x1="617" y1="703.1" x2="617" y2="702.26" stroke="#333" stroke-width="0.8"/>
<line x1="523.48" y1="703.1" x2="523.48" y2="702.2" stroke="#333" stroke-width="0.8"/>
<line x1="423.29" y1="703.1" x2="423.29" y2="701.26" stroke="#333" stroke-width="0.8"/>
<line x1="650.53" y1="703.1" x2="650.53" y2="702.22" stroke="#333" stroke-width="0.8"/>
<line x1="549.06" y1="703.1" x2="549.06" y2="701.42" stroke="#333" stroke-width="0.8"/>
<line x1="582.74" y1="703.1" x2="582.74" y2="701.12" stroke="#333" stroke-width="0.8"/>
<line x1="478.72" y1="703.1" x2="478.72" y2="701.58" stroke="#333" stroke-width="0.8"/>
<line x1="506.56" y1="703.1" x2="506.56" y2="701.89" stroke="#333" stroke-width="0.8"/>
<line x1="506.92" y1="703.1" x2="506.92" y2="700.03" stroke="#333" stroke-width="0.8"/>
<line x1="477.82" y1="703.1" x2="477.82" y2="702.23" stroke="#333" stroke-width="0.8"/>
<line x1="451.45" y1="703.1" x2="451.45" y2="700.81" stroke="#333" stroke-width="0.8"/>
<line x1="557.95" y1="703.1" x2="557.95" y2="701.75" stroke="#333" stroke-width="0.8"/>
<line x1="429.51" y1="703.1" x2="429.51" y2="702.31" stroke="#333" stroke-width="0.8"/>
<line x1="407.36" y1="703.1" x2="407.36" y2="702.46" stroke="#333" stroke-width="0.8"/>
<line x1="529.27" y1="703.1" x2="529.27" y2="701.24" stroke="#333" stroke-width="0.8"/>
<line x1="540.96" y1="703.1" x2="540.96" y2="700.87" stroke="#333" stroke-width="0.8"/>
<line x1="553.79" y1="703.1" x2="553.79" y2="702.33" stroke="#333" stroke-width="0.8"/>
<line x1="574.74" y1="703.1" x2="574.74" y2="702.19" stroke="#333" stroke-width="0.8"/>
<line x1="492.17" y1="703.1" x2="492.17" y2="702.39" stroke="#333" stroke-width="0.8"/>
<line x1="606.21" y1="703.1" x2="606.21" y2="702.37" stroke="#333" stroke-width="0.8"/>
<line x1="575.76" y1="703.1" x2="575.76" y2="701.73" stroke="#333" stroke-width="0.8"/>
<line x1="441" y1="703.1" x2="441" y2="701.19" stroke="#333" stroke-width="0.8"/>
<line x1="450.36" y1="703.1" x2="450.36" y2="702.45" stroke="#333" stroke-width="0.8"/>
<line x1="598.01" y1="703.1" x2="598.01" y2="700.23" stroke="#333" stroke-width="0.8"/>
<line x1="575.28" y1="703.1" x2="575.28" y2="702.65" stroke="#333" stroke-width="0.8"/>
<line x1="561.16" y1="703.1" x2="561.16" y2="701.93" stroke="#333" stroke-width="0.8"/>
<line x1="403.05" y1="703.1" x2="403.05" y2="701.11" stroke="#333" stroke-width="0.8"/>
<line x1="525.04" y1="703.1" x2="525.04" y2="702.06" stroke="#333" stroke-width="0.8"/>
<line x1="652.57" y1="703.1" x2="652.57" y2="702.53" stroke="#333" stroke-width="0.8"/>
<line x1="561.59" y1="703.1" x2="561.59" y2="700.87" stroke="#333" stroke-width="0.8"/>
<line x1="517.33" y1="703.1" x2="517.33" y2="697.36" stroke="#333" stroke-width="0.8"/>
<line x1="507.06" y1="703.1" x2="507.06" y2="702" stroke="#333" stroke-width="0.8"/>
<line x1="471.77" y1="703.1" x2="471.77" y2="698.13" stroke="#333" stroke-width="0.8"/>
<line x1="485.72" y1="703.1" x2="485.72" y2="701.29" stroke="#333" stroke-width="0.8"/>
<line x1="557.97" y1="703.1" x2="557.97" y2="701.17" stroke="#333" stroke-width="0.8"/>
<line x1="468.03" y1="703.1" x2="468.03" y2="701.39" stroke="#333" stroke-width="0.8"/>
<line x1="483.66" y1="703.1" x2="483.66" y2="700.38" stroke="#333" stroke-width="0.8"/>
<line x1="509.41" y1="703.1" x2="509.41" y2="701.58" stroke="#333" stroke-width="0.8"/>
<line x1="532.07" y1="703.1" x2="532.07" y2="702.52" stroke="#333" stroke-width="0.8"/>
<line x1="532.52" y1="703.1" x2="532.52" y2="702.36" stroke="#333" stroke-width="0.8"/>
<line x1="514.68" y1="703.1" x2="514.68" y2="701.86" stroke="#333" stroke-width="0.8"/>
<line x1="532.46" y1="703.1" x2="532.46" y2="701.93" stroke="#333" stroke-width="0.8"/>
<line x1="521.79" y1="703.1" x2="521.79" y2="702.48" stroke="#333" stroke-width="0.8"/>
<line x1="526.01" y1="703.1" x2="526.01" y2="701.66" stroke="#333" stroke-width="0.8"/>
<line x1="544.31" y1="703.1" x2="544.31" y2="701.97" stroke="#333" stroke-width="0.8"/>
<line x1="514.92" y1="703.1" x2="514.92" y2="702.02" stroke="#333" stroke-width="0.8"/>
<line x1="483.07" y1="703.1" x2="483.07" y2="700.22" stroke="#333" stroke-width="0.8"/>
<line x1="465.96" y1="703.1" x2="465.96" y2="701.39" stroke="#333" stroke-width="0.8"/>
<line x1="511.11" y1="703.1" x2="511.11" y2="701.49" stroke="#333" stroke-width="0.8"/>
<line x1="547.93" y1="703.1" x2="547.93" y2="701.25" stroke="#333" stroke-width="0.8"/>
<line x1="515.88" y1="703.1" x2="515.88" y2="702.29" stroke="#333" stroke-width="0.8"/>
<line x1="534.41" y1="703.1" x2="534.41" y2="700.94" stroke="#333" stroke-width="0.8"/>
<line x1="489.35" y1="703.1" x2="489.35" y2="702.35" stroke="#333" stroke-width="0.8"/>
<line x1="539.52" y1="703.1" x2="539.52" y2="702.09" stroke="#333" stroke-width="0.8"/>
<line x1="530.47" y1="703.1" x2="530.47" y2="701.63" stroke="#333" stroke-width="0.8"/>
<line x1="481.45" y1="703.1" x2="481.45" y2="699.31" stroke="#333" stroke-width="0.8"/>
<line x1="479.35" y1="703.1" x2="479.35" y2="699.85" stroke="#333" stroke-width="0.8"/>
<line x1="469.12" y1="703.1" x2="469.12" y2="700.46" stroke="#333" stroke-width="0.8"/>
<line x1="475.68" y1="703.1" x2="475.68" y2="702.36" stroke="#333" stroke-width="0.8"/>
<line x1="535.54" y1="703.1" x2="535.54" y2="701.94" stroke="#333" stroke-width="0.8"/>
<line x1="551.76" y1="703.1" x2="551.76" y2="700.01" stroke="#333" stroke-width="0.8"/>
<line x1="476.52" y1="703.1" x2="476.52" y2="696.48" stroke="#333" stroke-width="0.8"/>
<line x1="550.94" y1="703.1" x2="550.94" y2="701.62" stroke="#333" stroke-width="0.8"/>
<line x1="540.15" y1="703.1" x2="540.15" y2="702.45" stroke="#333" stroke-width="0.8"/>
<line x1="554.96" y1="703.1" x2="554.96" y2="699" stroke="#333" stroke-width="0.8"/>
<line x1="507.03" y1="703.1" x2="507.03" y2="698.28" stroke="#333" stroke-width="0.8"/>
<line x1="484.35" y1="703.1" x2="484.35" y2="700.84" stroke="#333" stroke-width="0.8"/>
<line x1="475.44" y1="703.1" x2="475.44" y2="698.65" stroke="#333" stroke-width="0.8"/>
<line x1="558.94" y1="703.1" x2="558.94" y2="702.42" stroke="#333" stroke-width="0.8"/>
<line x1="558.36" y1="703.1" x2="558.36" y2="701.5" stroke="#333" stroke-width="0.8"/>
<line x1="525.54" y1="703.1" x2="525.54" y2="701.79" stroke="#333" stroke-width="0.8"/>
<line x1="527.97" y1="703.1" x2="527.97" y2="700.95" stroke="#333" stroke-width="0.8"/>
<line x1="505.3" y1="703.1" x2="505.3" y2="702.34" stroke="#333" stroke-width="0.8"/>
<line x1="516.17" y1="703.1" x2="516.17" y2="701.75" stroke="#333" stroke-width="0.8"/>
<line x1="477.15" y1="703.1" x2="477.15" y2="699.79" stroke="#333" stroke-width="0.8"/>
<line x1="475.03" y1="703.1" x2="475.03" y2="701.31" stroke="#333" stroke-width="0.8"/>
<line x1="548.58" y1="703.1" x2="548.58" y2="701.82" stroke="#333" stroke-width="0.8"/>
<line x1="518.17" y1="703.1" x2="518.17" y2="701.58" stroke="#333" stroke-width="0.8"/>
<line x1="560.37" y1="703.1" x2="560.37" y2="702.57" stroke="#333" stroke-width="0.8"/>
<line x1="491.1" y1="703.1" x2="491.1" y2="698.38" stroke="#333" stroke-width="0.8"/>
<line x1="505.8" y1="703.1" x2="505.8" y2="702.22" stroke="#333" stroke-width="0.8"/>
<line x1="496.89" y1="703.1" x2="496.89" y2="701.88" stroke="#333" stroke-width="0.8"/>
<line x1="537.23" y1="703.1" x2="537.23" y2="700.96" stroke="#333" stroke-width="0.8"/>
<line x1="510.05" y1="703.1" x2="510.05" y2="700.83" stroke="#333" stroke-width="0.8"/>
<line x1="465.72" y1="703.1" x2="465.72" y2="700.56" stroke="#333" stroke-width="0.8"/>
<line x1="507.58" y1="703.1" x2="507.58" y2="701.53" stroke="#333" stroke-width="0.8"/>
<line x1="555.51" y1="703.1" x2="555.51" y2="700.73" stroke="#333" stroke-width="0.8"/>
<line x1="483.74" y1="703.1" x2="483.74" y2="699.42" stroke="#333" stroke-width="0.8"/>
<line x1="521.13" y1="703.1" x2="521.13" y2="700.3" stroke="#333" stroke-width="0.8"/>
<line x1="556.25" y1="703.1" x2="556.25" y2="700.85" stroke="#333" stroke-width="0.8"/>
<line x1="539.15" y1="703.1" x2="539.15" y2="700.46" stroke="#333" stroke-width="0.8"/>
<line x1="534.75" y1="703.1" x2="534.75" y2="702.19" stroke="#333" stroke-width="0.8"/>
<line x1="477.46" y1="703.1" x2="477.46" y2="702.35" stroke="#333" stroke-width="0.8"/>
<line x1="562.3" y1="703.1" x2="562.3" y2="700.52" stroke="#333" stroke-width="0.8"/>
<line x1="522.34" y1="703.1" x2="522.34" y2="702.13" stroke="#333" stroke-width="0.8"/>
<line x1="526.57" y1="703.1" x2="526.57" y2="701.92" stroke="#333" stroke-width="0.8"/>
<line x1="513.94" y1="703.1" x2="513.94" y2="700.2" stroke="#333" stroke-width="0.8"/>
<line x1="476.99" y1="703.1" x2="476.99" y2="699.56" stroke="#333" stroke-width="0.8"/>
<line x1="540.81" y1="703.1" x2="540.81" y2="701.12" stroke="#333" stroke-width="0.8"/>
<line x1="483.69" y1="703.1" x2="483.69" y2="701.06" stroke="#333" stroke-width="0.8"/>
<line x1="488.81" y1="703.1" x2="488.81" y2="698.58" stroke="#333" stroke-width="0.8"/>
<line x1="527.67" y1="703.1" x2="527.67" y2="701.35" stroke="#333" stroke-width="0.8"/>
<line x1="542.02" y1="703.1" x2="542.02" y2="699.69" stroke="#333" stroke-width="0.8"/>
<line x1="563.08" y1="703.1" x2="563.08" y2="699.36" stroke="#333" stroke-width="0.8"/>
<line x1="481.8" y1="703.1" x2="481.8" y2="702.23" stroke="#333" stroke-width="0.8"/>
<line x1="556.12" y1="703.1" x2="556.12" y2="702.45" stroke="#333" stroke-width="0.8"/>
<line x1="552.89" y1="703.1" x2="552.89" y2="702.38" stroke="#333" stroke-width="0.8"/>
<line x1="490.77" y1="703.1" x2="490.77" y2="701.44" stroke="#333" stroke-width="0.8"/>
<line x1="519.64" y1="703.1" x2="519.64" y2="700.04" stroke="#333" stroke-width="0.8"/>
<line x1="535.89" y1="703.1" x2="535.89" y2="698.66" stroke="#333" stroke-width="0.8"/>
<line x1="519.05" y1="703.1" x2="519.05" y2="698.77" stroke="#333" stroke-width="0.8"/>
<line x1="557.57" y1="703.1" x2="557.57" y2="698.85" stroke="#333" stroke-width="0.8"/>
<line x1="563.19" y1="703.1" x2="563.19" y2="701.76" stroke="#333" stroke-width="0.8"/>
<line x1="490.04" y1="703.1" x2="490.04" y2="701.06" stroke="#333" stroke-width="0.8"/>
<line x1="543.54" y1="703.1" x2="543.54" y2="701.65" stroke="#333" stroke-width="0.8"/>
<line x1="466.94" y1="703.1" x2="466.94" y2="699.5" stroke="#333" stroke-width="0.8"/>
<line x1="541.38" y1="703.1" x2="541.38" y2="702.37" stroke="#333" stroke-width="0.8"/>
<line x1="545.53" y1="703.1" x2="545.53" y2="702.21" stroke="#333" stroke-width="0.8"/>
<line x1="480.8" y1="703.1" x2="480.8" y2="701.57" stroke="#333" stroke-width="0.8"/>
<line x1="503.12" y1="703.1" x2="503.12" y2="698.92" stroke="#333" stroke-width="0.8"/>
<line x1="517.56" y1="703.1" x2="517.56" y2="701.48" stroke="#333" stroke-width="0.8"/>
<line x1="541.93" y1="703.1" x2="541.93" y2="700.03" stroke="#333" stroke-width="0.8"/>
<line x1="469.09" y1="703.1" x2="469.09" y2="701.74" stroke="#333" stroke-width="0.8"/>
<line x1="479.18" y1="703.1" x2="479.18" y2="700.65" stroke="#333" stroke-width="0.8"/>
<line x1="552.95" y1="703.1" x2="552.95" y2="702.6" stroke="#333" stroke-width="0.8"/>
<line x1="538.85" y1="703.1" x2="538.85" y2="700.74" stroke="#333" stroke-width="0.8"/>
<line x1="483.3" y1="703.1" x2="483.3" y2="698.72" stroke="#333" stroke-width="0.8"/>
<line x1="479.55" y1="703.1" x2="479.55" y2="696.68" stroke="#333" stroke-width="0.8"/>
<line x1="539.21" y1="703.1" x2="539.21" y2="700" stroke="#333" stroke-width="0.8"/>
<line x1="551.46" y1="703.1" x2="551.46" y2="701.22" stroke="#333" stroke-width="0.8"/>
<line x1="537.96" y1="703.1" x2="537.96" y2="699.83" stroke="#333" stroke-width="0.8"/>
<line x1="528.03" y1="703.1" x2="528.03" y2="701.53" stroke="#333" stroke-width="0.8"/>
<line x1="536.58" y1="703.1" x2="536.58" y2="702.51" stroke="#333" stroke-width="0.8"/>
<line x1="520.39" y1="703.1" x2="520.39" y2="701.99" stroke="#333" stroke-width="0.8"/>
<line x1="524.8" y1="703.1" x2="524.8" y2="699.11" stroke="#333" stroke-width="0.8"/>
<line x1="477.38" y1="703.1" x2="477.38" y2="698.35" stroke="#333" stroke-width="0.8"/>
<line x1="476.33" y1="703.1" x2="476.33" y2="702.59" stroke="#333" stroke-width="0.8"/>
<line x1="490.43" y1="703.1" x2="490.43" y2="702.47" stroke="#333" stroke-width="0.8"/>
<line x1="489.93" y1="703.1" x2="489.93" y2="701.91" stroke="#333" stroke-width="0.8"/>
<line x1="501.98" y1="703.1" x2="501.98" y2="701.9" stroke="#333" stroke-width="0.8"/>
<line x1="538.24" y1="703.1" x2="538.24" y2="699.23" stroke="#333" stroke-width="0.8"/>
<line x1="552.37" y1="703.1" x2="552.37" y2="700.66" stroke="#333" stroke-width="0.8"/>
<line x1="562.1" y1="703.1" x2="562.1" y2="699.98" stroke="#333" stroke-width="0.8"/>
<line x1="561.77" y1="703.1" x2="561.77" y2="701.13" stroke="#333" stroke-width="0.8"/>
<line x1="479.52" y1="703.1" x2="479.52" y2="701.07" stroke="#333" stroke-width="0.8"/>
<line x1="564.63" y1="703.1" x2="564.63" y2="702.53" stroke="#333" stroke-width="0.8"/>
<line x1="539.2" y1="703.1" x2="539.2" y2="701.77" stroke="#333" stroke-width="0.8"/>
<line x1="542.48" y1="703.1" x2="542.48" y2="699.78" stroke="#333" stroke-width="0.8"/>
<line x1="485.08" y1="703.1" x2="485.08" y2="699.12" stroke="#333" stroke-width="0.8"/>
<line x1="488.51" y1="703.1" x2="488.51" y2="699.07" stroke="#333" stroke-width="0.8"/>
<line x1="528.47" y1="703.1" x2="528.47" y2="701.38" stroke="#333" stroke-width="0.8"/>
<line x1="546.55" y1="703.1" x2="546.55" y2="697.82" stroke="#333" stroke-width="0.8"/>
<line x1="536.84" y1="703.1" x2="536.84" y2="702.17" stroke="#333" stroke-width="0.8"/>
<line x1="512.67" y1="703.1" x2="512.67" y2="700.86" stroke="#333" stroke-width="0.8"/>
<line x1="491.16" y1="703.1" x2="491.16" y2="701.17" stroke="#333" stroke-width="0.8"/>
<line x1="474.72" y1="703.1" x2="474.72" y2="702.36" stroke="#333" stroke-width="0.8"/>
<line x1="529.05" y1="703.1" x2="529.05" y2="698.27" stroke="#333" stroke-width="0.8"/>
<line x1="563.81" y1="703.1" x2="563.81" y2="700.31" stroke="#333" stroke-width="0.8"/>
<line x1="539.69" y1="703.1" x2="539.69" y2="699.79" stroke="#333" stroke-width="0.8"/>
<line x1="556.85" y1="703.1" x2="556.85" y2="696.8" stroke="#333" stroke-width="0.8"/>
<line x1="548.19" y1="703.1" x2="548.19" y2="700.79" stroke="#333" stroke-width="0.8"/>
<line x1="551.34" y1="703.1" x2="551.34" y2="701.44" stroke="#333" stroke-width="0.8"/>
<line x1="523.53" y1="703.1" x2="523.53" y2="702.6" stroke="#333" stroke-width="0.8"/>
<line x1="553.83" y1="703.1" x2="553.83" y2="702.01" stroke="#333" stroke-width="0.8"/>
<line x1="553.07" y1="703.1" x2="553.07" y2="701.23" stroke="#333" stroke-width="0.8"/>
<line x1="506.53" y1="703.1" x2="506.53" y2="701.48" stroke="#333" stroke-width="0.8"/>
<line x1="496.82" y1="703.1" x2="496.82" y2="699.55" stroke="#333" stroke-width="0.8"/>
<line x1="555.95" y1="703.1" x2="555.95" y2="700.64" stroke="#333" stroke-width="0.8"/>
<line x1="513.11" y1="703.1" x2="513.11" y2="701.65" stroke="#333" stroke-width="0.8"/>
<line x1="509.3" y1="703.1" x2="509.3" y2="702.05" stroke="#333" stroke-width="0.8"/>
<line x1="466.82" y1="703.1" x2="466.82" y2="702.22" stroke="#333" stroke-width="0.8"/>
<line x1="557.86" y1="703.1" x2="557.86" y2="701.64" stroke="#333" stroke-width="0.8"/>
<line x1="475.62" y1="703.1" x2="475.62" y2="702.08" stroke="#333" stroke-width="0.8"/>
<line x1="561.93" y1="703.1" x2="561.93" y2="700.08" stroke="#333" stroke-width="0.8"/>
<line x1="492.21" y1="703.1" x2="492.21" y2="699.26" stroke="#333" stroke-width="0.8"/>
<line x1="547.75" y1="703.1" x2="547.75" y2="702.14" stroke="#333" stroke-width="0.8"/>
<line x1="501.15" y1="703.1" x2="501.15" y2="701.56" stroke="#333" stroke-width="0.8"/>
<line x1="557.94" y1="703.1" x2="557.94" y2="701.44" stroke="#333" stroke-width="0.8"/>
<line x1="537.97" y1="703.1" x2="537.97" y2="701.97" stroke="#333" stroke-width="0.8"/>
<line x1="543.48" y1="703.1" x2="543.48" y2="699.34" stroke="#333" stroke-width="0.8"/>
<line x1="495.05" y1="703.1" x2="495.05" y2="701.19" stroke="#333" stroke-width="0.8"/>
<line x1="557.43" y1="703.1" x2="557.43" y2="700.75" stroke="#333" stroke-width="0.8"/>
<line x1="478.5" y1="703.1" x2="478.5" y2="700.47" stroke="#333" stroke-width="0.8"/>
<line x1="527.72" y1="703.1" x2="527.72" y2="699.97" stroke="#333" stroke-width="0.8"/>
<line x1="505.4" y1="703.1" x2="505.4" y2="699.5" stroke="#333" stroke-width="0.8"/>
<line x1="511.93" y1="703.1" x2="511.93" y2="700.33" stroke="#333" stroke-width="0.8"/>
<line x1="497.13" y1="703.1" x2="497.13" y2="699.81" stroke="#333" stroke-width="0.8"/>
<line x1="537.32" y1="703.1" x2="537.32" y2="702.23" stroke="#333" stroke-width="0.8"/>
<line x1="510.27" y1="703.1" x2="510.27" y2="699.77" stroke="#333" stroke-width="0.8"/>
<line x1="476.28" y1="703.1" x2="476.28" y2="702.19" stroke="#333" stroke-width="0.8"/>
<line x1="524.75" y1="703.1" x2="524.75" y2="701.25" stroke="#333" stroke-width="0.8"/>
<line x1="511.61" y1="703.1" x2="511.61" y2="701.26" stroke="#333" stroke-width="0.8"/>
<line x1="534.94" y1="703.1" x2="534.94" y2="699.69" stroke="#333" stroke-width="0.8"/>
<line x1="494.58" y1="703.1" x2="494.58" y2="701.69" stroke="#333" stroke-width="0.8"/>
<line x1="477.43" y1="703.1" x2="477.43" y2="699.41" stroke="#333" stroke-width="0.8"/>
<line x1="494.46" y1="703.1" x2="494.46" y2="701.74" stroke="#333" stroke-width="0.8"/>
<line x1="537.45" y1="703.1" x2="537.45" y2="701.84" stroke="#333" stroke-width="0.8"/>
<line x1="514.51" y1="703.1" x2="514.51" y2="697.95" stroke="#333" stroke-width="0.8"/>
<line x1="484.19" y1="703.1" x2="484.19" y2="700.17" stroke="#333" stroke-width="0.8"/>
<line x1="495.17" y1="703.1" x2="495.17" y2="701.15" stroke="#333" stroke-width="0.8"/>
<line x1="512.84" y1="703.1" x2="512.84" y2="701.51" stroke="#333" stroke-width="0.8"/>
<line x1="554.12" y1="703.1" x2="554.12" y2="702.37" stroke="#333" stroke-width="0.8"/>
<line x1="556.01" y1="703.1" x2="556.01" y2="701.52" stroke="#333" stroke-width="0.8"/>
<line x1="517.25" y1="703.1" x2="517.25" y2="695.83" stroke="#333" stroke-width="0.8"/>
<line x1="561.44" y1="703.1" x2="561.44" y2="701.78" stroke="#333" stroke-width="0.8"/>
<line x1="477.94" y1="703.1" x2="477.94" y2="697.6" stroke="#333" stroke-width="0.8"/>
<line x1="492.98" y1="703.1" x2="492.98" y2="700.31" stroke="#333" stroke-width="0.8"/>
<line x1="469.97" y1="703.1" x2="469.97" y2="700.92" stroke="#333" stroke-width="0.8"/>
<line x1="499.11" y1="703.1" x2="499.11" y2="702.11" stroke="#333" stroke-width="0.8"/>
<line x1="511.15" y1="703.1" x2="511.15" y2="700.61" stroke="#333" stroke-width="0.8"/>
<line x1="497.99" y1="703.1" x2="497.99" y2="702.38" stroke="#333" stroke-width="0.8"/>
<line x1="493.7" y1="703.1" x2="493.7" y2="701.96" stroke="#333" stroke-width="0.8"/>
<line x1="513.81" y1="703.1" x2="513.81" y2="701.11" stroke="#333" stroke-width="0.8"/>
<line x1="525.07" y1="703.1" x2="525.07" y2="700.02" stroke="#333" stroke-width="0.8"/>
<line x1="555.68" y1="703.1" x2="555.68" y2="699.93" stroke="#333" stroke-width="0.8"/>
<line x1="525.79" y1="703.1" x2="525.79" y2="701.21" stroke="#333" stroke-width="0.8"/>
<line x1="556.39" y1="703.1" x2="556.39" y2="699" stroke="#333" stroke-width="0.8"/>
<line x1="497.96" y1="703.1" x2="497.96" y2="700.82" stroke="#333" stroke-width="0.8"/>
<line x1="479.92" y1="703.1" x2="479.92" y2="701.43" stroke="#333" stroke-width="0.8"/>
<line x1="468.74" y1="703.1" x2="468.74" y2="701.44" stroke="#333" stroke-width="0.8"/>
<line x1="482.85" y1="703.1" x2="482.85" y2="701.49" stroke="#333" stroke-width="0.8"/>
<line x1="540.92" y1="703.1" x2="540.92" y2="701.68" stroke="#333" stroke-width="0.8"/>
<line x1="557.36" y1="703.1" x2="557.36" y2="697.84" stroke="#333" stroke-width="0.8"/>
<line x1="483.65" y1="703.1" x2="483.65" y2="701.78" stroke="#333" stroke-width="0.8"/>
<line x1="564.67" y1="703.1" x2="564.67" y2="699.86" stroke="#333" stroke-width="0.8"/>
<line x1="479.6" y1="703.1" x2="479.6" y2="700.33" stroke="#333" stroke-width="0.8"/>
<line x1="554.9" y1="703.1" x2="554.9" y2="701.4" stroke="#333" stroke-width="0.8"/>
<line x1="483.92" y1="703.1" x2="483.92" y2="701.81" stroke="#333" stroke-width="0.8"/>
<line x1="509.47" y1="703.1" x2="509.47" y2="702.19" stroke="#333" stroke-width="0.8"/>
<line x1="536.3" y1="703.1" x2="536.3" y2="702.45" stroke="#333" stroke-width="0.8"/>
<line x1="537.79" y1="703.1" x2="537.79" y2="701.06" stroke="#333" stroke-width="0.8"/>
<line x1="554" y1="703.1" x2="554" y2="701.51" stroke="#333" stroke-width="0.8"/>
<line x1="484.17" y1="703.1" x2="484.17" y2="702.54" stroke="#333" stroke-width="0.8"/>
<line x1="532.59" y1="703.1" x2="532.59" y2="698.44" stroke="#333" stroke-width="0.8"/>
<line x1="479.49" y1="703.1" x2="479.49" y2="702.25" stroke="#333" stroke-width="0.8"/>
<line x1="539.71" y1="703.1" x2="539.71" y2="701.15" stroke="#333" stroke-width="0.8"/>
<line x1="472.24" y1="703.1" x2="472.24" y2="701.47" stroke="#333" stroke-width="0.8"/>
<line x1="509.11" y1="703.1" x2="509.11" y2="702.04" stroke="#333" stroke-width="0.8"/>
<line x1="484.03" y1="703.1" x2="484.03" y2="702.63" stroke="#333" stroke-width="0.8"/>
<line x1="519.64" y1="703.1" x2="519.64" y2="700.86" stroke="#333" stroke-width="0.8"/>
<line x1="502.06" y1="703.1" x2="502.06" y2="700.43" stroke="#333" stroke-width="0.8"/>
<line x1="476.95" y1="703.1" x2="476.95" y2="701.3" stroke="#333" stroke-width="0.8"/>
<line x1="476.29" y1="703.1" x2="476.29" y2="699.58" stroke="#333" stroke-width="0.8"/>
<line x1="507.61" y1="703.1" x2="507.61" y2="701.5" stroke="#333" stroke-width="0.8"/>
<line x1="539.09" y1="703.1" x2="539.09" y2="701.97" stroke="#333" stroke-width="0.8"/>
<line x1="513.45" y1="703.1" x2="513.45" y2="699.87" stroke="#333" stroke-width="0.8"/>
<line x1="509.45" y1="703.1" x2="509.45" y2="702.09" stroke="#333" stroke-width="0.8"/>
<line x1="509.09" y1="703.1" x2="509.09" y2="701.86" stroke="#333" stroke-width="0.8"/>
<line x1="513.76" y1="703.1" x2="513.76" y2="701.68" stroke="#333" stroke-width="0.8"/>
<line x1="539.15" y1="703.1" x2="539.15" y2="698.3" stroke="#333" stroke-width="0.8"/>
<line x1="500.22" y1="703.1" x2="500.22" y2="702.21" stroke="#333" stroke-width="0.8"/>
<line x1="542.26" y1="703.1" x2="542.26" y2="702.35" stroke="#333" stroke-width="0.8"/>
<line x1="491.48" y1="703.1" x2="491.48" y2="702" stroke="#333" stroke-width="0.8"/>
<line x1="506.66" y1="703.1" x2="506.66" y2="701.52" stroke="#333" stroke-width="0.8"/>
<line x1="543.31" y1="703.1" x2="543.31" y2="701.04" stroke="#333" stroke-width="0.8"/>
<line x1="503.5" y1="703.1" x2="503.5" y2="698.95" stroke="#333" stroke-width="0.8"/>
<line x1="480.37" y1="703.1" x2="480.37" y2="701.75" stroke="#333" stroke-width="0.8"/>
<line x1="471.46" y1="703.1" x2="471.46" y2="701.21" stroke="#333" stroke-width="0.8"/>
<line x1="548.68" y1="703.1" x2="548.68" y2="701.82" stroke="#333" stroke-width="0.8"/>
<line x1="477.99" y1="703.1" x2="477.99" y2="700.27" stroke="#333" stroke-width="0.8"/>
<line x1="537.92" y1="703.1" x2="537.92" y2="700.82" stroke="#333" stroke-width="0.8"/>
<line x1="488.43" y1="703.1" x2="488.43" y2="697.93" stroke="#333" stroke-width="0.8"/>
<line x1="499.56" y1="703.1" x2="499.56" y2="701.67" stroke="#333" stroke-width="0.8"/>
<line x1="515.77" y1="703.1" x2="515.77" y2="700.86" stroke="#333" stroke-width="0.8"/>
<line x1="538.2" y1="703.1" x2="538.2" y2="701.85" stroke="#333" stroke-width="0.8"/>
<line x1="547.34" y1="703.1" x2="547.34" y2="701.61" stroke="#333" stroke-width="0.8"/>
<line x1="526.75" y1="703.1" x2="526.75" y2="701.44" stroke="#333" stroke-width="0.8"/>
<line x1="550.88" y1="703.1" x2="550.88" y2="702.36" stroke="#333" stroke-width="0.8"/>
<line x1="542.73" y1="703.1" x2="542.73" y2="697.58" stroke="#333" stroke-width="0.8"/>
<line x1="536.66" y1="703.1" x2="536.66" y2="700.79" stroke="#333" stroke-width="0.8"/>
<line x1="490.2" y1="703.1" x2="490.2" y2="702.43" stroke="#333" stroke-width="0.8"/>
<line x1="540.68" y1="703.1" x2="540.68" y2="699.52" stroke="#333" stroke-width="0.8"/>
<line x1="477" y1="703.1" x2="477" y2="701.97" stroke="#333" stroke-width="0.8"/>
<line x1="478.5" y1="703.1" x2="478.5" y2="702.34" stroke="#333" stroke-width="0.8"/>
<line x1="470.54" y1="703.1" x2="470.54" y2="699.64" stroke="#333" stroke-width="0.8"/>
<line x1="525.63" y1="703.1" x2="525.63" y2="702.28" stroke="#333" stroke-width="0.8"/>
<line x1="538.79" y1="703.1" x2="538.79" y2="701.12" stroke="#333" stroke-width="0.8"/>
<line x1="516.14" y1="703.1" x2="516.14" y2="700.61" stroke="#333" stroke-width="0.8"/>
<line x1="563.7" y1="703.1" x2="563.7" y2="699.79" stroke="#333" stroke-width="0.8"/>
<line x1="483.08" y1="703.1" x2="483.08" y2="702.6" stroke="#333" stroke-width="0.8"/>
<line x1="539.28" y1="703.1" x2="539.28" y2="702.12" stroke="#333" stroke-width="0.8"/>
<line x1="539.17" y1="703.1" x2="539.17" y2="701.98" stroke="#333" stroke-width="0.8"/>
<line x1="500.83" y1="703.1" x2="500.83" y2="701.52" stroke="#333" stroke-width="0.8"/>
<line x1="526.28" y1="703.1" x2="526.28" y2="700.35" stroke="#333" stroke-width="0.8"/>
<line x1="489.13" y1="703.1" x2="489.13" y2="699.86" stroke="#333" stroke-width="0.8"/>
<line x1="476.13" y1="703.1" x2="476.13" y2="701.89" stroke="#333" stroke-width="0.8"/>
<line x1="544.97" y1="703.1" x2="544.97" y2="701.68" stroke="#333" stroke-width="0.8"/>
<line x1="554" y1="703.1" x2="554" y2="700.42" stroke="#333" stroke-width="0.8"/>
<line x1="474.54" y1="703.1" x2="474.54" y2="699.75" stroke="#333" stroke-width="0.8"/>
<line x1="381.4" y1="703.1" x2="381.4" y2="700" stroke="#222222" stroke-width="1.25"/>
<line x1="389" y1="703.1" x2="389" y2="699.5" stroke="#222222" stroke-width="1.25"/>
<line x1="399" y1="703.1" x2="399" y2="692.6" stroke="#222222" stroke-width="1.25"/>
<line x1="415" y1="703.1" x2="415" y2="687.7" stroke="#222222" stroke-width="1.25"/>
<line x1="417.4" y1="703.1" x2="417.4" y2="697" stroke="#222222" stroke-width="1.25"/>
<line x1="421" y1="703.1" x2="421" y2="698" stroke="#222222" stroke-width="1.25"/>
<line x1="429.8" y1="703.1" x2="429.8" y2="697" stroke="#222222" stroke-width="1.25"/>
<line x1="434" y1="703.1" x2="434" y2="663" stroke="#222222" stroke-width="1.25"/>
<line x1="446" y1="703.1" x2="446" y2="695.8" stroke="#222222" stroke-width="1.25"/>
<line x1="455.4" y1="703.1" x2="455.4" y2="668.7" stroke="#222222" stroke-width="1.25"/>
<line x1="462" y1="703.1" x2="462" y2="697" stroke="#222222" stroke-width="1.25"/>
<line x1="469" y1="703.1" x2="469" y2="696" stroke="#222222" stroke-width="1.25"/>
<line x1="471" y1="703.1" x2="471" y2="683.5" stroke="#222222" stroke-width="1.25"/>
<line x1="476" y1="703.1" x2="476" y2="694" stroke="#222222" stroke-width="1.25"/>
<line x1="480.6" y1="703.1" x2="480.6" y2="630.7" stroke="#222222" stroke-width="1.25"/>
<line x1="483.1" y1="703.1" x2="483.1" y2="693" stroke="#222222" stroke-width="1.25"/>
<line x1="485.4" y1="703.1" x2="485.4" y2="687" stroke="#222222" stroke-width="1.25"/>
<line x1="487.3" y1="703.1" x2="487.3" y2="664.5" stroke="#222222" stroke-width="1.25"/>
<line x1="490" y1="703.1" x2="490" y2="694" stroke="#222222" stroke-width="1.25"/>
<line x1="494" y1="703.1" x2="494" y2="693" stroke="#222222" stroke-width="1.25"/>
<line x1="496.8" y1="703.1" x2="496.8" y2="690" stroke="#222222" stroke-width="1.25"/>
<line x1="497.8" y1="703.1" x2="497.8" y2="687.2" stroke="#222222" stroke-width="1.25"/>
<line x1="499" y1="703.1" x2="499" y2="658.8" stroke="#222222" stroke-width="1.25"/>
<line x1="500" y1="703.1" x2="500" y2="659.6" stroke="#222222" stroke-width="1.25"/>
<line x1="502" y1="703.1" x2="502" y2="690" stroke="#222222" stroke-width="1.25"/>
<line x1="505" y1="703.1" x2="505" y2="678" stroke="#222222" stroke-width="1.25"/>
<line x1="508.6" y1="703.1" x2="508.6" y2="607.9" stroke="#222222" stroke-width="1.25"/>
<line x1="511" y1="703.1" x2="511" y2="694" stroke="#222222" stroke-width="1.25"/>
<line x1="513.5" y1="703.1" x2="513.5" y2="674.9" stroke="#222222" stroke-width="1.25"/>
<line x1="518" y1="703.1" x2="518" y2="693" stroke="#222222" stroke-width="1.25"/>
<line x1="522" y1="703.1" x2="522" y2="692" stroke="#222222" stroke-width="1.25"/>
<line x1="525.8" y1="703.1" x2="525.8" y2="680" stroke="#222222" stroke-width="1.25"/>
<line x1="530" y1="703.1" x2="530" y2="693" stroke="#222222" stroke-width="1.25"/>
<line x1="533" y1="703.1" x2="533" y2="669.8" stroke="#222222" stroke-width="1.25"/>
<line x1="534.6" y1="703.1" x2="534.6" y2="669" stroke="#222222" stroke-width="1.25"/>
<line x1="536.2" y1="703.1" x2="536.2" y2="670.8" stroke="#222222" stroke-width="1.25"/>
<line x1="539.1" y1="703.1" x2="539.1" y2="675" stroke="#222222" stroke-width="1.25"/>
<line x1="541" y1="703.1" x2="541" y2="690" stroke="#222222" stroke-width="1.25"/>
<line x1="543.4" y1="703.1" x2="543.4" y2="683.1" stroke="#222222" stroke-width="1.25"/>
<line x1="545.8" y1="703.1" x2="545.8" y2="680" stroke="#222222" stroke-width="1.25"/>
<line x1="549" y1="703.1" x2="549" y2="692" stroke="#222222" stroke-width="1.25"/>
<line x1="552" y1="703.1" x2="552" y2="690.5" stroke="#222222" stroke-width="1.25"/>
<line x1="553.6" y1="703.1" x2="553.6" y2="684" stroke="#222222" stroke-width="1.25"/>
<line x1="558" y1="703.1" x2="558" y2="694" stroke="#222222" stroke-width="1.25"/>
<line x1="564.2" y1="703.1" x2="564.2" y2="690.2" stroke="#222222" stroke-width="1.25"/>
<line x1="565.9" y1="703.1" x2="565.9" y2="690.2" stroke="#222222" stroke-width="1.25"/>
<line x1="570" y1="703.1" x2="570" y2="695" stroke="#222222" stroke-width="1.25"/>
<line x1="574.5" y1="703.1" x2="574.5" y2="694" stroke="#222222" stroke-width="1.25"/>
<line x1="580" y1="703.1" x2="580" y2="697" stroke="#222222" stroke-width="1.25"/>
<line x1="590.4" y1="703.1" x2="590.4" y2="691.3" stroke="#222222" stroke-width="1.25"/>
<line x1="600" y1="703.1" x2="600" y2="698" stroke="#222222" stroke-width="1.25"/>
<line x1="611.3" y1="703.1" x2="611.3" y2="691.4" stroke="#222222" stroke-width="1.25"/>
<line x1="620" y1="703.1" x2="620" y2="698" stroke="#222222" stroke-width="1.25"/>
<line x1="630" y1="703.1" x2="630" y2="698.5" stroke="#222222" stroke-width="1.25"/>
<line x1="637.3" y1="703.1" x2="637.3" y2="694.3" stroke="#222222" stroke-width="1.25"/>
<line x1="643.4" y1="703.1" x2="643.4" y2="697.2" stroke="#222222" stroke-width="1.25"/>
<line x1="647" y1="703.1" x2="647" y2="695.8" stroke="#222222" stroke-width="1.25"/>
<line x1="655" y1="703.1" x2="655" y2="699" stroke="#222222" stroke-width="1.25"/>
<line x1="664" y1="703.1" x2="664" y2="699" stroke="#222222" stroke-width="1.25"/>
<line x1="672.3" y1="703.1" x2="672.3" y2="697.5" stroke="#222222" stroke-width="1.25"/>
<text x="378.3" y="694" font-family='"Liberation Sans", sans-serif' font-size="12" fill="#d9253a" stroke="#d9253a" stroke-width="0.3"><tspan font-size="12">y</tspan><tspan font-size="7.2" dy="4.1">5</tspan></text>
<text x="386.3" y="693.8" font-family='"Liberation Sans", sans-serif' font-size="13" fill="#3b2fd6" stroke="#3b2fd6" stroke-width="0.3"><tspan font-size="13">b</tspan><tspan font-size="7.8" dy="4.1">3</tspan></text>
<text x="396.4" y="686.6" font-family='"Liberation Sans", sans-serif' font-size="12" fill="#d9253a" stroke="#d9253a" stroke-width="0.3"><tspan font-size="12">y</tspan><tspan font-size="7.2" dy="4.1">3</tspan></text>
<text x="410.6" y="683" font-family='"Liberation Sans", sans-serif' font-size="12" fill="#d9253a" stroke="#d9253a" stroke-width="0.3"><tspan font-size="12">y</tspan><tspan font-size="7.2" dy="4.1">4</tspan></text>
<text x="430.2" y="658" font-family='"Liberation Sans", sans-serif' font-size="12" fill="#d9253a" stroke="#d9253a" stroke-width="0.3"><tspan font-size="12">y</tspan><tspan font-size="7.2" dy="4.1">5</tspan></text>
<text x="451.8" y="665" font-family='"Liberation Sans", sans-serif' font-size="12" fill="#d9253a" stroke="#d9253a" stroke-width="0.3"><tspan font-size="12">y</tspan><tspan font-size="7.2" dy="4.1">6</tspan></text>
<text x="460.2" y="679.6" font-family='"Liberation Sans", sans-serif' font-size="11" fill="#3b2fd6" stroke="#3b2fd6" stroke-width="0.3"><tspan font-size="11">b</tspan><tspan font-size="6.6" dy="4.1">10</tspan><tspan font-size="6.6" dy="-7.5">+2</tspan></text>
<text x="458.3" y="645.4" font-family='"Liberation Sans", sans-serif' font-size="11" fill="#3b2fd6" stroke="#3b2fd6" stroke-width="0.3"><tspan font-size="11">b</tspan><tspan font-size="6.6" dy="4.1">11</tspan><tspan font-size="6.6" dy="-7.5">+2</tspan></text>
<text x="475.1" y="626.4" font-family='"Liberation Sans", sans-serif' font-size="12.5" fill="#d9253a" stroke="#d9253a" stroke-width="0.3"><tspan font-size="12.5">y</tspan><tspan font-size="7.5" dy="4.1">7</tspan></text>
<text x="480.5" y="642.6" font-family='"Liberation Sans", sans-serif' font-size="11" fill="#3b2fd6" stroke="#3b2fd6" stroke-width="0.3"><tspan font-size="11">b</tspan><tspan font-size="6.6" dy="4.1">12</tspan><tspan font-size="6.6" dy="-7.5">+2</tspan></text>
<text x="495.2" y="656.4" font-family='"Liberation Sans", sans-serif' font-size="14" fill="#3b2fd6" stroke="#3b2fd6" stroke-width="0.3"><tspan font-size="14">b</tspan><tspan font-size="8.4" dy="4.1">5</tspan></text>
<text x="503.1" y="603" font-family='"Liberation Sans", sans-serif' font-size="12.5" fill="#d9253a" stroke="#d9253a" stroke-width="0.3"><tspan font-size="12.5">y</tspan><tspan font-size="7.5" dy="4.1">8</tspan></text>
<text x="511" y="626.8" font-family='"Liberation Sans", sans-serif' font-size="11" fill="#3b2fd6" stroke="#3b2fd6" stroke-width="0.3"><tspan font-size="11">b</tspan><tspan font-size="6.6" dy="4.1">13</tspan><tspan font-size="6.6" dy="-7.5">+2</tspan></text>
<text x="521.2" y="643.1" font-family='"Liberation Sans", sans-serif' font-size="11" fill="#3b2fd6" stroke="#3b2fd6" stroke-width="0.3"><tspan font-size="11">b</tspan><tspan font-size="6.6" dy="4.1">14</tspan><tspan font-size="6.6" dy="-7.5">+2</tspan></text>
<text x="534.7" y="651.3" font-family='"Liberation Sans", sans-serif' font-size="11" fill="#3b2fd6" stroke="#3b2fd6" stroke-width="0.3"><tspan font-size="11">b</tspan><tspan font-size="6.6" dy="4.1">15</tspan><tspan font-size="6.6" dy="-7.5">+2</tspan></text>
<text x="539.2" y="666.6" font-family='"Liberation Sans", sans-serif' font-size="11" fill="#3b2fd6" stroke="#3b2fd6" stroke-width="0.3"><tspan font-size="11">b</tspan><tspan font-size="6.6" dy="4.1">16</tspan><tspan font-size="6.6" dy="-7.5">+2</tspan></text>
<text x="544.8" y="633.9" font-family='"Liberation Sans", sans-serif' font-size="14" fill="#3b2fd6" stroke="#3b2fd6" stroke-width="0.3"><tspan font-size="14">b</tspan><tspan font-size="8.4" dy="4.1">7</tspan></text>
<text x="559" y="653.4" font-family='"Liberation Sans", sans-serif' font-size="11" fill="#3b2fd6" stroke="#3b2fd6" stroke-width="0.3"><tspan font-size="11">b</tspan><tspan font-size="6.6" dy="4.1">17</tspan><tspan font-size="6.6" dy="-7.5">+2</tspan></text>
<text x="555.5" y="672.8" font-family='"Liberation Sans", sans-serif' font-size="11" fill="#3b2fd6" stroke="#3b2fd6" stroke-width="0.3"><tspan font-size="11">b</tspan><tspan font-size="6.6" dy="4.1">18</tspan><tspan font-size="6.6" dy="-7.5">+2</tspan></text>
<text x="527.8" y="665.3" font-family='"Liberation Sans", sans-serif' font-size="11" fill="#d9253a" stroke="#d9253a" stroke-width="0.3"><tspan font-size="11">y</tspan><tspan font-size="6.6" dy="4.1">9</tspan></text>
<text x="514.3" y="689.1" font-family='"Liberation Sans", sans-serif' font-size="12" fill="#3b2fd6" stroke="#3b2fd6" stroke-width="0.3"><tspan font-size="12">b</tspan><tspan font-size="7.2" dy="4.1">6</tspan></text>
<text x="562" y="684.7" font-family='"Liberation Sans", sans-serif' font-size="12" fill="#d9253a" stroke="#d9253a" stroke-width="0.3"><tspan font-size="12">y</tspan><tspan font-size="7.2" dy="4.1">10</tspan></text>
<text x="570.9" y="681.9" font-family='"Liberation Sans", sans-serif' font-size="11" fill="#3b2fd6" stroke="#3b2fd6" stroke-width="0.3"><tspan font-size="11">b</tspan><tspan font-size="6.6" dy="4.1">19</tspan><tspan font-size="6.6" dy="-7.5">+2</tspan></text>
<text x="584.8" y="686.6" font-family='"Liberation Sans", sans-serif' font-size="12.5" fill="#d9253a" stroke="#d9253a" stroke-width="0.3"><tspan font-size="12.5">y</tspan><tspan font-size="7.5" dy="4.1">11</tspan></text>
<text x="608.5" y="689.1" font-family='"Liberation Sans", sans-serif' font-size="13" fill="#3b2fd6" stroke="#3b2fd6" stroke-width="0.3"><tspan font-size="13">b</tspan><tspan font-size="7.8" dy="4.1">10</tspan></text>
<text x="613.3" y="697" font-family='"Liberation Sans", sans-serif' font-size="12" fill="#d9253a" stroke="#d9253a" stroke-width="0.3"><tspan font-size="12">y</tspan><tspan font-size="7.2" dy="4.1">12</tspan></text>
<text x="630.8" y="691" font-family='"Liberation Sans", sans-serif' font-size="12.5" fill="#d9253a" stroke="#d9253a" stroke-width="0.3"><tspan font-size="12.5">y</tspan><tspan font-size="7.5" dy="4.1">13</tspan></text>
<text x="644.4" y="690.6" font-family='"Liberation Sans", sans-serif' font-size="13" fill="#3b2fd6" stroke="#3b2fd6" stroke-width="0.3"><tspan font-size="13">b</tspan><tspan font-size="7.8" dy="4.1">11</tspan></text>
<text x="665.5" y="695" font-family='"Liberation Sans", sans-serif' font-size="13" fill="#3b2fd6" stroke="#3b2fd6" stroke-width="0.3"><tspan font-size="13">b</tspan><tspan font-size="7.8" dy="4.1">12</tspan></text>
<line x1="474.7" y1="648.4" x2="487.6" y2="662.7" stroke="#3b2fd6" stroke-width="0.9"/>
<line x1="490.7" y1="648.4" x2="498.8" y2="668.8" stroke="#3b2fd6" stroke-width="0.9"/>
<line x1="520.3" y1="631.6" x2="513.5" y2="674.9" stroke="#3b2fd6" stroke-width="0.9"/>
<line x1="551" y1="636" x2="542.8" y2="682" stroke="#3b2fd6" stroke-width="0.9"/>
<line x1="527.4" y1="646.3" x2="525.8" y2="681" stroke="#3b2fd6" stroke-width="0.9"/>
<line x1="538.3" y1="654.5" x2="537" y2="671" stroke="#3b2fd6" stroke-width="0.9"/>
<line x1="548.3" y1="670.8" x2="545.4" y2="685.1" stroke="#3b2fd6" stroke-width="0.9"/>
<line x1="559.1" y1="655.5" x2="554" y2="684" stroke="#3b2fd6" stroke-width="0.9"/>
<line x1="564.6" y1="677" x2="563.2" y2="689.2" stroke="#3b2fd6" stroke-width="0.9"/>
<line x1="576.5" y1="683.5" x2="574.5" y2="690" stroke="#3b2fd6" stroke-width="0.9"/>
<line x1="646.5" y1="692.5" x2="645.5" y2="697" stroke="#3b2fd6" stroke-width="0.9"/>
<text x="401.9" y="561.3" font-family='"Liberation Serif", serif' font-size="12" fill="#444" text-anchor="middle">E</text>
<text x="413.07" y="561.3" font-family='"Liberation Serif", serif' font-size="12" fill="#444" text-anchor="middle">A</text>
<text x="424.24" y="561.3" font-family='"Liberation Serif", serif' font-size="12" fill="#444" text-anchor="middle">N</text>
<text x="435.41" y="561.3" font-family='"Liberation Serif", serif' font-size="12" fill="#444" text-anchor="middle">I</text>
<text x="446.58" y="561.3" font-family='"Liberation Serif", serif' font-size="12" fill="#d9253a" text-anchor="middle" font-weight="bold">R</text>
<text x="457.75" y="561.3" font-family='"Liberation Serif", serif' font-size="12" fill="#444" text-anchor="middle">V</text>
<text x="468.92" y="561.3" font-family='"Liberation Serif", serif' font-size="12" fill="#444" text-anchor="middle">V</text>
<text x="480.09" y="561.3" font-family='"Liberation Serif", serif' font-size="12" fill="#444" text-anchor="middle">S</text>
<text x="491.26" y="561.3" font-family='"Liberation Serif", serif' font-size="12" fill="#444" text-anchor="middle">E</text>
<text x="502.43" y="561.3" font-family='"Liberation Serif", serif' font-size="12" fill="#444" text-anchor="middle">D</text>
<text x="513.6" y="561.3" font-family='"Liberation Serif", serif' font-size="12" fill="#444" text-anchor="middle">F</text>
<text x="524.77" y="561.3" font-family='"Liberation Serif", serif' font-size="12" fill="#444" text-anchor="middle">L</text>
<text x="535.94" y="561.3" font-family='"Liberation Serif", serif' font-size="12" fill="#444" text-anchor="middle">Q</text>
<text x="547.11" y="561.3" font-family='"Liberation Serif", serif' font-size="12" fill="#444" text-anchor="middle">D</text>
<text x="558.28" y="561.3" font-family='"Liberation Serif", serif' font-size="12" fill="#444" text-anchor="middle">V</text>
<text x="569.45" y="561.3" font-family='"Liberation Serif", serif' font-size="12" fill="#444" text-anchor="middle">S</text>
<text x="580.62" y="561.3" font-family='"Liberation Serif", serif' font-size="12" fill="#444" text-anchor="middle">A</text>
<text x="591.79" y="561.3" font-family='"Liberation Serif", serif' font-size="12" fill="#444" text-anchor="middle">S</text>
<text x="602.96" y="561.3" font-family='"Liberation Serif", serif' font-size="12" fill="#444" text-anchor="middle">T</text>
<text x="614.13" y="561.3" font-family='"Liberation Serif", serif' font-size="12" fill="#444" text-anchor="middle">K</text>
<text x="397.6" y="556" font-family='"Liberation Serif", serif' font-size="7.5" fill="#444" text-anchor="end">448</text>
<text x="618.6" y="556" font-family='"Liberation Serif", serif' font-size="7.5" fill="#444">463</text>
<polyline points="475.5,554.6 475.5,540.3 486.07,540.3" fill="none" stroke="#d9253a" stroke-width="1.3"/>
<polyline points="486.67,554.6 486.67,540.3 497.24,540.3" fill="none" stroke="#d9253a" stroke-width="1.3"/>
<polyline points="497.84,554.6 497.84,540.3 508.41,540.3" fill="none" stroke="#d9253a" stroke-width="1.3"/>
<polyline points="509.01,554.6 509.01,540.3 519.58,540.3" fill="none" stroke="#d9253a" stroke-width="1.3"/>
<polyline points="520.18,554.6 520.18,540.3 530.75,540.3" fill="none" stroke="#d9253a" stroke-width="1.3"/>
<polyline points="531.36,554.6 531.36,540.3 541.92,540.3" fill="none" stroke="#d9253a" stroke-width="1.3"/>
<polyline points="542.52,554.6 542.52,540.3 553.09,540.3" fill="none" stroke="#d9253a" stroke-width="1.3"/>
<polyline points="553.69,554.6 553.69,540.3 564.26,540.3" fill="none" stroke="#d9253a" stroke-width="1.3"/>
<polyline points="564.87,554.6 564.87,540.3 575.43,540.3" fill="none" stroke="#d9253a" stroke-width="1.3"/>
<polyline points="576.03,554.6 576.03,540.3 586.6,540.3" fill="none" stroke="#d9253a" stroke-width="1.3"/>
<polyline points="587.2,554.6 587.2,540.3 597.77,540.3" fill="none" stroke="#d9253a" stroke-width="1.3"/>
<polyline points="598.38,554.6 598.38,540.3 608.94,540.3" fill="none" stroke="#d9253a" stroke-width="1.3"/>
<polyline points="420.45,569.5 430.82,569.5 430.82,554.6" fill="none" stroke="#3b2fd6" stroke-width="1.3"/>
<polyline points="442.79,569.5 453.16,569.5 453.16,554.6" fill="none" stroke="#3b2fd6" stroke-width="1.3"/>
<polyline points="453.96,569.5 464.33,569.5 464.33,554.6" fill="none" stroke="#3b2fd6" stroke-width="1.3"/>
<polyline points="465.13,569.5 475.5,569.5 475.5,554.6" fill="none" stroke="#3b2fd6" stroke-width="1.3"/>
<polyline points="498.64,569.5 509.01,569.5 509.01,554.6" fill="none" stroke="#3b2fd6" stroke-width="1.3"/>
<polyline points="509.81,569.5 520.18,569.5 520.18,554.6" fill="none" stroke="#3b2fd6" stroke-width="1.3"/>
<polyline points="520.99,569.5 531.36,569.5 531.36,554.6" fill="none" stroke="#3b2fd6" stroke-width="1.3"/>
<polyline points="532.15,569.5 542.52,569.5 542.52,554.6" fill="none" stroke="#3b2fd6" stroke-width="1.3"/>
<polyline points="543.32,569.5 553.69,569.5 553.69,554.6" fill="none" stroke="#3b2fd6" stroke-width="1.3"/>
<polyline points="554.5,569.5 564.87,569.5 564.87,554.6" fill="none" stroke="#3b2fd6" stroke-width="1.3"/>
<polyline points="565.66,569.5 576.03,569.5 576.03,554.6" fill="none" stroke="#3b2fd6" stroke-width="1.3"/>
<polyline points="576.83,569.5 587.2,569.5 587.2,554.6" fill="none" stroke="#3b2fd6" stroke-width="1.3"/>
<polyline points="588,569.5 598.38,569.5 598.38,554.6" fill="none" stroke="#3b2fd6" stroke-width="1.3"/>
<polyline points="599.17,569.5 609.54,569.5 609.54,554.6" fill="none" stroke="#3b2fd6" stroke-width="1.3"/>
<rect x="574.7" y="586.2" width="65.4" height="21.1" fill="#b0b0b0"/>
<text x="578.9" y="599.8" font-family='"Liberation Sans", sans-serif' font-size="12.5" fill="#1a1a1a" stroke="#1a1a1a" stroke-width="0.25" textLength="57.1" lengthAdjust="spacingAndGlyphs"><tspan font-style="italic">Hs</tspan><tspan>NudT16</tspan></text>
</g>
</svg>
</body></html>
